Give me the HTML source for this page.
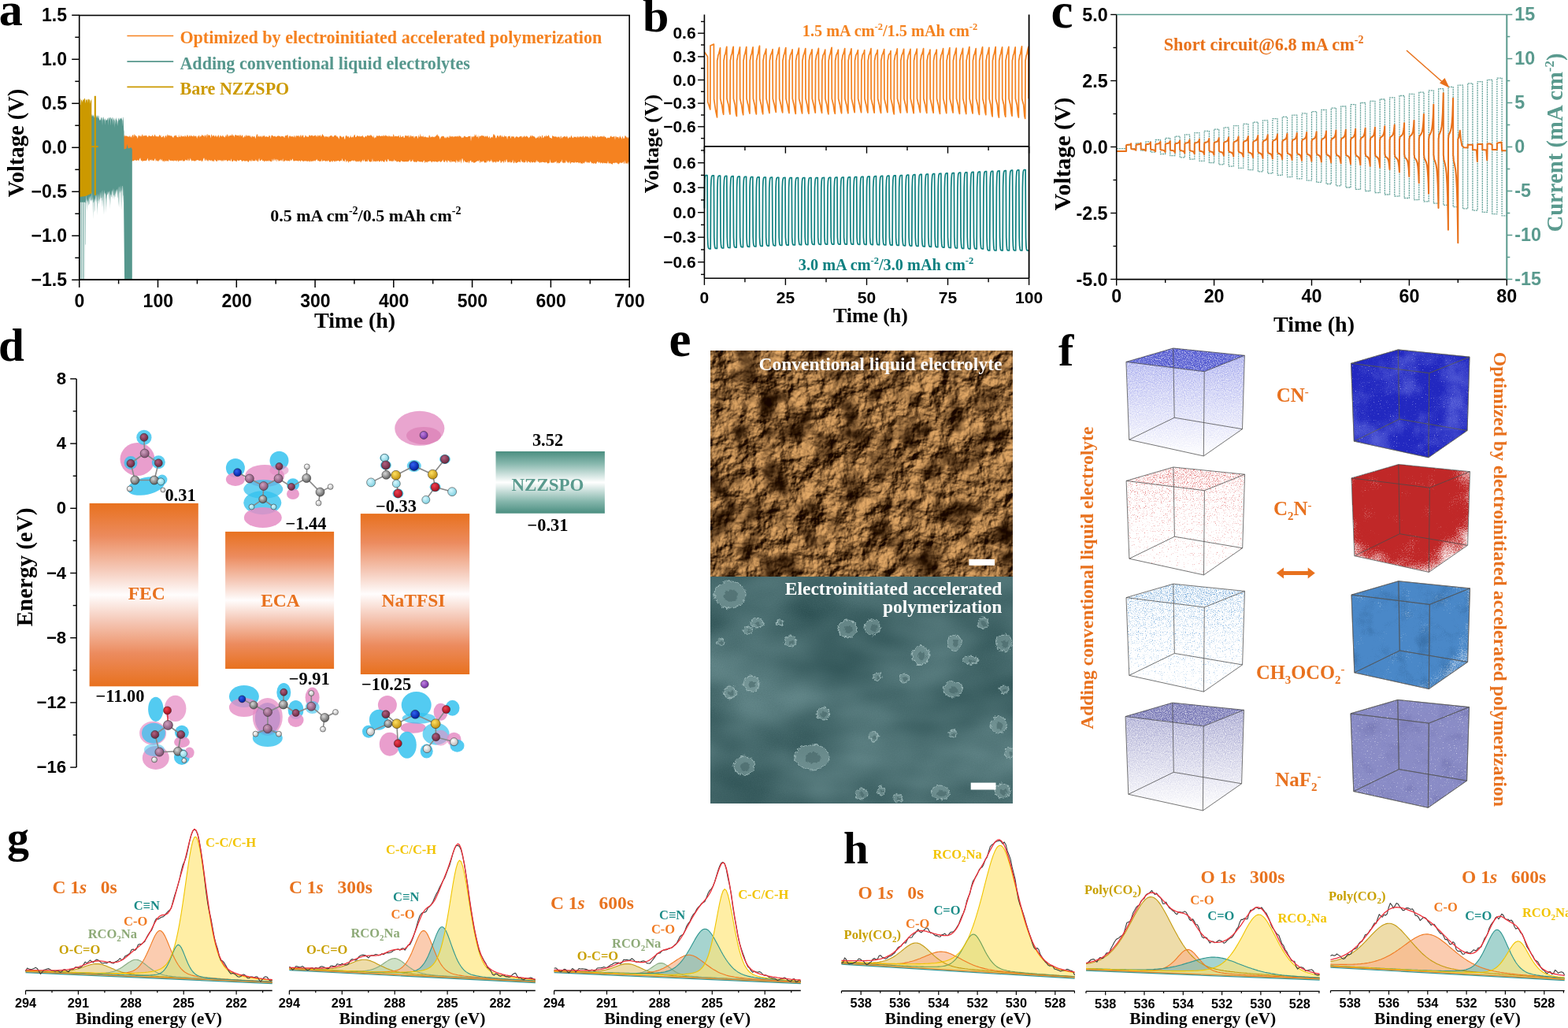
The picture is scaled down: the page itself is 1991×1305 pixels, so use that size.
<!DOCTYPE html>
<html><head><meta charset="utf-8"><title>Figure</title>
<style>html,body{margin:0;padding:0;background:#fff;} svg{display:block;}</style>
</head><body>
<svg width="1991" height="1305" viewBox="0 0 1991 1305">
<defs><radialGradient id="gO" cx="0.38" cy="0.35" r="0.65"><stop offset="0" stop-color="#B06080"/><stop offset="1" stop-color="#6A2840"/></radialGradient><radialGradient id="gOr" cx="0.38" cy="0.35" r="0.65"><stop offset="0" stop-color="#F04050"/><stop offset="1" stop-color="#A01020"/></radialGradient><radialGradient id="gC" cx="0.38" cy="0.35" r="0.65"><stop offset="0" stop-color="#D8D8D8"/><stop offset="1" stop-color="#606060"/></radialGradient><radialGradient id="gCp" cx="0.38" cy="0.35" r="0.65"><stop offset="0" stop-color="#D0A0C0"/><stop offset="1" stop-color="#805070"/></radialGradient><radialGradient id="gH" cx="0.38" cy="0.35" r="0.65"><stop offset="0" stop-color="#FFFFFF"/><stop offset="1" stop-color="#B8B8B8"/></radialGradient><radialGradient id="gN" cx="0.38" cy="0.35" r="0.65"><stop offset="0" stop-color="#3060F0"/><stop offset="1" stop-color="#0020A0"/></radialGradient><radialGradient id="gF" cx="0.38" cy="0.35" r="0.65"><stop offset="0" stop-color="#D8F8FF"/><stop offset="1" stop-color="#80D0E0"/></radialGradient><radialGradient id="gS" cx="0.38" cy="0.35" r="0.65"><stop offset="0" stop-color="#FFE060"/><stop offset="1" stop-color="#C09010"/></radialGradient><radialGradient id="gNa" cx="0.38" cy="0.35" r="0.65"><stop offset="0" stop-color="#C080E0"/><stop offset="1" stop-color="#7030A0"/></radialGradient><linearGradient id="barO" x1="0" y1="0" x2="0" y2="1"><stop offset="0" stop-color="#E8711E"/><stop offset="0.18" stop-color="#EC8B5E"/><stop offset="0.36" stop-color="#F5C9B8"/><stop offset="0.5" stop-color="#FFFDFD"/><stop offset="0.64" stop-color="#F5C9B8"/><stop offset="0.82" stop-color="#EC8B5E"/><stop offset="1" stop-color="#E8711E"/></linearGradient><linearGradient id="barT" x1="0" y1="0" x2="0" y2="1"><stop offset="0" stop-color="#4A8E80"/><stop offset="0.2" stop-color="#88B8AE"/><stop offset="0.5" stop-color="#FFFFFF"/><stop offset="0.8" stop-color="#88B8AE"/><stop offset="1" stop-color="#4A8E80"/></linearGradient><clipPath id="clipTop"><rect x="902.2" y="445.8" width="383.3" height="286.8"/></clipPath><clipPath id="clipBot"><rect x="902.2" y="732.6" width="383.3" height="287.2"/></clipPath><filter id="semTop" x="0" y="0" width="100%" height="100%" color-interpolation-filters="sRGB"><feTurbulence type="fractalNoise" baseFrequency="0.035" numOctaves="8" seed="9" result="n"/><feDiffuseLighting in="n" surfaceScale="10" diffuseConstant="0.88" lighting-color="#fff" result="lit"><feDistantLight azimuth="225" elevation="40"/></feDiffuseLighting><feTurbulence type="fractalNoise" baseFrequency="0.03" numOctaves="4" seed="4" result="n2"/><feColorMatrix in="n2" type="matrix" values="2.6 0 0 0 -0.36  2.6 0 0 0 -0.36  2.6 0 0 0 -0.36  0 0 0 0 1" result="shade"/><feComposite in="lit" in2="shade" operator="arithmetic" k1="1" k2="0" k3="0" k4="0" result="m"/><feColorMatrix in="m" type="matrix" values="0.92 0 0 0 0.09  0.74 0 0 0 0.02  0.50 0 0 0 -0.03  0 0 0 0 1"/></filter><filter id="semBot" x="0" y="0" width="100%" height="100%" color-interpolation-filters="sRGB"><feTurbulence type="fractalNoise" baseFrequency="0.007 0.012" numOctaves="3" seed="21" result="n"/><feTurbulence type="fractalNoise" baseFrequency="0.8" numOctaves="1" seed="2" result="g"/><feComposite in="n" in2="g" operator="arithmetic" k1="0" k2="1" k3="0.12" k4="-0.06" result="ng"/><feColorMatrix in="ng" type="matrix" values="0.32 0 0 0 0.145  0.32 0 0 0 0.285  0.32 0 0 0 0.295  0 0 0 0 1"/></filter><filter id="rough" x="-30%" y="-30%" width="160%" height="160%"><feTurbulence type="fractalNoise" baseFrequency="0.25" numOctaves="2" seed="3" result="t"/><feDisplacementMap in="SourceGraphic" in2="t" scale="6" xChannelSelector="R" yChannelSelector="G"/></filter><linearGradient id="cg1" x1="0" y1="0" x2="0" y2="1"><stop offset="0" stop-color="#7A80E4" stop-opacity="0.62"/><stop offset="0.3" stop-color="#7A80E4" stop-opacity="0.42"/><stop offset="1" stop-color="#7A80E4" stop-opacity="0.06"/></linearGradient><filter id="cf1" x="0" y="0" width="100%" height="100%" color-interpolation-filters="sRGB"><feTurbulence type="fractalNoise" baseFrequency="0.9" numOctaves="2" seed="11" result="t"/><feComposite in="SourceAlpha" in2="t" operator="arithmetic" k1="2.0" k2="0" k3="0" k4="-0.05" result="m"/><feComponentTransfer in="SourceGraphic" result="op"><feFuncA type="linear" slope="0" intercept="1"/></feComponentTransfer><feComposite in="op" in2="m" operator="in"/></filter><linearGradient id="cg2" x1="0" y1="0" x2="0" y2="1"><stop offset="0" stop-color="#2228C0" stop-opacity="1.0"/><stop offset="1" stop-color="#2228C0" stop-opacity="1.0"/></linearGradient><filter id="cf2" x="0" y="0" width="100%" height="100%" color-interpolation-filters="sRGB"><feTurbulence type="fractalNoise" baseFrequency="0.75" numOctaves="2" seed="12" result="t"/><feComposite in="SourceAlpha" in2="t" operator="arithmetic" k1="0" k2="3.0" k3="3.0" k4="-2.91" result="m"/><feComponentTransfer in="SourceGraphic" result="op"><feFuncA type="linear" slope="0" intercept="1"/></feComponentTransfer><feComposite in="op" in2="m" operator="in"/></filter><filter id="mt1" x="0" y="0" width="100%" height="100%" color-interpolation-filters="sRGB"><feTurbulence type="fractalNoise" baseFrequency="0.03" numOctaves="3" seed="31" result="t"/><feTurbulence type="fractalNoise" baseFrequency="0.9" numOctaves="1" seed="38" result="g"/><feComposite in="t" in2="g" operator="arithmetic" k1="0" k2="0.8" k3="0.35" k4="-0.06" result="tg"/><feColorMatrix in="tg" type="matrix" values="0 0 0 0 0  0 0 0 0 0  0 0 0 0 0  2.4 0 0 0 -0.88" result="a"/><feComposite in="SourceGraphic" in2="a" operator="in"/></filter><linearGradient id="cg3" x1="0" y1="0" x2="0" y2="1"><stop offset="0" stop-color="#D83838" stop-opacity="0.46"/><stop offset="0.5" stop-color="#D83838" stop-opacity="0.37"/><stop offset="1" stop-color="#D83838" stop-opacity="0.3"/></linearGradient><filter id="cf3" x="0" y="0" width="100%" height="100%" color-interpolation-filters="sRGB"><feTurbulence type="fractalNoise" baseFrequency="0.9" numOctaves="2" seed="13" result="t"/><feComposite in="SourceAlpha" in2="t" operator="arithmetic" k1="0" k2="2.4" k3="2.4" k4="-2.328" result="m"/><feComponentTransfer in="SourceGraphic" result="op"><feFuncA type="linear" slope="0" intercept="1"/></feComponentTransfer><feComposite in="op" in2="m" operator="in"/></filter><radialGradient id="cg4" cx="0.45" cy="0.35" r="0.75"><stop offset="0" stop-color="#C02828" stop-opacity="1.0"/><stop offset="0.55" stop-color="#C02828" stop-opacity="1.0"/><stop offset="1" stop-color="#C02828" stop-opacity="0.45"/></radialGradient><filter id="cf4" x="0" y="0" width="100%" height="100%" color-interpolation-filters="sRGB"><feTurbulence type="fractalNoise" baseFrequency="0.75" numOctaves="2" seed="14" result="t"/><feTurbulence type="fractalNoise" baseFrequency="0.04" numOctaves="2" seed="64" result="tl"/><feComposite in="t" in2="tl" operator="arithmetic" k1="0" k2="0.5" k3="0.5" k4="0" result="tt"/><feComposite in="SourceAlpha" in2="tt" operator="arithmetic" k1="0" k2="2.6" k3="2.6" k4="-2.522" result="m"/><feComponentTransfer in="SourceGraphic" result="op"><feFuncA type="linear" slope="0" intercept="1"/></feComponentTransfer><feComposite in="op" in2="m" operator="in"/></filter><linearGradient id="cg5" x1="0" y1="0" x2="0" y2="1"><stop offset="0" stop-color="#4A90D0" stop-opacity="0.52"/><stop offset="0.5" stop-color="#4A90D0" stop-opacity="0.41"/><stop offset="1" stop-color="#4A90D0" stop-opacity="0.31"/></linearGradient><filter id="cf5" x="0" y="0" width="100%" height="100%" color-interpolation-filters="sRGB"><feTurbulence type="fractalNoise" baseFrequency="0.9" numOctaves="2" seed="15" result="t"/><feComposite in="SourceAlpha" in2="t" operator="arithmetic" k1="0" k2="2.4" k3="2.4" k4="-2.328" result="m"/><feComponentTransfer in="SourceGraphic" result="op"><feFuncA type="linear" slope="0" intercept="1"/></feComponentTransfer><feComposite in="op" in2="m" operator="in"/></filter><radialGradient id="cg6" cx="0.4" cy="0.4" r="0.8"><stop offset="0" stop-color="#4A88C8" stop-opacity="1.0"/><stop offset="0.6" stop-color="#4A88C8" stop-opacity="1.0"/><stop offset="1" stop-color="#4A88C8" stop-opacity="0.6"/></radialGradient><filter id="cf6" x="0" y="0" width="100%" height="100%" color-interpolation-filters="sRGB"><feTurbulence type="fractalNoise" baseFrequency="0.75" numOctaves="2" seed="16" result="t"/><feTurbulence type="fractalNoise" baseFrequency="0.04" numOctaves="2" seed="66" result="tl"/><feComposite in="t" in2="tl" operator="arithmetic" k1="0" k2="0.44999999999999996" k3="0.55" k4="0" result="tt"/><feComposite in="SourceAlpha" in2="tt" operator="arithmetic" k1="0" k2="2.6" k3="2.6" k4="-2.522" result="m"/><feComponentTransfer in="SourceGraphic" result="op"><feFuncA type="linear" slope="0" intercept="1"/></feComponentTransfer><feComposite in="op" in2="m" operator="in"/></filter><filter id="mt2" x="0" y="0" width="100%" height="100%" color-interpolation-filters="sRGB"><feTurbulence type="fractalNoise" baseFrequency="0.04" numOctaves="3" seed="33" result="t"/><feTurbulence type="fractalNoise" baseFrequency="0.9" numOctaves="1" seed="40" result="g"/><feComposite in="t" in2="g" operator="arithmetic" k1="0" k2="0.8" k3="0.35" k4="-0.06" result="tg"/><feColorMatrix in="tg" type="matrix" values="0 0 0 0 0  0 0 0 0 0  0 0 0 0 0  2.2 0 0 0 -1.0" result="a"/><feComposite in="SourceGraphic" in2="a" operator="in"/></filter><linearGradient id="cg7" x1="0" y1="0" x2="0" y2="1"><stop offset="0" stop-color="#8080BC" stop-opacity="0.65"/><stop offset="0.4" stop-color="#8080BC" stop-opacity="0.4"/><stop offset="1" stop-color="#8080BC" stop-opacity="0.05"/></linearGradient><filter id="cf7" x="0" y="0" width="100%" height="100%" color-interpolation-filters="sRGB"><feTurbulence type="fractalNoise" baseFrequency="0.9" numOctaves="2" seed="17" result="t"/><feComposite in="SourceAlpha" in2="t" operator="arithmetic" k1="2.0" k2="0" k3="0" k4="-0.05" result="m"/><feComponentTransfer in="SourceGraphic" result="op"><feFuncA type="linear" slope="0" intercept="1"/></feComponentTransfer><feComposite in="op" in2="m" operator="in"/></filter><radialGradient id="cg8" cx="0.5" cy="0.45" r="0.8"><stop offset="0" stop-color="#8A8CC6" stop-opacity="1.0"/><stop offset="0.6" stop-color="#8A8CC6" stop-opacity="0.95"/><stop offset="1" stop-color="#8A8CC6" stop-opacity="0.75"/></radialGradient><filter id="cf8" x="0" y="0" width="100%" height="100%" color-interpolation-filters="sRGB"><feTurbulence type="fractalNoise" baseFrequency="0.75" numOctaves="2" seed="18" result="t"/><feComposite in="SourceAlpha" in2="t" operator="arithmetic" k1="0" k2="3.0" k3="3.0" k4="-2.91" result="m"/><feComponentTransfer in="SourceGraphic" result="op"><feFuncA type="linear" slope="0" intercept="1"/></feComponentTransfer><feComposite in="op" in2="m" operator="in"/></filter><filter id="mt3" x="0" y="0" width="100%" height="100%" color-interpolation-filters="sRGB"><feTurbulence type="fractalNoise" baseFrequency="0.035" numOctaves="3" seed="35" result="t"/><feTurbulence type="fractalNoise" baseFrequency="0.9" numOctaves="1" seed="42" result="g"/><feComposite in="t" in2="g" operator="arithmetic" k1="0" k2="0.8" k3="0.35" k4="-0.06" result="tg"/><feColorMatrix in="tg" type="matrix" values="0 0 0 0 0  0 0 0 0 0  0 0 0 0 0  2.2 0 0 0 -1.0" result="a"/><feComposite in="SourceGraphic" in2="a" operator="in"/></filter></defs>
<rect width="1991" height="1305" fill="#fff"/>
<path d="M156.6 172.5 L157.3 173.5 L158 170.8 L158.7 172.9 L159.4 172.7 L160.1 172.1 L160.8 173 L161.5 172.8 L162.2 172.9 L162.9 174 L163.6 173.3 L164.3 173.4 L165 171.5 L165.7 174.5 L166.4 173 L167.1 174.9 L167.8 171.8 L168.5 171.5 L169.2 171.1 L169.9 174.5 L170.6 170.3 L171.2 170.8 L171.9 172.5 L172.6 172.2 L173.3 173.1 L174 173.5 L174.7 175.9 L175.4 173.5 L176.1 171.3 L176.8 172.2 L177.5 173.2 L178.2 171.4 L178.9 173.8 L179.6 172.9 L180.3 171.3 L181 170.3 L181.7 173.5 L182.4 171.9 L183.1 172.7 L183.8 171.8 L184.5 172.4 L185.2 172.1 L185.9 171.5 L186.6 173.2 L187.3 173.5 L188 174.3 L188.7 171.9 L189.4 172 L190.1 172.4 L190.8 173.1 L191.5 173.1 L192.2 172.4 L192.9 173.3 L193.6 170.7 L194.3 172.4 L195 173.5 L195.7 172.8 L196.4 170.6 L197.1 171.4 L197.8 173.2 L198.5 173.2 L199.2 172.6 L199.9 173.8 L200.6 173.3 L201.3 173.6 L202 172.2 L202.7 170.8 L203.4 173.1 L204.1 171.1 L204.8 174.6 L205.5 174 L206.2 174.2 L206.9 172.4 L207.6 172.6 L208.3 173.4 L209 175.7 L209.7 172.7 L210.4 172.3 L211.1 172 L211.8 174.5 L212.5 170.3 L213.2 171.4 L213.9 172.8 L214.6 171 L215.3 172.5 L216 172.1 L216.7 172.7 L217.3 172 L218 172.7 L218.7 173.4 L219.4 174 L220.1 175.2 L220.8 173.1 L221.5 172.1 L222.2 172.8 L222.9 171.7 L223.6 171.5 L224.3 173 L225 174.2 L225.7 173.9 L226.4 174.4 L227.1 170.5 L227.8 174.2 L228.5 172.9 L229.2 174.5 L229.9 171.1 L230.6 173 L231.3 172.8 L232 173.8 L232.7 172.8 L233.4 173.4 L234.1 171.5 L234.8 174.3 L235.5 171.5 L236.2 173.7 L236.9 173.4 L237.6 171.2 L238.3 171.3 L239 173.7 L239.7 173.4 L240.4 171.4 L241.1 172.6 L241.8 173.4 L242.5 171.1 L243.2 173.1 L243.9 172.6 L244.6 173.6 L245.3 171.4 L246 174.1 L246.7 171.4 L247.4 173 L248.1 173.3 L248.8 172 L249.5 173.5 L250.2 176.1 L250.9 172.3 L251.6 173.7 L252.3 171.9 L253 171.5 L253.7 174.6 L254.4 173.2 L255.1 171.9 L255.8 173.4 L256.5 170.6 L257.2 172.3 L257.9 171.6 L258.6 173.6 L259.3 170.8 L260 174.2 L260.7 172.1 L261.4 172.1 L262.1 170 L262.8 174.9 L263.5 169.9 L264.1 170.8 L264.8 172.4 L265.5 171.3 L266.2 171.6 L266.9 172.5 L267.6 175.4 L268.3 170.7 L269 170.7 L269.7 173.4 L270.4 172.4 L271.1 171.6 L271.8 172.1 L272.5 173.8 L273.2 172.7 L273.9 171.3 L274.6 173.2 L275.3 174.2 L276 171.5 L276.7 173.8 L277.4 170.8 L278.1 172.8 L278.8 174.9 L279.5 172.2 L280.2 171.5 L280.9 172.9 L281.6 173.5 L282.3 172.6 L283 171.3 L283.7 173.4 L284.4 173.4 L285.1 173.8 L285.8 174.8 L286.5 171.2 L287.2 173.7 L287.9 171.3 L288.6 170.2 L289.3 171.9 L290 174.1 L290.7 171.8 L291.4 172.8 L292.1 172.1 L292.8 171.6 L293.5 172.5 L294.2 171.5 L294.9 169.7 L295.6 172.6 L296.3 172.3 L297 171.4 L297.7 174.6 L298.4 171.4 L299.1 171 L299.8 171.3 L300.5 172.3 L301.2 172.3 L301.9 171.5 L302.6 172.4 L303.3 171.1 L304 173.7 L304.7 171.2 L305.4 170.9 L306.1 173.1 L306.8 172.7 L307.5 171.1 L308.2 172.2 L308.9 175.1 L309.6 174.3 L310.3 173.3 L310.9 171.8 L311.6 174.2 L312.3 171 L313 171.8 L313.7 173.5 L314.4 171.6 L315.1 172.8 L315.8 172.1 L316.5 172 L317.2 173.7 L317.9 171.4 L318.6 174 L319.3 174.7 L320 172.2 L320.7 173 L321.4 174 L322.1 172.7 L322.8 173.8 L323.5 172.8 L324.2 176.3 L324.9 174.1 L325.6 171.7 L326.3 170 L327 171.1 L327.7 174 L328.4 173.1 L329.1 172 L329.8 174 L330.5 173.4 L331.2 172.1 L331.9 173.2 L332.6 174.4 L333.3 171.8 L334 173.8 L334.7 172.3 L335.4 171.9 L336.1 172.4 L336.8 174.2 L337.5 173.2 L338.2 173.4 L338.9 173.1 L339.6 173.8 L340.3 174 L341 173.7 L341.7 171.7 L342.4 172.3 L343.1 173 L343.8 176.2 L344.5 171.9 L345.2 171.6 L345.9 172 L346.6 172.4 L347.3 173 L348 173.5 L348.7 172.5 L349.4 172.5 L350.1 174 L350.8 173.6 L351.5 173.4 L352.2 172.2 L352.9 173.1 L353.6 171.8 L354.3 173.4 L355 171.9 L355.7 173.1 L356.4 173.9 L357 173.3 L357.7 172.4 L358.4 172.7 L359.1 173.5 L359.8 173.1 L360.5 173.7 L361.2 175.2 L361.9 172.6 L362.6 171.9 L363.3 172.4 L364 172.1 L364.7 171.2 L365.4 171.1 L366.1 175.9 L366.8 173.3 L367.5 172.8 L368.2 171.8 L368.9 173.7 L369.6 172.8 L370.3 173.8 L371 172.8 L371.7 173.3 L372.4 174.2 L373.1 171.6 L373.8 174.8 L374.5 171.6 L375.2 175.1 L375.9 172.6 L376.6 171.9 L377.3 173.1 L378 171.9 L378.7 172.5 L379.4 171.9 L380.1 174.5 L380.8 172.4 L381.5 171 L382.2 174.6 L382.9 170.8 L383.6 173.2 L384.3 172.1 L385 170.9 L385.7 174.5 L386.4 174.5 L387.1 173.7 L387.8 171.3 L388.5 172.6 L389.2 173.1 L389.9 174.1 L390.6 173.3 L391.3 174.1 L392 173.2 L392.7 171.2 L393.4 171.8 L394.1 171.9 L394.8 173.1 L395.5 171.2 L396.2 172.5 L396.9 171.2 L397.6 173.3 L398.3 172.4 L399 172.3 L399.7 172.2 L400.4 171.4 L401.1 171.9 L401.8 174.1 L402.5 172.4 L403.2 170.9 L403.8 174.2 L404.5 171.6 L405.2 172.6 L405.9 172.4 L406.6 170.8 L407.3 173.3 L408 173.5 L408.7 171.5 L409.4 169.8 L410.1 171.8 L410.8 171.9 L411.5 173 L412.2 174.7 L412.9 172.5 L413.6 173.6 L414.3 173.3 L415 173.3 L415.7 174.1 L416.4 172.8 L417.1 174.9 L417.8 173.2 L418.5 173.3 L419.2 172.3 L419.9 172.3 L420.6 172.2 L421.3 171.6 L422 174 L422.7 173.1 L423.4 173.9 L424.1 172.4 L424.8 171.4 L425.5 172.6 L426.2 171.1 L426.9 172.4 L427.6 173.5 L428.3 173.1 L429 174.2 L429.7 174.8 L430.4 176.8 L431.1 173.4 L431.8 172 L432.5 172.7 L433.2 173 L433.9 174.3 L434.6 174.5 L435.3 173.6 L436 173.1 L436.7 173.6 L437.4 176.2 L438.1 177 L438.8 172.3 L439.5 172.5 L440.2 171.5 L440.9 173.8 L441.6 173.5 L442.3 172.8 L443 173.8 L443.7 175.4 L444.4 174 L445.1 171.6 L445.8 174.1 L446.5 174.6 L447.2 174.2 L447.9 173.1 L448.6 174.7 L449.3 171.9 L450 171.6 L450.6 170.6 L451.3 174.6 L452 173.6 L452.7 173.7 L453.4 172 L454.1 172.1 L454.8 173.2 L455.5 173.2 L456.2 172 L456.9 173.8 L457.6 173.1 L458.3 173.3 L459 173.3 L459.7 172.5 L460.4 171.5 L461.1 174.3 L461.8 173 L462.5 175 L463.2 174 L463.9 172.9 L464.6 172.2 L465.3 174 L466 172.4 L466.7 171.5 L467.4 171.7 L468.1 172.5 L468.8 172.5 L469.5 171.7 L470.2 172.5 L470.9 170.5 L471.6 171.9 L472.3 172.8 L473 173.1 L473.7 174.7 L474.4 171.4 L475.1 175.9 L475.8 174.3 L476.5 174.6 L477.2 174.7 L477.9 173.1 L478.6 172 L479.3 172.3 L480 173.2 L480.7 172.4 L481.4 171.8 L482.1 172.2 L482.8 173.3 L483.5 172.7 L484.2 172.6 L484.9 172.6 L485.6 172.9 L486.3 172.4 L487 171 L487.7 173.6 L488.4 172.1 L489.1 172.7 L489.8 170.9 L490.5 172.8 L491.2 172.6 L491.9 172.5 L492.6 173.8 L493.3 171.6 L494 174.1 L494.7 172.2 L495.4 172.5 L496.1 173.5 L496.7 173.8 L497.4 172.6 L498.1 172.9 L498.8 174.1 L499.5 169.9 L500.2 171.4 L500.9 174 L501.6 172.4 L502.3 173.1 L503 172.4 L503.7 173.2 L504.4 173.2 L505.1 172.5 L505.8 173.3 L506.5 171.3 L507.2 174.8 L507.9 173.9 L508.6 171 L509.3 173.7 L510 174.2 L510.7 173.5 L511.4 172.8 L512.1 172.5 L512.8 175 L513.5 174.9 L514.2 172.6 L514.9 171.4 L515.6 172.6 L516.3 172.6 L517 172.5 L517.7 172.6 L518.4 171.7 L519.1 174.9 L519.8 171.1 L520.5 174.5 L521.2 172.5 L521.9 171.3 L522.6 173.6 L523.3 173 L524 173.6 L524.7 172 L525.4 174.1 L526.1 175.7 L526.8 172.5 L527.5 173.8 L528.2 172.6 L528.9 173.1 L529.6 173 L530.3 176.2 L531 174 L531.7 170.9 L532.4 174.5 L533.1 173.1 L533.8 169.5 L534.5 173.4 L535.2 173.5 L535.9 172.3 L536.6 174.1 L537.3 171.8 L538 174.6 L538.7 173.7 L539.4 173.4 L540.1 173.6 L540.8 173.7 L541.5 174.5 L542.2 174.5 L542.9 173.7 L543.5 175.1 L544.2 174.6 L544.9 171.5 L545.6 171.8 L546.3 175 L547 172.9 L547.7 174.1 L548.4 174.2 L549.1 172.8 L549.8 173.7 L550.5 174.3 L551.2 173.3 L551.9 174.6 L552.6 173.3 L553.3 172.6 L554 172.4 L554.7 170.9 L555.4 170.3 L556.1 173.2 L556.8 171.7 L557.5 173.3 L558.2 174.9 L558.9 176.9 L559.6 174.3 L560.3 173.7 L561 172.4 L561.7 173.5 L562.4 172.2 L563.1 173.4 L563.8 172.7 L564.5 175.8 L565.2 173.3 L565.9 175.8 L566.6 175.1 L567.3 173.9 L568 172.9 L568.7 174.4 L569.4 175.2 L570.1 172 L570.8 175.3 L571.5 171.7 L572.2 173.4 L572.9 173.5 L573.6 173.2 L574.3 173.3 L575 172.8 L575.7 174.5 L576.4 172.8 L577.1 174 L577.8 172.9 L578.5 173.1 L579.2 172.9 L579.9 173.7 L580.6 173 L581.3 172.2 L582 174.2 L582.7 172.6 L583.4 172.1 L584.1 173.6 L584.8 172.8 L585.5 173.5 L586.2 175.4 L586.9 174.2 L587.6 174.6 L588.3 175 L589 172.9 L589.7 172.8 L590.3 172.6 L591 174.1 L591.7 173.5 L592.4 174.1 L593.1 174.2 L593.8 173.7 L594.5 173.2 L595.2 173.1 L595.9 172.7 L596.6 173.1 L597.3 172.2 L598 179.5 L598.7 173.3 L599.4 172.9 L600.1 174.7 L600.8 173.1 L601.5 173.3 L602.2 173.6 L602.9 169.9 L603.6 173.1 L604.3 170.3 L605 173.3 L605.7 174 L606.4 173.7 L607.1 170.9 L607.8 176.2 L608.5 173.3 L609.2 173.1 L609.9 172 L610.6 173.4 L611.3 171.9 L612 171.8 L612.7 172.2 L613.4 173.1 L614.1 171.8 L614.8 173.1 L615.5 173.9 L616.2 173.1 L616.9 172.3 L617.6 174.1 L618.3 172.8 L619 172.1 L619.7 174 L620.4 175.2 L621.1 173.5 L621.8 173 L622.5 176 L623.2 175.1 L623.9 173.4 L624.6 174.2 L625.3 174.7 L626 172.6 L626.7 170 L627.4 170.5 L628.1 171.7 L628.8 172.2 L629.5 175.2 L630.2 175.4 L630.9 172.9 L631.6 172 L632.3 172.1 L633 173.1 L633.7 174.4 L634.4 171.8 L635.1 172.5 L635.8 171.1 L636.4 174.8 L637.1 171.3 L637.8 173.6 L638.5 173.8 L639.2 173.2 L639.9 174.4 L640.6 171.4 L641.3 173.3 L642 173.3 L642.7 172.7 L643.4 173.8 L644.1 177 L644.8 173.2 L645.5 173.1 L646.2 173 L646.9 172.8 L647.6 172.2 L648.3 175.9 L649 174.1 L649.7 173 L650.4 173 L651.1 173.7 L651.8 173.3 L652.5 172.9 L653.2 174.5 L653.9 175.7 L654.6 173.7 L655.3 172.9 L656 173.8 L656.7 173.3 L657.4 173.7 L658.1 174.7 L658.8 174.3 L659.5 173.5 L660.2 173.5 L660.9 172.5 L661.6 173.2 L662.3 172.6 L663 175.5 L663.7 173.6 L664.4 173.3 L665.1 174.2 L665.8 171.7 L666.5 173.2 L667.2 173.7 L667.9 173.4 L668.6 172.2 L669.3 173 L670 173.8 L670.7 174.3 L671.4 175.5 L672.1 174.2 L672.8 174 L673.5 171.7 L674.2 172.2 L674.9 174.1 L675.6 171.2 L676.3 172.4 L677 173.3 L677.7 173.1 L678.4 173 L679.1 174.5 L679.8 174.3 L680.5 176 L681.2 175.2 L681.9 174.3 L682.6 174.9 L683.2 173.2 L683.9 173 L684.6 175.9 L685.3 171.9 L686 173 L686.7 173.4 L687.4 175.8 L688.1 172.3 L688.8 171.3 L689.5 175.3 L690.2 174.8 L690.9 173.5 L691.6 172.5 L692.3 172.8 L693 174.1 L693.7 170.9 L694.4 173.2 L695.1 172.8 L695.8 172.8 L696.5 171.1 L697.2 172.4 L697.9 174.5 L698.6 174.9 L699.3 174.8 L700 175.5 L700.7 175.9 L701.4 171.7 L702.1 172.6 L702.8 172.9 L703.5 173.5 L704.2 172.9 L704.9 174.1 L705.6 173 L706.3 173.7 L707 173.4 L707.7 175.1 L708.4 172.9 L709.1 174.6 L709.8 173.3 L710.5 173.8 L711.2 176.6 L711.9 172.5 L712.6 172.7 L713.3 175.7 L714 174.7 L714.7 173.6 L715.4 174.2 L716.1 172.4 L716.8 173.7 L717.5 172.6 L718.2 174.1 L718.9 174.3 L719.6 172.2 L720.3 173.3 L721 174.7 L721.7 176.1 L722.4 174.4 L723.1 173.2 L723.8 174.9 L724.5 174.4 L725.2 171.5 L725.9 173 L726.6 173.9 L727.3 175.3 L728 174.9 L728.7 173.3 L729.4 173.5 L730 174.2 L730.7 174 L731.4 173.1 L732.1 175.2 L732.8 174.1 L733.5 173.1 L734.2 173.2 L734.9 174.9 L735.6 174.1 L736.3 173 L737 173.4 L737.7 173.7 L738.4 173.3 L739.1 174.7 L739.8 172.9 L740.5 172.3 L741.2 173.6 L741.9 175.2 L742.6 173.7 L743.3 172.4 L744 173.8 L744.7 173.3 L745.4 173.2 L746.1 173.9 L746.8 173.1 L747.5 174.4 L748.2 175.8 L748.9 172.6 L749.6 173.5 L750.3 173.7 L751 176.2 L751.7 173 L752.4 171.5 L753.1 173.5 L753.8 172.8 L754.5 173.8 L755.2 171.6 L755.9 173.8 L756.6 173.8 L757.3 174.5 L758 174.4 L758.7 171.8 L759.4 174.6 L760.1 173.6 L760.8 173.4 L761.5 174.1 L762.2 172.8 L762.9 173.1 L763.6 173.5 L764.3 172.5 L765 173.9 L765.7 173.5 L766.4 171.9 L767.1 174.5 L767.8 172.2 L768.5 174 L769.2 174.1 L769.9 175 L770.6 175.9 L771.3 174.8 L772 174.5 L772.7 174.8 L773.4 175.3 L774.1 174.9 L774.8 173.5 L775.5 172.7 L776.1 172.2 L776.8 174 L777.5 174 L778.2 173.2 L778.9 174 L779.6 173 L780.3 172.7 L781 177.7 L781.7 172.6 L782.4 173.1 L783.1 174.7 L783.8 174 L784.5 173.8 L785.2 174.1 L785.9 176.2 L786.6 173.8 L787.3 171.9 L788 174.5 L788.7 174.2 L789.4 176.9 L790.1 173.9 L790.8 172.7 L791.5 175.8 L792.2 176 L792.9 175.2 L793.6 172.1 L794.3 172.5 L795 173.3 L795.7 174.7 L796.4 173.6 L797.1 176 L797.8 174.4 L798.5 173.8 L799.2 174.7 L799.2 206.6 L798.5 205 L797.8 208.9 L797.1 205.6 L796.4 207.9 L795.7 207.2 L795 207.4 L794.3 207.7 L793.6 203.2 L792.9 208.3 L792.2 207.4 L791.5 204.8 L790.8 206.8 L790.1 206.3 L789.4 207 L788.7 206.4 L788 207.5 L787.3 205.7 L786.6 207.6 L785.9 207.8 L785.2 208.8 L784.5 207.4 L783.8 207.6 L783.1 206.2 L782.4 206.7 L781.7 206.4 L781 206.5 L780.3 207.4 L779.6 206.4 L778.9 207.1 L778.2 207.2 L777.5 209.1 L776.8 208.3 L776.1 207.8 L775.5 207.7 L774.8 207 L774.1 207.4 L773.4 207.5 L772.7 207.2 L772 204 L771.3 207.2 L770.6 207.4 L769.9 207 L769.2 207.6 L768.5 206.7 L767.8 207.5 L767.1 206.7 L766.4 206.6 L765.7 207.9 L765 206.2 L764.3 207.5 L763.6 206.1 L762.9 207.3 L762.2 207.5 L761.5 205.2 L760.8 206.6 L760.1 206.9 L759.4 205.2 L758.7 205.2 L758 205.7 L757.3 207.4 L756.6 208.2 L755.9 206.5 L755.2 208.3 L754.5 206.5 L753.8 207.9 L753.1 207.6 L752.4 206.7 L751.7 207.8 L751 206.6 L750.3 205.8 L749.6 204.3 L748.9 206.8 L748.2 206.4 L747.5 206.5 L746.8 205.5 L746.1 207.5 L745.4 205.5 L744.7 206.7 L744 203.9 L743.3 206 L742.6 205.4 L741.9 207.7 L741.2 207 L740.5 206.3 L739.8 208 L739.1 207.6 L738.4 207.3 L737.7 207.8 L737 206.7 L736.3 205.7 L735.6 207.2 L734.9 207.3 L734.2 205.7 L733.5 206.3 L732.8 205.9 L732.1 206.2 L731.4 206.8 L730.7 205.5 L730 205.7 L729.4 206.9 L728.7 206.8 L728 206.1 L727.3 206.4 L726.6 206 L725.9 206.1 L725.2 206.6 L724.5 208.3 L723.8 206.4 L723.1 204.3 L722.4 207.4 L721.7 205.6 L721 207.6 L720.3 205.6 L719.6 205.6 L718.9 202.9 L718.2 206.2 L717.5 207.1 L716.8 205.8 L716.1 207.4 L715.4 206.7 L714.7 206.1 L714 207.1 L713.3 202.3 L712.6 206.1 L711.9 204.7 L711.2 206.7 L710.5 207 L709.8 206.7 L709.1 207.7 L708.4 206 L707.7 206.4 L707 208 L706.3 204.1 L705.6 206.1 L704.9 205.1 L704.2 206.3 L703.5 206.6 L702.8 206.4 L702.1 206.4 L701.4 206.7 L700.7 206.8 L700 206.3 L699.3 206.7 L698.6 202 L697.9 207.3 L697.2 206.2 L696.5 207.4 L695.8 207 L695.1 207.7 L694.4 206.2 L693.7 205.8 L693 205.5 L692.3 206.7 L691.6 206.6 L690.9 205.8 L690.2 205.9 L689.5 206.1 L688.8 205.3 L688.1 206.1 L687.4 206.5 L686.7 205.5 L686 206.6 L685.3 207 L684.6 205.9 L683.9 204.8 L683.2 206.2 L682.6 204 L681.9 206.3 L681.2 202.8 L680.5 205.4 L679.8 206.7 L679.1 205.4 L678.4 206.8 L677.7 205 L677 206.4 L676.3 205.8 L675.6 206.8 L674.9 205.8 L674.2 204.8 L673.5 207.2 L672.8 205.9 L672.1 205.8 L671.4 205.3 L670.7 204.6 L670 205.8 L669.3 206.9 L668.6 205.3 L667.9 203 L667.2 206 L666.5 206.1 L665.8 205.8 L665.1 207.2 L664.4 205.2 L663.7 205.7 L663 205.8 L662.3 204.9 L661.6 201.9 L660.9 206.6 L660.2 205.7 L659.5 205.6 L658.8 205.3 L658.1 205.6 L657.4 206.2 L656.7 206.1 L656 207 L655.3 207 L654.6 206.5 L653.9 204.3 L653.2 206.5 L652.5 207.5 L651.8 206.3 L651.1 202.4 L650.4 205.7 L649.7 206.1 L649 206.5 L648.3 206.6 L647.6 204.2 L646.9 206.6 L646.2 206 L645.5 205.8 L644.8 204.9 L644.1 206.9 L643.4 202.3 L642.7 202.8 L642 206.2 L641.3 205.4 L640.6 203 L639.9 207.6 L639.2 205.5 L638.5 205 L637.8 204.3 L637.1 206 L636.4 206.5 L635.8 206.9 L635.1 203.7 L634.4 203.2 L633.7 205.3 L633 205.6 L632.3 205.2 L631.6 205.8 L630.9 204.2 L630.2 205.8 L629.5 206.9 L628.8 204.9 L628.1 205.5 L627.4 205.8 L626.7 205.2 L626 207 L625.3 205.2 L624.6 205 L623.9 201.9 L623.2 204.9 L622.5 204.1 L621.8 206.3 L621.1 204.7 L620.4 203.4 L619.7 204.6 L619 206.3 L618.3 203.2 L617.6 206.8 L616.9 205.9 L616.2 206.5 L615.5 206.7 L614.8 205.4 L614.1 205.2 L613.4 204 L612.7 205.1 L612 205.9 L611.3 205.6 L610.6 204.3 L609.9 207.1 L609.2 206.3 L608.5 202.7 L607.8 204.8 L607.1 204.7 L606.4 203.9 L605.7 204.8 L605 205.1 L604.3 205.6 L603.6 206.1 L602.9 206.5 L602.2 206.6 L601.5 207 L600.8 205.2 L600.1 205.7 L599.4 205.8 L598.7 205.9 L598 203.3 L597.3 204.2 L596.6 204.6 L595.9 206.5 L595.2 207.6 L594.5 204 L593.8 206.7 L593.1 205.7 L592.4 206.2 L591.7 205.6 L591 205.6 L590.3 205.7 L589.7 203.2 L589 204.6 L588.3 207 L587.6 202 L586.9 200.8 L586.2 203.8 L585.5 207.7 L584.8 205 L584.1 202.1 L583.4 205.7 L582.7 205.7 L582 205.8 L581.3 203.7 L580.6 207.3 L579.9 202.5 L579.2 204.7 L578.5 207.3 L577.8 205.3 L577.1 205.1 L576.4 205.6 L575.7 204.6 L575 205.4 L574.3 205.1 L573.6 206.3 L572.9 203.1 L572.2 206.4 L571.5 205.4 L570.8 205.6 L570.1 203.5 L569.4 204.4 L568.7 203 L568 206.7 L567.3 205.5 L566.6 204.5 L565.9 202.9 L565.2 204.9 L564.5 205.9 L563.8 205.3 L563.1 205.6 L562.4 202.3 L561.7 204.3 L561 204.5 L560.3 205.5 L559.6 205.7 L558.9 205.7 L558.2 204.1 L557.5 204.9 L556.8 204.6 L556.1 205.8 L555.4 205.7 L554.7 205 L554 206 L553.3 204.9 L552.6 204.6 L551.9 205.5 L551.2 205.5 L550.5 204.7 L549.8 205.3 L549.1 204.5 L548.4 206.5 L547.7 205.8 L547 204.4 L546.3 204.5 L545.6 204.3 L544.9 205.5 L544.2 204.8 L543.5 205.1 L542.9 205.6 L542.2 206.6 L541.5 205.8 L540.8 204.7 L540.1 206.2 L539.4 207.1 L538.7 203.3 L538 204.2 L537.3 205.3 L536.6 206.3 L535.9 205.1 L535.2 205.7 L534.5 204.9 L533.8 206 L533.1 204.7 L532.4 205.5 L531.7 204.6 L531 205.6 L530.3 203.8 L529.6 205.4 L528.9 205.5 L528.2 206.3 L527.5 204.9 L526.8 205.7 L526.1 205.4 L525.4 205.3 L524.7 204.9 L524 201.9 L523.3 204.3 L522.6 204.7 L521.9 205.3 L521.2 205.2 L520.5 202.3 L519.8 204.4 L519.1 203.8 L518.4 205.5 L517.7 204.9 L517 205.6 L516.3 204.7 L515.6 205.4 L514.9 205 L514.2 204.9 L513.5 205.4 L512.8 205.2 L512.1 205.2 L511.4 204.9 L510.7 204.7 L510 204.8 L509.3 203.6 L508.6 205.6 L507.9 205.9 L507.2 205.4 L506.5 205.2 L505.8 205.1 L505.1 204.6 L504.4 205.8 L503.7 205.4 L503 204.2 L502.3 203.8 L501.6 205.2 L500.9 202.1 L500.2 203.9 L499.5 204.4 L498.8 205.6 L498.1 203.7 L497.4 205 L496.7 204.2 L496.1 205.1 L495.4 204.1 L494.7 204.3 L494 205 L493.3 202.2 L492.6 201.8 L491.9 204.5 L491.2 205.8 L490.5 205 L489.8 203.7 L489.1 202.5 L488.4 205.7 L487.7 205.8 L487 205 L486.3 205.2 L485.6 203.8 L484.9 204.3 L484.2 205.8 L483.5 203.6 L482.8 204.8 L482.1 205 L481.4 205.7 L480.7 203.8 L480 204.4 L479.3 205 L478.6 204.1 L477.9 205.7 L477.2 204.5 L476.5 205 L475.8 204.4 L475.1 204.9 L474.4 204.3 L473.7 206.2 L473 200.9 L472.3 204.8 L471.6 205 L470.9 206 L470.2 204.9 L469.5 205.4 L468.8 204.9 L468.1 203.9 L467.4 201.9 L466.7 205.3 L466 204.9 L465.3 204.6 L464.6 205.5 L463.9 204.6 L463.2 205.1 L462.5 202.1 L461.8 204.8 L461.1 204.5 L460.4 202.2 L459.7 205.6 L459 203.6 L458.3 206.5 L457.6 205.8 L456.9 203.8 L456.2 205.5 L455.5 204.2 L454.8 205.7 L454.1 204.7 L453.4 204.4 L452.7 205.9 L452 204.2 L451.3 204.8 L450.6 204.8 L450 203.1 L449.3 204.1 L448.6 204.8 L447.9 204.1 L447.2 203.3 L446.5 204.3 L445.8 204.4 L445.1 205.1 L444.4 204.9 L443.7 204.8 L443 204.9 L442.3 207.1 L441.6 204.6 L440.9 203.9 L440.2 205.1 L439.5 206.3 L438.8 201.8 L438.1 203.9 L437.4 205.6 L436.7 203.8 L436 204.8 L435.3 204.6 L434.6 200.8 L433.9 204 L433.2 204.2 L432.5 203.4 L431.8 205 L431.1 204.7 L430.4 204.6 L429.7 203.8 L429 203.9 L428.3 204.3 L427.6 204.5 L426.9 204.9 L426.2 203.8 L425.5 205.3 L424.8 205.4 L424.1 204.3 L423.4 203.7 L422.7 205.1 L422 206 L421.3 204.1 L420.6 204.3 L419.9 206.1 L419.2 205 L418.5 205.7 L417.8 204.9 L417.1 203.4 L416.4 203.8 L415.7 204.7 L415 204.9 L414.3 203.8 L413.6 205 L412.9 204.5 L412.2 204 L411.5 203.4 L410.8 204.4 L410.1 203.9 L409.4 205.3 L408.7 201.7 L408 205.5 L407.3 203.9 L406.6 205.1 L405.9 204.5 L405.2 204.9 L404.5 204.1 L403.8 203.6 L403.2 204.7 L402.5 201.6 L401.8 203.8 L401.1 202.6 L400.4 205 L399.7 203.4 L399 204.9 L398.3 203.6 L397.6 204.7 L396.9 204.5 L396.2 204.6 L395.5 205.1 L394.8 204.9 L394.1 203.6 L393.4 206.3 L392.7 204.1 L392 205.6 L391.3 204 L390.6 205.3 L389.9 204.1 L389.2 205.3 L388.5 204.1 L387.8 204.8 L387.1 203.9 L386.4 204.4 L385.7 204.4 L385 205.6 L384.3 204.2 L383.6 204.1 L382.9 203.5 L382.2 203.7 L381.5 205.6 L380.8 203.9 L380.1 204 L379.4 203.8 L378.7 205.3 L378 204.1 L377.3 204 L376.6 204.3 L375.9 203.8 L375.2 204.1 L374.5 204.3 L373.8 204.5 L373.1 204.2 L372.4 204.6 L371.7 201.2 L371 202.4 L370.3 203.8 L369.6 204 L368.9 201.9 L368.2 204.4 L367.5 204.7 L366.8 203.7 L366.1 204.2 L365.4 204.6 L364.7 204.3 L364 203.3 L363.3 204.8 L362.6 203.3 L361.9 203.7 L361.2 204.8 L360.5 205 L359.8 204.8 L359.1 201.1 L358.4 204.7 L357.7 204.3 L357 202.4 L356.4 204 L355.7 203.4 L355 204.2 L354.3 204.6 L353.6 204.4 L352.9 202.2 L352.2 202.7 L351.5 205.8 L350.8 201.7 L350.1 202.5 L349.4 204.5 L348.7 203.1 L348 200.9 L347.3 203.9 L346.6 204.7 L345.9 201.4 L345.2 204.8 L344.5 205.4 L343.8 204.6 L343.1 205.1 L342.4 204.5 L341.7 203.2 L341 204.4 L340.3 204.8 L339.6 203.8 L338.9 205 L338.2 204 L337.5 204.8 L336.8 204.1 L336.1 204.4 L335.4 205.8 L334.7 203.7 L334 204 L333.3 204.5 L332.6 202.2 L331.9 202.8 L331.2 204 L330.5 204.1 L329.8 204.2 L329.1 200.6 L328.4 203.3 L327.7 205.5 L327 205.1 L326.3 203.2 L325.6 204.8 L324.9 202 L324.2 204 L323.5 204.3 L322.8 204.6 L322.1 204 L321.4 204.3 L320.7 204.5 L320 202.1 L319.3 204.8 L318.6 204.4 L317.9 204.6 L317.2 202.9 L316.5 204.2 L315.8 205.2 L315.1 205.9 L314.4 204.9 L313.7 204 L313 203.9 L312.3 204.9 L311.6 204.3 L310.9 204.3 L310.3 204.9 L309.6 203.5 L308.9 204.2 L308.2 204.2 L307.5 204.9 L306.8 204.5 L306.1 203.1 L305.4 203 L304.7 203.1 L304 203.8 L303.3 204.4 L302.6 203.4 L301.9 204.2 L301.2 202.5 L300.5 205.8 L299.8 204.6 L299.1 204.3 L298.4 204.4 L297.7 204.2 L297 202.8 L296.3 204.2 L295.6 205 L294.9 205 L294.2 204.5 L293.5 201.2 L292.8 204.5 L292.1 204.6 L291.4 203.4 L290.7 203.4 L290 203.8 L289.3 204.3 L288.6 204.9 L287.9 203.8 L287.2 202.9 L286.5 203.2 L285.8 203.5 L285.1 204.4 L284.4 202.6 L283.7 204.1 L283 205.2 L282.3 202.9 L281.6 205.2 L280.9 202.7 L280.2 204.3 L279.5 203.4 L278.8 203.5 L278.1 203 L277.4 204.2 L276.7 202.6 L276 205 L275.3 204.5 L274.6 205.1 L273.9 203.6 L273.2 203.6 L272.5 202.2 L271.8 205.7 L271.1 204.2 L270.4 204 L269.7 205.3 L269 203.4 L268.3 203.2 L267.6 204.6 L266.9 203.4 L266.2 203 L265.5 203.5 L264.8 204.9 L264.1 202.2 L263.5 205 L262.8 203.1 L262.1 204.3 L261.4 201.4 L260.7 204.2 L260 203.9 L259.3 200.6 L258.6 200.8 L257.9 202.8 L257.2 205.2 L256.5 203.9 L255.8 205.6 L255.1 203.1 L254.4 204.1 L253.7 204.3 L253 203.4 L252.3 204.3 L251.6 203.1 L250.9 203.2 L250.2 203.2 L249.5 203.3 L248.8 204.4 L248.1 203.5 L247.4 205.1 L246.7 203.9 L246 204.8 L245.3 203.6 L244.6 204.3 L243.9 203.3 L243.2 204.9 L242.5 202.9 L241.8 200.5 L241.1 203 L240.4 203.9 L239.7 204.6 L239 200.9 L238.3 203.8 L237.6 203.7 L236.9 203.5 L236.2 203.1 L235.5 202.4 L234.8 204.8 L234.1 204 L233.4 204.6 L232.7 204.6 L232 204.6 L231.3 202.5 L230.6 204.2 L229.9 203.4 L229.2 204.1 L228.5 203.7 L227.8 204.4 L227.1 203.6 L226.4 205.7 L225.7 204.1 L225 202.9 L224.3 204.7 L223.6 204.5 L222.9 203.6 L222.2 203.9 L221.5 203.4 L220.8 205.2 L220.1 203.6 L219.4 203.9 L218.7 204.2 L218 204.3 L217.3 203.5 L216.7 204 L216 204.2 L215.3 203 L214.6 202.2 L213.9 205.2 L213.2 204.3 L212.5 204.4 L211.8 203.5 L211.1 205 L210.4 204.2 L209.7 204.7 L209 203.3 L208.3 206 L207.6 204.6 L206.9 203.4 L206.2 205.2 L205.5 201.4 L204.8 204.3 L204.1 202.7 L203.4 201.6 L202.7 203.7 L202 203.1 L201.3 204.9 L200.6 204.4 L199.9 203.6 L199.2 204.9 L198.5 203 L197.8 204.9 L197.1 201 L196.4 201.9 L195.7 203.7 L195 204.5 L194.3 203.4 L193.6 203.9 L192.9 202.1 L192.2 204.1 L191.5 203.6 L190.8 202.6 L190.1 203.2 L189.4 204.7 L188.7 204.2 L188 202.7 L187.3 200.5 L186.6 203.5 L185.9 203.4 L185.2 204.4 L184.5 203.8 L183.8 204.2 L183.1 204 L182.4 204.1 L181.7 204.3 L181 205.4 L180.3 203.4 L179.6 203.9 L178.9 203.8 L178.2 200.2 L177.5 201.2 L176.8 202.8 L176.1 204.6 L175.4 203.6 L174.7 202.8 L174 204 L173.3 203.8 L172.6 203.7 L171.9 203.3 L171.2 203.3 L170.6 203.5 L169.9 204.1 L169.2 204.4 L168.5 203.8 L167.8 205.3 L167.1 204.7 L166.4 201.8 L165.7 203.7 L165 204.4 L164.3 204.4 L163.6 201.9 L162.9 204.8 L162.2 204.7 L161.5 204.2 L160.8 200.9 L160.1 202.4 L159.4 203.2 L158.7 204.5 L158 204.4 L157.3 204.5 L156.6 204.3Z" fill="#F58220"/><path d="M100.7 150.6 L101 152.4 L101.3 152.7 L101.6 153.4 L101.9 152 L102.2 152.6 L102.5 151.7 L102.8 152.7 L103.1 152.1 L103.4 153.3 L103.7 153.5 L104 150.6 L104.3 151.2 L104.6 152.3 L104.9 153 L105.2 151.5 L105.5 151.7 L105.8 151.6 L106.1 150.4 L106.4 152.5 L106.7 150.6 L107 152.2 L107.3 150.4 L107.6 150.4 L107.9 152.3 L108.2 152 L108.5 150.7 L108.8 150.7 L109.1 153.4 L109.4 152.6 L109.7 150.8 L110 150.6 L110.3 151.8 L110.6 153.6 L110.9 152.7 L111.2 150.7 L111.5 153.4 L111.8 152.6 L112.1 151.5 L112.4 151.1 L112.7 151.2 L113 152.8 L113.3 152.7 L113.6 150.5 L113.9 150.5 L114.2 151.6 L114.5 150.4 L114.8 151.2 L115.1 152.9 L115.4 152.8 L115.7 146.2 L116 146.8 L116.3 145 L116.6 148.5 L116.9 145.3 L117.2 145.4 L117.5 147.7 L117.8 147.5 L118.1 145.6 L118.4 147.1 L118.7 147.9 L119 145.7 L119.3 149.3 L119.6 149.6 L119.9 147.2 L120.2 145.2 L120.5 149.8 L120.8 146.5 L121.1 147.2 L121.4 145.5 L121.7 146.4 L122 150 L122.3 147.8 L122.6 146 L122.9 150.3 L123.2 146.7 L123.5 148.3 L123.8 145.8 L124 150.1 L124.3 150.2 L124.6 145 L124.9 150 L125.2 147 L125.5 146.9 L125.8 150.8 L126.1 151 L126.4 152.1 L126.7 153.3 L127 152.4 L127.3 151.1 L127.6 152.4 L127.9 152.9 L128.2 149.7 L128.5 148.7 L128.8 149.6 L129.1 149.2 L129.4 153.6 L129.7 148.6 L130 159.5 L130.3 150.1 L130.6 148.5 L130.9 152.8 L131.2 148.5 L131.5 148.5 L131.8 151.1 L132.1 153.4 L132.4 152.1 L132.7 151.3 L133 151.1 L133.3 158.9 L133.6 151.9 L133.9 149.4 L134.2 153 L134.5 152.8 L134.8 150.8 L135.1 152.4 L135.4 152.3 L135.7 153.1 L136 152 L136.3 151.8 L136.6 149.9 L136.9 150.4 L137.2 149.7 L137.5 148.8 L137.8 159.8 L138.1 148.3 L138.4 151.1 L138.7 153.2 L139 149.7 L139.3 149.1 L139.6 149.5 L139.9 150 L140.2 160 L140.5 149.7 L140.8 148.3 L141.1 149.9 L141.4 150.8 L141.7 151.8 L142 149.8 L142.3 153.6 L142.6 149.1 L142.9 149.3 L143.2 149.2 L143.5 153.7 L143.8 159.1 L144.1 149.2 L144.4 151.6 L144.7 152.4 L145 149.3 L145.3 153.6 L145.6 152.6 L145.9 162.2 L146.2 151.1 L146.5 150.5 L146.8 158.2 L147.1 152.3 L147.4 151.5 L147.7 149.9 L148 148.9 L148.3 152 L148.6 153.4 L148.9 158.8 L149.2 152.8 L149.5 160.4 L149.8 153.4 L150.1 153.5 L150.4 149 L150.7 151.2 L151 149.7 L151.3 151.2 L151.6 153.1 L151.9 152 L152.2 152.6 L152.5 149 L152.8 151.1 L153.1 150.7 L153.4 150.7 L153.7 149.7 L154 150.3 L154.3 148.8 L154.6 150.9 L154.9 151.4 L155.2 153.3 L155.5 151 L155.8 161.1 L156.1 151.7 L156.4 148.6 L156.7 149 L157 161 L157.2 164.9 L157.5 167.1 L157.6 189.5 L160.6 188.4 L161.6 182.8 L162.6 188.4 L166.6 187.3 L167.8 189.5 L167.8 355.3 L158.1 355.3 L157.2 267.9 L157 236.1 L156.7 247.6 L156.4 248.9 L156.1 257.6 L155.8 242.6 L155.5 235.9 L155.2 236.1 L154.9 244.1 L154.6 240.8 L154.3 256 L154 266.9 L153.7 244.2 L153.4 235.2 L153.1 239.8 L152.8 245.4 L152.5 242.1 L152.2 245.6 L151.9 265 L151.6 238.2 L151.3 236.2 L151 247.1 L150.7 236.8 L150.4 262.3 L150.1 255.2 L149.8 237.9 L149.5 252.1 L149.2 250.1 L148.9 243.4 L148.6 242 L148.3 240.3 L148 240.4 L147.7 249.7 L147.4 240.9 L147.1 244.5 L146.8 246.7 L146.5 240.9 L146.2 249.6 L145.9 250.6 L145.6 246.8 L145.3 254.4 L145 239.1 L144.7 244.7 L144.4 248.5 L144.1 247.5 L143.8 253.3 L143.5 247.5 L143.2 238.9 L142.9 244.1 L142.6 241 L142.3 247.6 L142 241.1 L141.7 250 L141.4 250.4 L141.1 247.2 L140.8 248.1 L140.5 245.8 L140.2 260.8 L139.9 242 L139.6 246.8 L139.3 265.6 L139 244 L138.7 242.3 L138.4 249.9 L138.1 255.2 L137.8 243.7 L137.5 246.6 L137.2 244.1 L136.9 242.6 L136.6 248.2 L136.3 246.6 L136 246.8 L135.7 263.7 L135.4 243.3 L135.1 250.1 L134.8 253.1 L134.5 270.3 L134.2 249.7 L133.9 244.5 L133.6 245.5 L133.3 247.2 L133 245 L132.7 241 L132.4 247.4 L132.1 272.5 L131.8 243.9 L131.5 249.2 L131.2 273.6 L130.9 240.7 L130.6 249.3 L130.3 252.1 L130 263.7 L129.7 255 L129.4 254 L129.1 241.6 L128.8 245.7 L128.5 251.4 L128.2 251.3 L127.9 251.4 L127.6 243.8 L127.3 256.4 L127 242.7 L126.7 252.4 L126.4 252.9 L126.1 256.1 L125.8 259.4 L125.5 251.7 L125.2 246 L124.9 255.3 L124.6 254.4 L124.3 245 L124 267.3 L123.8 257.6 L123.5 273.5 L123.2 245.2 L122.9 254 L122.6 257.8 L122.3 246.5 L122 250.6 L121.7 256.5 L121.4 247.4 L121.1 248.5 L120.8 255.4 L120.5 251.5 L120.2 266.8 L119.9 270.1 L119.6 252 L119.3 255.8 L119 257.1 L118.7 257.6 L118.4 249.4 L118.1 278.8 L117.8 254.7 L117.5 253.5 L117.2 250.9 L116.9 242.9 L116.6 252.9 L116.3 254 L116 256.5 L115.7 253.5 L115.4 255.1 L115.1 247.8 L114.8 249.7 L114.5 256.5 L114.2 248.5 L113.9 253.6 L113.6 249.6 L113.3 258.4 L113 259.2 L112.7 261.4 L112.4 257.9 L112.1 249.3 L111.8 258.2 L111.5 254.3 L111.2 256.2 L110.9 252.1 L110.6 256.2 L110.3 268.9 L110 255.7 L109.7 253.8 L109.4 246.7 L109.1 258 L108.8 258 L108.5 310.5 L108.2 310.5 L107.9 310.5 L107.6 355.3 L107.3 355.3 L107 355.3 L106.7 355.3 L106.4 355.3 L106.1 355.3 L105.8 355.3 L105.5 355.3 L105.2 355.3 L104.9 355.3 L104.6 355.3 L104.3 355.3 L104 355.3 L103.7 355.3 L103.4 355.3 L103.1 355.3 L102.8 355.3 L102.5 355.3 L102.2 355.3 L101.9 355.3 L101.6 355.3 L101.3 355.3 L101 355.3 L100.7 355.3Z" fill="#56978D"/><rect x="102.2" y="256.7" width="1" height="97.4" fill="#fff"/><rect x="103.9" y="256.7" width="1" height="97.4" fill="#fff"/><rect x="105.7" y="256.7" width="1" height="97.4" fill="#fff"/><rect x="107.3" y="256.7" width="1" height="97.4" fill="#fff"/><path d="M100.7 126.8 L101.2 124.6 L101.7 133 L102.2 133.3 L102.7 125 L103.2 127.3 L103.7 126.4 L104.2 130.3 L104.7 127.8 L105.2 127.8 L105.7 125.8 L106.2 127.3 L106.7 126.1 L107.2 124.8 L107.7 125.1 L108.2 126.3 L108.7 131.3 L109.2 127.1 L109.7 126.2 L110.2 126.8 L110.7 126.1 L111.2 130.7 L111.7 125.4 L112.2 126.8 L112.7 125.5 L113.2 125.7 L113.7 127 L114.2 127.6 L114.7 131.8 L115.2 127.6 L115.7 127.3 L116.2 125.3 L116.3 127.9 L116.3 245.5 L108.7 248.9 L100.7 250Z" fill="#CC9900"/><rect x="119.7" y="121.8" width="2.2" height="126" fill="#CC9900"/><rect x="116.2" y="185.1" width="8.5" height="2" fill="#CC9900"/><rect x="100.7" y="19.5" width="698.5" height="335.4" fill="none" stroke="#000" stroke-width="1.6"/><line x1="100.7" y1="354.9" x2="799.2" y2="354.9" stroke="#000" stroke-width="2.0" /><line x1="91.2" y1="355.3" x2="100.7" y2="355.3" stroke="#000" stroke-width="1.5" /><text x="85" y="363.2" font-family="'Liberation Sans', Arial, sans-serif" font-size="23.0" font-weight="bold" fill="#000" text-anchor="end" >−1.5</text><line x1="95.3" y1="327.3" x2="100.7" y2="327.3" stroke="#000" stroke-width="1.5" /><line x1="91.2" y1="299.3" x2="100.7" y2="299.3" stroke="#000" stroke-width="1.5" /><text x="85" y="307.2" font-family="'Liberation Sans', Arial, sans-serif" font-size="23.0" font-weight="bold" fill="#000" text-anchor="end" >−1.0</text><line x1="95.3" y1="271.3" x2="100.7" y2="271.3" stroke="#000" stroke-width="1.5" /><line x1="91.2" y1="243.3" x2="100.7" y2="243.3" stroke="#000" stroke-width="1.5" /><text x="85" y="251.2" font-family="'Liberation Sans', Arial, sans-serif" font-size="23.0" font-weight="bold" fill="#000" text-anchor="end" >−0.5</text><line x1="95.3" y1="215.3" x2="100.7" y2="215.3" stroke="#000" stroke-width="1.5" /><line x1="91.2" y1="187.3" x2="100.7" y2="187.3" stroke="#000" stroke-width="1.5" /><text x="85" y="195.2" font-family="'Liberation Sans', Arial, sans-serif" font-size="23.0" font-weight="bold" fill="#000" text-anchor="end" >0.0</text><line x1="95.3" y1="159.3" x2="100.7" y2="159.3" stroke="#000" stroke-width="1.5" /><line x1="91.2" y1="131.3" x2="100.7" y2="131.3" stroke="#000" stroke-width="1.5" /><text x="85" y="139.2" font-family="'Liberation Sans', Arial, sans-serif" font-size="23.0" font-weight="bold" fill="#000" text-anchor="end" >0.5</text><line x1="95.3" y1="103.3" x2="100.7" y2="103.3" stroke="#000" stroke-width="1.5" /><line x1="91.2" y1="75.3" x2="100.7" y2="75.3" stroke="#000" stroke-width="1.5" /><text x="85" y="83.2" font-family="'Liberation Sans', Arial, sans-serif" font-size="23.0" font-weight="bold" fill="#000" text-anchor="end" >1.0</text><line x1="95.3" y1="47.3" x2="100.7" y2="47.3" stroke="#000" stroke-width="1.5" /><line x1="91.2" y1="19.3" x2="100.7" y2="19.3" stroke="#000" stroke-width="1.5" /><text x="85" y="27.2" font-family="'Liberation Sans', Arial, sans-serif" font-size="23.0" font-weight="bold" fill="#000" text-anchor="end" >1.5</text><line x1="100.7" y1="354.9" x2="100.7" y2="364.9" stroke="#000" stroke-width="1.5" /><text x="101" y="389.7" font-family="'Liberation Sans', Arial, sans-serif" font-size="23.0" font-weight="bold" fill="#000" text-anchor="middle" >0</text><line x1="150.6" y1="354.9" x2="150.6" y2="360.4" stroke="#000" stroke-width="1.5" /><line x1="200.5" y1="354.9" x2="200.5" y2="364.9" stroke="#000" stroke-width="1.5" /><text x="200.8" y="389.7" font-family="'Liberation Sans', Arial, sans-serif" font-size="23.0" font-weight="bold" fill="#000" text-anchor="middle" >100</text><line x1="250.4" y1="354.9" x2="250.4" y2="360.4" stroke="#000" stroke-width="1.5" /><line x1="300.3" y1="354.9" x2="300.3" y2="364.9" stroke="#000" stroke-width="1.5" /><text x="300.6" y="389.7" font-family="'Liberation Sans', Arial, sans-serif" font-size="23.0" font-weight="bold" fill="#000" text-anchor="middle" >200</text><line x1="350.2" y1="354.9" x2="350.2" y2="360.4" stroke="#000" stroke-width="1.5" /><line x1="400.1" y1="354.9" x2="400.1" y2="364.9" stroke="#000" stroke-width="1.5" /><text x="400.4" y="389.7" font-family="'Liberation Sans', Arial, sans-serif" font-size="23.0" font-weight="bold" fill="#000" text-anchor="middle" >300</text><line x1="449.9" y1="354.9" x2="449.9" y2="360.4" stroke="#000" stroke-width="1.5" /><line x1="499.8" y1="354.9" x2="499.8" y2="364.9" stroke="#000" stroke-width="1.5" /><text x="500.1" y="389.7" font-family="'Liberation Sans', Arial, sans-serif" font-size="23.0" font-weight="bold" fill="#000" text-anchor="middle" >400</text><line x1="549.7" y1="354.9" x2="549.7" y2="360.4" stroke="#000" stroke-width="1.5" /><line x1="599.6" y1="354.9" x2="599.6" y2="364.9" stroke="#000" stroke-width="1.5" /><text x="599.9" y="389.7" font-family="'Liberation Sans', Arial, sans-serif" font-size="23.0" font-weight="bold" fill="#000" text-anchor="middle" >500</text><line x1="649.5" y1="354.9" x2="649.5" y2="360.4" stroke="#000" stroke-width="1.5" /><line x1="699.4" y1="354.9" x2="699.4" y2="364.9" stroke="#000" stroke-width="1.5" /><text x="699.7" y="389.7" font-family="'Liberation Sans', Arial, sans-serif" font-size="23.0" font-weight="bold" fill="#000" text-anchor="middle" >600</text><line x1="749.3" y1="354.9" x2="749.3" y2="360.4" stroke="#000" stroke-width="1.5" /><line x1="799.2" y1="354.9" x2="799.2" y2="364.9" stroke="#000" stroke-width="1.5" /><text x="799.5" y="389.7" font-family="'Liberation Sans', Arial, sans-serif" font-size="23.0" font-weight="bold" fill="#000" text-anchor="middle" >700</text><text x="450.6" y="416.3" font-family="'Liberation Serif', 'Times New Roman', serif" font-size="28.1" font-weight="bold" fill="#000" text-anchor="middle" >Time (h)</text><text x="29.5" y="181.5" font-family="'Liberation Serif', 'Times New Roman', serif" font-size="28.5" font-weight="bold" fill="#000" text-anchor="middle" transform="rotate(-90 29.5 181.5)">Voltage (V)</text><line x1="161.4" y1="45.5" x2="220.2" y2="45.5" stroke="#F58220" stroke-width="1.6" /><text x="228.4" y="55.3" font-family="'Liberation Serif', 'Times New Roman', serif" font-size="22.1" font-weight="bold" fill="#F58220" text-anchor="start" >Optimized by electroinitiated accelerated polymerization</text><line x1="161.4" y1="78.1" x2="220.2" y2="78.1" stroke="#56978D" stroke-width="1.6" /><text x="228.4" y="87.9" font-family="'Liberation Serif', 'Times New Roman', serif" font-size="22.1" font-weight="bold" fill="#56978D" text-anchor="start" >Adding conventional liquid electrolytes</text><line x1="161.4" y1="110.4" x2="220.2" y2="110.4" stroke="#CC9900" stroke-width="1.6" /><text x="228.4" y="120.2" font-family="'Liberation Serif', 'Times New Roman', serif" font-size="22.1" font-weight="bold" fill="#CC9900" text-anchor="start" >Bare NZZSPO</text><text x="343.3" y="280.5" font-family="'Liberation Serif', 'Times New Roman', serif" font-size="22.0" font-weight="bold" fill="#000" text-anchor="start" >0.5 mA cm<tspan font-size="14" dy="-9">-2</tspan><tspan dy="9">/0.5 mAh cm</tspan><tspan font-size="14" dy="-9">-2</tspan><tspan dy="9">​</tspan></text><text x="-1.2" y="32" font-family="'Liberation Serif', 'Times New Roman', serif" font-size="60" font-weight="bold" fill="#000" text-anchor="start" >a</text><path d="M894.4 65.9 L896.5 68.9 L898.5 71.9 L898.7 129.2 L901.8 139 L902 58 L906.4 56.1 L906.6 126.2 L908.8 141 L910.5 148.9 L910.7 76.8 L911.2 74.8 L911.6 71.9 L911.9 69.9 L912.5 68.9 L913.8 63.8 L914.5 60.8 L914.7 125.2 L915.4 128.2 L916 131.1 L916.7 133.1 L917.9 142.3 L918.7 145.3 L919 76.8 L919.5 74.8 L919.9 71.9 L920.2 69.9 L920.9 68.9 L922.1 62.3 L922.8 59.3 L923 125.2 L923.7 128.2 L924.4 131.1 L925 133.1 L926.2 142 L927 144.9 L927.3 76.8 L927.8 74.8 L928.2 71.9 L928.6 69.9 L929.2 68.9 L930.4 62.3 L931.2 59.3 L931.4 125.2 L932.1 128.2 L932.7 131.1 L933.3 133.1 L934.5 144.5 L935.4 147.4 L935.7 76.8 L936.2 74.8 L936.6 71.9 L936.9 69.9 L937.5 68.9 L938.8 62.9 L939.5 59.9 L939.7 125.2 L940.4 128.2 L941 131.1 L941.6 133.1 L942.9 142.8 L943.7 145.8 L944 76.8 L944.5 74.8 L944.9 71.9 L945.2 69.9 L945.8 68.9 L947.1 62.5 L947.8 59.5 L948 125.2 L948.7 128.2 L949.3 131.1 L950 133.1 L951.2 141.1 L952 144.1 L952.3 76.8 L952.8 74.8 L953.2 71.9 L953.6 69.9 L954.2 68.9 L955.4 62.9 L956.1 59.9 L956.4 125.2 L957.1 128.2 L957.7 131.1 L958.3 133.1 L959.5 142.1 L960.4 145 L960.6 76.8 L961.1 74.8 L961.5 71.9 L961.9 69.9 L962.5 68.9 L963.7 61.1 L964.5 58.2 L964.7 125.2 L965.4 128.2 L966 131.1 L966.6 133.1 L967.9 141.8 L968.7 144.8 L969 76.8 L969.5 74.8 L969.9 71.9 L970.2 69.9 L970.8 68.9 L972.1 65.1 L972.8 62.1 L973 125.2 L973.7 128.2 L974.3 131.1 L974.9 133.1 L976.2 140.6 L977 143.6 L977.3 76.8 L977.8 74.8 L978.2 71.9 L978.5 69.9 L979.1 68.9 L980.4 65.6 L981.1 62.7 L981.3 125.2 L982 128.2 L982.7 131.1 L983.3 133.1 L984.5 139.5 L985.3 142.5 L985.6 76.8 L986.1 74.8 L986.5 71.9 L986.9 69.9 L987.5 68.9 L988.7 63.3 L989.5 60.4 L989.7 125.2 L990.4 128.2 L991 131.1 L991.6 133.1 L992.8 139.9 L993.7 142.9 L993.9 76.8 L994.4 74.8 L994.9 71.9 L995.2 69.9 L995.8 68.9 L997 63.5 L997.8 60.5 L998 125.2 L998.7 128.2 L999.3 131.1 L999.9 133.1 L1001.2 140.7 L1002 143.6 L1002.3 76.8 L1002.8 74.8 L1003.2 71.9 L1003.5 69.9 L1004.1 68.9 L1005.4 65.9 L1006.1 62.9 L1006.3 125.2 L1007 128.2 L1007.6 131.1 L1008.2 133.1 L1009.5 141.5 L1010.3 144.5 L1010.6 76.8 L1011.1 74.8 L1011.5 71.9 L1011.8 69.9 L1012.5 68.9 L1013.7 64.2 L1014.4 61.2 L1014.6 125.2 L1015.3 128.2 L1016 131.1 L1016.6 133.1 L1017.8 141 L1018.6 143.9 L1018.9 76.8 L1019.4 74.8 L1019.8 71.9 L1020.2 69.9 L1020.8 68.9 L1022 64.5 L1022.8 61.5 L1023 125.2 L1023.7 128.2 L1024.3 131.1 L1024.9 133.1 L1026.1 141.3 L1027 144.3 L1027.3 76.8 L1027.7 74.8 L1028.2 71.9 L1028.5 69.9 L1029.1 68.9 L1030.3 65.7 L1031.1 62.8 L1031.3 125.2 L1032 128.2 L1032.6 131.1 L1033.2 133.1 L1034.5 140.2 L1035.3 143.2 L1035.6 76.8 L1036.1 74.8 L1036.5 71.9 L1036.8 69.9 L1037.4 68.9 L1038.7 64.3 L1039.4 61.4 L1039.6 125.2 L1040.3 128.2 L1040.9 131.1 L1041.6 133.1 L1042.8 140.4 L1043.6 143.4 L1043.9 76.8 L1044.4 74.8 L1044.8 71.9 L1045.1 69.9 L1045.8 68.9 L1047 66.1 L1047.7 63.1 L1047.9 125.2 L1048.6 128.2 L1049.3 131.1 L1049.9 133.1 L1051.1 141.9 L1051.9 144.9 L1052.2 76.8 L1052.7 74.8 L1053.1 71.9 L1053.5 69.9 L1054.1 68.9 L1055.3 63.2 L1056.1 60.3 L1056.3 125.2 L1057 128.2 L1057.6 131.1 L1058.2 133.1 L1059.4 141.3 L1060.3 144.3 L1060.6 76.8 L1061.1 74.8 L1061.5 71.9 L1061.8 69.9 L1062.4 68.9 L1063.6 66.1 L1064.4 63.2 L1064.6 125.2 L1065.3 128.2 L1065.9 131.1 L1066.5 133.1 L1067.8 140.9 L1068.6 143.8 L1068.9 76.8 L1069.4 74.8 L1069.8 71.9 L1070.1 69.9 L1070.7 68.9 L1072 64.4 L1072.7 61.5 L1072.9 125.2 L1073.6 128.2 L1074.2 131.1 L1074.9 133.1 L1076.1 140.8 L1076.9 143.8 L1077.2 76.8 L1077.7 74.8 L1078.1 71.9 L1078.4 69.9 L1079.1 68.9 L1080.3 64.8 L1081 61.9 L1081.3 125.2 L1082 128.2 L1082.6 131.1 L1083.2 133.1 L1084.4 139.8 L1085.2 142.7 L1085.5 76.8 L1086 74.8 L1086.4 71.9 L1086.8 69.9 L1087.4 68.9 L1088.6 66.5 L1089.4 63.5 L1089.6 125.2 L1090.3 128.2 L1090.9 131.1 L1091.5 133.1 L1092.8 139.9 L1093.6 142.8 L1093.9 76.8 L1094.4 74.8 L1094.8 71.9 L1095.1 69.9 L1095.7 68.9 L1097 66.6 L1097.7 63.6 L1097.9 125.2 L1098.6 128.2 L1099.2 131.1 L1099.8 133.1 L1101.1 140.2 L1101.9 143.1 L1102.2 76.8 L1102.7 74.8 L1103.1 71.9 L1103.4 69.9 L1104 68.9 L1105.3 64.7 L1106 61.7 L1106.2 125.2 L1106.9 128.2 L1107.5 131.1 L1108.2 133.1 L1109.4 140.2 L1110.2 143.2 L1110.5 76.8 L1111 74.8 L1111.4 71.9 L1111.8 69.9 L1112.4 68.9 L1113.6 66.3 L1114.3 63.3 L1114.6 125.2 L1115.3 128.2 L1115.9 131.1 L1116.5 133.1 L1117.7 140.4 L1118.6 143.4 L1118.8 76.8 L1119.3 74.8 L1119.7 71.9 L1120.1 69.9 L1120.7 68.9 L1121.9 65.6 L1122.7 62.6 L1122.9 125.2 L1123.6 128.2 L1124.2 131.1 L1124.8 133.1 L1126.1 139.7 L1126.9 142.7 L1127.2 76.8 L1127.7 74.8 L1128.1 71.9 L1128.4 69.9 L1129 68.9 L1130.3 67.6 L1131 64.6 L1131.2 125.2 L1131.9 128.2 L1132.5 131.1 L1133.1 133.1 L1134.4 141.9 L1135.2 144.9 L1135.5 76.8 L1136 74.8 L1136.4 71.9 L1136.7 69.9 L1137.4 68.9 L1138.6 64.8 L1139.3 61.9 L1139.5 125.2 L1140.2 128.2 L1140.9 131.1 L1141.5 133.1 L1142.7 140.3 L1143.5 143.2 L1143.8 76.8 L1144.3 74.8 L1144.7 71.9 L1145.1 69.9 L1145.7 68.9 L1146.9 65.3 L1147.7 62.3 L1147.9 125.2 L1148.6 128.2 L1149.2 131.1 L1149.8 133.1 L1151 140 L1151.9 143 L1152.1 76.8 L1152.6 74.8 L1153.1 71.9 L1153.4 69.9 L1154 68.9 L1155.2 65.4 L1156 62.4 L1156.2 125.2 L1156.9 128.2 L1157.5 131.1 L1158.1 133.1 L1159.4 140.7 L1160.2 143.7 L1160.5 76.8 L1161 74.8 L1161.4 71.9 L1161.7 69.9 L1162.3 68.9 L1163.6 65 L1164.3 62.1 L1164.5 125.2 L1165.2 128.2 L1165.8 131.1 L1166.5 133.1 L1167.7 139.7 L1168.5 142.7 L1168.8 76.8 L1169.3 74.8 L1169.7 71.9 L1170 69.9 L1170.7 68.9 L1171.9 64.7 L1172.6 61.7 L1172.8 125.2 L1173.5 128.2 L1174.2 131.1 L1174.8 133.1 L1176 140.5 L1176.8 143.4 L1177.1 76.8 L1177.6 74.8 L1178 71.9 L1178.4 69.9 L1179 68.9 L1180.2 66 L1181 63 L1181.2 125.2 L1181.9 128.2 L1182.5 131.1 L1183.1 133.1 L1184.3 140.4 L1185.2 143.3 L1185.5 76.8 L1185.9 74.8 L1186.4 71.9 L1186.7 69.9 L1187.3 68.9 L1188.5 66 L1189.3 63 L1189.5 125.2 L1190.2 128.2 L1190.8 131.1 L1191.4 133.1 L1192.7 141.4 L1193.5 144.4 L1193.8 76.8 L1194.3 74.8 L1194.7 71.9 L1195 69.9 L1195.6 68.9 L1196.9 64.6 L1197.6 61.6 L1197.8 125.2 L1198.5 128.2 L1199.1 131.1 L1199.8 133.1 L1201 140.8 L1201.8 143.7 L1202.1 76.8 L1202.6 74.8 L1203 71.9 L1203.3 69.9 L1204 68.9 L1205.2 63.5 L1205.9 60.6 L1206.1 125.2 L1206.8 128.2 L1207.5 131.1 L1208.1 133.1 L1209.3 140.2 L1210.1 143.1 L1210.4 76.8 L1210.9 74.8 L1211.3 71.9 L1211.7 69.9 L1212.3 68.9 L1213.5 64 L1214.3 61 L1214.5 125.2 L1215.2 128.2 L1215.8 131.1 L1216.4 133.1 L1217.6 141.5 L1218.5 144.5 L1218.8 76.8 L1219.3 74.8 L1219.7 71.9 L1220 69.9 L1220.6 68.9 L1221.9 64.3 L1222.6 61.4 L1222.8 125.2 L1223.5 128.2 L1224.1 131.1 L1224.7 133.1 L1226 141.6 L1226.8 144.6 L1227.1 76.8 L1227.6 74.8 L1228 71.9 L1228.3 69.9 L1228.9 68.9 L1230.2 62.5 L1230.9 59.5 L1231.1 125.2 L1231.8 128.2 L1232.4 131.1 L1233.1 133.1 L1234.3 141.1 L1235.1 144 L1235.4 76.8 L1235.9 74.8 L1236.3 71.9 L1236.6 69.9 L1237.3 68.9 L1238.5 64.6 L1239.2 61.7 L1239.5 125.2 L1240.2 128.2 L1240.8 131.1 L1241.4 133.1 L1242.6 142.5 L1243.5 145.5 L1243.7 76.8 L1244.2 74.8 L1244.6 71.9 L1245 69.9 L1245.6 68.9 L1246.8 62.6 L1247.6 59.7 L1247.8 125.2 L1248.5 128.2 L1249.1 131.1 L1249.7 133.1 L1251 142.7 L1251.8 145.7 L1252.1 76.8 L1252.6 74.8 L1253 71.9 L1253.3 69.9 L1253.9 68.9 L1255.2 63.3 L1255.9 60.4 L1256.1 125.2 L1256.8 128.2 L1257.4 131.1 L1258 133.1 L1259.3 144.9 L1260.1 147.9 L1260.4 76.8 L1260.9 74.8 L1261.3 71.9 L1261.6 69.9 L1262.2 68.9 L1263.5 62.5 L1264.2 59.5 L1264.4 125.2 L1265.1 128.2 L1265.8 131.1 L1266.4 133.1 L1267.6 146.1 L1268.4 149.1 L1268.7 76.8 L1269.2 74.8 L1269.6 71.9 L1270 69.9 L1270.6 68.9 L1271.8 62.9 L1272.6 59.9 L1272.8 125.2 L1273.5 128.2 L1274.1 131.1 L1274.7 133.1 L1275.9 145.3 L1276.8 148.2 L1277 76.8 L1277.5 74.8 L1278 71.9 L1278.3 69.9 L1278.9 68.9 L1280.1 62.4 L1280.9 59.4 L1281.1 125.2 L1281.8 128.2 L1282.4 131.1 L1283 133.1 L1284.3 144.4 L1285.1 147.3 L1285.4 76.8 L1285.9 74.8 L1286.3 71.9 L1286.6 69.9 L1287.2 68.9 L1288.5 62.9 L1289.2 59.9 L1289.4 125.2 L1290.1 128.2 L1290.7 131.1 L1291.3 133.1 L1292.6 146.1 L1293.4 149.1 L1293.7 76.8 L1294.2 74.8 L1294.6 71.9 L1294.9 69.9 L1295.6 68.9 L1296.8 61.9 L1297.5 58.9 L1297.7 125.2 L1298.4 128.2 L1299.1 131.1 L1299.7 133.1 L1300.9 147.5 L1301.7 150.5 L1302 76.8 L1302.5 74.8 L1302.9 71.9 L1303.3 69.9 L1303.9 68.9 L1305.1 62.4 L1305.9 59.4 L1306.1 125.2" stroke="#F4821F" stroke-width="1.7" fill="none" stroke-linejoin="round" /><path d="M894.4 264.4 L894.4 259.2 L894.8 228.2 L895.2 224.6 L895.6 223.2 L896 222.7 L896.5 222.6 L896.9 222.5 L897.3 222.5 L897.7 222.5 L898.1 222.5 L898.5 301.2 L898.9 310.5 L899.3 313.9 L899.8 315.2 L900.2 315.6 L900.6 315.8 L901 315.9 L901.4 315.9 L901.8 315.9 L902.2 315.9 L902.6 238.2 L903.1 228.5 L903.5 224.9 L903.9 223.5 L904.3 223.1 L904.7 222.9 L905.1 222.8 L905.5 222.8 L905.9 222.8 L906.4 222.8 L906.8 301.2 L907.2 310.2 L907.6 313.5 L908 314.7 L908.4 315.2 L908.8 315.4 L909.2 315.4 L909.7 315.4 L910.1 315.4 L910.5 315.4 L910.9 238.2 L911.3 228.7 L911.7 225.1 L912.1 223.9 L912.5 223.4 L912.9 223.2 L913.4 223.1 L913.8 223.1 L914.2 223.1 L914.6 223.1 L915 301.2 L915.4 309.9 L915.8 313.1 L916.2 314.3 L916.7 314.7 L917.1 314.9 L917.5 315 L917.9 315 L918.3 315 L918.7 315 L919.1 238.2 L919.5 228.9 L920 225.4 L920.4 224.2 L920.8 223.7 L921.2 223.5 L921.6 223.5 L922 223.4 L922.4 223.4 L922.8 223.4 L923.3 301.2 L923.7 309.6 L924.1 312.7 L924.5 313.9 L924.9 314.3 L925.3 314.5 L925.7 314.5 L926.1 314.5 L926.6 314.5 L927 314.6 L927.4 238.2 L927.8 229.1 L928.2 225.7 L928.6 224.5 L929 224 L929.4 223.8 L929.8 223.8 L930.3 223.7 L930.7 223.7 L931.1 223.7 L931.5 301.2 L931.9 309.4 L932.3 312.4 L932.7 313.5 L933.1 313.9 L933.6 314 L934 314.1 L934.4 314.1 L934.8 314.1 L935.2 314.1 L935.6 238.2 L936 229.2 L936.4 225.9 L936.9 224.7 L937.3 224.3 L937.7 224.1 L938.1 224.1 L938.5 224 L938.9 224 L939.3 224 L939.7 301.2 L940.2 309.1 L940.6 312 L941 313.1 L941.4 313.5 L941.8 313.6 L942.2 313.7 L942.6 313.7 L943 313.7 L943.5 313.7 L943.9 238.2 L944.3 229.4 L944.7 226.2 L945.1 225 L945.5 224.6 L945.9 224.4 L946.3 224.3 L946.7 224.3 L947.2 224.3 L947.6 224.3 L948 301.2 L948.4 308.8 L948.8 311.6 L949.2 312.7 L949.6 313.1 L950 313.2 L950.5 313.2 L950.9 313.3 L951.3 313.3 L951.7 313.3 L952.1 238.2 L952.5 229.6 L952.9 226.4 L953.3 225.2 L953.8 224.8 L954.2 224.6 L954.6 224.6 L955 224.6 L955.4 224.6 L955.8 224.6 L956.2 301.2 L956.6 308.6 L957.1 311.3 L957.5 312.3 L957.9 312.7 L958.3 312.8 L958.7 312.9 L959.1 312.9 L959.5 312.9 L959.9 312.9 L960.4 238.2 L960.8 229.7 L961.2 226.6 L961.6 225.5 L962 225 L962.4 224.9 L962.8 224.8 L963.2 224.8 L963.6 224.8 L964.1 224.8 L964.5 301.2 L964.9 308.3 L965.3 311 L965.7 311.9 L966.1 312.3 L966.5 312.4 L966.9 312.5 L967.4 312.5 L967.8 312.5 L968.2 312.5 L968.6 238.2 L969 229.9 L969.4 226.8 L969.8 225.7 L970.2 225.2 L970.7 225.1 L971.1 225 L971.5 225 L971.9 225 L972.3 225 L972.7 301.2 L973.1 308.1 L973.5 310.7 L974 311.6 L974.4 311.9 L974.8 312.1 L975.2 312.1 L975.6 312.1 L976 312.1 L976.4 312.1 L976.8 238.2 L977.3 230 L977.7 226.9 L978.1 225.8 L978.5 225.4 L978.9 225.3 L979.3 225.2 L979.7 225.2 L980.1 225.2 L980.5 225.2 L981 301.2 L981.4 307.9 L981.8 310.4 L982.2 311.3 L982.6 311.6 L983 311.7 L983.4 311.8 L983.8 311.8 L984.3 311.8 L984.7 311.8 L985.1 238.2 L985.5 230.1 L985.9 227.1 L986.3 226 L986.7 225.6 L987.1 225.4 L987.6 225.4 L988 225.3 L988.4 225.3 L988.8 225.3 L989.2 301.2 L989.6 307.7 L990 310.1 L990.4 311 L990.9 311.3 L991.3 311.4 L991.7 311.5 L992.1 311.5 L992.5 311.5 L992.9 311.5 L993.3 238.2 L993.7 230.1 L994.2 227.2 L994.6 226.1 L995 225.7 L995.4 225.5 L995.8 225.5 L996.2 225.5 L996.6 225.5 L997 225.4 L997.4 301.2 L997.9 307.5 L998.3 309.9 L998.7 310.7 L999.1 311 L999.5 311.2 L999.9 311.2 L1000.3 311.2 L1000.7 311.2 L1001.2 311.2 L1001.6 238.2 L1002 230.2 L1002.4 227.2 L1002.8 226.2 L1003.2 225.8 L1003.6 225.6 L1004 225.6 L1004.5 225.5 L1004.9 225.5 L1005.3 225.5 L1005.7 301.2 L1006.1 307.4 L1006.5 309.7 L1006.9 310.5 L1007.3 310.8 L1007.8 310.9 L1008.2 311 L1008.6 311 L1009 311 L1009.4 311 L1009.8 238.2 L1010.2 230.2 L1010.6 227.3 L1011.1 226.2 L1011.5 225.8 L1011.9 225.7 L1012.3 225.6 L1012.7 225.6 L1013.1 225.6 L1013.5 225.6 L1013.9 301.2 L1014.4 307.2 L1014.8 309.5 L1015.2 310.3 L1015.6 310.6 L1016 310.7 L1016.4 310.7 L1016.8 310.7 L1017.2 310.8 L1017.6 310.8 L1018.1 238.2 L1018.5 230.2 L1018.9 227.3 L1019.3 226.2 L1019.7 225.8 L1020.1 225.7 L1020.5 225.6 L1020.9 225.6 L1021.4 225.6 L1021.8 225.6 L1022.2 301.2 L1022.6 307.1 L1023 309.3 L1023.4 310.1 L1023.8 310.4 L1024.2 310.5 L1024.7 310.5 L1025.1 310.6 L1025.5 310.6 L1025.9 310.6 L1026.3 238.2 L1026.7 230.2 L1027.1 227.3 L1027.5 226.2 L1028 225.8 L1028.4 225.7 L1028.8 225.6 L1029.2 225.6 L1029.6 225.6 L1030 225.6 L1030.4 301.2 L1030.8 307 L1031.3 309.2 L1031.7 309.9 L1032.1 310.2 L1032.5 310.3 L1032.9 310.4 L1033.3 310.4 L1033.7 310.4 L1034.1 310.4 L1034.5 238.2 L1035 230.2 L1035.4 227.2 L1035.8 226.2 L1036.2 225.8 L1036.6 225.6 L1037 225.6 L1037.4 225.5 L1037.8 225.5 L1038.3 225.5 L1038.7 301.2 L1039.1 306.9 L1039.5 309.1 L1039.9 309.8 L1040.3 310.1 L1040.7 310.2 L1041.1 310.3 L1041.6 310.3 L1042 310.3 L1042.4 310.3 L1042.8 238.2 L1043.2 230.1 L1043.6 227.2 L1044 226.1 L1044.4 225.7 L1044.9 225.5 L1045.3 225.5 L1045.7 225.5 L1046.1 225.5 L1046.5 225.4 L1046.9 301.2 L1047.3 306.9 L1047.7 309 L1048.2 309.7 L1048.6 310 L1049 310.1 L1049.4 310.2 L1049.8 310.2 L1050.2 310.2 L1050.6 310.2 L1051 238.2 L1051.4 230.1 L1051.9 227.1 L1052.3 226 L1052.7 225.6 L1053.1 225.4 L1053.5 225.4 L1053.9 225.3 L1054.3 225.3 L1054.7 225.3 L1055.2 301.2 L1055.6 306.9 L1056 308.9 L1056.4 309.7 L1056.8 310 L1057.2 310.1 L1057.6 310.1 L1058 310.1 L1058.5 310.1 L1058.9 310.1 L1059.3 238.2 L1059.7 230 L1060.1 226.9 L1060.5 225.8 L1060.9 225.4 L1061.3 225.3 L1061.8 225.2 L1062.2 225.2 L1062.6 225.2 L1063 225.2 L1063.4 301.2 L1063.8 306.8 L1064.2 308.9 L1064.6 309.7 L1065.1 310 L1065.5 310.1 L1065.9 310.1 L1066.3 310.1 L1066.7 310.1 L1067.1 310.1 L1067.5 238.2 L1067.9 229.9 L1068.3 226.8 L1068.8 225.7 L1069.2 225.2 L1069.6 225.1 L1070 225 L1070.4 225 L1070.8 225 L1071.2 225 L1071.6 301.2 L1072.1 306.9 L1072.5 308.9 L1072.9 309.7 L1073.3 310 L1073.7 310.1 L1074.1 310.1 L1074.5 310.1 L1074.9 310.1 L1075.4 310.1 L1075.8 238.2 L1076.2 229.7 L1076.6 226.6 L1077 225.5 L1077.4 225 L1077.8 224.9 L1078.2 224.8 L1078.7 224.8 L1079.1 224.8 L1079.5 224.8 L1079.9 301.2 L1080.3 306.9 L1080.7 309 L1081.1 309.7 L1081.5 310 L1082 310.1 L1082.4 310.2 L1082.8 310.2 L1083.2 310.2 L1083.6 310.2 L1084 238.2 L1084.4 229.6 L1084.8 226.4 L1085.2 225.2 L1085.7 224.8 L1086.1 224.6 L1086.5 224.6 L1086.9 224.6 L1087.3 224.6 L1087.7 224.6 L1088.1 301.2 L1088.5 306.9 L1089 309.1 L1089.4 309.8 L1089.8 310.1 L1090.2 310.2 L1090.6 310.3 L1091 310.3 L1091.4 310.3 L1091.8 310.3 L1092.3 238.2 L1092.7 229.4 L1093.1 226.2 L1093.5 225 L1093.9 224.6 L1094.3 224.4 L1094.7 224.3 L1095.1 224.3 L1095.6 224.3 L1096 224.3 L1096.4 301.2 L1096.8 307 L1097.2 309.2 L1097.6 309.9 L1098 310.2 L1098.4 310.3 L1098.9 310.4 L1099.3 310.4 L1099.7 310.4 L1100.1 310.4 L1100.5 238.2 L1100.9 229.2 L1101.3 225.9 L1101.7 224.7 L1102.1 224.3 L1102.6 224.1 L1103 224.1 L1103.4 224 L1103.8 224 L1104.2 224 L1104.6 301.2 L1105 307.1 L1105.4 309.3 L1105.9 310.1 L1106.3 310.4 L1106.7 310.5 L1107.1 310.5 L1107.5 310.6 L1107.9 310.6 L1108.3 310.6 L1108.7 238.2 L1109.2 229.1 L1109.6 225.7 L1110 224.5 L1110.4 224 L1110.8 223.8 L1111.2 223.8 L1111.6 223.7 L1112 223.7 L1112.5 223.7 L1112.9 301.2 L1113.3 307.2 L1113.7 309.5 L1114.1 310.3 L1114.5 310.6 L1114.9 310.7 L1115.3 310.7 L1115.8 310.7 L1116.2 310.8 L1116.6 310.8 L1117 238.2 L1117.4 228.9 L1117.8 225.4 L1118.2 224.2 L1118.6 223.7 L1119 223.5 L1119.5 223.5 L1119.9 223.4 L1120.3 223.4 L1120.7 223.4 L1121.1 301.2 L1121.5 307.4 L1121.9 309.7 L1122.3 310.5 L1122.8 310.8 L1123.2 310.9 L1123.6 311 L1124 311 L1124.4 311 L1124.8 311 L1125.2 238.2 L1125.6 228.7 L1126.1 225.1 L1126.5 223.9 L1126.9 223.4 L1127.3 223.2 L1127.7 223.1 L1128.1 223.1 L1128.5 223.1 L1128.9 223.1 L1129.4 301.2 L1129.8 307.5 L1130.2 309.9 L1130.6 310.7 L1131 311 L1131.4 311.2 L1131.8 311.2 L1132.2 311.2 L1132.7 311.2 L1133.1 311.2 L1133.5 238.2 L1133.9 228.5 L1134.3 224.9 L1134.7 223.5 L1135.1 223.1 L1135.5 222.9 L1135.9 222.8 L1136.4 222.8 L1136.8 222.8 L1137.2 222.8 L1137.6 301.2 L1138 307.7 L1138.4 310.1 L1138.8 311 L1139.2 311.3 L1139.7 311.4 L1140.1 311.5 L1140.5 311.5 L1140.9 311.5 L1141.3 311.5 L1141.7 238.2 L1142.1 228.2 L1142.5 224.6 L1143 223.2 L1143.4 222.7 L1143.8 222.6 L1144.2 222.5 L1144.6 222.5 L1145 222.5 L1145.4 222.5 L1145.8 301.2 L1146.3 307.9 L1146.7 310.4 L1147.1 311.3 L1147.5 311.6 L1147.9 311.7 L1148.3 311.8 L1148.7 311.8 L1149.1 311.8 L1149.6 311.8 L1150 238.2 L1150.4 228 L1150.8 224.3 L1151.2 222.9 L1151.6 222.4 L1152 222.2 L1152.4 222.1 L1152.8 222.1 L1153.3 222.1 L1153.7 222.1 L1154.1 301.2 L1154.5 308.1 L1154.9 310.7 L1155.3 311.6 L1155.7 311.9 L1156.1 312.1 L1156.6 312.1 L1157 312.1 L1157.4 312.1 L1157.8 312.1 L1158.2 238.2 L1158.6 227.8 L1159 223.9 L1159.4 222.5 L1159.9 222 L1160.3 221.8 L1160.7 221.8 L1161.1 221.7 L1161.5 221.7 L1161.9 221.7 L1162.3 301.2 L1162.7 308.3 L1163.2 311 L1163.6 311.9 L1164 312.3 L1164.4 312.4 L1164.8 312.5 L1165.2 312.5 L1165.6 312.5 L1166 312.5 L1166.5 238.2 L1166.9 227.5 L1167.3 223.6 L1167.7 222.2 L1168.1 221.7 L1168.5 221.5 L1168.9 221.4 L1169.3 221.4 L1169.7 221.4 L1170.2 221.3 L1170.6 301.2 L1171 308.6 L1171.4 311.3 L1171.8 312.3 L1172.2 312.7 L1172.6 312.8 L1173 312.9 L1173.5 312.9 L1173.9 312.9 L1174.3 312.9 L1174.7 238.2 L1175.1 227.3 L1175.5 223.3 L1175.9 221.8 L1176.3 221.3 L1176.8 221.1 L1177.2 221 L1177.6 221 L1178 221 L1178.4 221 L1178.8 301.2 L1179.2 308.8 L1179.6 311.6 L1180.1 312.7 L1180.5 313.1 L1180.9 313.2 L1181.3 313.2 L1181.7 313.3 L1182.1 313.3 L1182.5 313.3 L1182.9 238.2 L1183.4 227.1 L1183.8 223 L1184.2 221.5 L1184.6 220.9 L1185 220.7 L1185.4 220.7 L1185.8 220.6 L1186.2 220.6 L1186.6 220.6 L1187.1 301.2 L1187.5 309.1 L1187.9 312 L1188.3 313.1 L1188.7 313.5 L1189.1 313.6 L1189.5 313.7 L1189.9 313.7 L1190.4 313.7 L1190.8 313.7 L1191.2 238.2 L1191.6 226.9 L1192 222.7 L1192.4 221.1 L1192.8 220.6 L1193.2 220.4 L1193.7 220.3 L1194.1 220.3 L1194.5 220.3 L1194.9 220.2 L1195.3 301.2 L1195.7 309.4 L1196.1 312.4 L1196.5 313.5 L1197 313.9 L1197.4 314 L1197.8 314.1 L1198.2 314.1 L1198.6 314.1 L1199 314.1 L1199.4 238.2 L1199.8 226.6 L1200.3 222.4 L1200.7 220.8 L1201.1 220.2 L1201.5 220 L1201.9 219.9 L1202.3 219.9 L1202.7 219.9 L1203.1 219.9 L1203.5 301.2 L1204 309.6 L1204.4 312.7 L1204.8 313.9 L1205.2 314.3 L1205.6 314.5 L1206 314.5 L1206.4 314.5 L1206.8 314.5 L1207.3 314.6 L1207.7 238.2 L1208.1 226.4 L1208.5 222 L1208.9 220.4 L1209.3 219.9 L1209.7 219.6 L1210.1 219.6 L1210.6 219.5 L1211 219.5 L1211.4 219.5 L1211.8 301.2 L1212.2 309.9 L1212.6 313.1 L1213 314.3 L1213.4 314.7 L1213.9 314.9 L1214.3 315 L1214.7 315 L1215.1 315 L1215.5 315 L1215.9 238.2 L1216.3 226.2 L1216.7 221.7 L1217.2 220.1 L1217.6 219.5 L1218 219.3 L1218.4 219.2 L1218.8 219.2 L1219.2 219.1 L1219.6 219.1 L1220 301.2 L1220.5 310.2 L1220.9 313.5 L1221.3 314.7 L1221.7 315.2 L1222.1 315.4 L1222.5 315.4 L1222.9 315.4 L1223.3 315.4 L1223.7 315.4 L1224.2 238.2 L1224.6 225.9 L1225 221.4 L1225.4 219.7 L1225.8 219.1 L1226.2 218.9 L1226.6 218.8 L1227 218.8 L1227.5 218.8 L1227.9 218.8 L1228.3 301.2 L1228.7 310.5 L1229.1 313.9 L1229.5 315.2 L1229.9 315.6 L1230.3 315.8 L1230.8 315.9 L1231.2 315.9 L1231.6 315.9 L1232 315.9 L1232.4 238.2 L1232.8 225.7 L1233.2 221.1 L1233.6 219.4 L1234.1 218.8 L1234.5 218.5 L1234.9 218.5 L1235.3 218.4 L1235.7 218.4 L1236.1 218.4 L1236.5 301.2 L1236.9 310.5 L1237.4 313.9 L1237.8 315.2 L1238.2 315.6 L1238.6 315.8 L1239 315.9 L1239.4 315.9 L1239.8 315.9 L1240.2 315.9 L1240.6 238.2 L1241.1 225.5 L1241.5 220.8 L1241.9 219 L1242.3 218.4 L1242.7 218.2 L1243.1 218.1 L1243.5 218.1 L1243.9 218 L1244.4 218 L1244.8 301.2 L1245.2 310.5 L1245.6 313.9 L1246 315.2 L1246.4 315.6 L1246.8 315.8 L1247.2 315.9 L1247.7 315.9 L1248.1 315.9 L1248.5 315.9 L1248.9 238.2 L1249.3 225.2 L1249.7 220.5 L1250.1 218.7 L1250.5 218 L1251 217.8 L1251.4 217.7 L1251.8 217.7 L1252.2 217.7 L1252.6 217.7 L1253 301.2 L1253.4 311.8 L1253.8 315.7 L1254.3 317.2 L1254.7 317.7 L1255.1 317.9 L1255.5 318 L1255.9 318 L1256.3 318 L1256.7 318 L1257.1 238.2 L1257.5 225 L1258 220.1 L1258.4 218.3 L1258.8 217.7 L1259.2 217.4 L1259.6 217.4 L1260 217.3 L1260.4 217.3 L1260.8 217.3 L1261.3 301.2 L1261.7 311.8 L1262.1 315.7 L1262.5 317.2 L1262.9 317.7 L1263.3 317.9 L1263.7 318 L1264.1 318 L1264.6 318 L1265 318 L1265.4 238.2 L1265.8 224.8 L1266.2 219.8 L1266.6 218 L1267 217.3 L1267.4 217.1 L1267.9 217 L1268.3 217 L1268.7 216.9 L1269.1 216.9 L1269.5 301.2 L1269.9 311.8 L1270.3 315.7 L1270.7 317.2 L1271.2 317.7 L1271.6 317.9 L1272 318 L1272.4 318 L1272.8 318 L1273.2 318 L1273.6 238.2 L1274 224.5 L1274.4 219.5 L1274.9 217.6 L1275.3 217 L1275.7 216.7 L1276.1 216.6 L1276.5 216.6 L1276.9 216.6 L1277.3 216.6 L1277.7 301.2 L1278.2 311.8 L1278.6 315.7 L1279 317.2 L1279.4 317.7 L1279.8 317.9 L1280.2 318 L1280.6 318 L1281 318 L1281.5 318 L1281.9 238.2 L1282.3 224.3 L1282.7 219.2 L1283.1 217.3 L1283.5 216.6 L1283.9 216.4 L1284.3 216.3 L1284.8 216.2 L1285.2 216.2 L1285.6 216.2 L1286 301.2 L1286.4 311.8 L1286.8 315.7 L1287.2 317.2 L1287.6 317.7 L1288.1 317.9 L1288.5 318 L1288.9 318 L1289.3 318 L1289.7 318 L1290.1 238.2 L1290.5 224.1 L1290.9 218.9 L1291.3 216.9 L1291.8 216.2 L1292.2 216 L1292.6 215.9 L1293 215.9 L1293.4 215.8 L1293.8 215.8 L1294.2 301.2 L1294.6 311.8 L1295.1 315.7 L1295.5 317.2 L1295.9 317.7 L1296.3 317.9 L1296.7 318 L1297.1 318 L1297.5 318 L1297.9 318 L1298.4 238.2 L1298.8 223.8 L1299.2 218.5 L1299.6 216.6 L1300 215.9 L1300.4 215.6 L1300.8 215.5 L1301.2 215.5 L1301.7 215.5 L1302.1 215.5 L1302.5 301.2 L1302.9 311.8 L1303.3 315.7 L1303.7 317.2 L1304.1 317.7 L1304.5 317.9 L1305 318 L1305.4 318 L1305.8 318 L1306.2 318" stroke="#0E8080" stroke-width="1.7" fill="none" stroke-linejoin="round" /><line x1="894.4" y1="18.4" x2="894.4" y2="353.2" stroke="#000" stroke-width="1.6" /><line x1="1306.6" y1="18.4" x2="1306.6" y2="353.2" stroke="#000" stroke-width="1.8" /><line x1="894.4" y1="185.9" x2="1306.6" y2="185.9" stroke="#000" stroke-width="1.6" /><line x1="894.4" y1="353.2" x2="1306.6" y2="353.2" stroke="#000" stroke-width="1.6" /><line x1="890" y1="175.6" x2="894.4" y2="175.6" stroke="#000" stroke-width="1.4" /><line x1="890" y1="348.4" x2="894.4" y2="348.4" stroke="#000" stroke-width="1.4" /><line x1="886.1" y1="160.8" x2="894.4" y2="160.8" stroke="#000" stroke-width="1.4" /><text x="883.6" y="167.8" font-family="'Liberation Sans', Arial, sans-serif" font-size="21.0" font-weight="bold" fill="#000" text-anchor="end" >−0.6</text><line x1="886.1" y1="332.7" x2="894.4" y2="332.7" stroke="#000" stroke-width="1.4" /><text x="883.6" y="339.7" font-family="'Liberation Sans', Arial, sans-serif" font-size="21.0" font-weight="bold" fill="#000" text-anchor="end" >−0.6</text><line x1="890" y1="146" x2="894.4" y2="146" stroke="#000" stroke-width="1.4" /><line x1="890" y1="316.9" x2="894.4" y2="316.9" stroke="#000" stroke-width="1.4" /><line x1="886.1" y1="131.1" x2="894.4" y2="131.1" stroke="#000" stroke-width="1.4" /><text x="883.6" y="138.1" font-family="'Liberation Sans', Arial, sans-serif" font-size="21.0" font-weight="bold" fill="#000" text-anchor="end" >−0.3</text><line x1="886.1" y1="301.2" x2="894.4" y2="301.2" stroke="#000" stroke-width="1.4" /><text x="883.6" y="308.2" font-family="'Liberation Sans', Arial, sans-serif" font-size="21.0" font-weight="bold" fill="#000" text-anchor="end" >−0.3</text><line x1="890" y1="116.3" x2="894.4" y2="116.3" stroke="#000" stroke-width="1.4" /><line x1="890" y1="285.4" x2="894.4" y2="285.4" stroke="#000" stroke-width="1.4" /><line x1="886.1" y1="101.5" x2="894.4" y2="101.5" stroke="#000" stroke-width="1.4" /><text x="883.6" y="108.5" font-family="'Liberation Sans', Arial, sans-serif" font-size="21.0" font-weight="bold" fill="#000" text-anchor="end" >0.0</text><line x1="886.1" y1="269.7" x2="894.4" y2="269.7" stroke="#000" stroke-width="1.4" /><text x="883.6" y="276.7" font-family="'Liberation Sans', Arial, sans-serif" font-size="21.0" font-weight="bold" fill="#000" text-anchor="end" >0.0</text><line x1="890" y1="86.7" x2="894.4" y2="86.7" stroke="#000" stroke-width="1.4" /><line x1="890" y1="253.9" x2="894.4" y2="253.9" stroke="#000" stroke-width="1.4" /><line x1="886.1" y1="71.9" x2="894.4" y2="71.9" stroke="#000" stroke-width="1.4" /><text x="883.6" y="78.9" font-family="'Liberation Sans', Arial, sans-serif" font-size="21.0" font-weight="bold" fill="#000" text-anchor="end" >0.3</text><line x1="886.1" y1="238.2" x2="894.4" y2="238.2" stroke="#000" stroke-width="1.4" /><text x="883.6" y="245.2" font-family="'Liberation Sans', Arial, sans-serif" font-size="21.0" font-weight="bold" fill="#000" text-anchor="end" >0.3</text><line x1="890" y1="57" x2="894.4" y2="57" stroke="#000" stroke-width="1.4" /><line x1="890" y1="222.4" x2="894.4" y2="222.4" stroke="#000" stroke-width="1.4" /><line x1="886.1" y1="42.2" x2="894.4" y2="42.2" stroke="#000" stroke-width="1.4" /><text x="883.6" y="49.2" font-family="'Liberation Sans', Arial, sans-serif" font-size="21.0" font-weight="bold" fill="#000" text-anchor="end" >0.6</text><line x1="886.1" y1="206.7" x2="894.4" y2="206.7" stroke="#000" stroke-width="1.4" /><text x="883.6" y="213.7" font-family="'Liberation Sans', Arial, sans-serif" font-size="21.0" font-weight="bold" fill="#000" text-anchor="end" >0.6</text><line x1="890" y1="27.4" x2="894.4" y2="27.4" stroke="#000" stroke-width="1.4" /><line x1="890" y1="190.9" x2="894.4" y2="190.9" stroke="#000" stroke-width="1.4" /><line x1="894.4" y1="185.9" x2="894.4" y2="194.6" stroke="#000" stroke-width="1.4" /><line x1="894.4" y1="353.2" x2="894.4" y2="361.9" stroke="#000" stroke-width="1.4" /><text x="894.4" y="385.4" font-family="'Liberation Sans', Arial, sans-serif" font-size="21.0" font-weight="bold" fill="#000" text-anchor="middle" >0</text><line x1="945.9" y1="185.9" x2="945.9" y2="190.9" stroke="#000" stroke-width="1.4" /><line x1="945.9" y1="353.2" x2="945.9" y2="358.2" stroke="#000" stroke-width="1.4" /><line x1="997.4" y1="185.9" x2="997.4" y2="194.6" stroke="#000" stroke-width="1.4" /><line x1="997.4" y1="353.2" x2="997.4" y2="361.9" stroke="#000" stroke-width="1.4" /><text x="997.4" y="385.4" font-family="'Liberation Sans', Arial, sans-serif" font-size="21.0" font-weight="bold" fill="#000" text-anchor="middle" >25</text><line x1="1049" y1="185.9" x2="1049" y2="190.9" stroke="#000" stroke-width="1.4" /><line x1="1049" y1="353.2" x2="1049" y2="358.2" stroke="#000" stroke-width="1.4" /><line x1="1100.5" y1="185.9" x2="1100.5" y2="194.6" stroke="#000" stroke-width="1.4" /><line x1="1100.5" y1="353.2" x2="1100.5" y2="361.9" stroke="#000" stroke-width="1.4" /><text x="1100.5" y="385.4" font-family="'Liberation Sans', Arial, sans-serif" font-size="21.0" font-weight="bold" fill="#000" text-anchor="middle" >50</text><line x1="1152" y1="185.9" x2="1152" y2="190.9" stroke="#000" stroke-width="1.4" /><line x1="1152" y1="353.2" x2="1152" y2="358.2" stroke="#000" stroke-width="1.4" /><line x1="1203.5" y1="185.9" x2="1203.5" y2="194.6" stroke="#000" stroke-width="1.4" /><line x1="1203.5" y1="353.2" x2="1203.5" y2="361.9" stroke="#000" stroke-width="1.4" /><text x="1203.5" y="385.4" font-family="'Liberation Sans', Arial, sans-serif" font-size="21.0" font-weight="bold" fill="#000" text-anchor="middle" >75</text><line x1="1255.1" y1="185.9" x2="1255.1" y2="190.9" stroke="#000" stroke-width="1.4" /><line x1="1255.1" y1="353.2" x2="1255.1" y2="358.2" stroke="#000" stroke-width="1.4" /><line x1="1306.6" y1="185.9" x2="1306.6" y2="194.6" stroke="#000" stroke-width="1.4" /><line x1="1306.6" y1="353.2" x2="1306.6" y2="361.9" stroke="#000" stroke-width="1.4" /><text x="1306.6" y="385.4" font-family="'Liberation Sans', Arial, sans-serif" font-size="21.0" font-weight="bold" fill="#000" text-anchor="middle" >100</text><text x="1105.4" y="408.6" font-family="'Liberation Serif', 'Times New Roman', serif" font-size="25.8" font-weight="bold" fill="#000" text-anchor="middle" >Time (h)</text><text x="836" y="182.6" font-family="'Liberation Serif', 'Times New Roman', serif" font-size="26.0" font-weight="bold" fill="#000" text-anchor="middle" transform="rotate(-90 836 182.6)">Voltage (V)</text><text x="1130" y="46" font-family="'Liberation Serif', 'Times New Roman', serif" font-size="20.3" font-weight="bold" fill="#F4821F" text-anchor="middle" >1.5 mA cm<tspan font-size="12.5" dy="-8">-2</tspan><tspan dy="8">/1.5 mAh cm</tspan><tspan font-size="12.5" dy="-8">-2</tspan><tspan dy="8">​</tspan></text><text x="1125" y="343" font-family="'Liberation Serif', 'Times New Roman', serif" font-size="20.3" font-weight="bold" fill="#0E8080" text-anchor="middle" >3.0 mA cm<tspan font-size="12.5" dy="-8">-2</tspan><tspan dy="8">/3.0 mAh cm</tspan><tspan font-size="12.5" dy="-8">-2</tspan><tspan dy="8">​</tspan></text><text x="816" y="39.5" font-family="'Liberation Serif', 'Times New Roman', serif" font-size="60" font-weight="bold" fill="#000" text-anchor="start" >b</text><path d="M1417.7 188.7 L1430.1 188.7 L1430.1 184.3 L1436.3 184.3 L1436.3 188.7 L1442.5 188.7 L1442.5 182 L1448.7 182 L1448.7 191 L1454.9 191 L1454.9 179.8 L1461.1 179.8 L1461.1 193.2 L1467.3 193.2 L1467.3 177.5 L1473.5 177.5 L1473.5 195.5 L1479.7 195.5 L1479.7 175.3 L1485.8 175.3 L1485.8 197.7 L1492 197.7 L1492 173.1 L1498.2 173.1 L1498.2 199.9 L1504.4 199.9 L1504.4 170.8 L1510.6 170.8 L1510.6 202.2 L1516.8 202.2 L1516.8 168.6 L1523 168.6 L1523 204.4 L1529.2 204.4 L1529.2 166.3 L1535.4 166.3 L1535.4 206.7 L1541.6 206.7 L1541.6 164.1 L1547.8 164.1 L1547.8 208.9 L1554 208.9 L1554 161.9 L1560.2 161.9 L1560.2 211.1 L1566.4 211.1 L1566.4 159.6 L1572.6 159.6 L1572.6 213.4 L1578.8 213.4 L1578.8 157.4 L1585 157.4 L1585 215.6 L1591.2 215.6 L1591.2 155.1 L1597.4 155.1 L1597.4 217.9 L1603.5 217.9 L1603.5 152.9 L1609.7 152.9 L1609.7 220.1 L1615.9 220.1 L1615.9 150.7 L1622.1 150.7 L1622.1 222.3 L1628.3 222.3 L1628.3 148.4 L1634.5 148.4 L1634.5 224.6 L1640.7 224.6 L1640.7 146.2 L1646.9 146.2 L1646.9 226.8 L1653.1 226.8 L1653.1 143.9 L1659.3 143.9 L1659.3 229.1 L1665.5 229.1 L1665.5 141.7 L1671.7 141.7 L1671.7 231.3 L1677.9 231.3 L1677.9 139.5 L1684.1 139.5 L1684.1 233.5 L1690.3 233.5 L1690.3 137.2 L1696.5 137.2 L1696.5 235.8 L1702.7 235.8 L1702.7 135 L1708.9 135 L1708.9 238 L1715.1 238 L1715.1 132.7 L1721.3 132.7 L1721.3 240.3 L1727.5 240.3 L1727.5 130.5 L1733.6 130.5 L1733.6 242.5 L1739.8 242.5 L1739.8 128.3 L1746 128.3 L1746 244.7 L1752.2 244.7 L1752.2 126 L1758.4 126 L1758.4 247 L1764.6 247 L1764.6 123.8 L1770.8 123.8 L1770.8 249.2 L1777 249.2 L1777 121.5 L1783.2 121.5 L1783.2 251.5 L1789.4 251.5 L1789.4 119.3 L1795.6 119.3 L1795.6 253.7 L1801.8 253.7 L1801.8 117.1 L1808 117.1 L1808 255.9 L1814.2 255.9 L1814.2 114.8 L1820.4 114.8 L1820.4 258.2 L1826.6 258.2 L1826.6 112.6 L1832.8 112.6 L1832.8 260.4 L1839 260.4 L1839 110.3 L1845.2 110.3 L1845.2 262.7 L1851.3 262.7 L1851.3 108.1 L1857.5 108.1 L1857.5 264.9 L1863.7 264.9 L1863.7 105.9 L1869.9 105.9 L1869.9 267.1 L1876.1 267.1 L1876.1 103.6 L1882.3 103.6 L1882.3 269.4 L1888.5 269.4 L1888.5 101.4 L1894.7 101.4 L1894.7 271.6 L1900.9 271.6 L1900.9 99.1 L1907.1 99.1 L1907.1 273.9 L1912.7 273.9" stroke="#5E9E96" stroke-width="1.3" fill="none" stroke-linejoin="round" stroke-dasharray="2.2 0.8" opacity="0.9"/><path d="M1417.7 191.9 L1430.1 191.9 L1430.1 184.5 L1430.3 184.5 L1430.7 183.9 L1430.9 183.9 L1431.9 183.8 L1433.1 183.7 L1434.1 183.6 L1434.8 183.4 L1435.4 183.1 L1435.8 182.8 L1436 182.5 L1436.2 182.3 L1436.3 188.7 L1436.5 188.7 L1436.9 189.3 L1437.1 189.3 L1438.1 189.3 L1439.3 189.4 L1440.3 189.5 L1441 189.8 L1441.6 190 L1442 190.3 L1442.2 190.5 L1442.4 190.7 L1442.5 184.2 L1442.7 184.2 L1443.1 183.6 L1443.3 183.5 L1444.3 183.5 L1445.5 183.3 L1446.4 183.2 L1447.2 182.8 L1447.8 182.5 L1448.2 182.1 L1448.4 181.8 L1448.6 181.5 L1448.7 189 L1448.9 189 L1449.3 189.6 L1449.5 189.6 L1450.5 189.7 L1451.7 189.8 L1452.6 190 L1453.4 190.3 L1454 190.6 L1454.3 190.9 L1454.6 191.2 L1454.8 191.5 L1454.9 183.9 L1455.1 183.9 L1455.5 183.2 L1455.7 183.2 L1456.7 183.1 L1457.9 182.9 L1458.8 182.7 L1459.6 182.3 L1460.2 181.9 L1460.5 181.4 L1460.8 181.1 L1461 180.7 L1461.1 189.2 L1461.3 189.2 L1461.7 190 L1461.9 190 L1462.9 190.1 L1464.1 190.2 L1465 190.4 L1465.8 190.8 L1466.4 191.2 L1466.7 191.6 L1467 191.9 L1467.2 192.3 L1467.3 183.6 L1467.5 183.6 L1467.9 182.8 L1468.1 182.8 L1469.1 182.7 L1470.3 182.5 L1471.2 182.3 L1472 181.8 L1472.6 181.3 L1472.9 180.8 L1473.2 180.3 L1473.4 179.9 L1473.5 189.5 L1473.7 189.5 L1474.1 190.3 L1474.3 190.4 L1475.3 190.5 L1476.5 190.6 L1477.4 190.9 L1478.2 191.3 L1478.8 191.8 L1479.1 192.2 L1479.4 192.7 L1479.6 193 L1479.7 183.3 L1479.9 183.3 L1480.3 182.5 L1480.5 182.4 L1481.5 182.3 L1482.7 182.1 L1483.6 181.8 L1484.4 181.3 L1485 180.7 L1485.3 180.1 L1485.6 179.6 L1485.8 179.2 L1485.8 189.8 L1486.1 189.8 L1486.5 190.7 L1486.7 190.7 L1487.7 190.9 L1488.9 191 L1489.8 191.3 L1490.6 191.8 L1491.2 192.3 L1491.5 192.9 L1491.8 193.4 L1491.9 193.8 L1492 183.1 L1492.3 183.1 L1492.7 182.1 L1492.9 182.1 L1493.9 181.9 L1495.1 181.7 L1496 181.4 L1496.8 180.8 L1497.3 180.1 L1497.7 179.5 L1498 178.9 L1498.1 178.4 L1498.2 190.1 L1498.5 190.1 L1498.8 191.1 L1499.1 191.1 L1500.1 191.2 L1501.3 191.5 L1502.2 191.7 L1503 192.3 L1503.5 192.9 L1503.9 193.5 L1504.2 194.1 L1504.3 194.6 L1504.4 182.8 L1504.7 182.8 L1505 181.8 L1505.3 181.7 L1506.3 181.5 L1507.5 181.3 L1508.4 180.9 L1509.2 180.3 L1509.7 179.5 L1510.1 178.8 L1510.3 178.1 L1510.5 177.6 L1510.6 190.3 L1510.9 190.3 L1511.2 191.4 L1511.5 191.5 L1512.5 191.6 L1513.7 191.9 L1514.6 192.2 L1515.4 192.8 L1515.9 193.5 L1516.3 194.2 L1516.5 194.8 L1516.7 195.3 L1516.8 182.5 L1517.1 182.5 L1517.4 181.4 L1517.7 181.3 L1518.7 181.2 L1519.9 180.9 L1520.8 180.5 L1521.6 179.8 L1522.1 179 L1522.5 178.1 L1522.7 177.4 L1522.9 176.8 L1523 190.6 L1523.3 190.6 L1523.6 191.8 L1523.9 191.8 L1524.8 192 L1526.1 192.3 L1527 192.6 L1527.8 193.3 L1528.3 194.1 L1528.7 194.8 L1528.9 195.5 L1529.1 196.1 L1529.2 182.2 L1529.5 182.2 L1529.8 181 L1530.1 181 L1531 180.8 L1532.3 180.5 L1533.2 180 L1534 179.3 L1534.5 178.4 L1534.9 177.5 L1535.1 176.7 L1535.3 176 L1535.4 190.9 L1535.6 190.9 L1536 192.1 L1536.3 192.2 L1537.2 192.4 L1538.5 192.7 L1539.4 193.1 L1540.2 193.8 L1540.7 194.6 L1541.1 195.5 L1541.3 196.2 L1541.5 196.8 L1541.6 182 L1541.8 182 L1542.2 180.7 L1542.5 180.6 L1543.4 180.4 L1544.7 180 L1545.6 179.6 L1546.4 178.8 L1546.9 177.8 L1547.3 176.8 L1547.5 176 L1547.7 175.2 L1547.8 191.2 L1548 191.2 L1548.4 192.5 L1548.6 192.5 L1549.6 192.8 L1550.8 193.1 L1551.8 193.5 L1552.6 194.3 L1553.1 195.2 L1553.5 196.1 L1553.7 196.9 L1553.9 197.6 L1554 181.7 L1554.2 181.7 L1554.6 180.3 L1554.8 180.3 L1555.8 180 L1557 179.6 L1558 179.1 L1558.7 178.3 L1559.3 177.2 L1559.7 176.1 L1559.9 175.2 L1560.1 174.4 L1560.2 191.5 L1560.4 191.5 L1560.8 192.9 L1561 192.9 L1562 193.1 L1563.2 193.5 L1564.2 194 L1564.9 194.8 L1565.5 195.8 L1565.9 196.8 L1566.1 197.6 L1566.3 198.4 L1566.4 181.4 L1566.6 181.4 L1567 180 L1567.2 179.9 L1568.2 179.6 L1569.4 179.2 L1570.3 178.7 L1571.1 177.8 L1571.7 176.6 L1572.1 175.5 L1572.3 174.5 L1572.5 173.6 L1572.6 191.7 L1572.8 191.7 L1573.2 193.2 L1573.4 193.3 L1574.4 193.5 L1575.6 193.9 L1576.5 194.4 L1577.3 195.3 L1577.9 196.4 L1578.2 197.4 L1578.5 198.3 L1578.7 199.1 L1578.8 181.1 L1579 181.1 L1579.4 179.6 L1579.6 179.5 L1580.6 179.2 L1581.8 178.8 L1582.7 178.3 L1583.5 177.3 L1584.1 176 L1584.4 174.8 L1584.7 173.8 L1584.9 172.9 L1585 192 L1585.2 192 L1585.6 193.6 L1585.8 193.6 L1586.8 193.9 L1588 194.3 L1588.9 194.8 L1589.7 195.8 L1590.3 196.9 L1590.6 198.1 L1590.9 199.1 L1591.1 199.9 L1591.2 180.8 L1591.4 180.8 L1591.8 179.2 L1592 179.2 L1593 178.9 L1594.2 178.4 L1595.1 177.8 L1595.9 176.7 L1596.5 175.4 L1596.8 174.1 L1597.1 173 L1597.3 172.1 L1597.4 192.3 L1597.6 192.3 L1598 193.9 L1598.2 194 L1599.2 194.3 L1600.4 194.7 L1601.3 195.3 L1602.1 196.3 L1602.7 197.5 L1603 198.7 L1603.3 199.8 L1603.5 200.7 L1603.5 180.6 L1603.8 180.6 L1604.2 178.9 L1604.4 178.8 L1605.4 178.5 L1606.6 178 L1607.5 177.4 L1608.3 176.2 L1608.9 174.8 L1609.2 173.5 L1609.5 172.3 L1609.7 171.3 L1609.7 192.6 L1610 192.6 L1610.4 194.3 L1610.6 194.4 L1611.6 194.7 L1612.8 195.1 L1613.7 195.7 L1614.5 196.8 L1615.1 198.1 L1615.4 199.4 L1615.7 200.5 L1615.8 201.5 L1615.9 180.3 L1616.2 180.3 L1616.6 178.5 L1616.8 178.4 L1617.8 178.1 L1619 177.6 L1619.9 176.9 L1620.7 175.7 L1621.2 174.3 L1621.6 172.8 L1621.9 171.6 L1622 170.5 L1622.1 192.9 L1622.4 192.9 L1622.7 194.7 L1623 194.7 L1624 195 L1625.2 195.5 L1626.1 196.2 L1626.9 197.3 L1627.4 198.7 L1627.8 200 L1628.1 201.2 L1628.2 202.2 L1628.3 180 L1628.6 180 L1628.9 178.2 L1629.2 178.1 L1630.2 177.7 L1631.4 177.2 L1632.3 176.5 L1633.1 175.2 L1633.6 173.7 L1634 172.1 L1634.2 170.9 L1634.4 169.7 L1634.5 193.1 L1634.8 193.1 L1635.1 195 L1635.4 195.1 L1636.4 195.4 L1637.6 195.9 L1638.5 196.6 L1639.3 197.8 L1639.8 199.3 L1640.2 200.7 L1640.4 201.9 L1640.6 203 L1640.7 179.7 L1641 179.7 L1641.3 177.8 L1641.6 177.7 L1642.6 177.3 L1643.8 176.8 L1644.7 176 L1645.5 174.7 L1646 173.1 L1646.4 171.5 L1646.6 170.1 L1646.8 168.9 L1646.9 193.4 L1647.2 193.4 L1647.5 195.4 L1647.8 195.5 L1648.7 195.8 L1650 196.3 L1650.9 197 L1651.7 198.3 L1652.2 199.8 L1652.6 201.4 L1652.8 202.6 L1653 203.8 L1653.1 179.4 L1653.4 179.4 L1653.7 177.4 L1654 177.3 L1654.9 176.9 L1656.2 176.4 L1657.1 175.6 L1657.9 174.2 L1658.4 172.5 L1658.8 170.8 L1659 169.4 L1659.2 168.1 L1659.3 193.7 L1659.5 193.7 L1659.9 195.7 L1660.2 195.8 L1661.1 196.2 L1662.4 196.7 L1663.3 197.5 L1664.1 198.8 L1664.6 200.4 L1665 202 L1665.2 203.4 L1665.4 204.6 L1665.5 179.2 L1665.7 179.2 L1666.1 177.1 L1666.4 177 L1667.3 176.6 L1668.6 176 L1669.5 175.1 L1670.3 173.7 L1670.8 171.9 L1671.2 170.1 L1671.4 168.6 L1671.6 167.3 L1671.7 194 L1671.9 194 L1672.3 196.1 L1672.5 196.2 L1673.5 196.6 L1674.7 197.2 L1675.7 197.9 L1676.5 199.3 L1677 201 L1677.4 202.7 L1677.6 204.1 L1677.8 205.4 L1677.9 178.9 L1678.1 178.9 L1678.5 176.7 L1678.7 176.6 L1679.7 176.2 L1680.9 175.5 L1681.9 174.7 L1682.6 173.2 L1683.2 171.3 L1683.6 169.4 L1683.8 167.9 L1684 166.5 L1684.1 194.3 L1684.3 194.3 L1684.7 196.5 L1684.9 196.6 L1685.9 197 L1687.1 197.6 L1688.1 198.4 L1688.8 199.9 L1689.4 201.7 L1689.8 203.4 L1690 204.9 L1690.2 206.3 L1690.3 178.6 L1690.5 178.6 L1690.9 176.3 L1691.1 176.2 L1692.1 175.8 L1693.3 175.1 L1694.2 174.2 L1695 172.6 L1695.6 170.7 L1696 168.7 L1696.2 167.1 L1696.4 165.6 L1696.5 194.5 L1696.7 194.5 L1697.1 196.8 L1697.3 196.9 L1698.3 197.4 L1699.5 198 L1700.4 198.9 L1701.2 200.4 L1701.8 202.3 L1702.1 204.2 L1702.4 205.8 L1702.6 207.2 L1702.7 178.3 L1702.9 178.3 L1703.3 176 L1703.5 175.9 L1704.5 175.4 L1705.7 174.7 L1706.6 173.8 L1707.4 172.1 L1708 170 L1708.3 168 L1708.6 166.3 L1708.8 164.8 L1708.9 194.8 L1709.1 194.8 L1709.5 197.2 L1709.7 197.3 L1710.7 197.8 L1711.9 198.4 L1712.8 199.4 L1713.6 201 L1714.2 203 L1714.5 205 L1714.8 206.7 L1715 208.2 L1715.1 178 L1715.3 178 L1715.7 175.6 L1715.9 175.5 L1716.9 175 L1718.1 174.3 L1719 173.3 L1719.8 171.5 L1720.4 169.4 L1720.7 167.2 L1721 165.4 L1721.2 163.8 L1721.3 195.1 L1721.5 195.1 L1721.9 197.6 L1722.1 197.7 L1723.1 198.2 L1724.3 198.9 L1725.2 199.9 L1726 201.6 L1726.6 203.8 L1726.9 205.9 L1727.2 207.7 L1727.4 209.3 L1727.5 177.8 L1727.7 177.8 L1728.1 175.3 L1728.3 175.1 L1729.3 174.6 L1730.5 173.8 L1731.4 172.8 L1732.2 170.9 L1732.8 168.6 L1733.1 166.4 L1733.4 164.5 L1733.6 162.8 L1733.6 195.4 L1733.9 195.4 L1734.3 197.9 L1734.5 198.1 L1735.5 198.6 L1736.7 199.4 L1737.6 200.5 L1738.4 202.4 L1739 204.7 L1739.3 207 L1739.6 209 L1739.7 210.7 L1739.8 177.5 L1740.1 177.5 L1740.5 174.9 L1740.7 174.7 L1741.7 174.2 L1742.9 173.4 L1743.8 172.3 L1744.6 170.3 L1745.1 167.9 L1745.5 165.5 L1745.8 163.5 L1745.9 161.7 L1746 195.7 L1746.3 195.7 L1746.6 198.3 L1746.9 198.5 L1747.9 199 L1749.1 199.9 L1750 201.1 L1750.8 203.2 L1751.3 205.8 L1751.7 208.4 L1752 210.6 L1752.1 212.5 L1752.2 177.2 L1752.5 177.2 L1752.8 174.5 L1753.1 174.4 L1754.1 173.8 L1755.3 172.9 L1756.2 171.7 L1757 169.6 L1757.5 166.9 L1757.9 164.4 L1758.1 162.2 L1758.3 160.3 L1758.4 195.9 L1758.7 195.9 L1759 198.7 L1759.3 198.9 L1760.3 199.6 L1761.5 200.6 L1762.4 201.9 L1763.2 204.4 L1763.7 207.3 L1764.1 210.3 L1764.3 212.7 L1764.5 215 L1764.6 176.9 L1764.9 176.9 L1765.2 174.1 L1765.5 174 L1766.5 173.3 L1767.7 172.3 L1768.6 171 L1769.4 168.7 L1769.9 165.8 L1770.3 163 L1770.5 160.6 L1770.7 158.5 L1770.8 196.2 L1771.1 196.2 L1771.4 199.1 L1771.7 199.3 L1772.6 200.2 L1773.9 201.4 L1774.8 203 L1775.6 205.9 L1776.1 209.4 L1776.5 212.9 L1776.7 215.9 L1776.9 218.5 L1777 176.6 L1777.3 176.6 L1777.6 173.7 L1777.9 173.5 L1778.8 172.8 L1780.1 171.7 L1781 170.2 L1781.8 167.6 L1782.3 164.4 L1782.7 161.2 L1782.9 158.6 L1783.1 156.2 L1783.2 196.5 L1783.4 196.5 L1783.8 199.6 L1784.1 199.9 L1785 200.9 L1786.3 202.4 L1787.2 204.5 L1788 208.1 L1788.5 212.5 L1788.9 216.9 L1789.1 220.6 L1789.3 223.9 L1789.4 176.4 L1789.6 176.4 L1790 173.3 L1790.3 173.1 L1791.2 172.2 L1792.5 171 L1793.4 169.2 L1794.2 166.2 L1794.7 162.5 L1795.1 158.8 L1795.3 155.6 L1795.5 152.9 L1795.6 196.8 L1795.8 196.8 L1796.2 200.2 L1796.4 200.5 L1797.4 201.8 L1798.6 203.8 L1799.6 206.6 L1800.4 211.3 L1800.9 217.2 L1801.3 223 L1801.5 227.9 L1801.7 232.3 L1801.8 176.1 L1802 176.1 L1802.4 172.8 L1802.6 172.5 L1803.6 171.3 L1804.8 169.6 L1805.8 167.2 L1806.5 163.1 L1807.1 158 L1807.5 153 L1807.7 148.7 L1807.9 144.9 L1808 197.1 L1808.2 197.1 L1808.6 200.8 L1808.8 201.3 L1809.8 203.2 L1811 206 L1812 209.7 L1812.7 216.4 L1813.3 224.6 L1813.7 232.6 L1813.9 239.5 L1814.1 245.6 L1814.2 175.8 L1814.4 175.8 L1814.8 172.1 L1815 171.7 L1816 170.1 L1817.2 167.6 L1818.1 164.3 L1818.9 158.5 L1819.5 151.2 L1819.9 144.2 L1820.1 138.2 L1820.3 132.8 L1820.4 197.3 L1820.6 197.3 L1821 201.6 L1821.2 202.3 L1822.2 204.9 L1823.4 208.8 L1824.3 214 L1825.1 223.3 L1825.7 234.7 L1826 245.9 L1826.3 255.4 L1826.5 263.9 L1826.6 175.5 L1826.8 175.5 L1827.2 171.4 L1827.4 170.9 L1828.4 168.7 L1829.6 165.3 L1830.5 160.9 L1831.3 153 L1831.9 143.2 L1832.2 133.7 L1832.5 125.6 L1832.7 118.3 L1832.8 197.6 L1833 197.6 L1833.4 202.7 L1833.6 203.6 L1834.6 207.3 L1835.8 212.9 L1836.7 220.4 L1837.5 233.7 L1838.1 250 L1838.4 266 L1838.7 279.7 L1838.9 291.8 L1839 175.2 L1839.2 175.2 L1839.6 171.2 L1839.8 170.8 L1840.8 168.8 L1842 165.9 L1842.9 162 L1843.7 155.1 L1844.3 146.5 L1844.6 138.2 L1844.9 131.1 L1845.1 124.7 L1845.2 197.9 L1845.4 197.9 L1845.8 203.4 L1846 204.5 L1847 208.9 L1848.2 215.4 L1849.1 224.3 L1849.9 239.9 L1850.5 259.1 L1850.8 277.9 L1851.1 294 L1851.3 308.3 L1851.3 176.4 L1852.3 174.7 L1853.8 165.7 L1854.8 176.4 L1856.3 184.8 L1858.8 187.2 L1863.7 187.5 L1863.7 183.8 L1869.9 183.8 L1869.9 189.9 L1874.9 190.5 L1875.8 205 L1876.1 189.9 L1876.1 183.1 L1882.3 183.1 L1882.3 189.9 L1887.3 190.5 L1888.2 203.3 L1888.5 189.9 L1888.5 182.5 L1892.2 182.5 L1894.7 183.8 L1894.7 189.9 L1900.9 189.9 L1900.9 181.8 L1906.5 180.5 L1907.1 191.2 L1913.3 191.2" stroke="#E8711A" stroke-width="2.0" fill="none" stroke-linejoin="round" /><line x1="1417.7" y1="18.5" x2="1417.7" y2="354.6" stroke="#000" stroke-width="1.6" /><line x1="1417.7" y1="354.6" x2="1913.3" y2="354.6" stroke="#000" stroke-width="1.6" /><line x1="1417.7" y1="18.5" x2="1913.3" y2="18.5" stroke="#5A9A8E" stroke-width="1.6" /><line x1="1913.3" y1="18.5" x2="1913.3" y2="355.4" stroke="#5A9A8E" stroke-width="2.0" /><line x1="1410.2" y1="354.5" x2="1417.7" y2="354.5" stroke="#000" stroke-width="1.4" /><text x="1406.6" y="362.8" font-family="'Liberation Sans', Arial, sans-serif" font-size="23.3" font-weight="bold" fill="#000" text-anchor="end" >-5.0</text><line x1="1413.5" y1="312.5" x2="1417.7" y2="312.5" stroke="#000" stroke-width="1.4" /><line x1="1410.2" y1="270.5" x2="1417.7" y2="270.5" stroke="#000" stroke-width="1.4" /><text x="1406.6" y="278.8" font-family="'Liberation Sans', Arial, sans-serif" font-size="23.3" font-weight="bold" fill="#000" text-anchor="end" >-2.5</text><line x1="1413.5" y1="228.5" x2="1417.7" y2="228.5" stroke="#000" stroke-width="1.4" /><line x1="1410.2" y1="186.5" x2="1417.7" y2="186.5" stroke="#000" stroke-width="1.4" /><text x="1406.6" y="194.8" font-family="'Liberation Sans', Arial, sans-serif" font-size="23.3" font-weight="bold" fill="#000" text-anchor="end" >0.0</text><line x1="1413.5" y1="144.5" x2="1417.7" y2="144.5" stroke="#000" stroke-width="1.4" /><line x1="1410.2" y1="102.5" x2="1417.7" y2="102.5" stroke="#000" stroke-width="1.4" /><text x="1406.6" y="110.8" font-family="'Liberation Sans', Arial, sans-serif" font-size="23.3" font-weight="bold" fill="#000" text-anchor="end" >2.5</text><line x1="1413.5" y1="60.5" x2="1417.7" y2="60.5" stroke="#000" stroke-width="1.4" /><line x1="1410.2" y1="18.5" x2="1417.7" y2="18.5" stroke="#000" stroke-width="1.4" /><text x="1406.6" y="26.8" font-family="'Liberation Sans', Arial, sans-serif" font-size="23.3" font-weight="bold" fill="#000" text-anchor="end" >5.0</text><line x1="1913.3" y1="354.5" x2="1920.3" y2="354.5" stroke="#5A9A8E" stroke-width="1.5" /><text x="1923.2" y="362.3" font-family="'Liberation Sans', Arial, sans-serif" font-size="23.3" font-weight="bold" fill="#5A9A8E" text-anchor="start" >-15</text><line x1="1913.3" y1="326.5" x2="1917.3" y2="326.5" stroke="#5A9A8E" stroke-width="1.5" /><line x1="1913.3" y1="298.5" x2="1920.3" y2="298.5" stroke="#5A9A8E" stroke-width="1.5" /><text x="1923.2" y="306.3" font-family="'Liberation Sans', Arial, sans-serif" font-size="23.3" font-weight="bold" fill="#5A9A8E" text-anchor="start" >-10</text><line x1="1913.3" y1="270.5" x2="1917.3" y2="270.5" stroke="#5A9A8E" stroke-width="1.5" /><line x1="1913.3" y1="242.5" x2="1920.3" y2="242.5" stroke="#5A9A8E" stroke-width="1.5" /><text x="1923.2" y="250.3" font-family="'Liberation Sans', Arial, sans-serif" font-size="23.3" font-weight="bold" fill="#5A9A8E" text-anchor="start" >-5</text><line x1="1913.3" y1="214.5" x2="1917.3" y2="214.5" stroke="#5A9A8E" stroke-width="1.5" /><line x1="1913.3" y1="186.5" x2="1920.3" y2="186.5" stroke="#5A9A8E" stroke-width="1.5" /><text x="1923.2" y="194.3" font-family="'Liberation Sans', Arial, sans-serif" font-size="23.3" font-weight="bold" fill="#5A9A8E" text-anchor="start" >0</text><line x1="1913.3" y1="158.5" x2="1917.3" y2="158.5" stroke="#5A9A8E" stroke-width="1.5" /><line x1="1913.3" y1="130.5" x2="1920.3" y2="130.5" stroke="#5A9A8E" stroke-width="1.5" /><text x="1923.2" y="138.3" font-family="'Liberation Sans', Arial, sans-serif" font-size="23.3" font-weight="bold" fill="#5A9A8E" text-anchor="start" >5</text><line x1="1913.3" y1="102.5" x2="1917.3" y2="102.5" stroke="#5A9A8E" stroke-width="1.5" /><line x1="1913.3" y1="74.5" x2="1920.3" y2="74.5" stroke="#5A9A8E" stroke-width="1.5" /><text x="1923.2" y="82.3" font-family="'Liberation Sans', Arial, sans-serif" font-size="23.3" font-weight="bold" fill="#5A9A8E" text-anchor="start" >10</text><line x1="1913.3" y1="46.5" x2="1917.3" y2="46.5" stroke="#5A9A8E" stroke-width="1.5" /><line x1="1913.3" y1="18.5" x2="1920.3" y2="18.5" stroke="#5A9A8E" stroke-width="1.5" /><text x="1923.2" y="26.3" font-family="'Liberation Sans', Arial, sans-serif" font-size="23.3" font-weight="bold" fill="#5A9A8E" text-anchor="start" >15</text><line x1="1417.7" y1="354.6" x2="1417.7" y2="362.6" stroke="#000" stroke-width="1.4" /><text x="1417.7" y="384.4" font-family="'Liberation Sans', Arial, sans-serif" font-size="23.3" font-weight="bold" fill="#000" text-anchor="middle" >0</text><line x1="1479.7" y1="354.6" x2="1479.7" y2="359.1" stroke="#000" stroke-width="1.4" /><line x1="1541.6" y1="354.6" x2="1541.6" y2="362.6" stroke="#000" stroke-width="1.4" /><text x="1541.6" y="384.4" font-family="'Liberation Sans', Arial, sans-serif" font-size="23.3" font-weight="bold" fill="#000" text-anchor="middle" >20</text><line x1="1603.5" y1="354.6" x2="1603.5" y2="359.1" stroke="#000" stroke-width="1.4" /><line x1="1665.5" y1="354.6" x2="1665.5" y2="362.6" stroke="#000" stroke-width="1.4" /><text x="1665.5" y="384.4" font-family="'Liberation Sans', Arial, sans-serif" font-size="23.3" font-weight="bold" fill="#000" text-anchor="middle" >40</text><line x1="1727.5" y1="354.6" x2="1727.5" y2="359.1" stroke="#000" stroke-width="1.4" /><line x1="1789.4" y1="354.6" x2="1789.4" y2="362.6" stroke="#000" stroke-width="1.4" /><text x="1789.4" y="384.4" font-family="'Liberation Sans', Arial, sans-serif" font-size="23.3" font-weight="bold" fill="#000" text-anchor="middle" >60</text><line x1="1851.3" y1="354.6" x2="1851.3" y2="359.1" stroke="#000" stroke-width="1.4" /><line x1="1913.3" y1="354.6" x2="1913.3" y2="362.6" stroke="#000" stroke-width="1.4" /><text x="1913.3" y="384.4" font-family="'Liberation Sans', Arial, sans-serif" font-size="23.3" font-weight="bold" fill="#000" text-anchor="middle" >80</text><text x="1668.5" y="421" font-family="'Liberation Serif', 'Times New Roman', serif" font-size="28.0" font-weight="bold" fill="#000" text-anchor="middle" >Time (h)</text><text x="1359.5" y="195.4" font-family="'Liberation Serif', 'Times New Roman', serif" font-size="29.8" font-weight="bold" fill="#000" text-anchor="middle" transform="rotate(-90 1359.5 195.4)">Voltage (V)</text><text x="1983.5" y="181" font-family="'Liberation Serif', 'Times New Roman', serif" font-size="28.7" font-weight="bold" fill="#5A9A8E" text-anchor="middle" transform="rotate(-90 1983.5 181)">Current (mA cm<tspan font-size="17" dy="-11">-2</tspan><tspan dy="11">)</tspan></text><text x="1477.7" y="64" font-family="'Liberation Serif', 'Times New Roman', serif" font-size="22.3" font-weight="bold" fill="#E8711A" text-anchor="start" >Short circuit@6.8 mA cm<tspan font-size="14" dy="-9">-2</tspan><tspan dy="9">​</tspan></text><line x1="1786" y1="64" x2="1836.5" y2="108.5" stroke="#E8711A" stroke-width="1.5" /><path d="M1840.5 111.5 L1828 105.5 L1834.5 99 Z" fill="#E8711A"/><text x="1334.5" y="35.3" font-family="'Liberation Serif', 'Times New Roman', serif" font-size="63" font-weight="bold" fill="#000" text-anchor="start" >c</text><path d="M32.5 1232.2 L34.6 1232.3 L36.7 1232.4 L38.8 1232.4 L40.9 1232.5 L43 1232.6 L45.1 1232.7 L47.2 1232.7 L49.3 1232.8 L51.4 1232.9 L53.5 1232.9 L55.6 1233 L57.7 1233.1 L59.8 1233.1 L61.9 1233.2 L64 1233.2 L66.1 1233.2 L68.2 1233.2 L70.3 1233.2 L72.4 1233.2 L74.5 1233.2 L76.6 1233.1 L78.7 1233 L80.8 1232.9 L82.9 1232.8 L85.1 1232.6 L87.2 1232.3 L89.3 1232 L91.4 1231.6 L93.5 1231.2 L95.6 1230.7 L97.7 1230.2 L99.8 1229.6 L101.9 1229 L104 1228.3 L106.1 1227.6 L108.2 1226.8 L110.3 1226.1 L112.4 1225.4 L114.5 1224.8 L116.6 1224.3 L118.7 1223.8 L120.8 1223.6 L122.9 1223.5 L125 1223.6 L127.1 1223.9 L129.2 1224.3 L131.3 1224.9 L133.4 1225.7 L135.5 1226.5 L137.6 1227.4 L139.7 1228.3 L141.8 1229.2 L143.9 1230.1 L146 1231 L148.1 1231.8 L150.2 1232.6 L152.3 1233.3 L154.4 1234 L156.5 1234.6 L158.6 1235.1 L160.7 1235.6 L162.8 1236 L164.9 1236.4 L167 1236.8 L169.1 1237.1 L171.2 1237.4 L173.3 1237.6 L175.4 1237.8 L177.5 1238 L179.6 1238.2 L181.7 1238.4 L183.8 1238.5 L185.9 1238.7 L188 1238.8 L190.2 1239 L192.3 1239.1 L194.4 1239.2 L196.5 1239.3 L198.6 1239.5 L200.7 1239.6 L202.8 1239.7 L204.9 1239.8 L207 1239.9 L209.1 1240 L211.2 1240.1 L213.3 1240.3 L215.4 1240.4 L217.5 1240.5 L219.6 1240.6 L221.7 1240.7 L223.8 1240.8 L225.9 1240.9 L228 1241 L230.1 1241.1 L232.2 1241.2 L234.3 1241.3 L236.4 1241.4 L238.5 1241.5 L240.6 1241.6 L242.7 1241.7 L244.8 1241.8 L246.9 1241.9 L249 1242 L251.1 1242.1 L253.2 1242.2 L255.3 1242.3 L257.4 1242.4 L345.7 1246.5 L345.7 1247.7 L32.5 1233.7Z" fill="#E6CC80" fill-opacity="0.68" stroke="none"/><path d="M32.5 1232.5 L36.7 1232.5 L38.8 1232.6 L40.9 1232.7 L43 1232.8 L45.1 1232.9 L47.2 1233 L49.3 1233.1 L51.4 1233.2 L53.5 1233.3 L55.6 1233.3 L57.7 1233.4 L59.8 1233.5 L61.9 1233.6 L64 1233.7 L66.1 1233.8 L68.2 1233.9 L70.3 1233.9 L72.4 1234 L74.5 1234.1 L76.6 1234.2 L78.7 1234.3 L80.8 1234.3 L82.9 1234.4 L85.1 1234.5 L87.2 1234.6 L89.3 1234.7 L91.4 1234.7 L93.5 1234.8 L95.6 1234.9 L97.7 1235 L99.8 1235 L101.9 1235.1 L104 1235.2 L106.1 1235.2 L108.2 1235.3 L110.3 1235.3 L112.4 1235.4 L114.5 1235.4 L116.6 1235.5 L118.7 1235.5 L120.8 1235.5 L122.9 1235.5 L125 1235.5 L127.1 1235.5 L129.2 1235.4 L131.3 1235.3 L133.4 1235.2 L135.5 1234.9 L137.6 1234.7 L139.7 1234.3 L141.8 1233.8 L143.9 1233.2 L146 1232.5 L148.1 1231.6 L150.2 1230.6 L152.3 1229.5 L154.4 1228.2 L156.5 1226.8 L158.6 1225.3 L160.7 1223.8 L162.8 1222.3 L164.9 1220.9 L167 1219.7 L169.1 1218.8 L171.2 1218.3 L173.3 1218.2 L175.4 1218.6 L177.5 1219.5 L179.6 1220.6 L181.7 1222.1 L183.8 1223.7 L185.9 1225.4 L188 1227.1 L190.2 1228.8 L192.3 1230.3 L194.4 1231.8 L196.5 1233.1 L198.6 1234.2 L200.7 1235.2 L202.8 1236.1 L204.9 1236.8 L207 1237.5 L209.1 1238 L211.2 1238.4 L213.3 1238.8 L215.4 1239.1 L217.5 1239.4 L219.6 1239.7 L221.7 1239.9 L223.8 1240.1 L225.9 1240.2 L228 1240.4 L230.1 1240.6 L232.2 1240.7 L234.3 1240.8 L236.4 1241 L238.5 1241.1 L240.6 1241.2 L242.7 1241.4 L244.8 1241.5 L246.9 1241.6 L249 1241.7 L251.1 1241.8 L253.2 1242 L255.3 1242.1 L257.4 1242.2 L259.5 1242.3 L261.6 1242.4 L263.7 1242.5 L265.8 1242.6 L267.9 1242.7 L270 1242.8 L272.1 1242.9 L274.2 1243 L276.3 1243.1 L278.4 1243.3 L280.5 1243.4 L282.6 1243.5 L284.7 1243.6 L286.8 1243.7 L288.9 1243.8 L291 1243.9 L293.1 1244 L295.3 1244.1 L297.4 1244.2 L299.5 1244.3 L301.6 1244.4 L303.7 1244.5 L305.8 1244.6 L307.9 1244.7 L345.7 1246.5 L345.7 1247.7 L32.5 1233.7Z" fill="#B8D4AC" fill-opacity="0.68" stroke="none"/><path d="M32.5 1232.3 L34.6 1232.4 L36.7 1232.5 L38.8 1232.5 L40.9 1232.6 L43 1232.7 L45.1 1232.8 L47.2 1232.9 L49.3 1233 L51.4 1233.1 L53.5 1233.2 L55.6 1233.2 L57.7 1233.3 L59.8 1233.4 L61.9 1233.5 L64 1233.6 L66.1 1233.7 L68.2 1233.7 L70.3 1233.8 L72.4 1233.9 L74.5 1234 L76.6 1234.1 L78.7 1234.2 L80.8 1234.2 L82.9 1234.3 L85.1 1234.4 L87.2 1234.5 L89.3 1234.5 L91.4 1234.6 L93.5 1234.7 L95.6 1234.8 L97.7 1234.8 L99.8 1234.9 L101.9 1235 L104 1235.1 L106.1 1235.1 L108.2 1235.2 L110.3 1235.2 L112.4 1235.3 L114.5 1235.4 L116.6 1235.4 L118.7 1235.5 L120.8 1235.5 L122.9 1235.6 L125 1235.6 L127.1 1235.7 L129.2 1235.7 L131.3 1235.7 L133.4 1235.7 L135.5 1235.8 L137.6 1235.8 L139.7 1235.8 L141.8 1235.8 L143.9 1235.8 L146 1235.7 L148.1 1235.7 L150.2 1235.6 L152.3 1235.5 L154.4 1235.4 L156.5 1235.3 L158.6 1235.1 L160.7 1234.8 L162.8 1234.4 L164.9 1233.9 L167 1233.3 L169.1 1232.4 L171.2 1231.3 L173.3 1229.9 L175.4 1228.1 L177.5 1225.9 L179.6 1223.2 L181.7 1220 L183.8 1216.3 L185.9 1212.1 L188 1207.5 L190.2 1202.6 L192.3 1197.6 L194.4 1192.8 L196.5 1188.3 L198.6 1184.7 L200.7 1182.3 L202.8 1181.3 L204.9 1182 L207 1184.1 L209.1 1187.6 L211.2 1192 L213.3 1197 L215.4 1202.1 L217.5 1207.3 L219.6 1212.2 L221.7 1216.7 L223.8 1220.7 L225.9 1224.3 L228 1227.3 L230.1 1229.9 L232.2 1232 L234.3 1233.7 L236.4 1235.1 L238.5 1236.2 L240.6 1237.1 L242.7 1237.8 L244.8 1238.4 L246.9 1238.9 L249 1239.3 L251.1 1239.7 L253.2 1240 L255.3 1240.3 L257.4 1240.5 L259.5 1240.8 L261.6 1241 L263.7 1241.2 L265.8 1241.4 L267.9 1241.6 L270 1241.8 L272.1 1241.9 L274.2 1242.1 L276.3 1242.3 L278.4 1242.4 L280.5 1242.6 L282.6 1242.7 L284.7 1242.8 L286.8 1243 L288.9 1243.1 L291 1243.2 L293.1 1243.4 L295.3 1243.5 L297.4 1243.6 L299.5 1243.8 L301.6 1243.9 L303.7 1244 L305.8 1244.1 L307.9 1244.2 L310 1244.3 L312.1 1244.5 L314.2 1244.6 L316.3 1244.7 L318.4 1244.8 L320.5 1244.9 L322.6 1245 L324.7 1245.1 L326.8 1245.2 L328.9 1245.3 L331 1245.5 L333.1 1245.6 L335.2 1245.7 L337.3 1245.8 L339.4 1245.9 L341.5 1246 L343.6 1246.1 L345.7 1246.2 L345.7 1247.7 L32.5 1233.7Z" fill="#F9B48A" fill-opacity="0.68" stroke="none"/><path d="M32.5 1232.5 L106.1 1235.6 L108.2 1235.7 L110.3 1235.8 L112.4 1235.9 L114.5 1236 L116.6 1236.1 L118.7 1236.2 L120.8 1236.3 L122.9 1236.3 L125 1236.4 L127.1 1236.5 L129.2 1236.6 L131.3 1236.7 L133.4 1236.8 L135.5 1236.8 L137.6 1236.9 L139.7 1237 L141.8 1237.1 L143.9 1237.2 L146 1237.2 L148.1 1237.3 L150.2 1237.4 L152.3 1237.5 L154.4 1237.5 L156.5 1237.6 L158.6 1237.7 L160.7 1237.7 L162.8 1237.8 L164.9 1237.9 L167 1237.9 L169.1 1238 L171.2 1238 L173.3 1238.1 L175.4 1238.1 L177.5 1238.1 L179.6 1238.1 L181.7 1238.1 L183.8 1238.1 L185.9 1238.1 L188 1238.1 L190.2 1238 L192.3 1237.9 L194.4 1237.8 L196.5 1237.5 L198.6 1237.2 L200.7 1236.7 L202.8 1235.9 L204.9 1234.7 L207 1233.1 L209.1 1230.8 L211.2 1227.9 L213.3 1224.1 L215.4 1219.7 L217.5 1214.7 L219.6 1209.6 L221.7 1204.8 L223.8 1201.2 L225.9 1199.4 L228 1200 L230.1 1202.8 L232.2 1207.2 L234.3 1212.4 L236.4 1217.7 L238.5 1222.7 L240.6 1227 L242.7 1230.6 L244.8 1233.5 L246.9 1235.6 L249 1237.3 L251.1 1238.4 L253.2 1239.3 L255.3 1239.9 L257.4 1240.4 L259.5 1240.8 L261.6 1241.1 L263.7 1241.4 L265.8 1241.6 L267.9 1241.8 L270 1242 L272.1 1242.2 L274.2 1242.4 L276.3 1242.6 L278.4 1242.7 L280.5 1242.9 L282.6 1243 L284.7 1243.2 L286.8 1243.3 L288.9 1243.4 L291 1243.5 L293.1 1243.7 L295.3 1243.8 L297.4 1243.9 L299.5 1244 L301.6 1244.1 L303.7 1244.3 L305.8 1244.4 L307.9 1244.5 L310 1244.6 L312.1 1244.7 L314.2 1244.8 L316.3 1244.9 L318.4 1245 L320.5 1245.1 L322.6 1245.2 L324.7 1245.3 L326.8 1245.4 L328.9 1245.5 L331 1245.6 L333.1 1245.7 L335.2 1245.8 L337.3 1245.9 L339.4 1246 L341.5 1246.1 L343.6 1246.2 L345.7 1246.3 L345.7 1247.7 L32.5 1233.7Z" fill="#7CC0B8" fill-opacity="0.68" stroke="none"/><path d="M32.5 1232 L34.6 1232.1 L36.7 1232.2 L38.8 1232.3 L40.9 1232.4 L43 1232.5 L45.1 1232.6 L47.2 1232.6 L49.3 1232.7 L51.4 1232.8 L53.5 1232.9 L55.6 1233 L57.7 1233 L59.8 1233.1 L61.9 1233.2 L64 1233.3 L66.1 1233.4 L68.2 1233.4 L70.3 1233.5 L72.4 1233.6 L74.5 1233.7 L76.6 1233.8 L78.7 1233.8 L80.8 1233.9 L82.9 1234 L85.1 1234.1 L87.2 1234.1 L89.3 1234.2 L91.4 1234.3 L93.5 1234.4 L95.6 1234.4 L97.7 1234.5 L99.8 1234.6 L101.9 1234.6 L104 1234.7 L106.1 1234.8 L108.2 1234.8 L110.3 1234.9 L112.4 1234.9 L114.5 1235 L116.6 1235.1 L118.7 1235.1 L120.8 1235.2 L122.9 1235.2 L125 1235.3 L127.1 1235.3 L129.2 1235.4 L131.3 1235.4 L133.4 1235.4 L135.5 1235.5 L137.6 1235.5 L139.7 1235.5 L141.8 1235.6 L143.9 1235.6 L146 1235.6 L148.1 1235.6 L150.2 1235.6 L152.3 1235.6 L154.4 1235.6 L156.5 1235.6 L158.6 1235.6 L160.7 1235.6 L162.8 1235.5 L164.9 1235.5 L167 1235.4 L169.1 1235.4 L171.2 1235.3 L173.3 1235.2 L175.4 1235.1 L177.5 1235 L179.6 1234.8 L181.7 1234.7 L183.8 1234.5 L185.9 1234.2 L188 1234 L190.2 1233.7 L192.3 1233.4 L194.4 1233 L196.5 1232.5 L198.6 1232 L200.7 1231.3 L202.8 1230.4 L204.9 1229.4 L207 1228 L209.1 1226.3 L211.2 1224.1 L213.3 1221.3 L215.4 1217.7 L217.5 1213.3 L219.6 1207.7 L221.7 1200.9 L223.8 1192.8 L225.9 1183.2 L228 1172.2 L230.1 1159.8 L232.2 1146.2 L234.3 1131.7 L236.4 1116.7 L238.5 1102 L240.6 1088.2 L242.7 1076.4 L244.8 1067.6 L246.9 1062.8 L249 1062.4 L251.1 1066.7 L253.2 1075 L255.3 1086.6 L257.4 1100.3 L259.5 1115.1 L261.6 1130.3 L263.7 1145.1 L265.8 1159.1 L267.9 1171.9 L270 1183.3 L272.1 1193.4 L274.2 1201.9 L276.3 1209.1 L278.4 1215.1 L280.5 1219.9 L282.6 1223.8 L284.7 1226.9 L286.8 1229.4 L288.9 1231.4 L291 1233 L293.1 1234.3 L295.3 1235.3 L297.4 1236.2 L299.5 1237 L301.6 1237.7 L303.7 1238.3 L305.8 1238.8 L307.9 1239.3 L310 1239.7 L312.1 1240.1 L314.2 1240.5 L316.3 1240.9 L318.4 1241.2 L320.5 1241.5 L322.6 1241.8 L324.7 1242.1 L326.8 1242.4 L328.9 1242.6 L331 1242.9 L333.1 1243.1 L335.2 1243.3 L337.3 1243.6 L339.4 1243.8 L341.5 1244 L343.6 1244.2 L345.7 1244.3 L345.7 1247.7 L32.5 1233.7Z" fill="#FFE67A" fill-opacity="0.68" stroke="none"/><path d="M32.5 1232.2 L34.6 1232.3 L36.7 1232.4 L38.8 1232.4 L40.9 1232.5 L43 1232.6 L45.1 1232.7 L47.2 1232.7 L49.3 1232.8 L51.4 1232.9 L53.5 1232.9 L55.6 1233 L57.7 1233.1 L59.8 1233.1 L61.9 1233.2 L64 1233.2 L66.1 1233.2 L68.2 1233.2 L70.3 1233.2 L72.4 1233.2 L74.5 1233.2 L76.6 1233.1 L78.7 1233 L80.8 1232.9 L82.9 1232.8 L85.1 1232.6 L87.2 1232.3 L89.3 1232 L91.4 1231.6 L93.5 1231.2 L95.6 1230.7 L97.7 1230.2 L99.8 1229.6 L101.9 1229 L104 1228.3 L106.1 1227.6 L108.2 1226.8 L110.3 1226.1 L112.4 1225.4 L114.5 1224.8 L116.6 1224.3 L118.7 1223.8 L120.8 1223.6 L122.9 1223.5 L125 1223.6 L127.1 1223.9 L129.2 1224.3 L131.3 1224.9 L133.4 1225.7 L135.5 1226.5 L137.6 1227.4 L139.7 1228.3 L141.8 1229.2 L143.9 1230.1 L146 1231 L148.1 1231.8 L150.2 1232.6 L152.3 1233.3 L154.4 1234 L156.5 1234.6 L158.6 1235.1 L160.7 1235.6 L162.8 1236 L164.9 1236.4 L167 1236.8 L169.1 1237.1 L171.2 1237.4 L173.3 1237.6 L175.4 1237.8 L177.5 1238 L179.6 1238.2 L181.7 1238.4 L183.8 1238.5 L185.9 1238.7 L188 1238.8 L190.2 1239 L192.3 1239.1 L194.4 1239.2 L196.5 1239.3 L198.6 1239.5 L200.7 1239.6 L202.8 1239.7 L204.9 1239.8 L207 1239.9 L209.1 1240 L211.2 1240.1 L213.3 1240.3 L215.4 1240.4 L217.5 1240.5 L219.6 1240.6 L221.7 1240.7 L223.8 1240.8 L225.9 1240.9 L228 1241 L230.1 1241.1 L232.2 1241.2 L234.3 1241.3 L236.4 1241.4 L238.5 1241.5 L240.6 1241.6 L242.7 1241.7 L244.8 1241.8 L246.9 1241.9 L249 1242 L251.1 1242.1 L253.2 1242.2 L255.3 1242.3 L257.4 1242.4 L345.7 1246.5" stroke="#C49A10" stroke-width="1.1" fill="none" stroke-linejoin="round" /><path d="M32.5 1232.5 L36.7 1232.5 L38.8 1232.6 L40.9 1232.7 L43 1232.8 L45.1 1232.9 L47.2 1233 L49.3 1233.1 L51.4 1233.2 L53.5 1233.3 L55.6 1233.3 L57.7 1233.4 L59.8 1233.5 L61.9 1233.6 L64 1233.7 L66.1 1233.8 L68.2 1233.9 L70.3 1233.9 L72.4 1234 L74.5 1234.1 L76.6 1234.2 L78.7 1234.3 L80.8 1234.3 L82.9 1234.4 L85.1 1234.5 L87.2 1234.6 L89.3 1234.7 L91.4 1234.7 L93.5 1234.8 L95.6 1234.9 L97.7 1235 L99.8 1235 L101.9 1235.1 L104 1235.2 L106.1 1235.2 L108.2 1235.3 L110.3 1235.3 L112.4 1235.4 L114.5 1235.4 L116.6 1235.5 L118.7 1235.5 L120.8 1235.5 L122.9 1235.5 L125 1235.5 L127.1 1235.5 L129.2 1235.4 L131.3 1235.3 L133.4 1235.2 L135.5 1234.9 L137.6 1234.7 L139.7 1234.3 L141.8 1233.8 L143.9 1233.2 L146 1232.5 L148.1 1231.6 L150.2 1230.6 L152.3 1229.5 L154.4 1228.2 L156.5 1226.8 L158.6 1225.3 L160.7 1223.8 L162.8 1222.3 L164.9 1220.9 L167 1219.7 L169.1 1218.8 L171.2 1218.3 L173.3 1218.2 L175.4 1218.6 L177.5 1219.5 L179.6 1220.6 L181.7 1222.1 L183.8 1223.7 L185.9 1225.4 L188 1227.1 L190.2 1228.8 L192.3 1230.3 L194.4 1231.8 L196.5 1233.1 L198.6 1234.2 L200.7 1235.2 L202.8 1236.1 L204.9 1236.8 L207 1237.5 L209.1 1238 L211.2 1238.4 L213.3 1238.8 L215.4 1239.1 L217.5 1239.4 L219.6 1239.7 L221.7 1239.9 L223.8 1240.1 L225.9 1240.2 L228 1240.4 L230.1 1240.6 L232.2 1240.7 L234.3 1240.8 L236.4 1241 L238.5 1241.1 L240.6 1241.2 L242.7 1241.4 L244.8 1241.5 L246.9 1241.6 L249 1241.7 L251.1 1241.8 L253.2 1242 L255.3 1242.1 L257.4 1242.2 L259.5 1242.3 L261.6 1242.4 L263.7 1242.5 L265.8 1242.6 L267.9 1242.7 L270 1242.8 L272.1 1242.9 L274.2 1243 L276.3 1243.1 L278.4 1243.3 L280.5 1243.4 L282.6 1243.5 L284.7 1243.6 L286.8 1243.7 L288.9 1243.8 L291 1243.9 L293.1 1244 L295.3 1244.1 L297.4 1244.2 L299.5 1244.3 L301.6 1244.4 L303.7 1244.5 L305.8 1244.6 L307.9 1244.7 L345.7 1246.5" stroke="#88AA80" stroke-width="1.1" fill="none" stroke-linejoin="round" /><path d="M32.5 1232.3 L34.6 1232.4 L36.7 1232.5 L38.8 1232.5 L40.9 1232.6 L43 1232.7 L45.1 1232.8 L47.2 1232.9 L49.3 1233 L51.4 1233.1 L53.5 1233.2 L55.6 1233.2 L57.7 1233.3 L59.8 1233.4 L61.9 1233.5 L64 1233.6 L66.1 1233.7 L68.2 1233.7 L70.3 1233.8 L72.4 1233.9 L74.5 1234 L76.6 1234.1 L78.7 1234.2 L80.8 1234.2 L82.9 1234.3 L85.1 1234.4 L87.2 1234.5 L89.3 1234.5 L91.4 1234.6 L93.5 1234.7 L95.6 1234.8 L97.7 1234.8 L99.8 1234.9 L101.9 1235 L104 1235.1 L106.1 1235.1 L108.2 1235.2 L110.3 1235.2 L112.4 1235.3 L114.5 1235.4 L116.6 1235.4 L118.7 1235.5 L120.8 1235.5 L122.9 1235.6 L125 1235.6 L127.1 1235.7 L129.2 1235.7 L131.3 1235.7 L133.4 1235.7 L135.5 1235.8 L137.6 1235.8 L139.7 1235.8 L141.8 1235.8 L143.9 1235.8 L146 1235.7 L148.1 1235.7 L150.2 1235.6 L152.3 1235.5 L154.4 1235.4 L156.5 1235.3 L158.6 1235.1 L160.7 1234.8 L162.8 1234.4 L164.9 1233.9 L167 1233.3 L169.1 1232.4 L171.2 1231.3 L173.3 1229.9 L175.4 1228.1 L177.5 1225.9 L179.6 1223.2 L181.7 1220 L183.8 1216.3 L185.9 1212.1 L188 1207.5 L190.2 1202.6 L192.3 1197.6 L194.4 1192.8 L196.5 1188.3 L198.6 1184.7 L200.7 1182.3 L202.8 1181.3 L204.9 1182 L207 1184.1 L209.1 1187.6 L211.2 1192 L213.3 1197 L215.4 1202.1 L217.5 1207.3 L219.6 1212.2 L221.7 1216.7 L223.8 1220.7 L225.9 1224.3 L228 1227.3 L230.1 1229.9 L232.2 1232 L234.3 1233.7 L236.4 1235.1 L238.5 1236.2 L240.6 1237.1 L242.7 1237.8 L244.8 1238.4 L246.9 1238.9 L249 1239.3 L251.1 1239.7 L253.2 1240 L255.3 1240.3 L257.4 1240.5 L259.5 1240.8 L261.6 1241 L263.7 1241.2 L265.8 1241.4 L267.9 1241.6 L270 1241.8 L272.1 1241.9 L274.2 1242.1 L276.3 1242.3 L278.4 1242.4 L280.5 1242.6 L282.6 1242.7 L284.7 1242.8 L286.8 1243 L288.9 1243.1 L291 1243.2 L293.1 1243.4 L295.3 1243.5 L297.4 1243.6 L299.5 1243.8 L301.6 1243.9 L303.7 1244 L305.8 1244.1 L307.9 1244.2 L310 1244.3 L312.1 1244.5 L314.2 1244.6 L316.3 1244.7 L318.4 1244.8 L320.5 1244.9 L322.6 1245 L324.7 1245.1 L326.8 1245.2 L328.9 1245.3 L331 1245.5 L333.1 1245.6 L335.2 1245.7 L337.3 1245.8 L339.4 1245.9 L341.5 1246 L343.6 1246.1 L345.7 1246.2" stroke="#F07A22" stroke-width="1.1" fill="none" stroke-linejoin="round" /><path d="M32.5 1232.5 L106.1 1235.6 L108.2 1235.7 L110.3 1235.8 L112.4 1235.9 L114.5 1236 L116.6 1236.1 L118.7 1236.2 L120.8 1236.3 L122.9 1236.3 L125 1236.4 L127.1 1236.5 L129.2 1236.6 L131.3 1236.7 L133.4 1236.8 L135.5 1236.8 L137.6 1236.9 L139.7 1237 L141.8 1237.1 L143.9 1237.2 L146 1237.2 L148.1 1237.3 L150.2 1237.4 L152.3 1237.5 L154.4 1237.5 L156.5 1237.6 L158.6 1237.7 L160.7 1237.7 L162.8 1237.8 L164.9 1237.9 L167 1237.9 L169.1 1238 L171.2 1238 L173.3 1238.1 L175.4 1238.1 L177.5 1238.1 L179.6 1238.1 L181.7 1238.1 L183.8 1238.1 L185.9 1238.1 L188 1238.1 L190.2 1238 L192.3 1237.9 L194.4 1237.8 L196.5 1237.5 L198.6 1237.2 L200.7 1236.7 L202.8 1235.9 L204.9 1234.7 L207 1233.1 L209.1 1230.8 L211.2 1227.9 L213.3 1224.1 L215.4 1219.7 L217.5 1214.7 L219.6 1209.6 L221.7 1204.8 L223.8 1201.2 L225.9 1199.4 L228 1200 L230.1 1202.8 L232.2 1207.2 L234.3 1212.4 L236.4 1217.7 L238.5 1222.7 L240.6 1227 L242.7 1230.6 L244.8 1233.5 L246.9 1235.6 L249 1237.3 L251.1 1238.4 L253.2 1239.3 L255.3 1239.9 L257.4 1240.4 L259.5 1240.8 L261.6 1241.1 L263.7 1241.4 L265.8 1241.6 L267.9 1241.8 L270 1242 L272.1 1242.2 L274.2 1242.4 L276.3 1242.6 L278.4 1242.7 L280.5 1242.9 L282.6 1243 L284.7 1243.2 L286.8 1243.3 L288.9 1243.4 L291 1243.5 L293.1 1243.7 L295.3 1243.8 L297.4 1243.9 L299.5 1244 L301.6 1244.1 L303.7 1244.3 L305.8 1244.4 L307.9 1244.5 L310 1244.6 L312.1 1244.7 L314.2 1244.8 L316.3 1244.9 L318.4 1245 L320.5 1245.1 L322.6 1245.2 L324.7 1245.3 L326.8 1245.4 L328.9 1245.5 L331 1245.6 L333.1 1245.7 L335.2 1245.8 L337.3 1245.9 L339.4 1246 L341.5 1246.1 L343.6 1246.2 L345.7 1246.3" stroke="#2E9690" stroke-width="1.1" fill="none" stroke-linejoin="round" /><path d="M32.5 1232 L34.6 1232.1 L36.7 1232.2 L38.8 1232.3 L40.9 1232.4 L43 1232.5 L45.1 1232.6 L47.2 1232.6 L49.3 1232.7 L51.4 1232.8 L53.5 1232.9 L55.6 1233 L57.7 1233 L59.8 1233.1 L61.9 1233.2 L64 1233.3 L66.1 1233.4 L68.2 1233.4 L70.3 1233.5 L72.4 1233.6 L74.5 1233.7 L76.6 1233.8 L78.7 1233.8 L80.8 1233.9 L82.9 1234 L85.1 1234.1 L87.2 1234.1 L89.3 1234.2 L91.4 1234.3 L93.5 1234.4 L95.6 1234.4 L97.7 1234.5 L99.8 1234.6 L101.9 1234.6 L104 1234.7 L106.1 1234.8 L108.2 1234.8 L110.3 1234.9 L112.4 1234.9 L114.5 1235 L116.6 1235.1 L118.7 1235.1 L120.8 1235.2 L122.9 1235.2 L125 1235.3 L127.1 1235.3 L129.2 1235.4 L131.3 1235.4 L133.4 1235.4 L135.5 1235.5 L137.6 1235.5 L139.7 1235.5 L141.8 1235.6 L143.9 1235.6 L146 1235.6 L148.1 1235.6 L150.2 1235.6 L152.3 1235.6 L154.4 1235.6 L156.5 1235.6 L158.6 1235.6 L160.7 1235.6 L162.8 1235.5 L164.9 1235.5 L167 1235.4 L169.1 1235.4 L171.2 1235.3 L173.3 1235.2 L175.4 1235.1 L177.5 1235 L179.6 1234.8 L181.7 1234.7 L183.8 1234.5 L185.9 1234.2 L188 1234 L190.2 1233.7 L192.3 1233.4 L194.4 1233 L196.5 1232.5 L198.6 1232 L200.7 1231.3 L202.8 1230.4 L204.9 1229.4 L207 1228 L209.1 1226.3 L211.2 1224.1 L213.3 1221.3 L215.4 1217.7 L217.5 1213.3 L219.6 1207.7 L221.7 1200.9 L223.8 1192.8 L225.9 1183.2 L228 1172.2 L230.1 1159.8 L232.2 1146.2 L234.3 1131.7 L236.4 1116.7 L238.5 1102 L240.6 1088.2 L242.7 1076.4 L244.8 1067.6 L246.9 1062.8 L249 1062.4 L251.1 1066.7 L253.2 1075 L255.3 1086.6 L257.4 1100.3 L259.5 1115.1 L261.6 1130.3 L263.7 1145.1 L265.8 1159.1 L267.9 1171.9 L270 1183.3 L272.1 1193.4 L274.2 1201.9 L276.3 1209.1 L278.4 1215.1 L280.5 1219.9 L282.6 1223.8 L284.7 1226.9 L286.8 1229.4 L288.9 1231.4 L291 1233 L293.1 1234.3 L295.3 1235.3 L297.4 1236.2 L299.5 1237 L301.6 1237.7 L303.7 1238.3 L305.8 1238.8 L307.9 1239.3 L310 1239.7 L312.1 1240.1 L314.2 1240.5 L316.3 1240.9 L318.4 1241.2 L320.5 1241.5 L322.6 1241.8 L324.7 1242.1 L326.8 1242.4 L328.9 1242.6 L331 1242.9 L333.1 1243.1 L335.2 1243.3 L337.3 1243.6 L339.4 1243.8 L341.5 1244 L343.6 1244.2 L345.7 1244.3" stroke="#F0C400" stroke-width="1.1" fill="none" stroke-linejoin="round" /><path d="M32.5 1233.5 L345.7 1247.5" stroke="#E88A2A" stroke-width="1.4" fill="none" stroke-linejoin="round" /><path d="M32.5 1234.7 L345.7 1248.7" stroke="#3A9A98" stroke-width="1.2" fill="none" stroke-linejoin="round" /><path d="M32.5 1232.8 L34.6 1229.1 L36.7 1230 L38.8 1230.6 L40.9 1230.3 L43 1229.6 L45.1 1228.3 L47.2 1229.4 L49.3 1232.5 L51.4 1236.5 L53.5 1234.1 L55.6 1231.3 L57.7 1230.8 L59.8 1230 L61.9 1229.6 L64 1231 L66.1 1232.3 L68.2 1232.5 L70.3 1233.1 L72.4 1232.2 L74.5 1232.7 L76.6 1234.4 L78.7 1233 L80.8 1230.8 L82.9 1230.9 L85.1 1232.9 L87.2 1233.7 L89.3 1230.9 L91.4 1229.9 L93.5 1230.1 L95.6 1227.8 L97.7 1227.7 L99.8 1229 L101.9 1228.3 L104 1226.9 L106.1 1224.4 L108.2 1221.1 L110.3 1222.6 L112.4 1220.8 L114.5 1218.9 L116.6 1221 L118.7 1221.6 L120.8 1219.3 L122.9 1218 L125 1219.1 L127.1 1220.8 L129.2 1222.7 L131.3 1222.6 L133.4 1222.2 L135.5 1222.8 L137.6 1221.2 L139.7 1220.5 L141.8 1222.5 L143.9 1223 L146 1221.3 L148.1 1220.2 L150.2 1219 L152.3 1216.7 L154.4 1218.7 L156.5 1217.8 L158.6 1214 L160.7 1212.9 L162.8 1211.8 L164.9 1210.1 L167 1205.8 L169.1 1204.9 L171.2 1206.7 L173.3 1204.6 L175.4 1199.3 L177.5 1198.5 L179.6 1198.5 L181.7 1196.9 L183.8 1195.3 L185.9 1190.6 L188 1186.8 L190.2 1183.4 L192.3 1181.2 L194.4 1176.2 L196.5 1169.8 L198.6 1166.1 L200.7 1166.9 L202.8 1165.7 L204.9 1164.3 L207 1163.9 L209.1 1162.1 L211.2 1159.3 L213.3 1157 L215.4 1155.5 L217.5 1152.7 L219.6 1144.5 L221.7 1137 L223.8 1130.6 L225.9 1123.9 L228 1116.1 L230.1 1106.1 L232.2 1098 L234.3 1093.5 L236.4 1087.8 L238.5 1078.7 L240.6 1068.6 L242.7 1060.2 L244.8 1054.9 L246.9 1052.9 L249 1054.6 L251.1 1059.1 L253.2 1068.6 L255.3 1081.6 L257.4 1096.5 L259.5 1113.3 L261.6 1131.5 L263.7 1146.5 L265.8 1157.7 L267.9 1166.4 L270 1178.2 L272.1 1189.9 L274.2 1198.3 L276.3 1204.4 L278.4 1213.9 L280.5 1219.4 L282.6 1219.9 L284.7 1222.2 L286.8 1225.8 L288.9 1229.7 L291 1233.7 L293.1 1236.2 L295.3 1235.4 L297.4 1236 L299.5 1237.6 L301.6 1239.7 L303.7 1240.3 L305.8 1239.5 L307.9 1237.3 L310 1237.1 L312.1 1238.7 L314.2 1241.7 L316.3 1241.7 L318.4 1240 L320.5 1240.1 L322.6 1240.9 L324.7 1239.9 L326.8 1240 L328.9 1243.6 L331 1246.1 L333.1 1243.3 L335.2 1240.8 L337.3 1239.8 L339.4 1240.6 L341.5 1243.8 L343.6 1245.2 L345.7 1244.3" stroke="#3C3C3C" stroke-width="1.1" fill="none" stroke-linejoin="round" /><path d="M32.5 1231.3 L34.6 1231.4 L36.7 1231.4 L38.8 1231.5 L40.9 1231.6 L43 1231.6 L45.1 1231.7 L47.2 1231.7 L49.3 1231.8 L51.4 1231.8 L53.5 1231.8 L55.6 1231.9 L57.7 1231.9 L59.8 1231.9 L61.9 1231.9 L64 1231.9 L66.1 1231.9 L68.2 1231.9 L70.3 1231.9 L72.4 1231.8 L74.5 1231.7 L76.6 1231.6 L78.7 1231.5 L80.8 1231.3 L82.9 1231.1 L85.1 1230.9 L87.2 1230.6 L89.3 1230.2 L91.4 1229.8 L93.5 1229.3 L95.6 1228.7 L97.7 1228.1 L99.8 1227.5 L101.9 1226.7 L104 1226 L106.1 1225.1 L108.2 1224.3 L110.3 1223.5 L112.4 1222.7 L114.5 1221.9 L116.6 1221.2 L118.7 1220.7 L120.8 1220.2 L122.9 1220 L125 1219.8 L127.1 1219.9 L129.2 1220.1 L131.3 1220.4 L133.4 1220.7 L135.5 1221.1 L137.6 1221.4 L139.7 1221.7 L141.8 1221.9 L143.9 1221.9 L146 1221.7 L148.1 1221.4 L150.2 1220.8 L152.3 1220 L154.4 1218.9 L156.5 1217.6 L158.6 1216.2 L160.7 1214.5 L162.8 1212.8 L164.9 1210.9 L167 1209.1 L169.1 1207.2 L171.2 1205.5 L173.3 1203.8 L175.4 1202.2 L177.5 1200.5 L179.6 1198.7 L181.7 1196.6 L183.8 1194.1 L185.9 1191.1 L188 1187.7 L190.2 1183.9 L192.3 1179.8 L194.4 1175.6 L196.5 1171.5 L198.6 1167.9 L200.7 1165 L202.8 1163 L204.9 1161.9 L207 1161.5 L209.1 1161.2 L211.2 1160.6 L213.3 1159.1 L215.4 1156.4 L217.5 1152.1 L219.6 1146.2 L221.7 1139.1 L223.8 1131.3 L225.9 1123.4 L228 1115.9 L230.1 1108.8 L232.2 1101.5 L234.3 1093.8 L236.4 1085.4 L238.5 1076.6 L240.6 1067.9 L242.7 1060.3 L244.8 1054.8 L246.9 1052.5 L249 1054 L251.1 1059.7 L253.2 1069 L255.3 1081.3 L257.4 1095.6 L259.5 1110.9 L261.6 1126.4 L263.7 1141.5 L265.8 1155.8 L267.9 1168.8 L270 1180.5 L272.1 1190.7 L274.2 1199.4 L276.3 1206.8 L278.4 1212.9 L280.5 1217.8 L282.6 1221.8 L284.7 1225.1 L286.8 1227.6 L288.9 1229.7 L291 1231.4 L293.1 1232.8 L295.3 1233.9 L297.4 1234.9 L299.5 1235.7 L301.6 1236.4 L303.7 1237.1 L305.8 1237.6 L307.9 1238.2 L310 1238.7 L312.1 1239.1 L314.2 1239.5 L316.3 1239.9 L318.4 1240.3 L320.5 1240.6 L322.6 1241 L324.7 1241.3 L326.8 1241.6 L328.9 1241.9 L331 1242.1 L333.1 1242.4 L335.2 1242.6 L337.3 1242.9 L339.4 1243.1 L341.5 1243.3 L343.6 1243.5 L345.7 1243.7" stroke="#F0303A" stroke-width="1.3" fill="none" stroke-linejoin="round" /><line x1="32.5" y1="1257.5" x2="345.7" y2="1257.5" stroke="#000" stroke-width="1.3" /><line x1="32.5" y1="1257.5" x2="32.5" y2="1262.5" stroke="#000" stroke-width="1.2" /><text x="32.5" y="1278.8" font-family="'Liberation Sans', Arial, sans-serif" font-size="16.3" font-weight="bold" fill="#000" text-anchor="middle" >294</text><line x1="66" y1="1257.5" x2="66" y2="1260.3" stroke="#000" stroke-width="1.2" /><line x1="99.4" y1="1257.5" x2="99.4" y2="1262.5" stroke="#000" stroke-width="1.2" /><text x="99.4" y="1278.8" font-family="'Liberation Sans', Arial, sans-serif" font-size="16.3" font-weight="bold" fill="#000" text-anchor="middle" >291</text><line x1="132.9" y1="1257.5" x2="132.9" y2="1260.3" stroke="#000" stroke-width="1.2" /><line x1="166.3" y1="1257.5" x2="166.3" y2="1262.5" stroke="#000" stroke-width="1.2" /><text x="166.3" y="1278.8" font-family="'Liberation Sans', Arial, sans-serif" font-size="16.3" font-weight="bold" fill="#000" text-anchor="middle" >288</text><line x1="199.8" y1="1257.5" x2="199.8" y2="1260.3" stroke="#000" stroke-width="1.2" /><line x1="233.2" y1="1257.5" x2="233.2" y2="1262.5" stroke="#000" stroke-width="1.2" /><text x="233.2" y="1278.8" font-family="'Liberation Sans', Arial, sans-serif" font-size="16.3" font-weight="bold" fill="#000" text-anchor="middle" >285</text><line x1="266.6" y1="1257.5" x2="266.6" y2="1260.3" stroke="#000" stroke-width="1.2" /><line x1="300.1" y1="1257.5" x2="300.1" y2="1262.5" stroke="#000" stroke-width="1.2" /><text x="300.1" y="1278.8" font-family="'Liberation Sans', Arial, sans-serif" font-size="16.3" font-weight="bold" fill="#000" text-anchor="middle" >282</text><line x1="333.6" y1="1257.5" x2="333.6" y2="1260.3" stroke="#000" stroke-width="1.2" /><text x="189.1" y="1299.9" font-family="'Liberation Serif', 'Times New Roman', serif" font-size="21.6" font-weight="bold" fill="#000" text-anchor="middle" >Binding energy (eV)</text><text x="66.4" y="1134.3" font-family="'Liberation Serif', 'Times New Roman', serif" font-size="23.5" font-weight="bold" fill="#E8731F" xml:space="preserve">C 1<tspan font-style="italic">s</tspan>   0s</text><text x="261" y="1075.3" font-family="'Liberation Serif', 'Times New Roman', serif" font-size="16.5" font-weight="bold" fill="#F2C400" text-anchor="start" >C-C/C-H</text><text x="169.7" y="1154.8" font-family="'Liberation Serif', 'Times New Roman', serif" font-size="16.5" font-weight="bold" fill="#1C8C88" text-anchor="start" >C≡N</text><text x="157" y="1175" font-family="'Liberation Serif', 'Times New Roman', serif" font-size="16.5" font-weight="bold" fill="#F07A22" text-anchor="start" >C-O</text><text x="111.7" y="1191.3" font-family="'Liberation Serif', 'Times New Roman', serif" font-size="16.5" font-weight="bold" fill="#8EAA78" text-anchor="start" >RCO<tspan font-size="11" dy="4">2</tspan><tspan dy="-4">Na</tspan></text><text x="74.8" y="1210.9" font-family="'Liberation Serif', 'Times New Roman', serif" font-size="16.5" font-weight="bold" fill="#C8A000" text-anchor="start" >O-C=O</text><path d="M367.4 1229.1 L369.5 1229.2 L371.6 1229.3 L373.7 1229.4 L375.8 1229.5 L377.9 1229.6 L380 1229.6 L382.1 1229.7 L384.2 1229.8 L386.3 1229.9 L388.4 1230 L390.5 1230 L392.6 1230.1 L394.7 1230.2 L396.8 1230.2 L398.8 1230.3 L400.9 1230.3 L403 1230.3 L405.1 1230.4 L407.2 1230.4 L409.3 1230.3 L411.4 1230.3 L413.5 1230.2 L415.6 1230.1 L417.7 1230 L419.8 1229.8 L421.9 1229.6 L424 1229.3 L426.1 1228.9 L428.2 1228.5 L430.3 1228.1 L432.4 1227.5 L434.5 1226.9 L436.6 1226.3 L438.7 1225.5 L440.8 1224.8 L442.9 1223.9 L445 1223.1 L447.1 1222.2 L449.2 1221.4 L451.3 1220.6 L453.4 1219.8 L455.5 1219.2 L457.6 1218.7 L459.7 1218.3 L461.7 1218.2 L463.8 1218.2 L465.9 1218.5 L468 1219 L470.1 1219.6 L472.2 1220.4 L474.3 1221.3 L476.4 1222.3 L478.5 1223.4 L480.6 1224.5 L482.7 1225.5 L484.8 1226.6 L486.9 1227.6 L489 1228.6 L491.1 1229.5 L493.2 1230.3 L495.3 1231.1 L497.4 1231.8 L499.5 1232.5 L501.6 1233 L503.7 1233.6 L505.8 1234 L507.9 1234.5 L510 1234.8 L512.1 1235.2 L514.2 1235.5 L516.3 1235.7 L518.4 1236 L520.5 1236.2 L522.6 1236.4 L524.6 1236.6 L526.7 1236.8 L528.8 1237 L530.9 1237.1 L533 1237.3 L535.1 1237.4 L537.2 1237.6 L539.3 1237.7 L541.4 1237.8 L543.5 1238 L545.6 1238.1 L547.7 1238.2 L549.8 1238.4 L551.9 1238.5 L554 1238.6 L556.1 1238.8 L558.2 1238.9 L560.3 1239 L562.4 1239.1 L564.5 1239.2 L566.6 1239.4 L568.7 1239.5 L570.8 1239.6 L572.9 1239.7 L575 1239.8 L577.1 1240 L579.2 1240.1 L581.3 1240.2 L583.4 1240.3 L585.5 1240.4 L587.5 1240.5 L589.6 1240.7 L591.7 1240.8 L593.8 1240.9 L595.9 1241 L598 1241.1 L600.1 1241.2 L602.2 1241.3 L604.3 1241.5 L606.4 1241.6 L608.5 1241.7 L610.6 1241.8 L612.7 1241.9 L614.8 1242 L616.9 1242.1 L619 1242.2 L621.1 1242.3 L679.8 1245.5 L679.8 1246.7 L367.4 1230.7Z" fill="#E6CC80" fill-opacity="0.68" stroke="none"/><path d="M367.4 1229.5 L369.5 1229.5 L371.6 1229.6 L373.7 1229.7 L375.8 1229.8 L377.9 1229.9 L380 1230 L382.1 1230.1 L384.2 1230.2 L386.3 1230.3 L388.4 1230.4 L390.5 1230.5 L392.6 1230.6 L394.7 1230.7 L396.8 1230.8 L398.8 1230.9 L400.9 1231 L403 1231.1 L405.1 1231.2 L407.2 1231.3 L409.3 1231.3 L411.4 1231.4 L413.5 1231.5 L415.6 1231.6 L417.7 1231.7 L419.8 1231.8 L421.9 1231.9 L424 1232 L426.1 1232.1 L428.2 1232.1 L430.3 1232.2 L432.4 1232.3 L434.5 1232.4 L436.6 1232.5 L438.7 1232.5 L440.8 1232.6 L442.9 1232.6 L445 1232.7 L447.1 1232.7 L449.2 1232.8 L451.3 1232.8 L453.4 1232.8 L455.5 1232.8 L457.6 1232.7 L459.7 1232.7 L461.7 1232.5 L463.8 1232.4 L465.9 1232.1 L468 1231.7 L470.1 1231.3 L472.2 1230.7 L474.3 1230.1 L476.4 1229.2 L478.5 1228.3 L480.6 1227.2 L482.7 1226 L484.8 1224.6 L486.9 1223.2 L489 1221.8 L491.1 1220.4 L493.2 1219.1 L495.3 1218 L497.4 1217.1 L499.5 1216.7 L501.6 1216.6 L503.7 1217 L505.8 1217.9 L507.9 1219 L510 1220.4 L512.1 1222 L514.2 1223.6 L516.3 1225.3 L518.4 1226.9 L520.5 1228.4 L522.6 1229.8 L524.6 1231.1 L526.7 1232.2 L528.8 1233.2 L530.9 1234 L533 1234.7 L535.1 1235.4 L537.2 1235.9 L539.3 1236.3 L541.4 1236.7 L543.5 1237 L545.6 1237.3 L547.7 1237.6 L549.8 1237.8 L551.9 1238 L554 1238.2 L556.1 1238.4 L558.2 1238.5 L560.3 1238.7 L562.4 1238.8 L564.5 1239 L566.6 1239.1 L568.7 1239.3 L570.8 1239.4 L572.9 1239.5 L575 1239.7 L577.1 1239.8 L579.2 1239.9 L581.3 1240.1 L583.4 1240.2 L585.5 1240.3 L587.5 1240.4 L589.6 1240.6 L591.7 1240.7 L593.8 1240.8 L595.9 1240.9 L598 1241 L600.1 1241.2 L602.2 1241.3 L604.3 1241.4 L606.4 1241.5 L608.5 1241.6 L610.6 1241.7 L612.7 1241.9 L614.8 1242 L616.9 1242.1 L619 1242.2 L621.1 1242.3 L623.2 1242.4 L625.3 1242.5 L627.4 1242.7 L629.5 1242.8 L631.6 1242.9 L633.7 1243 L679.8 1245.5 L679.8 1246.7 L367.4 1230.7Z" fill="#B8D4AC" fill-opacity="0.68" stroke="none"/><path d="M367.4 1229.3 L369.5 1229.4 L371.6 1229.5 L373.7 1229.6 L375.8 1229.7 L377.9 1229.8 L380 1229.9 L382.1 1230 L384.2 1230.1 L386.3 1230.2 L388.4 1230.3 L390.5 1230.4 L392.6 1230.5 L394.7 1230.6 L396.8 1230.7 L398.8 1230.8 L400.9 1230.9 L403 1231 L405.1 1231.1 L407.2 1231.2 L409.3 1231.3 L411.4 1231.4 L413.5 1231.5 L415.6 1231.6 L417.7 1231.7 L419.8 1231.8 L421.9 1231.9 L424 1232 L426.1 1232.1 L428.2 1232.2 L430.3 1232.3 L432.4 1232.4 L434.5 1232.4 L436.6 1232.5 L438.7 1232.6 L440.8 1232.7 L442.9 1232.8 L445 1232.9 L447.1 1232.9 L449.2 1233 L451.3 1233.1 L453.4 1233.2 L455.5 1233.2 L457.6 1233.3 L459.7 1233.4 L461.7 1233.4 L463.8 1233.5 L465.9 1233.5 L468 1233.6 L470.1 1233.6 L472.2 1233.7 L474.3 1233.7 L476.4 1233.7 L478.5 1233.8 L480.6 1233.8 L482.7 1233.8 L484.8 1233.7 L486.9 1233.7 L489 1233.6 L491.1 1233.6 L493.2 1233.4 L495.3 1233.3 L497.4 1233.1 L499.5 1232.7 L501.6 1232.3 L503.7 1231.7 L505.8 1230.9 L507.9 1229.9 L510 1228.5 L512.1 1226.7 L514.2 1224.4 L516.3 1221.6 L518.4 1218.2 L520.5 1214.3 L522.6 1209.9 L524.6 1205 L526.7 1199.9 L528.8 1194.8 L530.9 1189.9 L533 1185.8 L535.1 1182.8 L537.2 1181.4 L539.3 1181.7 L541.4 1183.8 L543.5 1187.4 L545.6 1191.9 L547.7 1197.1 L549.8 1202.5 L551.9 1207.8 L554 1212.8 L556.1 1217.3 L558.2 1221.3 L560.3 1224.7 L562.4 1227.5 L564.5 1229.9 L566.6 1231.8 L568.7 1233.3 L570.8 1234.5 L572.9 1235.5 L575 1236.2 L577.1 1236.8 L579.2 1237.3 L581.3 1237.8 L583.4 1238.1 L585.5 1238.4 L587.5 1238.7 L589.6 1239 L591.7 1239.2 L593.8 1239.5 L595.9 1239.7 L598 1239.9 L600.1 1240.1 L602.2 1240.3 L604.3 1240.5 L606.4 1240.6 L608.5 1240.8 L610.6 1241 L612.7 1241.1 L614.8 1241.3 L616.9 1241.4 L619 1241.6 L621.1 1241.7 L623.2 1241.9 L625.3 1242 L627.4 1242.2 L629.5 1242.3 L631.6 1242.4 L633.7 1242.6 L635.8 1242.7 L637.9 1242.8 L640 1242.9 L642.1 1243.1 L644.2 1243.2 L646.3 1243.3 L648.4 1243.5 L650.4 1243.6 L652.5 1243.7 L654.6 1243.8 L656.7 1243.9 L658.8 1244.1 L660.9 1244.2 L663 1244.3 L665.1 1244.4 L667.2 1244.5 L669.3 1244.7 L671.4 1244.8 L673.5 1244.9 L675.6 1245 L677.7 1245.1 L679.8 1245.2 L679.8 1246.7 L367.4 1230.7Z" fill="#F9B48A" fill-opacity="0.68" stroke="none"/><path d="M367.4 1229.3 L369.5 1229.4 L371.6 1229.5 L373.7 1229.7 L375.8 1229.8 L377.9 1229.9 L380 1230 L382.1 1230.1 L384.2 1230.2 L386.3 1230.3 L388.4 1230.4 L390.5 1230.5 L392.6 1230.6 L394.7 1230.7 L396.8 1230.8 L398.8 1230.9 L400.9 1231 L403 1231.1 L405.1 1231.2 L407.2 1231.3 L409.3 1231.4 L411.4 1231.5 L413.5 1231.6 L415.6 1231.7 L417.7 1231.8 L419.8 1231.9 L421.9 1232 L424 1232.1 L426.1 1232.2 L428.2 1232.3 L430.3 1232.4 L432.4 1232.5 L434.5 1232.6 L436.6 1232.7 L438.7 1232.8 L440.8 1232.9 L442.9 1232.9 L445 1233 L447.1 1233.1 L449.2 1233.2 L451.3 1233.3 L453.4 1233.4 L455.5 1233.5 L457.6 1233.6 L459.7 1233.7 L461.7 1233.7 L463.8 1233.8 L465.9 1233.9 L468 1234 L470.1 1234.1 L472.2 1234.1 L474.3 1234.2 L476.4 1234.3 L478.5 1234.3 L480.6 1234.4 L482.7 1234.5 L484.8 1234.5 L486.9 1234.6 L489 1234.6 L491.1 1234.7 L493.2 1234.7 L495.3 1234.7 L497.4 1234.8 L499.5 1234.8 L501.6 1234.8 L503.7 1234.8 L505.8 1234.8 L507.9 1234.8 L510 1234.7 L512.1 1234.6 L514.2 1234.5 L516.3 1234.4 L518.4 1234.2 L520.5 1234 L522.6 1233.6 L524.6 1233.2 L526.7 1232.5 L528.8 1231.7 L530.9 1230.6 L533 1229.1 L535.1 1227.1 L537.2 1224.7 L539.3 1221.7 L541.4 1218.1 L543.5 1213.9 L545.6 1209 L547.7 1203.7 L549.8 1198.1 L551.9 1192.4 L554 1186.9 L556.1 1182.2 L558.2 1178.6 L560.3 1176.7 L562.4 1176.8 L564.5 1178.8 L566.6 1182.4 L568.7 1187.3 L570.8 1192.9 L572.9 1198.9 L575 1204.7 L577.1 1210.3 L579.2 1215.4 L581.3 1219.9 L583.4 1223.7 L585.5 1227 L587.5 1229.7 L589.6 1231.8 L591.7 1233.6 L593.8 1234.9 L595.9 1236 L598 1236.9 L600.1 1237.6 L602.2 1238.1 L604.3 1238.6 L606.4 1239 L608.5 1239.4 L610.6 1239.7 L612.7 1240 L614.8 1240.2 L616.9 1240.5 L619 1240.7 L621.1 1240.9 L623.2 1241.1 L625.3 1241.3 L627.4 1241.5 L629.5 1241.7 L631.6 1241.9 L633.7 1242 L635.8 1242.2 L637.9 1242.4 L640 1242.5 L642.1 1242.7 L644.2 1242.8 L646.3 1243 L648.4 1243.1 L650.4 1243.3 L652.5 1243.4 L654.6 1243.5 L656.7 1243.7 L658.8 1243.8 L660.9 1243.9 L663 1244.1 L665.1 1244.2 L667.2 1244.3 L669.3 1244.5 L671.4 1244.6 L673.5 1244.7 L675.6 1244.8 L677.7 1245 L679.8 1245.1 L679.8 1246.7 L367.4 1230.7Z" fill="#7CC0B8" fill-opacity="0.68" stroke="none"/><path d="M367.4 1229.2 L369.5 1229.3 L371.6 1229.4 L373.7 1229.5 L375.8 1229.6 L377.9 1229.7 L380 1229.8 L382.1 1229.9 L384.2 1230 L386.3 1230.1 L388.4 1230.2 L390.5 1230.3 L392.6 1230.4 L394.7 1230.5 L396.8 1230.6 L398.8 1230.7 L400.9 1230.8 L403 1230.9 L405.1 1231 L407.2 1231.1 L409.3 1231.2 L411.4 1231.2 L413.5 1231.3 L415.6 1231.4 L417.7 1231.5 L419.8 1231.6 L421.9 1231.7 L424 1231.8 L426.1 1231.9 L428.2 1232 L430.3 1232.1 L432.4 1232.2 L434.5 1232.3 L436.6 1232.3 L438.7 1232.4 L440.8 1232.5 L442.9 1232.6 L445 1232.7 L447.1 1232.8 L449.2 1232.9 L451.3 1232.9 L453.4 1233 L455.5 1233.1 L457.6 1233.2 L459.7 1233.3 L461.7 1233.3 L463.8 1233.4 L465.9 1233.5 L468 1233.5 L470.1 1233.6 L472.2 1233.7 L474.3 1233.7 L476.4 1233.8 L478.5 1233.8 L480.6 1233.9 L482.7 1234 L484.8 1234 L486.9 1234 L489 1234.1 L491.1 1234.1 L493.2 1234.1 L495.3 1234.2 L497.4 1234.2 L499.5 1234.2 L501.6 1234.2 L503.7 1234.2 L505.8 1234.2 L507.9 1234.2 L510 1234.1 L512.1 1234.1 L514.2 1234 L516.3 1234 L518.4 1233.9 L520.5 1233.8 L522.6 1233.6 L524.6 1233.5 L526.7 1233.3 L528.8 1233.1 L530.9 1232.8 L533 1232.5 L535.1 1232.2 L537.2 1231.7 L539.3 1231.1 L541.4 1230.4 L543.5 1229.5 L545.6 1228.3 L547.7 1226.7 L549.8 1224.7 L551.9 1222 L554 1218.6 L556.1 1214.2 L558.2 1208.8 L560.3 1202.1 L562.4 1194.1 L564.5 1184.8 L566.6 1174.1 L568.7 1162.2 L570.8 1149.5 L572.9 1136.4 L575 1123.4 L577.1 1111.6 L579.2 1101.8 L581.3 1095 L583.4 1092.2 L585.5 1093.8 L587.5 1099.5 L589.6 1108.6 L591.7 1120.1 L593.8 1133 L595.9 1146.3 L598 1159.5 L600.1 1171.9 L602.2 1183.2 L604.3 1193.2 L606.4 1201.9 L608.5 1209.2 L610.6 1215.3 L612.7 1220.2 L614.8 1224.1 L616.9 1227.2 L619 1229.7 L621.1 1231.6 L623.2 1233.2 L625.3 1234.4 L627.4 1235.4 L629.5 1236.2 L631.6 1236.9 L633.7 1237.5 L635.8 1238.1 L637.9 1238.6 L640 1239 L642.1 1239.4 L644.2 1239.8 L646.3 1240.1 L648.4 1240.5 L650.4 1240.8 L652.5 1241.1 L654.6 1241.3 L656.7 1241.6 L658.8 1241.8 L660.9 1242.1 L663 1242.3 L665.1 1242.5 L667.2 1242.8 L669.3 1243 L671.4 1243.2 L673.5 1243.3 L675.6 1243.5 L677.7 1243.7 L679.8 1243.9 L679.8 1246.7 L367.4 1230.7Z" fill="#FFE67A" fill-opacity="0.68" stroke="none"/><path d="M367.4 1229.1 L369.5 1229.2 L371.6 1229.3 L373.7 1229.4 L375.8 1229.5 L377.9 1229.6 L380 1229.6 L382.1 1229.7 L384.2 1229.8 L386.3 1229.9 L388.4 1230 L390.5 1230 L392.6 1230.1 L394.7 1230.2 L396.8 1230.2 L398.8 1230.3 L400.9 1230.3 L403 1230.3 L405.1 1230.4 L407.2 1230.4 L409.3 1230.3 L411.4 1230.3 L413.5 1230.2 L415.6 1230.1 L417.7 1230 L419.8 1229.8 L421.9 1229.6 L424 1229.3 L426.1 1228.9 L428.2 1228.5 L430.3 1228.1 L432.4 1227.5 L434.5 1226.9 L436.6 1226.3 L438.7 1225.5 L440.8 1224.8 L442.9 1223.9 L445 1223.1 L447.1 1222.2 L449.2 1221.4 L451.3 1220.6 L453.4 1219.8 L455.5 1219.2 L457.6 1218.7 L459.7 1218.3 L461.7 1218.2 L463.8 1218.2 L465.9 1218.5 L468 1219 L470.1 1219.6 L472.2 1220.4 L474.3 1221.3 L476.4 1222.3 L478.5 1223.4 L480.6 1224.5 L482.7 1225.5 L484.8 1226.6 L486.9 1227.6 L489 1228.6 L491.1 1229.5 L493.2 1230.3 L495.3 1231.1 L497.4 1231.8 L499.5 1232.5 L501.6 1233 L503.7 1233.6 L505.8 1234 L507.9 1234.5 L510 1234.8 L512.1 1235.2 L514.2 1235.5 L516.3 1235.7 L518.4 1236 L520.5 1236.2 L522.6 1236.4 L524.6 1236.6 L526.7 1236.8 L528.8 1237 L530.9 1237.1 L533 1237.3 L535.1 1237.4 L537.2 1237.6 L539.3 1237.7 L541.4 1237.8 L543.5 1238 L545.6 1238.1 L547.7 1238.2 L549.8 1238.4 L551.9 1238.5 L554 1238.6 L556.1 1238.8 L558.2 1238.9 L560.3 1239 L562.4 1239.1 L564.5 1239.2 L566.6 1239.4 L568.7 1239.5 L570.8 1239.6 L572.9 1239.7 L575 1239.8 L577.1 1240 L579.2 1240.1 L581.3 1240.2 L583.4 1240.3 L585.5 1240.4 L587.5 1240.5 L589.6 1240.7 L591.7 1240.8 L593.8 1240.9 L595.9 1241 L598 1241.1 L600.1 1241.2 L602.2 1241.3 L604.3 1241.5 L606.4 1241.6 L608.5 1241.7 L610.6 1241.8 L612.7 1241.9 L614.8 1242 L616.9 1242.1 L619 1242.2 L621.1 1242.3 L679.8 1245.5" stroke="#C49A10" stroke-width="1.1" fill="none" stroke-linejoin="round" /><path d="M367.4 1229.5 L369.5 1229.5 L371.6 1229.6 L373.7 1229.7 L375.8 1229.8 L377.9 1229.9 L380 1230 L382.1 1230.1 L384.2 1230.2 L386.3 1230.3 L388.4 1230.4 L390.5 1230.5 L392.6 1230.6 L394.7 1230.7 L396.8 1230.8 L398.8 1230.9 L400.9 1231 L403 1231.1 L405.1 1231.2 L407.2 1231.3 L409.3 1231.3 L411.4 1231.4 L413.5 1231.5 L415.6 1231.6 L417.7 1231.7 L419.8 1231.8 L421.9 1231.9 L424 1232 L426.1 1232.1 L428.2 1232.1 L430.3 1232.2 L432.4 1232.3 L434.5 1232.4 L436.6 1232.5 L438.7 1232.5 L440.8 1232.6 L442.9 1232.6 L445 1232.7 L447.1 1232.7 L449.2 1232.8 L451.3 1232.8 L453.4 1232.8 L455.5 1232.8 L457.6 1232.7 L459.7 1232.7 L461.7 1232.5 L463.8 1232.4 L465.9 1232.1 L468 1231.7 L470.1 1231.3 L472.2 1230.7 L474.3 1230.1 L476.4 1229.2 L478.5 1228.3 L480.6 1227.2 L482.7 1226 L484.8 1224.6 L486.9 1223.2 L489 1221.8 L491.1 1220.4 L493.2 1219.1 L495.3 1218 L497.4 1217.1 L499.5 1216.7 L501.6 1216.6 L503.7 1217 L505.8 1217.9 L507.9 1219 L510 1220.4 L512.1 1222 L514.2 1223.6 L516.3 1225.3 L518.4 1226.9 L520.5 1228.4 L522.6 1229.8 L524.6 1231.1 L526.7 1232.2 L528.8 1233.2 L530.9 1234 L533 1234.7 L535.1 1235.4 L537.2 1235.9 L539.3 1236.3 L541.4 1236.7 L543.5 1237 L545.6 1237.3 L547.7 1237.6 L549.8 1237.8 L551.9 1238 L554 1238.2 L556.1 1238.4 L558.2 1238.5 L560.3 1238.7 L562.4 1238.8 L564.5 1239 L566.6 1239.1 L568.7 1239.3 L570.8 1239.4 L572.9 1239.5 L575 1239.7 L577.1 1239.8 L579.2 1239.9 L581.3 1240.1 L583.4 1240.2 L585.5 1240.3 L587.5 1240.4 L589.6 1240.6 L591.7 1240.7 L593.8 1240.8 L595.9 1240.9 L598 1241 L600.1 1241.2 L602.2 1241.3 L604.3 1241.4 L606.4 1241.5 L608.5 1241.6 L610.6 1241.7 L612.7 1241.9 L614.8 1242 L616.9 1242.1 L619 1242.2 L621.1 1242.3 L623.2 1242.4 L625.3 1242.5 L627.4 1242.7 L629.5 1242.8 L631.6 1242.9 L633.7 1243 L679.8 1245.5" stroke="#88AA80" stroke-width="1.1" fill="none" stroke-linejoin="round" /><path d="M367.4 1229.3 L369.5 1229.4 L371.6 1229.5 L373.7 1229.6 L375.8 1229.7 L377.9 1229.8 L380 1229.9 L382.1 1230 L384.2 1230.1 L386.3 1230.2 L388.4 1230.3 L390.5 1230.4 L392.6 1230.5 L394.7 1230.6 L396.8 1230.7 L398.8 1230.8 L400.9 1230.9 L403 1231 L405.1 1231.1 L407.2 1231.2 L409.3 1231.3 L411.4 1231.4 L413.5 1231.5 L415.6 1231.6 L417.7 1231.7 L419.8 1231.8 L421.9 1231.9 L424 1232 L426.1 1232.1 L428.2 1232.2 L430.3 1232.3 L432.4 1232.4 L434.5 1232.4 L436.6 1232.5 L438.7 1232.6 L440.8 1232.7 L442.9 1232.8 L445 1232.9 L447.1 1232.9 L449.2 1233 L451.3 1233.1 L453.4 1233.2 L455.5 1233.2 L457.6 1233.3 L459.7 1233.4 L461.7 1233.4 L463.8 1233.5 L465.9 1233.5 L468 1233.6 L470.1 1233.6 L472.2 1233.7 L474.3 1233.7 L476.4 1233.7 L478.5 1233.8 L480.6 1233.8 L482.7 1233.8 L484.8 1233.7 L486.9 1233.7 L489 1233.6 L491.1 1233.6 L493.2 1233.4 L495.3 1233.3 L497.4 1233.1 L499.5 1232.7 L501.6 1232.3 L503.7 1231.7 L505.8 1230.9 L507.9 1229.9 L510 1228.5 L512.1 1226.7 L514.2 1224.4 L516.3 1221.6 L518.4 1218.2 L520.5 1214.3 L522.6 1209.9 L524.6 1205 L526.7 1199.9 L528.8 1194.8 L530.9 1189.9 L533 1185.8 L535.1 1182.8 L537.2 1181.4 L539.3 1181.7 L541.4 1183.8 L543.5 1187.4 L545.6 1191.9 L547.7 1197.1 L549.8 1202.5 L551.9 1207.8 L554 1212.8 L556.1 1217.3 L558.2 1221.3 L560.3 1224.7 L562.4 1227.5 L564.5 1229.9 L566.6 1231.8 L568.7 1233.3 L570.8 1234.5 L572.9 1235.5 L575 1236.2 L577.1 1236.8 L579.2 1237.3 L581.3 1237.8 L583.4 1238.1 L585.5 1238.4 L587.5 1238.7 L589.6 1239 L591.7 1239.2 L593.8 1239.5 L595.9 1239.7 L598 1239.9 L600.1 1240.1 L602.2 1240.3 L604.3 1240.5 L606.4 1240.6 L608.5 1240.8 L610.6 1241 L612.7 1241.1 L614.8 1241.3 L616.9 1241.4 L619 1241.6 L621.1 1241.7 L623.2 1241.9 L625.3 1242 L627.4 1242.2 L629.5 1242.3 L631.6 1242.4 L633.7 1242.6 L635.8 1242.7 L637.9 1242.8 L640 1242.9 L642.1 1243.1 L644.2 1243.2 L646.3 1243.3 L648.4 1243.5 L650.4 1243.6 L652.5 1243.7 L654.6 1243.8 L656.7 1243.9 L658.8 1244.1 L660.9 1244.2 L663 1244.3 L665.1 1244.4 L667.2 1244.5 L669.3 1244.7 L671.4 1244.8 L673.5 1244.9 L675.6 1245 L677.7 1245.1 L679.8 1245.2" stroke="#F07A22" stroke-width="1.1" fill="none" stroke-linejoin="round" /><path d="M367.4 1229.3 L369.5 1229.4 L371.6 1229.5 L373.7 1229.7 L375.8 1229.8 L377.9 1229.9 L380 1230 L382.1 1230.1 L384.2 1230.2 L386.3 1230.3 L388.4 1230.4 L390.5 1230.5 L392.6 1230.6 L394.7 1230.7 L396.8 1230.8 L398.8 1230.9 L400.9 1231 L403 1231.1 L405.1 1231.2 L407.2 1231.3 L409.3 1231.4 L411.4 1231.5 L413.5 1231.6 L415.6 1231.7 L417.7 1231.8 L419.8 1231.9 L421.9 1232 L424 1232.1 L426.1 1232.2 L428.2 1232.3 L430.3 1232.4 L432.4 1232.5 L434.5 1232.6 L436.6 1232.7 L438.7 1232.8 L440.8 1232.9 L442.9 1232.9 L445 1233 L447.1 1233.1 L449.2 1233.2 L451.3 1233.3 L453.4 1233.4 L455.5 1233.5 L457.6 1233.6 L459.7 1233.7 L461.7 1233.7 L463.8 1233.8 L465.9 1233.9 L468 1234 L470.1 1234.1 L472.2 1234.1 L474.3 1234.2 L476.4 1234.3 L478.5 1234.3 L480.6 1234.4 L482.7 1234.5 L484.8 1234.5 L486.9 1234.6 L489 1234.6 L491.1 1234.7 L493.2 1234.7 L495.3 1234.7 L497.4 1234.8 L499.5 1234.8 L501.6 1234.8 L503.7 1234.8 L505.8 1234.8 L507.9 1234.8 L510 1234.7 L512.1 1234.6 L514.2 1234.5 L516.3 1234.4 L518.4 1234.2 L520.5 1234 L522.6 1233.6 L524.6 1233.2 L526.7 1232.5 L528.8 1231.7 L530.9 1230.6 L533 1229.1 L535.1 1227.1 L537.2 1224.7 L539.3 1221.7 L541.4 1218.1 L543.5 1213.9 L545.6 1209 L547.7 1203.7 L549.8 1198.1 L551.9 1192.4 L554 1186.9 L556.1 1182.2 L558.2 1178.6 L560.3 1176.7 L562.4 1176.8 L564.5 1178.8 L566.6 1182.4 L568.7 1187.3 L570.8 1192.9 L572.9 1198.9 L575 1204.7 L577.1 1210.3 L579.2 1215.4 L581.3 1219.9 L583.4 1223.7 L585.5 1227 L587.5 1229.7 L589.6 1231.8 L591.7 1233.6 L593.8 1234.9 L595.9 1236 L598 1236.9 L600.1 1237.6 L602.2 1238.1 L604.3 1238.6 L606.4 1239 L608.5 1239.4 L610.6 1239.7 L612.7 1240 L614.8 1240.2 L616.9 1240.5 L619 1240.7 L621.1 1240.9 L623.2 1241.1 L625.3 1241.3 L627.4 1241.5 L629.5 1241.7 L631.6 1241.9 L633.7 1242 L635.8 1242.2 L637.9 1242.4 L640 1242.5 L642.1 1242.7 L644.2 1242.8 L646.3 1243 L648.4 1243.1 L650.4 1243.3 L652.5 1243.4 L654.6 1243.5 L656.7 1243.7 L658.8 1243.8 L660.9 1243.9 L663 1244.1 L665.1 1244.2 L667.2 1244.3 L669.3 1244.5 L671.4 1244.6 L673.5 1244.7 L675.6 1244.8 L677.7 1245 L679.8 1245.1" stroke="#2E9690" stroke-width="1.1" fill="none" stroke-linejoin="round" /><path d="M367.4 1229.2 L369.5 1229.3 L371.6 1229.4 L373.7 1229.5 L375.8 1229.6 L377.9 1229.7 L380 1229.8 L382.1 1229.9 L384.2 1230 L386.3 1230.1 L388.4 1230.2 L390.5 1230.3 L392.6 1230.4 L394.7 1230.5 L396.8 1230.6 L398.8 1230.7 L400.9 1230.8 L403 1230.9 L405.1 1231 L407.2 1231.1 L409.3 1231.2 L411.4 1231.2 L413.5 1231.3 L415.6 1231.4 L417.7 1231.5 L419.8 1231.6 L421.9 1231.7 L424 1231.8 L426.1 1231.9 L428.2 1232 L430.3 1232.1 L432.4 1232.2 L434.5 1232.3 L436.6 1232.3 L438.7 1232.4 L440.8 1232.5 L442.9 1232.6 L445 1232.7 L447.1 1232.8 L449.2 1232.9 L451.3 1232.9 L453.4 1233 L455.5 1233.1 L457.6 1233.2 L459.7 1233.3 L461.7 1233.3 L463.8 1233.4 L465.9 1233.5 L468 1233.5 L470.1 1233.6 L472.2 1233.7 L474.3 1233.7 L476.4 1233.8 L478.5 1233.8 L480.6 1233.9 L482.7 1234 L484.8 1234 L486.9 1234 L489 1234.1 L491.1 1234.1 L493.2 1234.1 L495.3 1234.2 L497.4 1234.2 L499.5 1234.2 L501.6 1234.2 L503.7 1234.2 L505.8 1234.2 L507.9 1234.2 L510 1234.1 L512.1 1234.1 L514.2 1234 L516.3 1234 L518.4 1233.9 L520.5 1233.8 L522.6 1233.6 L524.6 1233.5 L526.7 1233.3 L528.8 1233.1 L530.9 1232.8 L533 1232.5 L535.1 1232.2 L537.2 1231.7 L539.3 1231.1 L541.4 1230.4 L543.5 1229.5 L545.6 1228.3 L547.7 1226.7 L549.8 1224.7 L551.9 1222 L554 1218.6 L556.1 1214.2 L558.2 1208.8 L560.3 1202.1 L562.4 1194.1 L564.5 1184.8 L566.6 1174.1 L568.7 1162.2 L570.8 1149.5 L572.9 1136.4 L575 1123.4 L577.1 1111.6 L579.2 1101.8 L581.3 1095 L583.4 1092.2 L585.5 1093.8 L587.5 1099.5 L589.6 1108.6 L591.7 1120.1 L593.8 1133 L595.9 1146.3 L598 1159.5 L600.1 1171.9 L602.2 1183.2 L604.3 1193.2 L606.4 1201.9 L608.5 1209.2 L610.6 1215.3 L612.7 1220.2 L614.8 1224.1 L616.9 1227.2 L619 1229.7 L621.1 1231.6 L623.2 1233.2 L625.3 1234.4 L627.4 1235.4 L629.5 1236.2 L631.6 1236.9 L633.7 1237.5 L635.8 1238.1 L637.9 1238.6 L640 1239 L642.1 1239.4 L644.2 1239.8 L646.3 1240.1 L648.4 1240.5 L650.4 1240.8 L652.5 1241.1 L654.6 1241.3 L656.7 1241.6 L658.8 1241.8 L660.9 1242.1 L663 1242.3 L665.1 1242.5 L667.2 1242.8 L669.3 1243 L671.4 1243.2 L673.5 1243.3 L675.6 1243.5 L677.7 1243.7 L679.8 1243.9" stroke="#F0C400" stroke-width="1.1" fill="none" stroke-linejoin="round" /><path d="M367.4 1230.5 L679.8 1246.5" stroke="#E88A2A" stroke-width="1.4" fill="none" stroke-linejoin="round" /><path d="M367.4 1231.7 L679.8 1247.7" stroke="#3A9A98" stroke-width="1.2" fill="none" stroke-linejoin="round" /><path d="M367.4 1227.2 L369.5 1228.8 L371.6 1231.3 L373.7 1229.5 L375.8 1226.5 L377.9 1227.1 L380 1227.8 L382.1 1227.5 L384.2 1226.6 L386.3 1228.3 L388.4 1230.5 L390.5 1231.8 L392.6 1230.9 L394.7 1229 L396.8 1228.6 L398.8 1230.3 L400.9 1228.3 L403 1229.3 L405.1 1228.7 L407.2 1227 L409.3 1226.9 L411.4 1227.7 L413.5 1228.8 L415.6 1229.7 L417.7 1229.4 L419.8 1226.3 L421.9 1226.1 L424 1226.7 L426.1 1226.3 L428.2 1223.7 L430.3 1224.3 L432.4 1224.6 L434.5 1223.3 L436.6 1224.7 L438.7 1224.9 L440.8 1224.7 L442.9 1223 L445 1219.1 L447.1 1217.5 L449.2 1218.2 L451.3 1219.1 L453.4 1218 L455.5 1214.8 L457.6 1213.1 L459.7 1212.4 L461.7 1212.3 L463.8 1212.7 L465.9 1214.3 L468 1216 L470.1 1213.6 L472.2 1212.7 L474.3 1213 L476.4 1211.6 L478.5 1211.7 L480.6 1212.8 L482.7 1212.4 L484.8 1210.8 L486.9 1211.7 L489 1210.3 L491.1 1209.5 L493.2 1209.8 L495.3 1209.3 L497.4 1208.5 L499.5 1206.7 L501.6 1205.8 L503.7 1205.2 L505.8 1204.9 L507.9 1206.2 L510 1204.1 L512.1 1203.8 L514.2 1206.2 L516.3 1202.9 L518.4 1199.6 L520.5 1199.2 L522.6 1195 L524.6 1190 L526.7 1183.3 L528.8 1176.5 L530.9 1168.9 L533 1162.8 L535.1 1159.7 L537.2 1158.2 L539.3 1158.2 L541.4 1156.8 L543.5 1152.3 L545.6 1150.7 L547.7 1148.1 L549.8 1144.4 L551.9 1139.5 L554 1135.1 L556.1 1131.2 L558.2 1126.6 L560.3 1122.4 L562.4 1118.2 L564.5 1114.8 L566.6 1109.2 L568.7 1103.5 L570.8 1098.5 L572.9 1091.4 L575 1083.6 L577.1 1077.3 L579.2 1073.6 L581.3 1073.2 L583.4 1074.5 L585.5 1078.9 L587.5 1086.9 L589.6 1097.1 L591.7 1109.9 L593.8 1123.7 L595.9 1140.3 L598 1154.3 L600.1 1167 L602.2 1179.1 L604.3 1188.8 L606.4 1198 L608.5 1207 L610.6 1212 L612.7 1215.7 L614.8 1219.9 L616.9 1223 L619 1228.2 L621.1 1229.8 L623.2 1232.1 L625.3 1236.9 L627.4 1238 L629.5 1236.1 L631.6 1236.6 L633.7 1238.8 L635.8 1239.4 L637.9 1237.8 L640 1238.2 L642.1 1239.9 L644.2 1239.9 L646.3 1240.4 L648.4 1239.7 L650.4 1237.5 L652.5 1235.9 L654.6 1235.3 L656.7 1239.1 L658.8 1241.8 L660.9 1240.9 L663 1243 L665.1 1243.8 L667.2 1242.3 L669.3 1242 L671.4 1241.7 L673.5 1241 L675.6 1241.6 L677.7 1243 L679.8 1244" stroke="#3C3C3C" stroke-width="1.1" fill="none" stroke-linejoin="round" /><path d="M367.4 1228.3 L369.5 1228.4 L371.6 1228.4 L373.7 1228.5 L375.8 1228.6 L377.9 1228.6 L380 1228.7 L382.1 1228.8 L384.2 1228.8 L386.3 1228.9 L388.4 1228.9 L390.5 1229 L392.6 1229 L394.7 1229 L396.8 1229.1 L398.8 1229.1 L400.9 1229.1 L403 1229.1 L405.1 1229.1 L407.2 1229 L409.3 1229 L411.4 1228.9 L413.5 1228.8 L415.6 1228.6 L417.7 1228.4 L419.8 1228.2 L421.9 1227.9 L424 1227.5 L426.1 1227.1 L428.2 1226.7 L430.3 1226.1 L432.4 1225.5 L434.5 1224.8 L436.6 1224.1 L438.7 1223.3 L440.8 1222.4 L442.9 1221.5 L445 1220.5 L447.1 1219.5 L449.2 1218.5 L451.3 1217.5 L453.4 1216.6 L455.5 1215.8 L457.6 1215 L459.7 1214.4 L461.7 1213.9 L463.8 1213.5 L465.9 1213.3 L468 1213.2 L470.1 1213.2 L472.2 1213.2 L474.3 1213.2 L476.4 1213.1 L478.5 1212.9 L480.6 1212.5 L482.7 1212.1 L484.8 1211.4 L486.9 1210.7 L489 1209.8 L491.1 1208.9 L493.2 1207.9 L495.3 1207.1 L497.4 1206.3 L499.5 1205.8 L501.6 1205.5 L503.7 1205.4 L505.8 1205.4 L507.9 1205.5 L510 1205.4 L512.1 1204.9 L514.2 1204 L516.3 1202.5 L518.4 1200.3 L520.5 1197.3 L522.6 1193.6 L524.6 1189.1 L526.7 1184.1 L528.8 1178.6 L530.9 1172.9 L533 1167.5 L535.1 1162.5 L537.2 1158.5 L539.3 1155.4 L541.4 1153.2 L543.5 1151.6 L545.6 1150.2 L547.7 1148.4 L549.8 1146 L551.9 1142.9 L554 1138.8 L556.1 1134.1 L558.2 1129 L560.3 1123.7 L562.4 1118.5 L564.5 1113.3 L566.6 1108 L568.7 1102.4 L570.8 1096.3 L572.9 1089.9 L575 1083.4 L577.1 1077.5 L579.2 1073.1 L581.3 1071.1 L583.4 1072.4 L585.5 1077.3 L587.5 1085.8 L589.6 1097.1 L591.7 1110.4 L593.8 1124.7 L595.9 1139.1 L598 1153.1 L600.1 1166.2 L602.2 1178.1 L604.3 1188.6 L606.4 1197.6 L608.5 1205.3 L610.6 1211.6 L612.7 1216.8 L614.8 1220.9 L616.9 1224.2 L619 1226.9 L621.1 1229 L623.2 1230.6 L625.3 1232 L627.4 1233.1 L629.5 1234.1 L631.6 1234.9 L633.7 1235.6 L635.8 1236.2 L637.9 1236.8 L640 1237.3 L642.1 1237.8 L644.2 1238.2 L646.3 1238.6 L648.4 1239 L650.4 1239.4 L652.5 1239.7 L654.6 1240.1 L656.7 1240.4 L658.8 1240.7 L660.9 1240.9 L663 1241.2 L665.1 1241.5 L667.2 1241.7 L669.3 1242 L671.4 1242.2 L673.5 1242.4 L675.6 1242.6 L677.7 1242.8 L679.8 1243.1" stroke="#F0303A" stroke-width="1.3" fill="none" stroke-linejoin="round" /><line x1="367.4" y1="1257.5" x2="679.8" y2="1257.5" stroke="#000" stroke-width="1.3" /><line x1="367.4" y1="1257.5" x2="367.4" y2="1262.5" stroke="#000" stroke-width="1.2" /><text x="367.4" y="1278.8" font-family="'Liberation Sans', Arial, sans-serif" font-size="16.3" font-weight="bold" fill="#000" text-anchor="middle" >294</text><line x1="400.8" y1="1257.5" x2="400.8" y2="1260.3" stroke="#000" stroke-width="1.2" /><line x1="434.3" y1="1257.5" x2="434.3" y2="1262.5" stroke="#000" stroke-width="1.2" /><text x="434.3" y="1278.8" font-family="'Liberation Sans', Arial, sans-serif" font-size="16.3" font-weight="bold" fill="#000" text-anchor="middle" >291</text><line x1="467.8" y1="1257.5" x2="467.8" y2="1260.3" stroke="#000" stroke-width="1.2" /><line x1="501.2" y1="1257.5" x2="501.2" y2="1262.5" stroke="#000" stroke-width="1.2" /><text x="501.2" y="1278.8" font-family="'Liberation Sans', Arial, sans-serif" font-size="16.3" font-weight="bold" fill="#000" text-anchor="middle" >288</text><line x1="534.6" y1="1257.5" x2="534.6" y2="1260.3" stroke="#000" stroke-width="1.2" /><line x1="568.1" y1="1257.5" x2="568.1" y2="1262.5" stroke="#000" stroke-width="1.2" /><text x="568.1" y="1278.8" font-family="'Liberation Sans', Arial, sans-serif" font-size="16.3" font-weight="bold" fill="#000" text-anchor="middle" >285</text><line x1="601.5" y1="1257.5" x2="601.5" y2="1260.3" stroke="#000" stroke-width="1.2" /><line x1="635" y1="1257.5" x2="635" y2="1262.5" stroke="#000" stroke-width="1.2" /><text x="635" y="1278.8" font-family="'Liberation Sans', Arial, sans-serif" font-size="16.3" font-weight="bold" fill="#000" text-anchor="middle" >282</text><line x1="668.5" y1="1257.5" x2="668.5" y2="1260.3" stroke="#000" stroke-width="1.2" /><text x="523.6" y="1299.9" font-family="'Liberation Serif', 'Times New Roman', serif" font-size="21.6" font-weight="bold" fill="#000" text-anchor="middle" >Binding energy (eV)</text><text x="367" y="1134.3" font-family="'Liberation Serif', 'Times New Roman', serif" font-size="23.5" font-weight="bold" fill="#E8731F" xml:space="preserve">C 1<tspan font-style="italic">s</tspan>   300s</text><text x="490" y="1083.8" font-family="'Liberation Serif', 'Times New Roman', serif" font-size="16.5" font-weight="bold" fill="#F2C400" text-anchor="start" >C-C/C-H</text><text x="499.1" y="1143.8" font-family="'Liberation Serif', 'Times New Roman', serif" font-size="16.5" font-weight="bold" fill="#1C8C88" text-anchor="start" >C≡N</text><text x="496.4" y="1166" font-family="'Liberation Serif', 'Times New Roman', serif" font-size="16.5" font-weight="bold" fill="#F07A22" text-anchor="start" >C-O</text><text x="445.4" y="1189.8" font-family="'Liberation Serif', 'Times New Roman', serif" font-size="16.5" font-weight="bold" fill="#8EAA78" text-anchor="start" >RCO<tspan font-size="11" dy="4">2</tspan><tspan dy="-4">Na</tspan></text><text x="388.9" y="1210.9" font-family="'Liberation Serif', 'Times New Roman', serif" font-size="16.5" font-weight="bold" fill="#C8A000" text-anchor="start" >O-C=O</text><path d="M703.6 1232.2 L705.7 1232.3 L707.8 1232.4 L709.9 1232.5 L712 1232.6 L714.1 1232.6 L716.2 1232.7 L718.3 1232.8 L720.4 1232.9 L722.5 1232.9 L724.6 1233 L726.7 1233.1 L728.8 1233.1 L730.9 1233.2 L733 1233.3 L735.1 1233.3 L737.2 1233.4 L739.3 1233.4 L741.4 1233.4 L743.5 1233.5 L745.6 1233.5 L747.7 1233.4 L749.8 1233.4 L751.9 1233.3 L754 1233.3 L756.2 1233.1 L758.3 1233 L760.4 1232.7 L762.5 1232.5 L764.6 1232.1 L766.7 1231.7 L768.8 1231.3 L770.9 1230.7 L773 1230.1 L775.1 1229.5 L777.2 1228.8 L779.3 1228 L781.4 1227.3 L783.5 1226.5 L785.6 1225.7 L787.7 1225 L789.8 1224.4 L791.9 1223.9 L794 1223.6 L796.1 1223.5 L798.2 1223.6 L800.3 1223.9 L802.4 1224.3 L804.5 1225 L806.6 1225.8 L808.7 1226.7 L810.8 1227.6 L812.9 1228.6 L815 1229.5 L817.1 1230.5 L819.2 1231.4 L821.3 1232.2 L823.4 1233 L825.5 1233.7 L827.6 1234.4 L829.7 1235 L831.8 1235.5 L833.9 1236 L836 1236.4 L838.1 1236.8 L840.2 1237.1 L842.3 1237.4 L844.4 1237.6 L846.5 1237.8 L848.6 1238 L850.7 1238.2 L852.8 1238.4 L854.9 1238.6 L857 1238.7 L859.1 1238.9 L861.3 1239 L863.4 1239.1 L865.5 1239.2 L867.6 1239.4 L869.7 1239.5 L871.8 1239.6 L873.9 1239.7 L876 1239.8 L878.1 1239.9 L880.2 1240.1 L882.3 1240.2 L884.4 1240.3 L886.5 1240.4 L888.6 1240.5 L890.7 1240.6 L892.8 1240.7 L894.9 1240.8 L897 1240.9 L899.1 1241 L901.2 1241.1 L903.3 1241.2 L905.4 1241.3 L907.5 1241.4 L909.6 1241.5 L911.7 1241.6 L913.8 1241.7 L915.9 1241.8 L918 1241.9 L920.1 1242 L922.2 1242.1 L924.3 1242.2 L1016.8 1246.5 L1016.8 1247.7 L703.6 1233.7Z" fill="#E6CC80" fill-opacity="0.68" stroke="none"/><path d="M703.6 1232.5 L741.4 1234 L743.5 1234.1 L745.6 1234.2 L747.7 1234.3 L749.8 1234.4 L751.9 1234.5 L754 1234.6 L756.2 1234.7 L758.3 1234.7 L760.4 1234.8 L762.5 1234.9 L764.6 1235 L766.7 1235.1 L768.8 1235.1 L770.9 1235.2 L773 1235.3 L775.1 1235.4 L777.2 1235.4 L779.3 1235.5 L781.4 1235.6 L783.5 1235.6 L785.6 1235.7 L787.7 1235.8 L789.8 1235.8 L791.9 1235.9 L794 1235.9 L796.1 1235.9 L798.2 1236 L800.3 1236 L802.4 1235.9 L804.5 1235.9 L806.6 1235.8 L808.7 1235.6 L810.8 1235.3 L812.9 1235 L815 1234.5 L817.1 1233.8 L819.2 1233 L821.3 1232.1 L823.4 1230.9 L825.5 1229.6 L827.6 1228.2 L829.7 1226.8 L831.8 1225.4 L833.9 1224.1 L836 1223.1 L838.1 1222.6 L840.2 1222.5 L842.3 1223.1 L844.4 1224.1 L846.5 1225.4 L848.6 1227 L850.7 1228.6 L852.8 1230.2 L854.9 1231.8 L857 1233.2 L859.1 1234.4 L861.3 1235.5 L863.4 1236.3 L865.5 1237.1 L867.6 1237.7 L869.7 1238.2 L871.8 1238.6 L873.9 1238.9 L876 1239.2 L878.1 1239.4 L880.2 1239.6 L882.3 1239.8 L884.4 1239.9 L886.5 1240.1 L888.6 1240.2 L890.7 1240.4 L892.8 1240.5 L894.9 1240.6 L897 1240.7 L899.1 1240.9 L901.2 1241 L903.3 1241.1 L905.4 1241.2 L907.5 1241.3 L909.6 1241.4 L911.7 1241.5 L913.8 1241.6 L915.9 1241.8 L918 1241.9 L920.1 1242 L922.2 1242.1 L924.3 1242.2 L926.4 1242.3 L928.5 1242.4 L930.6 1242.5 L932.7 1242.6 L934.8 1242.7 L936.9 1242.8 L1016.8 1246.5 L1016.8 1247.7 L703.6 1233.7Z" fill="#B8D4AC" fill-opacity="0.68" stroke="none"/><path d="M703.6 1232.2 L705.7 1232.3 L707.8 1232.4 L709.9 1232.5 L712 1232.6 L714.1 1232.7 L716.2 1232.8 L718.3 1232.9 L720.4 1232.9 L722.5 1233 L724.6 1233.1 L726.7 1233.2 L728.8 1233.3 L730.9 1233.4 L733 1233.4 L735.1 1233.5 L737.2 1233.6 L739.3 1233.7 L741.4 1233.8 L743.5 1233.9 L745.6 1233.9 L747.7 1234 L749.8 1234.1 L751.9 1234.2 L754 1234.3 L756.2 1234.3 L758.3 1234.4 L760.4 1234.5 L762.5 1234.6 L764.6 1234.6 L766.7 1234.7 L768.8 1234.8 L770.9 1234.8 L773 1234.9 L775.1 1235 L777.2 1235 L779.3 1235.1 L781.4 1235.2 L783.5 1235.2 L785.6 1235.3 L787.7 1235.3 L789.8 1235.4 L791.9 1235.4 L794 1235.5 L796.1 1235.5 L798.2 1235.5 L800.3 1235.6 L802.4 1235.6 L804.5 1235.6 L806.6 1235.6 L808.7 1235.5 L810.8 1235.5 L812.9 1235.4 L815 1235.3 L817.1 1235.2 L819.2 1235.1 L821.3 1234.9 L823.4 1234.6 L825.5 1234.3 L827.6 1233.9 L829.7 1233.5 L831.8 1233 L833.9 1232.4 L836 1231.7 L838.1 1231 L840.2 1230.1 L842.3 1229.2 L844.4 1228.1 L846.5 1226.9 L848.6 1225.7 L850.7 1224.4 L852.8 1223 L854.9 1221.6 L857 1220.2 L859.1 1218.8 L861.3 1217.4 L863.4 1216.1 L865.5 1214.9 L867.6 1213.9 L869.7 1213.1 L871.8 1212.6 L873.9 1212.3 L876 1212.3 L878.1 1212.7 L880.2 1213.3 L882.3 1214.2 L884.4 1215.3 L886.5 1216.7 L888.6 1218.1 L890.7 1219.6 L892.8 1221.2 L894.9 1222.9 L897 1224.5 L899.1 1226 L901.2 1227.5 L903.3 1229 L905.4 1230.4 L907.5 1231.6 L909.6 1232.8 L911.7 1233.9 L913.8 1234.9 L915.9 1235.8 L918 1236.6 L920.1 1237.3 L922.2 1238 L924.3 1238.6 L926.4 1239.1 L928.5 1239.5 L930.6 1239.9 L932.7 1240.3 L934.8 1240.6 L936.9 1240.9 L939 1241.2 L941.1 1241.4 L943.2 1241.6 L945.3 1241.8 L947.4 1242 L949.5 1242.2 L951.6 1242.4 L953.7 1242.5 L955.8 1242.7 L957.9 1242.8 L960 1243 L962.1 1243.1 L964.2 1243.2 L966.4 1243.4 L968.5 1243.5 L970.6 1243.6 L972.7 1243.8 L974.8 1243.9 L976.9 1244 L979 1244.1 L981.1 1244.3 L983.2 1244.4 L985.3 1244.5 L987.4 1244.6 L989.5 1244.7 L991.6 1244.8 L993.7 1244.9 L995.8 1245.1 L997.9 1245.2 L1000 1245.3 L1002.1 1245.4 L1004.2 1245.5 L1006.3 1245.6 L1008.4 1245.7 L1010.5 1245.8 L1012.6 1245.9 L1014.7 1246 L1016.8 1246.1 L1016.8 1247.7 L703.6 1233.7Z" fill="#F9B48A" fill-opacity="0.68" stroke="none"/><path d="M703.6 1232.2 L705.7 1232.2 L707.8 1232.3 L709.9 1232.4 L712 1232.5 L714.1 1232.6 L716.2 1232.7 L718.3 1232.8 L720.4 1232.8 L722.5 1232.9 L724.6 1233 L726.7 1233.1 L728.8 1233.2 L730.9 1233.3 L733 1233.3 L735.1 1233.4 L737.2 1233.5 L739.3 1233.6 L741.4 1233.7 L743.5 1233.7 L745.6 1233.8 L747.7 1233.9 L749.8 1234 L751.9 1234 L754 1234.1 L756.2 1234.2 L758.3 1234.3 L760.4 1234.3 L762.5 1234.4 L764.6 1234.5 L766.7 1234.6 L768.8 1234.6 L770.9 1234.7 L773 1234.8 L775.1 1234.8 L777.2 1234.9 L779.3 1235 L781.4 1235 L783.5 1235.1 L785.6 1235.1 L787.7 1235.2 L789.8 1235.2 L791.9 1235.3 L794 1235.3 L796.1 1235.4 L798.2 1235.4 L800.3 1235.5 L802.4 1235.5 L804.5 1235.5 L806.6 1235.6 L808.7 1235.6 L810.8 1235.6 L812.9 1235.6 L815 1235.6 L817.1 1235.6 L819.2 1235.6 L821.3 1235.6 L823.4 1235.6 L825.5 1235.5 L827.6 1235.4 L829.7 1235.4 L831.8 1235.3 L833.9 1235.1 L836 1234.9 L838.1 1234.7 L840.2 1234.4 L842.3 1234.1 L844.4 1233.7 L846.5 1233.1 L848.6 1232.5 L850.7 1231.7 L852.8 1230.7 L854.9 1229.5 L857 1228.2 L859.1 1226.6 L861.3 1224.7 L863.4 1222.6 L865.5 1220.2 L867.6 1217.5 L869.7 1214.5 L871.8 1211.3 L873.9 1207.8 L876 1204.2 L878.1 1200.5 L880.2 1196.7 L882.3 1192.9 L884.4 1189.4 L886.5 1186.1 L888.6 1183.4 L890.7 1181.2 L892.8 1179.8 L894.9 1179.2 L897 1179.5 L899.1 1180.7 L901.2 1182.8 L903.3 1185.5 L905.4 1188.7 L907.5 1192.3 L909.6 1196.2 L911.7 1200.1 L913.8 1204.1 L915.9 1208 L918 1211.7 L920.1 1215.2 L922.2 1218.5 L924.3 1221.5 L926.4 1224.2 L928.5 1226.7 L930.6 1228.9 L932.7 1230.8 L934.8 1232.4 L936.9 1233.9 L939 1235.1 L941.1 1236.2 L943.2 1237.1 L945.3 1237.9 L947.4 1238.5 L949.5 1239.1 L951.6 1239.6 L953.7 1240.1 L955.8 1240.4 L957.9 1240.8 L960 1241.1 L962.1 1241.4 L964.2 1241.6 L966.4 1241.9 L968.5 1242.1 L970.6 1242.3 L972.7 1242.5 L974.8 1242.7 L976.9 1242.9 L979 1243.1 L981.1 1243.3 L983.2 1243.4 L985.3 1243.6 L987.4 1243.7 L989.5 1243.9 L991.6 1244 L993.7 1244.2 L995.8 1244.3 L997.9 1244.5 L1000 1244.6 L1002.1 1244.8 L1004.2 1244.9 L1006.3 1245 L1008.4 1245.2 L1010.5 1245.3 L1012.6 1245.4 L1014.7 1245.5 L1016.8 1245.7 L1016.8 1247.7 L703.6 1233.7Z" fill="#7CC0B8" fill-opacity="0.68" stroke="none"/><path d="M703.6 1232.3 L705.7 1232.4 L707.8 1232.5 L709.9 1232.6 L712 1232.7 L714.1 1232.8 L716.2 1232.8 L718.3 1232.9 L720.4 1233 L722.5 1233.1 L724.6 1233.2 L726.7 1233.3 L728.8 1233.4 L730.9 1233.5 L733 1233.6 L735.1 1233.6 L737.2 1233.7 L739.3 1233.8 L741.4 1233.9 L743.5 1234 L745.6 1234.1 L747.7 1234.2 L749.8 1234.3 L751.9 1234.3 L754 1234.4 L756.2 1234.5 L758.3 1234.6 L760.4 1234.7 L762.5 1234.8 L764.6 1234.8 L766.7 1234.9 L768.8 1235 L770.9 1235.1 L773 1235.2 L775.1 1235.3 L777.2 1235.3 L779.3 1235.4 L781.4 1235.5 L783.5 1235.6 L785.6 1235.7 L787.7 1235.7 L789.8 1235.8 L791.9 1235.9 L794 1236 L796.1 1236 L798.2 1236.1 L800.3 1236.2 L802.4 1236.3 L804.5 1236.3 L806.6 1236.4 L808.7 1236.5 L810.8 1236.5 L812.9 1236.6 L815 1236.7 L817.1 1236.7 L819.2 1236.8 L821.3 1236.8 L823.4 1236.9 L825.5 1236.9 L827.6 1237 L829.7 1237 L831.8 1237.1 L833.9 1237.1 L836 1237.2 L838.1 1237.2 L840.2 1237.2 L842.3 1237.2 L844.4 1237.2 L846.5 1237.2 L848.6 1237.2 L850.7 1237.2 L852.8 1237.2 L854.9 1237.2 L857 1237.2 L859.1 1237.1 L861.3 1237 L863.4 1237 L865.5 1236.8 L867.6 1236.7 L869.7 1236.6 L871.8 1236.4 L873.9 1236.2 L876 1235.9 L878.1 1235.5 L880.2 1235.1 L882.3 1234.5 L884.4 1233.7 L886.5 1232.7 L888.6 1231.3 L890.7 1229.4 L892.8 1226.9 L894.9 1223.6 L897 1219.3 L899.1 1213.8 L901.2 1207.1 L903.3 1199.1 L905.4 1189.8 L907.5 1179.4 L909.6 1168.3 L911.7 1157 L913.8 1146.4 L915.9 1137.4 L918 1131.2 L920.1 1128.7 L922.2 1130.4 L924.3 1136 L926.4 1144.6 L928.5 1155.1 L930.6 1166.5 L932.7 1177.9 L934.8 1188.7 L936.9 1198.5 L939 1207 L941.1 1214.2 L943.2 1220.1 L945.3 1224.9 L947.4 1228.6 L949.5 1231.5 L951.6 1233.7 L953.7 1235.4 L955.8 1236.7 L957.9 1237.7 L960 1238.5 L962.1 1239.2 L964.2 1239.7 L966.4 1240.2 L968.5 1240.6 L970.6 1241 L972.7 1241.4 L974.8 1241.7 L976.9 1242 L979 1242.3 L981.1 1242.5 L983.2 1242.8 L985.3 1243 L987.4 1243.2 L989.5 1243.4 L991.6 1243.6 L993.7 1243.8 L995.8 1244 L997.9 1244.2 L1000 1244.3 L1002.1 1244.5 L1004.2 1244.7 L1006.3 1244.8 L1008.4 1245 L1010.5 1245.1 L1012.6 1245.2 L1014.7 1245.4 L1016.8 1245.5 L1016.8 1247.7 L703.6 1233.7Z" fill="#FFE67A" fill-opacity="0.68" stroke="none"/><path d="M703.6 1232.2 L705.7 1232.3 L707.8 1232.4 L709.9 1232.5 L712 1232.6 L714.1 1232.6 L716.2 1232.7 L718.3 1232.8 L720.4 1232.9 L722.5 1232.9 L724.6 1233 L726.7 1233.1 L728.8 1233.1 L730.9 1233.2 L733 1233.3 L735.1 1233.3 L737.2 1233.4 L739.3 1233.4 L741.4 1233.4 L743.5 1233.5 L745.6 1233.5 L747.7 1233.4 L749.8 1233.4 L751.9 1233.3 L754 1233.3 L756.2 1233.1 L758.3 1233 L760.4 1232.7 L762.5 1232.5 L764.6 1232.1 L766.7 1231.7 L768.8 1231.3 L770.9 1230.7 L773 1230.1 L775.1 1229.5 L777.2 1228.8 L779.3 1228 L781.4 1227.3 L783.5 1226.5 L785.6 1225.7 L787.7 1225 L789.8 1224.4 L791.9 1223.9 L794 1223.6 L796.1 1223.5 L798.2 1223.6 L800.3 1223.9 L802.4 1224.3 L804.5 1225 L806.6 1225.8 L808.7 1226.7 L810.8 1227.6 L812.9 1228.6 L815 1229.5 L817.1 1230.5 L819.2 1231.4 L821.3 1232.2 L823.4 1233 L825.5 1233.7 L827.6 1234.4 L829.7 1235 L831.8 1235.5 L833.9 1236 L836 1236.4 L838.1 1236.8 L840.2 1237.1 L842.3 1237.4 L844.4 1237.6 L846.5 1237.8 L848.6 1238 L850.7 1238.2 L852.8 1238.4 L854.9 1238.6 L857 1238.7 L859.1 1238.9 L861.3 1239 L863.4 1239.1 L865.5 1239.2 L867.6 1239.4 L869.7 1239.5 L871.8 1239.6 L873.9 1239.7 L876 1239.8 L878.1 1239.9 L880.2 1240.1 L882.3 1240.2 L884.4 1240.3 L886.5 1240.4 L888.6 1240.5 L890.7 1240.6 L892.8 1240.7 L894.9 1240.8 L897 1240.9 L899.1 1241 L901.2 1241.1 L903.3 1241.2 L905.4 1241.3 L907.5 1241.4 L909.6 1241.5 L911.7 1241.6 L913.8 1241.7 L915.9 1241.8 L918 1241.9 L920.1 1242 L922.2 1242.1 L924.3 1242.2 L1016.8 1246.5" stroke="#C49A10" stroke-width="1.1" fill="none" stroke-linejoin="round" /><path d="M703.6 1232.5 L741.4 1234 L743.5 1234.1 L745.6 1234.2 L747.7 1234.3 L749.8 1234.4 L751.9 1234.5 L754 1234.6 L756.2 1234.7 L758.3 1234.7 L760.4 1234.8 L762.5 1234.9 L764.6 1235 L766.7 1235.1 L768.8 1235.1 L770.9 1235.2 L773 1235.3 L775.1 1235.4 L777.2 1235.4 L779.3 1235.5 L781.4 1235.6 L783.5 1235.6 L785.6 1235.7 L787.7 1235.8 L789.8 1235.8 L791.9 1235.9 L794 1235.9 L796.1 1235.9 L798.2 1236 L800.3 1236 L802.4 1235.9 L804.5 1235.9 L806.6 1235.8 L808.7 1235.6 L810.8 1235.3 L812.9 1235 L815 1234.5 L817.1 1233.8 L819.2 1233 L821.3 1232.1 L823.4 1230.9 L825.5 1229.6 L827.6 1228.2 L829.7 1226.8 L831.8 1225.4 L833.9 1224.1 L836 1223.1 L838.1 1222.6 L840.2 1222.5 L842.3 1223.1 L844.4 1224.1 L846.5 1225.4 L848.6 1227 L850.7 1228.6 L852.8 1230.2 L854.9 1231.8 L857 1233.2 L859.1 1234.4 L861.3 1235.5 L863.4 1236.3 L865.5 1237.1 L867.6 1237.7 L869.7 1238.2 L871.8 1238.6 L873.9 1238.9 L876 1239.2 L878.1 1239.4 L880.2 1239.6 L882.3 1239.8 L884.4 1239.9 L886.5 1240.1 L888.6 1240.2 L890.7 1240.4 L892.8 1240.5 L894.9 1240.6 L897 1240.7 L899.1 1240.9 L901.2 1241 L903.3 1241.1 L905.4 1241.2 L907.5 1241.3 L909.6 1241.4 L911.7 1241.5 L913.8 1241.6 L915.9 1241.8 L918 1241.9 L920.1 1242 L922.2 1242.1 L924.3 1242.2 L926.4 1242.3 L928.5 1242.4 L930.6 1242.5 L932.7 1242.6 L934.8 1242.7 L936.9 1242.8 L1016.8 1246.5" stroke="#88AA80" stroke-width="1.1" fill="none" stroke-linejoin="round" /><path d="M703.6 1232.2 L705.7 1232.3 L707.8 1232.4 L709.9 1232.5 L712 1232.6 L714.1 1232.7 L716.2 1232.8 L718.3 1232.9 L720.4 1232.9 L722.5 1233 L724.6 1233.1 L726.7 1233.2 L728.8 1233.3 L730.9 1233.4 L733 1233.4 L735.1 1233.5 L737.2 1233.6 L739.3 1233.7 L741.4 1233.8 L743.5 1233.9 L745.6 1233.9 L747.7 1234 L749.8 1234.1 L751.9 1234.2 L754 1234.3 L756.2 1234.3 L758.3 1234.4 L760.4 1234.5 L762.5 1234.6 L764.6 1234.6 L766.7 1234.7 L768.8 1234.8 L770.9 1234.8 L773 1234.9 L775.1 1235 L777.2 1235 L779.3 1235.1 L781.4 1235.2 L783.5 1235.2 L785.6 1235.3 L787.7 1235.3 L789.8 1235.4 L791.9 1235.4 L794 1235.5 L796.1 1235.5 L798.2 1235.5 L800.3 1235.6 L802.4 1235.6 L804.5 1235.6 L806.6 1235.6 L808.7 1235.5 L810.8 1235.5 L812.9 1235.4 L815 1235.3 L817.1 1235.2 L819.2 1235.1 L821.3 1234.9 L823.4 1234.6 L825.5 1234.3 L827.6 1233.9 L829.7 1233.5 L831.8 1233 L833.9 1232.4 L836 1231.7 L838.1 1231 L840.2 1230.1 L842.3 1229.2 L844.4 1228.1 L846.5 1226.9 L848.6 1225.7 L850.7 1224.4 L852.8 1223 L854.9 1221.6 L857 1220.2 L859.1 1218.8 L861.3 1217.4 L863.4 1216.1 L865.5 1214.9 L867.6 1213.9 L869.7 1213.1 L871.8 1212.6 L873.9 1212.3 L876 1212.3 L878.1 1212.7 L880.2 1213.3 L882.3 1214.2 L884.4 1215.3 L886.5 1216.7 L888.6 1218.1 L890.7 1219.6 L892.8 1221.2 L894.9 1222.9 L897 1224.5 L899.1 1226 L901.2 1227.5 L903.3 1229 L905.4 1230.4 L907.5 1231.6 L909.6 1232.8 L911.7 1233.9 L913.8 1234.9 L915.9 1235.8 L918 1236.6 L920.1 1237.3 L922.2 1238 L924.3 1238.6 L926.4 1239.1 L928.5 1239.5 L930.6 1239.9 L932.7 1240.3 L934.8 1240.6 L936.9 1240.9 L939 1241.2 L941.1 1241.4 L943.2 1241.6 L945.3 1241.8 L947.4 1242 L949.5 1242.2 L951.6 1242.4 L953.7 1242.5 L955.8 1242.7 L957.9 1242.8 L960 1243 L962.1 1243.1 L964.2 1243.2 L966.4 1243.4 L968.5 1243.5 L970.6 1243.6 L972.7 1243.8 L974.8 1243.9 L976.9 1244 L979 1244.1 L981.1 1244.3 L983.2 1244.4 L985.3 1244.5 L987.4 1244.6 L989.5 1244.7 L991.6 1244.8 L993.7 1244.9 L995.8 1245.1 L997.9 1245.2 L1000 1245.3 L1002.1 1245.4 L1004.2 1245.5 L1006.3 1245.6 L1008.4 1245.7 L1010.5 1245.8 L1012.6 1245.9 L1014.7 1246 L1016.8 1246.1" stroke="#F07A22" stroke-width="1.1" fill="none" stroke-linejoin="round" /><path d="M703.6 1232.2 L705.7 1232.2 L707.8 1232.3 L709.9 1232.4 L712 1232.5 L714.1 1232.6 L716.2 1232.7 L718.3 1232.8 L720.4 1232.8 L722.5 1232.9 L724.6 1233 L726.7 1233.1 L728.8 1233.2 L730.9 1233.3 L733 1233.3 L735.1 1233.4 L737.2 1233.5 L739.3 1233.6 L741.4 1233.7 L743.5 1233.7 L745.6 1233.8 L747.7 1233.9 L749.8 1234 L751.9 1234 L754 1234.1 L756.2 1234.2 L758.3 1234.3 L760.4 1234.3 L762.5 1234.4 L764.6 1234.5 L766.7 1234.6 L768.8 1234.6 L770.9 1234.7 L773 1234.8 L775.1 1234.8 L777.2 1234.9 L779.3 1235 L781.4 1235 L783.5 1235.1 L785.6 1235.1 L787.7 1235.2 L789.8 1235.2 L791.9 1235.3 L794 1235.3 L796.1 1235.4 L798.2 1235.4 L800.3 1235.5 L802.4 1235.5 L804.5 1235.5 L806.6 1235.6 L808.7 1235.6 L810.8 1235.6 L812.9 1235.6 L815 1235.6 L817.1 1235.6 L819.2 1235.6 L821.3 1235.6 L823.4 1235.6 L825.5 1235.5 L827.6 1235.4 L829.7 1235.4 L831.8 1235.3 L833.9 1235.1 L836 1234.9 L838.1 1234.7 L840.2 1234.4 L842.3 1234.1 L844.4 1233.7 L846.5 1233.1 L848.6 1232.5 L850.7 1231.7 L852.8 1230.7 L854.9 1229.5 L857 1228.2 L859.1 1226.6 L861.3 1224.7 L863.4 1222.6 L865.5 1220.2 L867.6 1217.5 L869.7 1214.5 L871.8 1211.3 L873.9 1207.8 L876 1204.2 L878.1 1200.5 L880.2 1196.7 L882.3 1192.9 L884.4 1189.4 L886.5 1186.1 L888.6 1183.4 L890.7 1181.2 L892.8 1179.8 L894.9 1179.2 L897 1179.5 L899.1 1180.7 L901.2 1182.8 L903.3 1185.5 L905.4 1188.7 L907.5 1192.3 L909.6 1196.2 L911.7 1200.1 L913.8 1204.1 L915.9 1208 L918 1211.7 L920.1 1215.2 L922.2 1218.5 L924.3 1221.5 L926.4 1224.2 L928.5 1226.7 L930.6 1228.9 L932.7 1230.8 L934.8 1232.4 L936.9 1233.9 L939 1235.1 L941.1 1236.2 L943.2 1237.1 L945.3 1237.9 L947.4 1238.5 L949.5 1239.1 L951.6 1239.6 L953.7 1240.1 L955.8 1240.4 L957.9 1240.8 L960 1241.1 L962.1 1241.4 L964.2 1241.6 L966.4 1241.9 L968.5 1242.1 L970.6 1242.3 L972.7 1242.5 L974.8 1242.7 L976.9 1242.9 L979 1243.1 L981.1 1243.3 L983.2 1243.4 L985.3 1243.6 L987.4 1243.7 L989.5 1243.9 L991.6 1244 L993.7 1244.2 L995.8 1244.3 L997.9 1244.5 L1000 1244.6 L1002.1 1244.8 L1004.2 1244.9 L1006.3 1245 L1008.4 1245.2 L1010.5 1245.3 L1012.6 1245.4 L1014.7 1245.5 L1016.8 1245.7" stroke="#2E9690" stroke-width="1.1" fill="none" stroke-linejoin="round" /><path d="M703.6 1232.3 L705.7 1232.4 L707.8 1232.5 L709.9 1232.6 L712 1232.7 L714.1 1232.8 L716.2 1232.8 L718.3 1232.9 L720.4 1233 L722.5 1233.1 L724.6 1233.2 L726.7 1233.3 L728.8 1233.4 L730.9 1233.5 L733 1233.6 L735.1 1233.6 L737.2 1233.7 L739.3 1233.8 L741.4 1233.9 L743.5 1234 L745.6 1234.1 L747.7 1234.2 L749.8 1234.3 L751.9 1234.3 L754 1234.4 L756.2 1234.5 L758.3 1234.6 L760.4 1234.7 L762.5 1234.8 L764.6 1234.8 L766.7 1234.9 L768.8 1235 L770.9 1235.1 L773 1235.2 L775.1 1235.3 L777.2 1235.3 L779.3 1235.4 L781.4 1235.5 L783.5 1235.6 L785.6 1235.7 L787.7 1235.7 L789.8 1235.8 L791.9 1235.9 L794 1236 L796.1 1236 L798.2 1236.1 L800.3 1236.2 L802.4 1236.3 L804.5 1236.3 L806.6 1236.4 L808.7 1236.5 L810.8 1236.5 L812.9 1236.6 L815 1236.7 L817.1 1236.7 L819.2 1236.8 L821.3 1236.8 L823.4 1236.9 L825.5 1236.9 L827.6 1237 L829.7 1237 L831.8 1237.1 L833.9 1237.1 L836 1237.2 L838.1 1237.2 L840.2 1237.2 L842.3 1237.2 L844.4 1237.2 L846.5 1237.2 L848.6 1237.2 L850.7 1237.2 L852.8 1237.2 L854.9 1237.2 L857 1237.2 L859.1 1237.1 L861.3 1237 L863.4 1237 L865.5 1236.8 L867.6 1236.7 L869.7 1236.6 L871.8 1236.4 L873.9 1236.2 L876 1235.9 L878.1 1235.5 L880.2 1235.1 L882.3 1234.5 L884.4 1233.7 L886.5 1232.7 L888.6 1231.3 L890.7 1229.4 L892.8 1226.9 L894.9 1223.6 L897 1219.3 L899.1 1213.8 L901.2 1207.1 L903.3 1199.1 L905.4 1189.8 L907.5 1179.4 L909.6 1168.3 L911.7 1157 L913.8 1146.4 L915.9 1137.4 L918 1131.2 L920.1 1128.7 L922.2 1130.4 L924.3 1136 L926.4 1144.6 L928.5 1155.1 L930.6 1166.5 L932.7 1177.9 L934.8 1188.7 L936.9 1198.5 L939 1207 L941.1 1214.2 L943.2 1220.1 L945.3 1224.9 L947.4 1228.6 L949.5 1231.5 L951.6 1233.7 L953.7 1235.4 L955.8 1236.7 L957.9 1237.7 L960 1238.5 L962.1 1239.2 L964.2 1239.7 L966.4 1240.2 L968.5 1240.6 L970.6 1241 L972.7 1241.4 L974.8 1241.7 L976.9 1242 L979 1242.3 L981.1 1242.5 L983.2 1242.8 L985.3 1243 L987.4 1243.2 L989.5 1243.4 L991.6 1243.6 L993.7 1243.8 L995.8 1244 L997.9 1244.2 L1000 1244.3 L1002.1 1244.5 L1004.2 1244.7 L1006.3 1244.8 L1008.4 1245 L1010.5 1245.1 L1012.6 1245.2 L1014.7 1245.4 L1016.8 1245.5" stroke="#F0C400" stroke-width="1.1" fill="none" stroke-linejoin="round" /><path d="M703.6 1233.5 L1016.8 1247.5" stroke="#E88A2A" stroke-width="1.4" fill="none" stroke-linejoin="round" /><path d="M703.6 1234.7 L1016.8 1248.7" stroke="#3A9A98" stroke-width="1.2" fill="none" stroke-linejoin="round" /><path d="M703.6 1229.2 L705.7 1228.7 L707.8 1230.5 L709.9 1232.8 L712 1233.7 L714.1 1232.2 L716.2 1230.4 L718.3 1230.7 L720.4 1233.5 L722.5 1235 L724.6 1232.6 L726.7 1229.6 L728.8 1230.7 L730.9 1234 L733 1232.2 L735.1 1229.5 L737.2 1230 L739.3 1229.8 L741.4 1230 L743.5 1230.4 L745.6 1230.9 L747.7 1232.3 L749.8 1231.7 L751.9 1231.1 L754 1232.4 L756.2 1231.9 L758.3 1229 L760.4 1228.8 L762.5 1228.8 L764.6 1228.4 L766.7 1227.6 L768.8 1228.3 L770.9 1228.3 L773 1226.7 L775.1 1225.1 L777.2 1224.3 L779.3 1222.7 L781.4 1222 L783.5 1222.4 L785.6 1222.1 L787.7 1223.6 L789.8 1221.8 L791.9 1218.2 L794 1218.5 L796.1 1218.3 L798.2 1219 L800.3 1218.5 L802.4 1216.8 L804.5 1218.4 L806.6 1220.7 L808.7 1221.6 L810.8 1220.7 L812.9 1221.3 L815 1220.3 L817.1 1219.8 L819.2 1220.6 L821.3 1222.6 L823.4 1223 L825.5 1222.9 L827.6 1220 L829.7 1217.4 L831.8 1214.7 L833.9 1211 L836 1210.1 L838.1 1209.9 L840.2 1207.4 L842.3 1206.1 L844.4 1206 L846.5 1205.7 L848.6 1204.3 L850.7 1203.5 L852.8 1203.3 L854.9 1201.4 L857 1199.3 L859.1 1197.8 L861.3 1193.2 L863.4 1189 L865.5 1187.2 L867.6 1186.2 L869.7 1181.6 L871.8 1175.8 L873.9 1172.3 L876 1169.8 L878.1 1164.6 L880.2 1160.9 L882.3 1158.9 L884.4 1154.7 L886.5 1151.9 L888.6 1149.9 L890.7 1147 L892.8 1145.8 L894.9 1144.5 L897 1139.6 L899.1 1134 L901.2 1130.4 L903.3 1128.4 L905.4 1124.8 L907.5 1119.5 L909.6 1112.5 L911.7 1105.5 L913.8 1099.4 L915.9 1095.6 L918 1094.6 L920.1 1096.1 L922.2 1103.2 L924.3 1114.3 L926.4 1123.6 L928.5 1135 L930.6 1151.6 L932.7 1164.3 L934.8 1175.2 L936.9 1187.9 L939 1197.2 L941.1 1204 L943.2 1210.1 L945.3 1215.8 L947.4 1222.3 L949.5 1227.1 L951.6 1228.8 L953.7 1232.1 L955.8 1234.4 L957.9 1232.9 L960 1233.8 L962.1 1234.3 L964.2 1233.6 L966.4 1234.5 L968.5 1237 L970.6 1238.2 L972.7 1237.9 L974.8 1239.1 L976.9 1240.7 L979 1241.2 L981.1 1241.9 L983.2 1242 L985.3 1243 L987.4 1244.6 L989.5 1243.6 L991.6 1242.7 L993.7 1242.5 L995.8 1241 L997.9 1241.8 L1000 1244 L1002.1 1245.4 L1004.2 1245.9 L1006.3 1243.3 L1008.4 1242.5 L1010.5 1246.4 L1012.6 1246.1 L1014.7 1244 L1016.8 1245.6" stroke="#3C3C3C" stroke-width="1.1" fill="none" stroke-linejoin="round" /><path d="M703.6 1231.4 L705.7 1231.4 L707.8 1231.5 L709.9 1231.5 L712 1231.6 L714.1 1231.7 L716.2 1231.7 L718.3 1231.8 L720.4 1231.8 L722.5 1231.8 L724.6 1231.9 L726.7 1231.9 L728.8 1232 L730.9 1232 L733 1232 L735.1 1232 L737.2 1232.1 L739.3 1232.1 L741.4 1232.1 L743.5 1232 L745.6 1232 L747.7 1231.9 L749.8 1231.9 L751.9 1231.7 L754 1231.6 L756.2 1231.4 L758.3 1231.2 L760.4 1230.9 L762.5 1230.6 L764.6 1230.2 L766.7 1229.7 L768.8 1229.2 L770.9 1228.6 L773 1227.9 L775.1 1227.1 L777.2 1226.3 L779.3 1225.5 L781.4 1224.6 L783.5 1223.7 L785.6 1222.8 L787.7 1222 L789.8 1221.3 L791.9 1220.6 L794 1220.1 L796.1 1219.8 L798.2 1219.7 L800.3 1219.7 L802.4 1219.9 L804.5 1220.3 L806.6 1220.6 L808.7 1221 L810.8 1221.4 L812.9 1221.6 L815 1221.7 L817.1 1221.6 L819.2 1221.2 L821.3 1220.5 L823.4 1219.6 L825.5 1218.3 L827.6 1216.8 L829.7 1215.1 L831.8 1213.3 L833.9 1211.4 L836 1209.7 L838.1 1208.2 L840.2 1207 L842.3 1206.1 L844.4 1205.5 L846.5 1205 L848.6 1204.5 L850.7 1203.9 L852.8 1202.9 L854.9 1201.6 L857 1200 L859.1 1197.9 L861.3 1195.4 L863.4 1192.5 L865.5 1189.3 L867.6 1185.8 L869.7 1182.2 L871.8 1178.3 L873.9 1174.5 L876 1170.6 L878.1 1166.8 L880.2 1163.1 L882.3 1159.6 L884.4 1156.3 L886.5 1153.2 L888.6 1150.4 L890.7 1147.7 L892.8 1145.3 L894.9 1142.8 L897 1140.3 L899.1 1137.5 L901.2 1134.2 L903.3 1130.1 L905.4 1125.3 L907.5 1119.6 L909.6 1113.4 L911.7 1107 L913.8 1101.2 L915.9 1096.8 L918 1095 L920.1 1096.5 L922.2 1102 L924.3 1111 L926.4 1122.7 L928.5 1135.9 L930.6 1149.7 L932.7 1163.2 L934.8 1175.8 L936.9 1187.1 L939 1197 L941.1 1205.3 L943.2 1212.2 L945.3 1217.7 L947.4 1222.1 L949.5 1225.6 L951.6 1228.3 L953.7 1230.4 L955.8 1232 L957.9 1233.4 L960 1234.4 L962.1 1235.3 L964.2 1236.1 L966.4 1236.8 L968.5 1237.4 L970.6 1237.9 L972.7 1238.4 L974.8 1238.9 L976.9 1239.3 L979 1239.7 L981.1 1240.1 L983.2 1240.4 L985.3 1240.7 L987.4 1241.1 L989.5 1241.3 L991.6 1241.6 L993.7 1241.9 L995.8 1242.1 L997.9 1242.4 L1000 1242.6 L1002.1 1242.8 L1004.2 1243.1 L1006.3 1243.3 L1008.4 1243.5 L1010.5 1243.7 L1012.6 1243.8 L1014.7 1244 L1016.8 1244.2" stroke="#F0303A" stroke-width="1.3" fill="none" stroke-linejoin="round" /><line x1="703.6" y1="1257.5" x2="1016.8" y2="1257.5" stroke="#000" stroke-width="1.3" /><line x1="703.6" y1="1257.5" x2="703.6" y2="1262.5" stroke="#000" stroke-width="1.2" /><text x="703.6" y="1278.8" font-family="'Liberation Sans', Arial, sans-serif" font-size="16.3" font-weight="bold" fill="#000" text-anchor="middle" >294</text><line x1="737.1" y1="1257.5" x2="737.1" y2="1260.3" stroke="#000" stroke-width="1.2" /><line x1="770.5" y1="1257.5" x2="770.5" y2="1262.5" stroke="#000" stroke-width="1.2" /><text x="770.5" y="1278.8" font-family="'Liberation Sans', Arial, sans-serif" font-size="16.3" font-weight="bold" fill="#000" text-anchor="middle" >291</text><line x1="804" y1="1257.5" x2="804" y2="1260.3" stroke="#000" stroke-width="1.2" /><line x1="837.4" y1="1257.5" x2="837.4" y2="1262.5" stroke="#000" stroke-width="1.2" /><text x="837.4" y="1278.8" font-family="'Liberation Sans', Arial, sans-serif" font-size="16.3" font-weight="bold" fill="#000" text-anchor="middle" >288</text><line x1="870.9" y1="1257.5" x2="870.9" y2="1260.3" stroke="#000" stroke-width="1.2" /><line x1="904.3" y1="1257.5" x2="904.3" y2="1262.5" stroke="#000" stroke-width="1.2" /><text x="904.3" y="1278.8" font-family="'Liberation Sans', Arial, sans-serif" font-size="16.3" font-weight="bold" fill="#000" text-anchor="middle" >285</text><line x1="937.8" y1="1257.5" x2="937.8" y2="1260.3" stroke="#000" stroke-width="1.2" /><line x1="971.2" y1="1257.5" x2="971.2" y2="1262.5" stroke="#000" stroke-width="1.2" /><text x="971.2" y="1278.8" font-family="'Liberation Sans', Arial, sans-serif" font-size="16.3" font-weight="bold" fill="#000" text-anchor="middle" >282</text><line x1="1004.7" y1="1257.5" x2="1004.7" y2="1260.3" stroke="#000" stroke-width="1.2" /><text x="860.2" y="1299.9" font-family="'Liberation Serif', 'Times New Roman', serif" font-size="21.6" font-weight="bold" fill="#000" text-anchor="middle" >Binding energy (eV)</text><text x="699" y="1154" font-family="'Liberation Serif', 'Times New Roman', serif" font-size="23.5" font-weight="bold" fill="#E8731F" xml:space="preserve">C 1<tspan font-style="italic">s</tspan>   600s</text><text x="937.2" y="1140.7" font-family="'Liberation Serif', 'Times New Roman', serif" font-size="16.5" font-weight="bold" fill="#F2C400" text-anchor="start" >C-C/C-H</text><text x="837" y="1167" font-family="'Liberation Serif', 'Times New Roman', serif" font-size="16.5" font-weight="bold" fill="#1C8C88" text-anchor="start" >C≡N</text><text x="826.9" y="1185" font-family="'Liberation Serif', 'Times New Roman', serif" font-size="16.5" font-weight="bold" fill="#F07A22" text-anchor="start" >C-O</text><text x="777" y="1202.8" font-family="'Liberation Serif', 'Times New Roman', serif" font-size="16.5" font-weight="bold" fill="#8EAA78" text-anchor="start" >RCO<tspan font-size="11" dy="4">2</tspan><tspan dy="-4">Na</tspan></text><text x="732.7" y="1219.3" font-family="'Liberation Serif', 'Times New Roman', serif" font-size="16.5" font-weight="bold" fill="#C8A000" text-anchor="start" >O-C=O</text><path d="M1068.5 1221.3 L1070.5 1221.3 L1072.5 1221.4 L1074.5 1221.5 L1076.4 1221.6 L1078.4 1221.7 L1080.4 1221.8 L1082.4 1221.8 L1084.4 1221.9 L1086.4 1222 L1088.4 1222 L1090.4 1222.1 L1092.3 1222.2 L1094.3 1222.2 L1096.3 1222.2 L1098.3 1222.2 L1100.3 1222.3 L1102.3 1222.2 L1104.3 1222.2 L1106.3 1222.2 L1108.2 1222.1 L1110.2 1221.9 L1112.2 1221.8 L1114.2 1221.6 L1116.2 1221.3 L1118.2 1220.9 L1120.2 1220.5 L1122.2 1220 L1124.1 1219.5 L1126.1 1218.8 L1128.1 1218 L1130.1 1217.1 L1132.1 1216.1 L1134.1 1215 L1136.1 1213.7 L1138.1 1212.4 L1140 1210.9 L1142 1209.4 L1144 1207.9 L1146 1206.2 L1148 1204.6 L1150 1203 L1152 1201.5 L1154 1200.2 L1155.9 1199 L1157.9 1198 L1159.9 1197.4 L1161.9 1197 L1163.9 1197 L1165.9 1197.4 L1167.9 1198.1 L1169.8 1199.2 L1171.8 1200.5 L1173.8 1202 L1175.8 1203.7 L1177.8 1205.5 L1179.8 1207.3 L1181.8 1209.2 L1183.8 1211 L1185.7 1212.8 L1187.7 1214.6 L1189.7 1216.2 L1191.7 1217.7 L1193.7 1219.1 L1195.7 1220.5 L1197.7 1221.7 L1199.7 1222.8 L1201.6 1223.7 L1203.6 1224.6 L1205.6 1225.4 L1207.6 1226.1 L1209.6 1226.7 L1211.6 1227.3 L1213.6 1227.8 L1215.6 1228.2 L1217.5 1228.6 L1219.5 1228.9 L1221.5 1229.2 L1223.5 1229.5 L1225.5 1229.8 L1227.5 1230 L1229.5 1230.3 L1231.5 1230.5 L1233.4 1230.7 L1235.4 1230.9 L1237.4 1231.1 L1239.4 1231.3 L1241.4 1231.4 L1243.4 1231.6 L1245.4 1231.8 L1247.4 1231.9 L1249.3 1232.1 L1251.3 1232.3 L1253.3 1232.4 L1255.3 1232.6 L1257.3 1232.7 L1259.3 1232.9 L1261.3 1233 L1263.3 1233.2 L1265.2 1233.3 L1267.2 1233.5 L1269.2 1233.6 L1271.2 1233.7 L1273.2 1233.9 L1275.2 1234 L1277.2 1234.2 L1279.1 1234.3 L1281.1 1234.4 L1283.1 1234.6 L1285.1 1234.7 L1287.1 1234.8 L1289.1 1235 L1291.1 1235.1 L1293.1 1235.2 L1295 1235.4 L1297 1235.5 L1299 1235.6 L1301 1235.8 L1303 1235.9 L1305 1236 L1307 1236.2 L1309 1236.3 L1310.9 1236.4 L1312.9 1236.5 L1314.9 1236.7 L1316.9 1236.8 L1318.9 1236.9 L1320.9 1237.1 L1322.9 1237.2 L1324.9 1237.3 L1326.8 1237.4 L1328.8 1237.6 L1330.8 1237.7 L1332.8 1237.8 L1334.8 1238 L1336.8 1238.1 L1338.8 1238.2 L1340.8 1238.3 L1342.7 1238.5 L1344.7 1238.6 L1346.7 1238.7 L1348.7 1238.8 L1350.7 1239 L1352.7 1239.1 L1354.7 1239.2 L1356.7 1239.3 L1358.6 1239.5 L1360.6 1239.6 L1362.6 1239.7 L1364.6 1239.8 L1364.6 1241.2 L1068.5 1223.2Z" fill="#E6CC80" fill-opacity="0.68" stroke="none"/><path d="M1068.5 1221.5 L1070.5 1221.6 L1072.5 1221.8 L1074.5 1221.9 L1076.4 1222 L1078.4 1222.1 L1080.4 1222.2 L1082.4 1222.3 L1084.4 1222.4 L1086.4 1222.5 L1088.4 1222.6 L1090.4 1222.7 L1092.3 1222.8 L1094.3 1222.9 L1096.3 1223 L1098.3 1223.1 L1100.3 1223.1 L1102.3 1223.2 L1104.3 1223.3 L1106.3 1223.4 L1108.2 1223.5 L1110.2 1223.5 L1112.2 1223.6 L1114.2 1223.7 L1116.2 1223.7 L1118.2 1223.8 L1120.2 1223.8 L1122.2 1223.9 L1124.1 1223.9 L1126.1 1223.9 L1128.1 1223.9 L1130.1 1223.9 L1132.1 1223.8 L1134.1 1223.8 L1136.1 1223.7 L1138.1 1223.6 L1140 1223.4 L1142 1223.2 L1144 1223 L1146 1222.8 L1148 1222.5 L1150 1222.1 L1152 1221.7 L1154 1221.3 L1155.9 1220.8 L1157.9 1220.3 L1159.9 1219.7 L1161.9 1219 L1163.9 1218.4 L1165.9 1217.6 L1167.9 1216.9 L1169.8 1216.1 L1171.8 1215.2 L1173.8 1214.4 L1175.8 1213.5 L1177.8 1212.7 L1179.8 1211.9 L1181.8 1211.1 L1183.8 1210.3 L1185.7 1209.7 L1187.7 1209.1 L1189.7 1208.6 L1191.7 1208.3 L1193.7 1208.1 L1195.7 1208.1 L1197.7 1208.2 L1199.7 1208.5 L1201.6 1208.9 L1203.6 1209.5 L1205.6 1210.2 L1207.6 1211 L1209.6 1211.9 L1211.6 1212.9 L1213.6 1213.9 L1215.6 1214.9 L1217.5 1216 L1219.5 1217.1 L1221.5 1218.2 L1223.5 1219.3 L1225.5 1220.3 L1227.5 1221.3 L1229.5 1222.3 L1231.5 1223.2 L1233.4 1224.1 L1235.4 1224.9 L1237.4 1225.7 L1239.4 1226.5 L1241.4 1227.1 L1243.4 1227.8 L1245.4 1228.4 L1247.4 1228.9 L1249.3 1229.4 L1251.3 1229.9 L1253.3 1230.3 L1255.3 1230.7 L1257.3 1231 L1259.3 1231.4 L1261.3 1231.7 L1263.3 1232 L1265.2 1232.2 L1267.2 1232.5 L1269.2 1232.7 L1271.2 1232.9 L1273.2 1233.1 L1275.2 1233.3 L1277.2 1233.5 L1279.1 1233.7 L1281.1 1233.9 L1283.1 1234.1 L1285.1 1234.2 L1287.1 1234.4 L1289.1 1234.5 L1291.1 1234.7 L1293.1 1234.9 L1295 1235 L1297 1235.2 L1299 1235.3 L1301 1235.5 L1303 1235.6 L1305 1235.7 L1307 1235.9 L1309 1236 L1310.9 1236.2 L1312.9 1236.3 L1314.9 1236.4 L1316.9 1236.6 L1318.9 1236.7 L1320.9 1236.9 L1322.9 1237 L1324.9 1237.1 L1326.8 1237.3 L1328.8 1237.4 L1330.8 1237.5 L1332.8 1237.7 L1334.8 1237.8 L1336.8 1237.9 L1338.8 1238.1 L1340.8 1238.2 L1342.7 1238.3 L1344.7 1238.4 L1346.7 1238.6 L1348.7 1238.7 L1350.7 1238.8 L1352.7 1239 L1354.7 1239.1 L1356.7 1239.2 L1358.6 1239.3 L1360.6 1239.5 L1362.6 1239.6 L1364.6 1239.7 L1364.6 1241.2 L1068.5 1223.2Z" fill="#F9B48A" fill-opacity="0.68" stroke="none"/><path d="M1068.5 1221.8 L1070.5 1221.9 L1072.5 1222.1 L1074.5 1222.2 L1076.4 1222.3 L1078.4 1222.4 L1080.4 1222.5 L1082.4 1222.6 L1084.4 1222.8 L1086.4 1222.9 L1088.4 1223 L1090.4 1223.1 L1092.3 1223.2 L1094.3 1223.3 L1096.3 1223.4 L1098.3 1223.6 L1100.3 1223.7 L1102.3 1223.8 L1104.3 1223.9 L1106.3 1224 L1108.2 1224.1 L1110.2 1224.2 L1112.2 1224.3 L1114.2 1224.4 L1116.2 1224.6 L1118.2 1224.7 L1120.2 1224.8 L1122.2 1224.9 L1124.1 1225 L1126.1 1225.1 L1128.1 1225.2 L1130.1 1225.3 L1132.1 1225.4 L1134.1 1225.5 L1136.1 1225.6 L1138.1 1225.7 L1140 1225.8 L1142 1225.9 L1144 1226 L1146 1226.1 L1148 1226.2 L1150 1226.3 L1152 1226.4 L1154 1226.5 L1155.9 1226.6 L1157.9 1226.7 L1159.9 1226.7 L1161.9 1226.8 L1163.9 1226.9 L1165.9 1227 L1167.9 1227 L1169.8 1227.1 L1171.8 1227.1 L1173.8 1227.2 L1175.8 1227.2 L1177.8 1227.3 L1179.8 1227.3 L1181.8 1227.3 L1183.8 1227.3 L1185.7 1227.3 L1187.7 1227.3 L1189.7 1227.2 L1191.7 1227.1 L1193.7 1227 L1195.7 1226.8 L1197.7 1226.5 L1199.7 1226.1 L1201.6 1225.6 L1203.6 1224.9 L1205.6 1224 L1207.6 1222.9 L1209.6 1221.4 L1211.6 1219.7 L1213.6 1217.6 L1215.6 1215.1 L1217.5 1212.3 L1219.5 1209.2 L1221.5 1205.8 L1223.5 1202.1 L1225.5 1198.4 L1227.5 1194.8 L1229.5 1191.6 L1231.5 1188.8 L1233.4 1186.9 L1235.4 1186 L1237.4 1186.3 L1239.4 1187.7 L1241.4 1190.1 L1243.4 1193.2 L1245.4 1196.8 L1247.4 1200.7 L1249.3 1204.6 L1251.3 1208.4 L1253.3 1212 L1255.3 1215.3 L1257.3 1218.3 L1259.3 1220.9 L1261.3 1223.2 L1263.3 1225.1 L1265.2 1226.7 L1267.2 1228 L1269.2 1229.1 L1271.2 1230 L1273.2 1230.7 L1275.2 1231.3 L1277.2 1231.8 L1279.1 1232.3 L1281.1 1232.6 L1283.1 1233 L1285.1 1233.2 L1287.1 1233.5 L1289.1 1233.8 L1291.1 1234 L1293.1 1234.2 L1295 1234.4 L1297 1234.6 L1299 1234.8 L1301 1235 L1303 1235.2 L1305 1235.4 L1307 1235.6 L1309 1235.7 L1310.9 1235.9 L1312.9 1236 L1314.9 1236.2 L1316.9 1236.4 L1318.9 1236.5 L1320.9 1236.7 L1322.9 1236.8 L1324.9 1237 L1326.8 1237.1 L1328.8 1237.3 L1330.8 1237.4 L1332.8 1237.5 L1334.8 1237.7 L1336.8 1237.8 L1338.8 1238 L1340.8 1238.1 L1342.7 1238.2 L1344.7 1238.4 L1346.7 1238.5 L1348.7 1238.6 L1350.7 1238.8 L1352.7 1238.9 L1354.7 1239 L1356.7 1239.2 L1358.6 1239.3 L1360.6 1239.4 L1362.6 1239.6 L1364.6 1239.7 L1364.6 1241.2 L1068.5 1223.2Z" fill="#A8CC88" fill-opacity="0.68" stroke="none"/><path d="M1068.5 1220.8 L1070.5 1220.9 L1072.5 1221 L1074.5 1221.1 L1076.4 1221.2 L1078.4 1221.3 L1080.4 1221.4 L1082.4 1221.5 L1084.4 1221.6 L1086.4 1221.6 L1088.4 1221.7 L1090.4 1221.8 L1092.3 1221.9 L1094.3 1222 L1096.3 1222.1 L1098.3 1222.2 L1100.3 1222.2 L1102.3 1222.3 L1104.3 1222.4 L1106.3 1222.5 L1108.2 1222.6 L1110.2 1222.6 L1112.2 1222.7 L1114.2 1222.8 L1116.2 1222.9 L1118.2 1222.9 L1120.2 1223 L1122.2 1223.1 L1124.1 1223.1 L1126.1 1223.2 L1128.1 1223.2 L1130.1 1223.3 L1132.1 1223.3 L1134.1 1223.4 L1136.1 1223.4 L1138.1 1223.5 L1140 1223.5 L1142 1223.6 L1144 1223.6 L1146 1223.6 L1148 1223.6 L1150 1223.7 L1152 1223.7 L1154 1223.7 L1155.9 1223.7 L1157.9 1223.7 L1159.9 1223.7 L1161.9 1223.7 L1163.9 1223.6 L1165.9 1223.6 L1167.9 1223.6 L1169.8 1223.5 L1171.8 1223.5 L1173.8 1223.4 L1175.8 1223.3 L1177.8 1223.2 L1179.8 1223.1 L1181.8 1223 L1183.8 1222.8 L1185.7 1222.7 L1187.7 1222.5 L1189.7 1222.2 L1191.7 1221.9 L1193.7 1221.6 L1195.7 1221.3 L1197.7 1220.8 L1199.7 1220.3 L1201.6 1219.7 L1203.6 1219 L1205.6 1218.2 L1207.6 1217.3 L1209.6 1216.2 L1211.6 1214.9 L1213.6 1213.4 L1215.6 1211.7 L1217.5 1209.8 L1219.5 1207.5 L1221.5 1204.9 L1223.5 1202 L1225.5 1198.7 L1227.5 1195 L1229.5 1190.9 L1231.5 1186.4 L1233.4 1181.4 L1235.4 1176 L1237.4 1170.1 L1239.4 1163.9 L1241.4 1157.2 L1243.4 1150.2 L1245.4 1142.8 L1247.4 1135.3 L1249.3 1127.6 L1251.3 1119.9 L1253.3 1112.2 L1255.3 1104.8 L1257.3 1097.7 L1259.3 1091.2 L1261.3 1085.4 L1263.3 1080.6 L1265.2 1076.9 L1267.2 1074.4 L1269.2 1073.3 L1271.2 1073.5 L1273.2 1075.2 L1275.2 1078.3 L1277.2 1082.5 L1279.1 1087.8 L1281.1 1094 L1283.1 1100.9 L1285.1 1108.3 L1287.1 1116.1 L1289.1 1124 L1291.1 1132 L1293.1 1139.9 L1295 1147.6 L1297 1155.1 L1299 1162.3 L1301 1169.1 L1303 1175.6 L1305 1181.6 L1307 1187.1 L1309 1192.2 L1310.9 1196.9 L1312.9 1201.2 L1314.9 1205 L1316.9 1208.4 L1318.9 1211.5 L1320.9 1214.3 L1322.9 1216.7 L1324.9 1218.8 L1326.8 1220.7 L1328.8 1222.4 L1330.8 1223.9 L1332.8 1225.2 L1334.8 1226.3 L1336.8 1227.3 L1338.8 1228.2 L1340.8 1229.1 L1342.7 1229.8 L1344.7 1230.4 L1346.7 1231 L1348.7 1231.6 L1350.7 1232.1 L1352.7 1232.6 L1354.7 1233 L1356.7 1233.4 L1358.6 1233.8 L1360.6 1234.2 L1362.6 1234.5 L1364.6 1234.8 L1364.6 1241.2 L1068.5 1223.2Z" fill="#FFE67A" fill-opacity="0.68" stroke="none"/><path d="M1068.5 1221.3 L1070.5 1221.3 L1072.5 1221.4 L1074.5 1221.5 L1076.4 1221.6 L1078.4 1221.7 L1080.4 1221.8 L1082.4 1221.8 L1084.4 1221.9 L1086.4 1222 L1088.4 1222 L1090.4 1222.1 L1092.3 1222.2 L1094.3 1222.2 L1096.3 1222.2 L1098.3 1222.2 L1100.3 1222.3 L1102.3 1222.2 L1104.3 1222.2 L1106.3 1222.2 L1108.2 1222.1 L1110.2 1221.9 L1112.2 1221.8 L1114.2 1221.6 L1116.2 1221.3 L1118.2 1220.9 L1120.2 1220.5 L1122.2 1220 L1124.1 1219.5 L1126.1 1218.8 L1128.1 1218 L1130.1 1217.1 L1132.1 1216.1 L1134.1 1215 L1136.1 1213.7 L1138.1 1212.4 L1140 1210.9 L1142 1209.4 L1144 1207.9 L1146 1206.2 L1148 1204.6 L1150 1203 L1152 1201.5 L1154 1200.2 L1155.9 1199 L1157.9 1198 L1159.9 1197.4 L1161.9 1197 L1163.9 1197 L1165.9 1197.4 L1167.9 1198.1 L1169.8 1199.2 L1171.8 1200.5 L1173.8 1202 L1175.8 1203.7 L1177.8 1205.5 L1179.8 1207.3 L1181.8 1209.2 L1183.8 1211 L1185.7 1212.8 L1187.7 1214.6 L1189.7 1216.2 L1191.7 1217.7 L1193.7 1219.1 L1195.7 1220.5 L1197.7 1221.7 L1199.7 1222.8 L1201.6 1223.7 L1203.6 1224.6 L1205.6 1225.4 L1207.6 1226.1 L1209.6 1226.7 L1211.6 1227.3 L1213.6 1227.8 L1215.6 1228.2 L1217.5 1228.6 L1219.5 1228.9 L1221.5 1229.2 L1223.5 1229.5 L1225.5 1229.8 L1227.5 1230 L1229.5 1230.3 L1231.5 1230.5 L1233.4 1230.7 L1235.4 1230.9 L1237.4 1231.1 L1239.4 1231.3 L1241.4 1231.4 L1243.4 1231.6 L1245.4 1231.8 L1247.4 1231.9 L1249.3 1232.1 L1251.3 1232.3 L1253.3 1232.4 L1255.3 1232.6 L1257.3 1232.7 L1259.3 1232.9 L1261.3 1233 L1263.3 1233.2 L1265.2 1233.3 L1267.2 1233.5 L1269.2 1233.6 L1271.2 1233.7 L1273.2 1233.9 L1275.2 1234 L1277.2 1234.2 L1279.1 1234.3 L1281.1 1234.4 L1283.1 1234.6 L1285.1 1234.7 L1287.1 1234.8 L1289.1 1235 L1291.1 1235.1 L1293.1 1235.2 L1295 1235.4 L1297 1235.5 L1299 1235.6 L1301 1235.8 L1303 1235.9 L1305 1236 L1307 1236.2 L1309 1236.3 L1310.9 1236.4 L1312.9 1236.5 L1314.9 1236.7 L1316.9 1236.8 L1318.9 1236.9 L1320.9 1237.1 L1322.9 1237.2 L1324.9 1237.3 L1326.8 1237.4 L1328.8 1237.6 L1330.8 1237.7 L1332.8 1237.8 L1334.8 1238 L1336.8 1238.1 L1338.8 1238.2 L1340.8 1238.3 L1342.7 1238.5 L1344.7 1238.6 L1346.7 1238.7 L1348.7 1238.8 L1350.7 1239 L1352.7 1239.1 L1354.7 1239.2 L1356.7 1239.3 L1358.6 1239.5 L1360.6 1239.6 L1362.6 1239.7 L1364.6 1239.8" stroke="#C49A10" stroke-width="1.1" fill="none" stroke-linejoin="round" /><path d="M1068.5 1221.5 L1070.5 1221.6 L1072.5 1221.8 L1074.5 1221.9 L1076.4 1222 L1078.4 1222.1 L1080.4 1222.2 L1082.4 1222.3 L1084.4 1222.4 L1086.4 1222.5 L1088.4 1222.6 L1090.4 1222.7 L1092.3 1222.8 L1094.3 1222.9 L1096.3 1223 L1098.3 1223.1 L1100.3 1223.1 L1102.3 1223.2 L1104.3 1223.3 L1106.3 1223.4 L1108.2 1223.5 L1110.2 1223.5 L1112.2 1223.6 L1114.2 1223.7 L1116.2 1223.7 L1118.2 1223.8 L1120.2 1223.8 L1122.2 1223.9 L1124.1 1223.9 L1126.1 1223.9 L1128.1 1223.9 L1130.1 1223.9 L1132.1 1223.8 L1134.1 1223.8 L1136.1 1223.7 L1138.1 1223.6 L1140 1223.4 L1142 1223.2 L1144 1223 L1146 1222.8 L1148 1222.5 L1150 1222.1 L1152 1221.7 L1154 1221.3 L1155.9 1220.8 L1157.9 1220.3 L1159.9 1219.7 L1161.9 1219 L1163.9 1218.4 L1165.9 1217.6 L1167.9 1216.9 L1169.8 1216.1 L1171.8 1215.2 L1173.8 1214.4 L1175.8 1213.5 L1177.8 1212.7 L1179.8 1211.9 L1181.8 1211.1 L1183.8 1210.3 L1185.7 1209.7 L1187.7 1209.1 L1189.7 1208.6 L1191.7 1208.3 L1193.7 1208.1 L1195.7 1208.1 L1197.7 1208.2 L1199.7 1208.5 L1201.6 1208.9 L1203.6 1209.5 L1205.6 1210.2 L1207.6 1211 L1209.6 1211.9 L1211.6 1212.9 L1213.6 1213.9 L1215.6 1214.9 L1217.5 1216 L1219.5 1217.1 L1221.5 1218.2 L1223.5 1219.3 L1225.5 1220.3 L1227.5 1221.3 L1229.5 1222.3 L1231.5 1223.2 L1233.4 1224.1 L1235.4 1224.9 L1237.4 1225.7 L1239.4 1226.5 L1241.4 1227.1 L1243.4 1227.8 L1245.4 1228.4 L1247.4 1228.9 L1249.3 1229.4 L1251.3 1229.9 L1253.3 1230.3 L1255.3 1230.7 L1257.3 1231 L1259.3 1231.4 L1261.3 1231.7 L1263.3 1232 L1265.2 1232.2 L1267.2 1232.5 L1269.2 1232.7 L1271.2 1232.9 L1273.2 1233.1 L1275.2 1233.3 L1277.2 1233.5 L1279.1 1233.7 L1281.1 1233.9 L1283.1 1234.1 L1285.1 1234.2 L1287.1 1234.4 L1289.1 1234.5 L1291.1 1234.7 L1293.1 1234.9 L1295 1235 L1297 1235.2 L1299 1235.3 L1301 1235.5 L1303 1235.6 L1305 1235.7 L1307 1235.9 L1309 1236 L1310.9 1236.2 L1312.9 1236.3 L1314.9 1236.4 L1316.9 1236.6 L1318.9 1236.7 L1320.9 1236.9 L1322.9 1237 L1324.9 1237.1 L1326.8 1237.3 L1328.8 1237.4 L1330.8 1237.5 L1332.8 1237.7 L1334.8 1237.8 L1336.8 1237.9 L1338.8 1238.1 L1340.8 1238.2 L1342.7 1238.3 L1344.7 1238.4 L1346.7 1238.6 L1348.7 1238.7 L1350.7 1238.8 L1352.7 1239 L1354.7 1239.1 L1356.7 1239.2 L1358.6 1239.3 L1360.6 1239.5 L1362.6 1239.6 L1364.6 1239.7" stroke="#F07A22" stroke-width="1.1" fill="none" stroke-linejoin="round" /><path d="M1068.5 1221.8 L1070.5 1221.9 L1072.5 1222.1 L1074.5 1222.2 L1076.4 1222.3 L1078.4 1222.4 L1080.4 1222.5 L1082.4 1222.6 L1084.4 1222.8 L1086.4 1222.9 L1088.4 1223 L1090.4 1223.1 L1092.3 1223.2 L1094.3 1223.3 L1096.3 1223.4 L1098.3 1223.6 L1100.3 1223.7 L1102.3 1223.8 L1104.3 1223.9 L1106.3 1224 L1108.2 1224.1 L1110.2 1224.2 L1112.2 1224.3 L1114.2 1224.4 L1116.2 1224.6 L1118.2 1224.7 L1120.2 1224.8 L1122.2 1224.9 L1124.1 1225 L1126.1 1225.1 L1128.1 1225.2 L1130.1 1225.3 L1132.1 1225.4 L1134.1 1225.5 L1136.1 1225.6 L1138.1 1225.7 L1140 1225.8 L1142 1225.9 L1144 1226 L1146 1226.1 L1148 1226.2 L1150 1226.3 L1152 1226.4 L1154 1226.5 L1155.9 1226.6 L1157.9 1226.7 L1159.9 1226.7 L1161.9 1226.8 L1163.9 1226.9 L1165.9 1227 L1167.9 1227 L1169.8 1227.1 L1171.8 1227.1 L1173.8 1227.2 L1175.8 1227.2 L1177.8 1227.3 L1179.8 1227.3 L1181.8 1227.3 L1183.8 1227.3 L1185.7 1227.3 L1187.7 1227.3 L1189.7 1227.2 L1191.7 1227.1 L1193.7 1227 L1195.7 1226.8 L1197.7 1226.5 L1199.7 1226.1 L1201.6 1225.6 L1203.6 1224.9 L1205.6 1224 L1207.6 1222.9 L1209.6 1221.4 L1211.6 1219.7 L1213.6 1217.6 L1215.6 1215.1 L1217.5 1212.3 L1219.5 1209.2 L1221.5 1205.8 L1223.5 1202.1 L1225.5 1198.4 L1227.5 1194.8 L1229.5 1191.6 L1231.5 1188.8 L1233.4 1186.9 L1235.4 1186 L1237.4 1186.3 L1239.4 1187.7 L1241.4 1190.1 L1243.4 1193.2 L1245.4 1196.8 L1247.4 1200.7 L1249.3 1204.6 L1251.3 1208.4 L1253.3 1212 L1255.3 1215.3 L1257.3 1218.3 L1259.3 1220.9 L1261.3 1223.2 L1263.3 1225.1 L1265.2 1226.7 L1267.2 1228 L1269.2 1229.1 L1271.2 1230 L1273.2 1230.7 L1275.2 1231.3 L1277.2 1231.8 L1279.1 1232.3 L1281.1 1232.6 L1283.1 1233 L1285.1 1233.2 L1287.1 1233.5 L1289.1 1233.8 L1291.1 1234 L1293.1 1234.2 L1295 1234.4 L1297 1234.6 L1299 1234.8 L1301 1235 L1303 1235.2 L1305 1235.4 L1307 1235.6 L1309 1235.7 L1310.9 1235.9 L1312.9 1236 L1314.9 1236.2 L1316.9 1236.4 L1318.9 1236.5 L1320.9 1236.7 L1322.9 1236.8 L1324.9 1237 L1326.8 1237.1 L1328.8 1237.3 L1330.8 1237.4 L1332.8 1237.5 L1334.8 1237.7 L1336.8 1237.8 L1338.8 1238 L1340.8 1238.1 L1342.7 1238.2 L1344.7 1238.4 L1346.7 1238.5 L1348.7 1238.6 L1350.7 1238.8 L1352.7 1238.9 L1354.7 1239 L1356.7 1239.2 L1358.6 1239.3 L1360.6 1239.4 L1362.6 1239.6 L1364.6 1239.7" stroke="#6A9E58" stroke-width="1.1" fill="none" stroke-linejoin="round" /><path d="M1068.5 1220.8 L1070.5 1220.9 L1072.5 1221 L1074.5 1221.1 L1076.4 1221.2 L1078.4 1221.3 L1080.4 1221.4 L1082.4 1221.5 L1084.4 1221.6 L1086.4 1221.6 L1088.4 1221.7 L1090.4 1221.8 L1092.3 1221.9 L1094.3 1222 L1096.3 1222.1 L1098.3 1222.2 L1100.3 1222.2 L1102.3 1222.3 L1104.3 1222.4 L1106.3 1222.5 L1108.2 1222.6 L1110.2 1222.6 L1112.2 1222.7 L1114.2 1222.8 L1116.2 1222.9 L1118.2 1222.9 L1120.2 1223 L1122.2 1223.1 L1124.1 1223.1 L1126.1 1223.2 L1128.1 1223.2 L1130.1 1223.3 L1132.1 1223.3 L1134.1 1223.4 L1136.1 1223.4 L1138.1 1223.5 L1140 1223.5 L1142 1223.6 L1144 1223.6 L1146 1223.6 L1148 1223.6 L1150 1223.7 L1152 1223.7 L1154 1223.7 L1155.9 1223.7 L1157.9 1223.7 L1159.9 1223.7 L1161.9 1223.7 L1163.9 1223.6 L1165.9 1223.6 L1167.9 1223.6 L1169.8 1223.5 L1171.8 1223.5 L1173.8 1223.4 L1175.8 1223.3 L1177.8 1223.2 L1179.8 1223.1 L1181.8 1223 L1183.8 1222.8 L1185.7 1222.7 L1187.7 1222.5 L1189.7 1222.2 L1191.7 1221.9 L1193.7 1221.6 L1195.7 1221.3 L1197.7 1220.8 L1199.7 1220.3 L1201.6 1219.7 L1203.6 1219 L1205.6 1218.2 L1207.6 1217.3 L1209.6 1216.2 L1211.6 1214.9 L1213.6 1213.4 L1215.6 1211.7 L1217.5 1209.8 L1219.5 1207.5 L1221.5 1204.9 L1223.5 1202 L1225.5 1198.7 L1227.5 1195 L1229.5 1190.9 L1231.5 1186.4 L1233.4 1181.4 L1235.4 1176 L1237.4 1170.1 L1239.4 1163.9 L1241.4 1157.2 L1243.4 1150.2 L1245.4 1142.8 L1247.4 1135.3 L1249.3 1127.6 L1251.3 1119.9 L1253.3 1112.2 L1255.3 1104.8 L1257.3 1097.7 L1259.3 1091.2 L1261.3 1085.4 L1263.3 1080.6 L1265.2 1076.9 L1267.2 1074.4 L1269.2 1073.3 L1271.2 1073.5 L1273.2 1075.2 L1275.2 1078.3 L1277.2 1082.5 L1279.1 1087.8 L1281.1 1094 L1283.1 1100.9 L1285.1 1108.3 L1287.1 1116.1 L1289.1 1124 L1291.1 1132 L1293.1 1139.9 L1295 1147.6 L1297 1155.1 L1299 1162.3 L1301 1169.1 L1303 1175.6 L1305 1181.6 L1307 1187.1 L1309 1192.2 L1310.9 1196.9 L1312.9 1201.2 L1314.9 1205 L1316.9 1208.4 L1318.9 1211.5 L1320.9 1214.3 L1322.9 1216.7 L1324.9 1218.8 L1326.8 1220.7 L1328.8 1222.4 L1330.8 1223.9 L1332.8 1225.2 L1334.8 1226.3 L1336.8 1227.3 L1338.8 1228.2 L1340.8 1229.1 L1342.7 1229.8 L1344.7 1230.4 L1346.7 1231 L1348.7 1231.6 L1350.7 1232.1 L1352.7 1232.6 L1354.7 1233 L1356.7 1233.4 L1358.6 1233.8 L1360.6 1234.2 L1362.6 1234.5 L1364.6 1234.8" stroke="#F0C400" stroke-width="1.1" fill="none" stroke-linejoin="round" /><path d="M1068.5 1223 L1364.6 1241" stroke="#E88A2A" stroke-width="1.4" fill="none" stroke-linejoin="round" /><path d="M1068.5 1224.2 L1364.6 1242.2" stroke="#3A9A98" stroke-width="1.2" fill="none" stroke-linejoin="round" /><path d="M1068.5 1223 L1070.5 1221.7 L1072.5 1215.9 L1074.5 1218 L1076.4 1222.6 L1078.4 1223.7 L1080.4 1223.3 L1082.4 1223.4 L1084.4 1222 L1086.4 1221.2 L1088.4 1219.6 L1090.4 1217 L1092.3 1217.5 L1094.3 1219.2 L1096.3 1219.9 L1098.3 1222.7 L1100.3 1224.6 L1102.3 1224 L1104.3 1221.9 L1106.3 1221.1 L1108.2 1217.7 L1110.2 1216.5 L1112.2 1218.2 L1114.2 1217.4 L1116.2 1213.4 L1118.2 1212.8 L1120.2 1215.2 L1122.2 1215.7 L1124.1 1217.3 L1126.1 1216.5 L1128.1 1214.6 L1130.1 1213.7 L1132.1 1212.9 L1134.1 1211 L1136.1 1209.7 L1138.1 1206.1 L1140 1203.2 L1142 1201.7 L1144 1201.3 L1146 1198.4 L1148 1196.5 L1150 1197.2 L1152 1193 L1154 1189.8 L1155.9 1190.2 L1157.9 1190 L1159.9 1186.5 L1161.9 1184.8 L1163.9 1182.1 L1165.9 1179.7 L1167.9 1182.7 L1169.8 1183.9 L1171.8 1181.9 L1173.8 1180.3 L1175.8 1178 L1177.8 1178.2 L1179.8 1181.8 L1181.8 1184.4 L1183.8 1184.4 L1185.7 1186.1 L1187.7 1187.9 L1189.7 1187.6 L1191.7 1189 L1193.7 1189.3 L1195.7 1186.8 L1197.7 1186.4 L1199.7 1185 L1201.6 1187.1 L1203.6 1187.7 L1205.6 1185 L1207.6 1183.2 L1209.6 1183.1 L1211.6 1181.9 L1213.6 1179.3 L1215.6 1176 L1217.5 1173 L1219.5 1167.4 L1221.5 1162.4 L1223.5 1158.7 L1225.5 1153.5 L1227.5 1144 L1229.5 1138.6 L1231.5 1134.6 L1233.4 1125.7 L1235.4 1118.7 L1237.4 1115.7 L1239.4 1112.4 L1241.4 1108.9 L1243.4 1103.9 L1245.4 1101.7 L1247.4 1100.5 L1249.3 1096.4 L1251.3 1090.9 L1253.3 1088.3 L1255.3 1081.4 L1257.3 1074.8 L1259.3 1072.5 L1261.3 1071.4 L1263.3 1069.2 L1265.2 1068.2 L1267.2 1067.7 L1269.2 1066.9 L1271.2 1068.5 L1273.2 1071.1 L1275.2 1069 L1277.2 1072.3 L1279.1 1080.2 L1281.1 1085.1 L1283.1 1090.6 L1285.1 1100.7 L1287.1 1108.7 L1289.1 1116.3 L1291.1 1129.9 L1293.1 1141.6 L1295 1148.2 L1297 1152.9 L1299 1159 L1301 1165.1 L1303 1172.4 L1305 1178.8 L1307 1185.2 L1309 1191 L1310.9 1197.6 L1312.9 1203 L1314.9 1205.2 L1316.9 1203.3 L1318.9 1205.4 L1320.9 1211.6 L1322.9 1214.8 L1324.9 1218 L1326.8 1220.5 L1328.8 1222.5 L1330.8 1225.1 L1332.8 1226.3 L1334.8 1225.8 L1336.8 1226.3 L1338.8 1229.9 L1340.8 1230.6 L1342.7 1231.3 L1344.7 1232.1 L1346.7 1233 L1348.7 1232.2 L1350.7 1231.9 L1352.7 1231.5 L1354.7 1230.4 L1356.7 1230.7 L1358.6 1232.1 L1360.6 1232.2 L1362.6 1233.7 L1364.6 1237.9" stroke="#3C3C3C" stroke-width="1.1" fill="none" stroke-linejoin="round" /><path d="M1068.5 1219.4 L1070.5 1219.5 L1072.5 1219.5 L1074.5 1219.6 L1076.4 1219.6 L1078.4 1219.6 L1080.4 1219.7 L1082.4 1219.7 L1084.4 1219.7 L1086.4 1219.7 L1088.4 1219.7 L1090.4 1219.7 L1092.3 1219.7 L1094.3 1219.7 L1096.3 1219.6 L1098.3 1219.6 L1100.3 1219.5 L1102.3 1219.4 L1104.3 1219.3 L1106.3 1219.2 L1108.2 1219 L1110.2 1218.7 L1112.2 1218.5 L1114.2 1218.1 L1116.2 1217.7 L1118.2 1217.3 L1120.2 1216.7 L1122.2 1216.1 L1124.1 1215.3 L1126.1 1214.4 L1128.1 1213.4 L1130.1 1212.3 L1132.1 1211.1 L1134.1 1209.7 L1136.1 1208.1 L1138.1 1206.5 L1140 1204.7 L1142 1202.7 L1144 1200.7 L1146 1198.6 L1148 1196.4 L1150 1194.3 L1152 1192.1 L1154 1190 L1155.9 1188.1 L1157.9 1186.3 L1159.9 1184.8 L1161.9 1183.5 L1163.9 1182.5 L1165.9 1181.9 L1167.9 1181.5 L1169.8 1181.4 L1171.8 1181.5 L1173.8 1181.8 L1175.8 1182.2 L1177.8 1182.8 L1179.8 1183.3 L1181.8 1183.9 L1183.8 1184.5 L1185.7 1185.1 L1187.7 1185.6 L1189.7 1186.2 L1191.7 1186.6 L1193.7 1187 L1195.7 1187.4 L1197.7 1187.6 L1199.7 1187.7 L1201.6 1187.7 L1203.6 1187.4 L1205.6 1186.8 L1207.6 1185.9 L1209.6 1184.5 L1211.6 1182.6 L1213.6 1180.2 L1215.6 1177.2 L1217.5 1173.5 L1219.5 1169.2 L1221.5 1164.2 L1223.5 1158.7 L1225.5 1152.6 L1227.5 1146.3 L1229.5 1139.7 L1231.5 1133.2 L1233.4 1127.1 L1235.4 1121.4 L1237.4 1116.4 L1239.4 1112.1 L1241.4 1108.3 L1243.4 1104.8 L1245.4 1101.5 L1247.4 1098.2 L1249.3 1094.7 L1251.3 1091 L1253.3 1087.2 L1255.3 1083.3 L1257.3 1079.3 L1259.3 1075.6 L1261.3 1072.1 L1263.3 1069.3 L1265.2 1067.2 L1267.2 1066.1 L1269.2 1066 L1271.2 1067.2 L1273.2 1069.6 L1275.2 1073.2 L1277.2 1078 L1279.1 1083.7 L1281.1 1090.2 L1283.1 1097.3 L1285.1 1105 L1287.1 1112.9 L1289.1 1121.1 L1291.1 1129.2 L1293.1 1137.3 L1295 1145.1 L1297 1152.8 L1299 1160.1 L1301 1167 L1303 1173.5 L1305 1179.6 L1307 1185.2 L1309 1190.4 L1310.9 1195.2 L1312.9 1199.5 L1314.9 1203.4 L1316.9 1206.9 L1318.9 1210 L1320.9 1212.8 L1322.9 1215.3 L1324.9 1217.5 L1326.8 1219.4 L1328.8 1221.1 L1330.8 1222.7 L1332.8 1224 L1334.8 1225.2 L1336.8 1226.2 L1338.8 1227.2 L1340.8 1228 L1342.7 1228.8 L1344.7 1229.5 L1346.7 1230.1 L1348.7 1230.7 L1350.7 1231.2 L1352.7 1231.7 L1354.7 1232.1 L1356.7 1232.6 L1358.6 1233 L1360.6 1233.4 L1362.6 1233.7 L1364.6 1234.1" stroke="#F0303A" stroke-width="1.3" fill="none" stroke-linejoin="round" /><line x1="1068.5" y1="1258" x2="1364.6" y2="1258" stroke="#000" stroke-width="1.3" /><line x1="1068.5" y1="1258" x2="1068.5" y2="1260.8" stroke="#000" stroke-width="1.2" /><line x1="1093.2" y1="1258" x2="1093.2" y2="1263" stroke="#000" stroke-width="1.2" /><text x="1093.2" y="1279.3" font-family="'Liberation Sans', Arial, sans-serif" font-size="16.3" font-weight="bold" fill="#000" text-anchor="middle" >538</text><line x1="1117.8" y1="1258" x2="1117.8" y2="1260.8" stroke="#000" stroke-width="1.2" /><line x1="1142.5" y1="1258" x2="1142.5" y2="1263" stroke="#000" stroke-width="1.2" /><text x="1142.5" y="1279.3" font-family="'Liberation Sans', Arial, sans-serif" font-size="16.3" font-weight="bold" fill="#000" text-anchor="middle" >536</text><line x1="1167.1" y1="1258" x2="1167.1" y2="1260.8" stroke="#000" stroke-width="1.2" /><line x1="1191.8" y1="1258" x2="1191.8" y2="1263" stroke="#000" stroke-width="1.2" /><text x="1191.8" y="1279.3" font-family="'Liberation Sans', Arial, sans-serif" font-size="16.3" font-weight="bold" fill="#000" text-anchor="middle" >534</text><line x1="1216.5" y1="1258" x2="1216.5" y2="1260.8" stroke="#000" stroke-width="1.2" /><line x1="1241.1" y1="1258" x2="1241.1" y2="1263" stroke="#000" stroke-width="1.2" /><text x="1241.1" y="1279.3" font-family="'Liberation Sans', Arial, sans-serif" font-size="16.3" font-weight="bold" fill="#000" text-anchor="middle" >532</text><line x1="1265.8" y1="1258" x2="1265.8" y2="1260.8" stroke="#000" stroke-width="1.2" /><line x1="1290.4" y1="1258" x2="1290.4" y2="1263" stroke="#000" stroke-width="1.2" /><text x="1290.4" y="1279.3" font-family="'Liberation Sans', Arial, sans-serif" font-size="16.3" font-weight="bold" fill="#000" text-anchor="middle" >530</text><line x1="1315.1" y1="1258" x2="1315.1" y2="1260.8" stroke="#000" stroke-width="1.2" /><line x1="1339.8" y1="1258" x2="1339.8" y2="1263" stroke="#000" stroke-width="1.2" /><text x="1339.8" y="1279.3" font-family="'Liberation Sans', Arial, sans-serif" font-size="16.3" font-weight="bold" fill="#000" text-anchor="middle" >528</text><line x1="1364.4" y1="1258" x2="1364.4" y2="1260.8" stroke="#000" stroke-width="1.2" /><text x="1216.5" y="1299.9" font-family="'Liberation Serif', 'Times New Roman', serif" font-size="21.6" font-weight="bold" fill="#000" text-anchor="middle" >Binding energy (eV)</text><text x="1089.5" y="1141.3" font-family="'Liberation Serif', 'Times New Roman', serif" font-size="23.5" font-weight="bold" fill="#E8731F" xml:space="preserve">O 1<tspan font-style="italic">s</tspan>   0s</text><text x="1184.4" y="1090" font-family="'Liberation Serif', 'Times New Roman', serif" font-size="16.5" font-weight="bold" fill="#F2C400" text-anchor="start" >RCO<tspan font-size="11" dy="4">2</tspan><tspan dy="-4">Na</tspan></text><text x="1185.4" y="1161.1" font-family="'Liberation Serif', 'Times New Roman', serif" font-size="16.5" font-weight="bold" fill="#1C8C88" text-anchor="start" >C=O</text><text x="1150" y="1178" font-family="'Liberation Serif', 'Times New Roman', serif" font-size="16.5" font-weight="bold" fill="#F07A22" text-anchor="start" >C-O</text><text x="1071.6" y="1191.9" font-family="'Liberation Serif', 'Times New Roman', serif" font-size="16.5" font-weight="bold" fill="#C8A000" text-anchor="start" >Poly(CO<tspan font-size="11" dy="4">2</tspan><tspan dy="-4">)</tspan></text><path d="M1379 1223.7 L1381 1223.3 L1383 1223 L1385 1222.5 L1387 1222 L1389 1221.5 L1390.9 1220.8 L1392.9 1220.1 L1394.9 1219.3 L1396.9 1218.4 L1398.9 1217.4 L1400.9 1216.2 L1402.9 1214.9 L1404.9 1213.5 L1406.9 1212 L1408.9 1210.2 L1410.8 1208.4 L1412.8 1206.3 L1414.8 1204.1 L1416.8 1201.7 L1418.8 1199.1 L1420.8 1196.4 L1422.8 1193.5 L1424.8 1190.4 L1426.8 1187.2 L1428.8 1183.9 L1430.8 1180.4 L1432.7 1176.8 L1434.7 1173.2 L1436.7 1169.5 L1438.7 1165.8 L1440.7 1162.1 L1442.7 1158.6 L1444.7 1155.1 L1446.7 1151.8 L1448.7 1148.8 L1450.7 1146 L1452.7 1143.6 L1454.6 1141.6 L1456.6 1140.1 L1458.6 1139.1 L1460.6 1138.6 L1462.6 1138.7 L1464.6 1139.3 L1466.6 1140.5 L1468.6 1142.2 L1470.6 1144.3 L1472.6 1146.9 L1474.5 1149.8 L1476.5 1153 L1478.5 1156.5 L1480.5 1160.1 L1482.5 1163.8 L1484.5 1167.7 L1486.5 1171.5 L1488.5 1175.4 L1490.5 1179.2 L1492.5 1182.9 L1494.5 1186.5 L1496.4 1190 L1498.4 1193.4 L1500.4 1196.6 L1502.4 1199.7 L1504.4 1202.6 L1506.4 1205.3 L1508.4 1207.9 L1510.4 1210.3 L1512.4 1212.5 L1514.4 1214.5 L1516.4 1216.4 L1518.3 1218.1 L1520.3 1219.7 L1522.3 1221.1 L1524.3 1222.4 L1526.3 1223.6 L1528.3 1224.7 L1530.3 1225.7 L1532.3 1226.6 L1534.3 1227.4 L1536.3 1228.1 L1538.2 1228.7 L1540.2 1229.3 L1542.2 1229.9 L1544.2 1230.4 L1546.2 1230.8 L1548.2 1231.2 L1550.2 1231.6 L1552.2 1231.9 L1554.2 1232.3 L1556.2 1232.6 L1558.2 1232.9 L1560.1 1233.1 L1562.1 1233.4 L1564.1 1233.6 L1566.1 1233.8 L1568.1 1234.1 L1570.1 1234.3 L1572.1 1234.5 L1574.1 1234.7 L1576.1 1234.9 L1578.1 1235 L1580.1 1235.2 L1582 1235.4 L1584 1235.6 L1586 1235.7 L1588 1235.9 L1590 1236 L1592 1236.2 L1594 1236.3 L1596 1236.5 L1598 1236.6 L1600 1236.8 L1601.9 1236.9 L1603.9 1237 L1605.9 1237.2 L1607.9 1237.3 L1609.9 1237.4 L1611.9 1237.6 L1613.9 1237.7 L1615.9 1237.8 L1617.9 1237.9 L1619.9 1238.1 L1621.9 1238.2 L1623.8 1238.3 L1625.8 1238.4 L1627.8 1238.5 L1629.8 1238.6 L1631.8 1238.8 L1633.8 1238.9 L1635.8 1239 L1637.8 1239.1 L1639.8 1239.2 L1641.8 1239.3 L1643.8 1239.4 L1645.7 1239.5 L1647.7 1239.6 L1649.7 1239.7 L1651.7 1239.8 L1653.7 1240 L1655.7 1240.1 L1657.7 1240.2 L1659.7 1240.3 L1661.7 1240.4 L1663.7 1240.5 L1665.6 1240.6 L1667.6 1240.7 L1669.6 1240.8 L1671.6 1240.9 L1673.6 1241 L1675.6 1241.1 L1675.6 1243.2 L1379 1231.2Z" fill="#E6CC80" fill-opacity="0.68" stroke="none"/><path d="M1379 1229.8 L1381 1229.9 L1383 1229.9 L1385 1230 L1387 1230.1 L1389 1230.1 L1390.9 1230.2 L1392.9 1230.3 L1394.9 1230.4 L1396.9 1230.4 L1398.9 1230.5 L1400.9 1230.6 L1402.9 1230.6 L1404.9 1230.7 L1406.9 1230.8 L1408.9 1230.8 L1410.8 1230.9 L1412.8 1231 L1414.8 1231 L1416.8 1231.1 L1418.8 1231.2 L1420.8 1231.2 L1422.8 1231.3 L1424.8 1231.3 L1426.8 1231.4 L1428.8 1231.5 L1430.8 1231.5 L1432.7 1231.6 L1434.7 1231.6 L1436.7 1231.6 L1438.7 1231.7 L1440.7 1231.7 L1442.7 1231.8 L1444.7 1231.8 L1446.7 1231.8 L1448.7 1231.9 L1450.7 1231.9 L1452.7 1231.9 L1454.6 1231.9 L1456.6 1231.9 L1458.6 1231.8 L1460.6 1231.8 L1462.6 1231.7 L1464.6 1231.6 L1466.6 1231.4 L1468.6 1231.2 L1470.6 1230.9 L1472.6 1230.6 L1474.5 1230.1 L1476.5 1229.5 L1478.5 1228.7 L1480.5 1227.8 L1482.5 1226.7 L1484.5 1225.4 L1486.5 1223.9 L1488.5 1222.2 L1490.5 1220.4 L1492.5 1218.3 L1494.5 1216.2 L1496.4 1213.9 L1498.4 1211.8 L1500.4 1209.7 L1502.4 1207.9 L1504.4 1206.5 L1506.4 1205.7 L1508.4 1205.4 L1510.4 1205.8 L1512.4 1206.8 L1514.4 1208.3 L1516.4 1210.2 L1518.3 1212.4 L1520.3 1214.7 L1522.3 1217.1 L1524.3 1219.4 L1526.3 1221.6 L1528.3 1223.7 L1530.3 1225.6 L1532.3 1227.3 L1534.3 1228.7 L1536.3 1230 L1538.2 1231.1 L1540.2 1232 L1542.2 1232.8 L1544.2 1233.4 L1546.2 1234 L1548.2 1234.4 L1550.2 1234.8 L1552.2 1235.1 L1554.2 1235.4 L1556.2 1235.6 L1558.2 1235.8 L1560.1 1236 L1562.1 1236.2 L1564.1 1236.4 L1566.1 1236.5 L1568.1 1236.7 L1570.1 1236.8 L1572.1 1237 L1574.1 1237.1 L1576.1 1237.2 L1578.1 1237.3 L1580.1 1237.4 L1582 1237.6 L1584 1237.7 L1586 1237.8 L1588 1237.9 L1590 1238 L1592 1238.1 L1594 1238.2 L1596 1238.3 L1598 1238.4 L1600 1238.5 L1601.9 1238.6 L1603.9 1238.7 L1605.9 1238.8 L1607.9 1238.9 L1609.9 1239 L1611.9 1239.1 L1613.9 1239.2 L1615.9 1239.3 L1617.9 1239.4 L1619.9 1239.5 L1621.9 1239.5 L1623.8 1239.6 L1625.8 1239.7 L1627.8 1239.8 L1629.8 1239.9 L1631.8 1240 L1633.8 1240.1 L1635.8 1240.2 L1637.8 1240.3 L1639.8 1240.3 L1641.8 1240.4 L1643.8 1240.5 L1645.7 1240.6 L1647.7 1240.7 L1649.7 1240.8 L1651.7 1240.9 L1653.7 1240.9 L1655.7 1241 L1657.7 1241.1 L1659.7 1241.2 L1661.7 1241.3 L1663.7 1241.4 L1665.6 1241.4 L1675.6 1242 L1675.6 1243.2 L1379 1231.2Z" fill="#F9B48A" fill-opacity="0.68" stroke="none"/><path d="M1379 1229.5 L1381 1229.5 L1383 1229.6 L1385 1229.7 L1387 1229.7 L1389 1229.8 L1390.9 1229.9 L1392.9 1229.9 L1394.9 1230 L1396.9 1230.1 L1398.9 1230.1 L1400.9 1230.2 L1402.9 1230.3 L1404.9 1230.3 L1406.9 1230.4 L1408.9 1230.4 L1410.8 1230.5 L1412.8 1230.6 L1414.8 1230.6 L1416.8 1230.7 L1418.8 1230.7 L1420.8 1230.8 L1422.8 1230.8 L1424.8 1230.9 L1426.8 1230.9 L1428.8 1230.9 L1430.8 1231 L1432.7 1231 L1434.7 1231 L1436.7 1231.1 L1438.7 1231.1 L1440.7 1231.1 L1442.7 1231.1 L1444.7 1231.1 L1446.7 1231.1 L1448.7 1231.1 L1450.7 1231.1 L1452.7 1231 L1454.6 1231 L1456.6 1230.9 L1458.6 1230.9 L1460.6 1230.8 L1462.6 1230.7 L1464.6 1230.6 L1466.6 1230.4 L1468.6 1230.3 L1470.6 1230.1 L1472.6 1229.9 L1474.5 1229.7 L1476.5 1229.5 L1478.5 1229.2 L1480.5 1228.9 L1482.5 1228.6 L1484.5 1228.3 L1486.5 1227.9 L1488.5 1227.5 L1490.5 1227.1 L1492.5 1226.7 L1494.5 1226.2 L1496.4 1225.7 L1498.4 1225.2 L1500.4 1224.7 L1502.4 1224.1 L1504.4 1223.5 L1506.4 1222.9 L1508.4 1222.3 L1510.4 1221.7 L1512.4 1221.1 L1514.4 1220.5 L1516.4 1219.9 L1518.3 1219.3 L1520.3 1218.7 L1522.3 1218.1 L1524.3 1217.5 L1526.3 1217 L1528.3 1216.6 L1530.3 1216.2 L1532.3 1215.8 L1534.3 1215.5 L1536.3 1215.3 L1538.2 1215.1 L1540.2 1215.1 L1542.2 1215.1 L1544.2 1215.2 L1546.2 1215.4 L1548.2 1215.6 L1550.2 1216 L1552.2 1216.4 L1554.2 1216.9 L1556.2 1217.4 L1558.2 1218 L1560.1 1218.7 L1562.1 1219.4 L1564.1 1220.1 L1566.1 1220.8 L1568.1 1221.6 L1570.1 1222.4 L1572.1 1223.2 L1574.1 1223.9 L1576.1 1224.7 L1578.1 1225.5 L1580.1 1226.3 L1582 1227 L1584 1227.7 L1586 1228.4 L1588 1229.1 L1590 1229.8 L1592 1230.4 L1594 1231 L1596 1231.6 L1598 1232.2 L1600 1232.7 L1601.9 1233.2 L1603.9 1233.7 L1605.9 1234.2 L1607.9 1234.6 L1609.9 1235 L1611.9 1235.4 L1613.9 1235.8 L1615.9 1236.1 L1617.9 1236.4 L1619.9 1236.7 L1621.9 1237 L1623.8 1237.3 L1625.8 1237.5 L1627.8 1237.8 L1629.8 1238 L1631.8 1238.2 L1633.8 1238.4 L1635.8 1238.6 L1637.8 1238.8 L1639.8 1239 L1641.8 1239.1 L1643.8 1239.3 L1645.7 1239.4 L1647.7 1239.6 L1649.7 1239.7 L1651.7 1239.8 L1653.7 1240 L1655.7 1240.1 L1657.7 1240.2 L1659.7 1240.3 L1661.7 1240.5 L1663.7 1240.6 L1665.6 1240.7 L1667.6 1240.8 L1669.6 1240.9 L1671.6 1241 L1673.6 1241.1 L1675.6 1241.2 L1675.6 1243.2 L1379 1231.2Z" fill="#7CC0B8" fill-opacity="0.68" stroke="none"/><path d="M1379 1229.5 L1381 1229.6 L1383 1229.7 L1385 1229.7 L1387 1229.8 L1389 1229.9 L1390.9 1229.9 L1392.9 1230 L1394.9 1230.1 L1396.9 1230.1 L1398.9 1230.2 L1400.9 1230.3 L1402.9 1230.4 L1404.9 1230.4 L1406.9 1230.5 L1408.9 1230.6 L1410.8 1230.6 L1412.8 1230.7 L1414.8 1230.8 L1416.8 1230.8 L1418.8 1230.9 L1420.8 1230.9 L1422.8 1231 L1424.8 1231.1 L1426.8 1231.1 L1428.8 1231.2 L1430.8 1231.3 L1432.7 1231.3 L1434.7 1231.4 L1436.7 1231.4 L1438.7 1231.5 L1440.7 1231.6 L1442.7 1231.6 L1444.7 1231.7 L1446.7 1231.7 L1448.7 1231.8 L1450.7 1231.8 L1452.7 1231.9 L1454.6 1231.9 L1456.6 1232 L1458.6 1232 L1460.6 1232.1 L1462.6 1232.1 L1464.6 1232.2 L1466.6 1232.2 L1468.6 1232.3 L1470.6 1232.3 L1472.6 1232.3 L1474.5 1232.4 L1476.5 1232.4 L1478.5 1232.4 L1480.5 1232.5 L1482.5 1232.5 L1484.5 1232.5 L1486.5 1232.5 L1488.5 1232.6 L1490.5 1232.6 L1492.5 1232.6 L1494.5 1232.6 L1496.4 1232.6 L1498.4 1232.6 L1500.4 1232.6 L1502.4 1232.6 L1504.4 1232.6 L1506.4 1232.5 L1508.4 1232.5 L1510.4 1232.5 L1512.4 1232.4 L1514.4 1232.4 L1516.4 1232.3 L1518.3 1232.2 L1520.3 1232.1 L1522.3 1232 L1524.3 1231.8 L1526.3 1231.6 L1528.3 1231.4 L1530.3 1231.1 L1532.3 1230.8 L1534.3 1230.5 L1536.3 1230 L1538.2 1229.5 L1540.2 1228.9 L1542.2 1228.2 L1544.2 1227.4 L1546.2 1226.5 L1548.2 1225.5 L1550.2 1224.2 L1552.2 1222.9 L1554.2 1221.3 L1556.2 1219.5 L1558.2 1217.6 L1560.1 1215.4 L1562.1 1213 L1564.1 1210.4 L1566.1 1207.6 L1568.1 1204.6 L1570.1 1201.4 L1572.1 1198 L1574.1 1194.5 L1576.1 1190.9 L1578.1 1187.2 L1580.1 1183.5 L1582 1179.8 L1584 1176.2 L1586 1172.8 L1588 1169.7 L1590 1166.9 L1592 1164.6 L1594 1162.8 L1596 1161.6 L1598 1161.1 L1600 1161.3 L1601.9 1162.1 L1603.9 1163.6 L1605.9 1165.7 L1607.9 1168.3 L1609.9 1171.3 L1611.9 1174.7 L1613.9 1178.3 L1615.9 1182.1 L1617.9 1185.9 L1619.9 1189.8 L1621.9 1193.7 L1623.8 1197.4 L1625.8 1201.1 L1627.8 1204.6 L1629.8 1207.9 L1631.8 1211 L1633.8 1213.9 L1635.8 1216.6 L1637.8 1219.1 L1639.8 1221.4 L1641.8 1223.5 L1643.8 1225.3 L1645.7 1227 L1647.7 1228.5 L1649.7 1229.9 L1651.7 1231 L1653.7 1232.1 L1655.7 1233 L1657.7 1233.9 L1659.7 1234.6 L1661.7 1235.2 L1663.7 1235.8 L1665.6 1236.3 L1667.6 1236.8 L1669.6 1237.2 L1671.6 1237.6 L1673.6 1237.9 L1675.6 1238.2 L1675.6 1243.2 L1379 1231.2Z" fill="#FFE67A" fill-opacity="0.68" stroke="none"/><path d="M1379 1223.7 L1381 1223.3 L1383 1223 L1385 1222.5 L1387 1222 L1389 1221.5 L1390.9 1220.8 L1392.9 1220.1 L1394.9 1219.3 L1396.9 1218.4 L1398.9 1217.4 L1400.9 1216.2 L1402.9 1214.9 L1404.9 1213.5 L1406.9 1212 L1408.9 1210.2 L1410.8 1208.4 L1412.8 1206.3 L1414.8 1204.1 L1416.8 1201.7 L1418.8 1199.1 L1420.8 1196.4 L1422.8 1193.5 L1424.8 1190.4 L1426.8 1187.2 L1428.8 1183.9 L1430.8 1180.4 L1432.7 1176.8 L1434.7 1173.2 L1436.7 1169.5 L1438.7 1165.8 L1440.7 1162.1 L1442.7 1158.6 L1444.7 1155.1 L1446.7 1151.8 L1448.7 1148.8 L1450.7 1146 L1452.7 1143.6 L1454.6 1141.6 L1456.6 1140.1 L1458.6 1139.1 L1460.6 1138.6 L1462.6 1138.7 L1464.6 1139.3 L1466.6 1140.5 L1468.6 1142.2 L1470.6 1144.3 L1472.6 1146.9 L1474.5 1149.8 L1476.5 1153 L1478.5 1156.5 L1480.5 1160.1 L1482.5 1163.8 L1484.5 1167.7 L1486.5 1171.5 L1488.5 1175.4 L1490.5 1179.2 L1492.5 1182.9 L1494.5 1186.5 L1496.4 1190 L1498.4 1193.4 L1500.4 1196.6 L1502.4 1199.7 L1504.4 1202.6 L1506.4 1205.3 L1508.4 1207.9 L1510.4 1210.3 L1512.4 1212.5 L1514.4 1214.5 L1516.4 1216.4 L1518.3 1218.1 L1520.3 1219.7 L1522.3 1221.1 L1524.3 1222.4 L1526.3 1223.6 L1528.3 1224.7 L1530.3 1225.7 L1532.3 1226.6 L1534.3 1227.4 L1536.3 1228.1 L1538.2 1228.7 L1540.2 1229.3 L1542.2 1229.9 L1544.2 1230.4 L1546.2 1230.8 L1548.2 1231.2 L1550.2 1231.6 L1552.2 1231.9 L1554.2 1232.3 L1556.2 1232.6 L1558.2 1232.9 L1560.1 1233.1 L1562.1 1233.4 L1564.1 1233.6 L1566.1 1233.8 L1568.1 1234.1 L1570.1 1234.3 L1572.1 1234.5 L1574.1 1234.7 L1576.1 1234.9 L1578.1 1235 L1580.1 1235.2 L1582 1235.4 L1584 1235.6 L1586 1235.7 L1588 1235.9 L1590 1236 L1592 1236.2 L1594 1236.3 L1596 1236.5 L1598 1236.6 L1600 1236.8 L1601.9 1236.9 L1603.9 1237 L1605.9 1237.2 L1607.9 1237.3 L1609.9 1237.4 L1611.9 1237.6 L1613.9 1237.7 L1615.9 1237.8 L1617.9 1237.9 L1619.9 1238.1 L1621.9 1238.2 L1623.8 1238.3 L1625.8 1238.4 L1627.8 1238.5 L1629.8 1238.6 L1631.8 1238.8 L1633.8 1238.9 L1635.8 1239 L1637.8 1239.1 L1639.8 1239.2 L1641.8 1239.3 L1643.8 1239.4 L1645.7 1239.5 L1647.7 1239.6 L1649.7 1239.7 L1651.7 1239.8 L1653.7 1240 L1655.7 1240.1 L1657.7 1240.2 L1659.7 1240.3 L1661.7 1240.4 L1663.7 1240.5 L1665.6 1240.6 L1667.6 1240.7 L1669.6 1240.8 L1671.6 1240.9 L1673.6 1241 L1675.6 1241.1" stroke="#C49A10" stroke-width="1.1" fill="none" stroke-linejoin="round" /><path d="M1379 1229.8 L1381 1229.9 L1383 1229.9 L1385 1230 L1387 1230.1 L1389 1230.1 L1390.9 1230.2 L1392.9 1230.3 L1394.9 1230.4 L1396.9 1230.4 L1398.9 1230.5 L1400.9 1230.6 L1402.9 1230.6 L1404.9 1230.7 L1406.9 1230.8 L1408.9 1230.8 L1410.8 1230.9 L1412.8 1231 L1414.8 1231 L1416.8 1231.1 L1418.8 1231.2 L1420.8 1231.2 L1422.8 1231.3 L1424.8 1231.3 L1426.8 1231.4 L1428.8 1231.5 L1430.8 1231.5 L1432.7 1231.6 L1434.7 1231.6 L1436.7 1231.6 L1438.7 1231.7 L1440.7 1231.7 L1442.7 1231.8 L1444.7 1231.8 L1446.7 1231.8 L1448.7 1231.9 L1450.7 1231.9 L1452.7 1231.9 L1454.6 1231.9 L1456.6 1231.9 L1458.6 1231.8 L1460.6 1231.8 L1462.6 1231.7 L1464.6 1231.6 L1466.6 1231.4 L1468.6 1231.2 L1470.6 1230.9 L1472.6 1230.6 L1474.5 1230.1 L1476.5 1229.5 L1478.5 1228.7 L1480.5 1227.8 L1482.5 1226.7 L1484.5 1225.4 L1486.5 1223.9 L1488.5 1222.2 L1490.5 1220.4 L1492.5 1218.3 L1494.5 1216.2 L1496.4 1213.9 L1498.4 1211.8 L1500.4 1209.7 L1502.4 1207.9 L1504.4 1206.5 L1506.4 1205.7 L1508.4 1205.4 L1510.4 1205.8 L1512.4 1206.8 L1514.4 1208.3 L1516.4 1210.2 L1518.3 1212.4 L1520.3 1214.7 L1522.3 1217.1 L1524.3 1219.4 L1526.3 1221.6 L1528.3 1223.7 L1530.3 1225.6 L1532.3 1227.3 L1534.3 1228.7 L1536.3 1230 L1538.2 1231.1 L1540.2 1232 L1542.2 1232.8 L1544.2 1233.4 L1546.2 1234 L1548.2 1234.4 L1550.2 1234.8 L1552.2 1235.1 L1554.2 1235.4 L1556.2 1235.6 L1558.2 1235.8 L1560.1 1236 L1562.1 1236.2 L1564.1 1236.4 L1566.1 1236.5 L1568.1 1236.7 L1570.1 1236.8 L1572.1 1237 L1574.1 1237.1 L1576.1 1237.2 L1578.1 1237.3 L1580.1 1237.4 L1582 1237.6 L1584 1237.7 L1586 1237.8 L1588 1237.9 L1590 1238 L1592 1238.1 L1594 1238.2 L1596 1238.3 L1598 1238.4 L1600 1238.5 L1601.9 1238.6 L1603.9 1238.7 L1605.9 1238.8 L1607.9 1238.9 L1609.9 1239 L1611.9 1239.1 L1613.9 1239.2 L1615.9 1239.3 L1617.9 1239.4 L1619.9 1239.5 L1621.9 1239.5 L1623.8 1239.6 L1625.8 1239.7 L1627.8 1239.8 L1629.8 1239.9 L1631.8 1240 L1633.8 1240.1 L1635.8 1240.2 L1637.8 1240.3 L1639.8 1240.3 L1641.8 1240.4 L1643.8 1240.5 L1645.7 1240.6 L1647.7 1240.7 L1649.7 1240.8 L1651.7 1240.9 L1653.7 1240.9 L1655.7 1241 L1657.7 1241.1 L1659.7 1241.2 L1661.7 1241.3 L1663.7 1241.4 L1665.6 1241.4 L1675.6 1242" stroke="#F07A22" stroke-width="1.1" fill="none" stroke-linejoin="round" /><path d="M1379 1229.5 L1381 1229.5 L1383 1229.6 L1385 1229.7 L1387 1229.7 L1389 1229.8 L1390.9 1229.9 L1392.9 1229.9 L1394.9 1230 L1396.9 1230.1 L1398.9 1230.1 L1400.9 1230.2 L1402.9 1230.3 L1404.9 1230.3 L1406.9 1230.4 L1408.9 1230.4 L1410.8 1230.5 L1412.8 1230.6 L1414.8 1230.6 L1416.8 1230.7 L1418.8 1230.7 L1420.8 1230.8 L1422.8 1230.8 L1424.8 1230.9 L1426.8 1230.9 L1428.8 1230.9 L1430.8 1231 L1432.7 1231 L1434.7 1231 L1436.7 1231.1 L1438.7 1231.1 L1440.7 1231.1 L1442.7 1231.1 L1444.7 1231.1 L1446.7 1231.1 L1448.7 1231.1 L1450.7 1231.1 L1452.7 1231 L1454.6 1231 L1456.6 1230.9 L1458.6 1230.9 L1460.6 1230.8 L1462.6 1230.7 L1464.6 1230.6 L1466.6 1230.4 L1468.6 1230.3 L1470.6 1230.1 L1472.6 1229.9 L1474.5 1229.7 L1476.5 1229.5 L1478.5 1229.2 L1480.5 1228.9 L1482.5 1228.6 L1484.5 1228.3 L1486.5 1227.9 L1488.5 1227.5 L1490.5 1227.1 L1492.5 1226.7 L1494.5 1226.2 L1496.4 1225.7 L1498.4 1225.2 L1500.4 1224.7 L1502.4 1224.1 L1504.4 1223.5 L1506.4 1222.9 L1508.4 1222.3 L1510.4 1221.7 L1512.4 1221.1 L1514.4 1220.5 L1516.4 1219.9 L1518.3 1219.3 L1520.3 1218.7 L1522.3 1218.1 L1524.3 1217.5 L1526.3 1217 L1528.3 1216.6 L1530.3 1216.2 L1532.3 1215.8 L1534.3 1215.5 L1536.3 1215.3 L1538.2 1215.1 L1540.2 1215.1 L1542.2 1215.1 L1544.2 1215.2 L1546.2 1215.4 L1548.2 1215.6 L1550.2 1216 L1552.2 1216.4 L1554.2 1216.9 L1556.2 1217.4 L1558.2 1218 L1560.1 1218.7 L1562.1 1219.4 L1564.1 1220.1 L1566.1 1220.8 L1568.1 1221.6 L1570.1 1222.4 L1572.1 1223.2 L1574.1 1223.9 L1576.1 1224.7 L1578.1 1225.5 L1580.1 1226.3 L1582 1227 L1584 1227.7 L1586 1228.4 L1588 1229.1 L1590 1229.8 L1592 1230.4 L1594 1231 L1596 1231.6 L1598 1232.2 L1600 1232.7 L1601.9 1233.2 L1603.9 1233.7 L1605.9 1234.2 L1607.9 1234.6 L1609.9 1235 L1611.9 1235.4 L1613.9 1235.8 L1615.9 1236.1 L1617.9 1236.4 L1619.9 1236.7 L1621.9 1237 L1623.8 1237.3 L1625.8 1237.5 L1627.8 1237.8 L1629.8 1238 L1631.8 1238.2 L1633.8 1238.4 L1635.8 1238.6 L1637.8 1238.8 L1639.8 1239 L1641.8 1239.1 L1643.8 1239.3 L1645.7 1239.4 L1647.7 1239.6 L1649.7 1239.7 L1651.7 1239.8 L1653.7 1240 L1655.7 1240.1 L1657.7 1240.2 L1659.7 1240.3 L1661.7 1240.5 L1663.7 1240.6 L1665.6 1240.7 L1667.6 1240.8 L1669.6 1240.9 L1671.6 1241 L1673.6 1241.1 L1675.6 1241.2" stroke="#2E9690" stroke-width="1.1" fill="none" stroke-linejoin="round" /><path d="M1379 1229.5 L1381 1229.6 L1383 1229.7 L1385 1229.7 L1387 1229.8 L1389 1229.9 L1390.9 1229.9 L1392.9 1230 L1394.9 1230.1 L1396.9 1230.1 L1398.9 1230.2 L1400.9 1230.3 L1402.9 1230.4 L1404.9 1230.4 L1406.9 1230.5 L1408.9 1230.6 L1410.8 1230.6 L1412.8 1230.7 L1414.8 1230.8 L1416.8 1230.8 L1418.8 1230.9 L1420.8 1230.9 L1422.8 1231 L1424.8 1231.1 L1426.8 1231.1 L1428.8 1231.2 L1430.8 1231.3 L1432.7 1231.3 L1434.7 1231.4 L1436.7 1231.4 L1438.7 1231.5 L1440.7 1231.6 L1442.7 1231.6 L1444.7 1231.7 L1446.7 1231.7 L1448.7 1231.8 L1450.7 1231.8 L1452.7 1231.9 L1454.6 1231.9 L1456.6 1232 L1458.6 1232 L1460.6 1232.1 L1462.6 1232.1 L1464.6 1232.2 L1466.6 1232.2 L1468.6 1232.3 L1470.6 1232.3 L1472.6 1232.3 L1474.5 1232.4 L1476.5 1232.4 L1478.5 1232.4 L1480.5 1232.5 L1482.5 1232.5 L1484.5 1232.5 L1486.5 1232.5 L1488.5 1232.6 L1490.5 1232.6 L1492.5 1232.6 L1494.5 1232.6 L1496.4 1232.6 L1498.4 1232.6 L1500.4 1232.6 L1502.4 1232.6 L1504.4 1232.6 L1506.4 1232.5 L1508.4 1232.5 L1510.4 1232.5 L1512.4 1232.4 L1514.4 1232.4 L1516.4 1232.3 L1518.3 1232.2 L1520.3 1232.1 L1522.3 1232 L1524.3 1231.8 L1526.3 1231.6 L1528.3 1231.4 L1530.3 1231.1 L1532.3 1230.8 L1534.3 1230.5 L1536.3 1230 L1538.2 1229.5 L1540.2 1228.9 L1542.2 1228.2 L1544.2 1227.4 L1546.2 1226.5 L1548.2 1225.5 L1550.2 1224.2 L1552.2 1222.9 L1554.2 1221.3 L1556.2 1219.5 L1558.2 1217.6 L1560.1 1215.4 L1562.1 1213 L1564.1 1210.4 L1566.1 1207.6 L1568.1 1204.6 L1570.1 1201.4 L1572.1 1198 L1574.1 1194.5 L1576.1 1190.9 L1578.1 1187.2 L1580.1 1183.5 L1582 1179.8 L1584 1176.2 L1586 1172.8 L1588 1169.7 L1590 1166.9 L1592 1164.6 L1594 1162.8 L1596 1161.6 L1598 1161.1 L1600 1161.3 L1601.9 1162.1 L1603.9 1163.6 L1605.9 1165.7 L1607.9 1168.3 L1609.9 1171.3 L1611.9 1174.7 L1613.9 1178.3 L1615.9 1182.1 L1617.9 1185.9 L1619.9 1189.8 L1621.9 1193.7 L1623.8 1197.4 L1625.8 1201.1 L1627.8 1204.6 L1629.8 1207.9 L1631.8 1211 L1633.8 1213.9 L1635.8 1216.6 L1637.8 1219.1 L1639.8 1221.4 L1641.8 1223.5 L1643.8 1225.3 L1645.7 1227 L1647.7 1228.5 L1649.7 1229.9 L1651.7 1231 L1653.7 1232.1 L1655.7 1233 L1657.7 1233.9 L1659.7 1234.6 L1661.7 1235.2 L1663.7 1235.8 L1665.6 1236.3 L1667.6 1236.8 L1669.6 1237.2 L1671.6 1237.6 L1673.6 1237.9 L1675.6 1238.2" stroke="#F0C400" stroke-width="1.1" fill="none" stroke-linejoin="round" /><path d="M1379 1231 L1675.6 1243" stroke="#E88A2A" stroke-width="1.4" fill="none" stroke-linejoin="round" /><path d="M1379 1232.2 L1675.6 1244.2" stroke="#3A9A98" stroke-width="1.2" fill="none" stroke-linejoin="round" /><path d="M1379 1222.7 L1381 1222.5 L1383 1220.5 L1385 1218.5 L1387 1217.9 L1389 1217.5 L1390.9 1219.9 L1392.9 1221.2 L1394.9 1217.4 L1396.9 1215.5 L1398.9 1216.6 L1400.9 1216 L1402.9 1213 L1404.9 1209.8 L1406.9 1209.9 L1408.9 1208.7 L1410.8 1203.7 L1412.8 1200.3 L1414.8 1196.2 L1416.8 1193.2 L1418.8 1191.5 L1420.8 1190.7 L1422.8 1188.5 L1424.8 1187.7 L1426.8 1185.3 L1428.8 1178.7 L1430.8 1171.5 L1432.7 1170.5 L1434.7 1169.9 L1436.7 1165.4 L1438.7 1159.1 L1440.7 1155.6 L1442.7 1151.9 L1444.7 1150 L1446.7 1149.1 L1448.7 1144.2 L1450.7 1142.1 L1452.7 1140.9 L1454.6 1136.7 L1456.6 1134.8 L1458.6 1134.4 L1460.6 1132.4 L1462.6 1130.5 L1464.6 1133.6 L1466.6 1135.6 L1468.6 1133.8 L1470.6 1137.1 L1472.6 1138.9 L1474.5 1141 L1476.5 1147.2 L1478.5 1147.3 L1480.5 1145.1 L1482.5 1148.7 L1484.5 1152.3 L1486.5 1153.7 L1488.5 1155.7 L1490.5 1156.8 L1492.5 1159.5 L1494.5 1160.7 L1496.4 1158.1 L1498.4 1157.8 L1500.4 1158.2 L1502.4 1158.1 L1504.4 1156.9 L1506.4 1158.4 L1508.4 1162.3 L1510.4 1167.2 L1512.4 1168.7 L1514.4 1166.6 L1516.4 1169.6 L1518.3 1173.8 L1520.3 1173.7 L1522.3 1177.8 L1524.3 1184.1 L1526.3 1189.4 L1528.3 1190.7 L1530.3 1189.8 L1532.3 1190.5 L1534.3 1193.8 L1536.3 1197.1 L1538.2 1195.4 L1540.2 1195 L1542.2 1196.6 L1544.2 1196.2 L1546.2 1194.7 L1548.2 1193.5 L1550.2 1194.3 L1552.2 1195.4 L1554.2 1197.4 L1556.2 1196.2 L1558.2 1193.8 L1560.1 1192.4 L1562.1 1190.7 L1564.1 1190.1 L1566.1 1187.7 L1568.1 1184.1 L1570.1 1179.7 L1572.1 1177.1 L1574.1 1171.1 L1576.1 1167.3 L1578.1 1167.4 L1580.1 1165.8 L1582 1166.7 L1584 1166.7 L1586 1159.3 L1588 1155.2 L1590 1155.5 L1592 1154.6 L1594 1152.2 L1596 1151.8 L1598 1153.6 L1600 1153.3 L1601.9 1151.9 L1603.9 1154.6 L1605.9 1157.3 L1607.9 1159.3 L1609.9 1163.5 L1611.9 1167.7 L1613.9 1174 L1615.9 1178 L1617.9 1180.5 L1619.9 1183.5 L1621.9 1186.2 L1623.8 1187.3 L1625.8 1192.7 L1627.8 1198.2 L1629.8 1200.4 L1631.8 1205.5 L1633.8 1208 L1635.8 1212.4 L1637.8 1215.4 L1639.8 1219.3 L1641.8 1220 L1643.8 1220.3 L1645.7 1226.9 L1647.7 1230.2 L1649.7 1228.2 L1651.7 1227.7 L1653.7 1228.1 L1655.7 1229.3 L1657.7 1232.5 L1659.7 1232.1 L1661.7 1231.6 L1663.7 1231.2 L1665.6 1230.8 L1667.6 1232.5 L1669.6 1236.6 L1671.6 1237.4 L1673.6 1238 L1675.6 1237.3" stroke="#3C3C3C" stroke-width="1.1" fill="none" stroke-linejoin="round" /><path d="M1379 1222.4 L1381 1222.1 L1383 1221.7 L1385 1221.2 L1387 1220.7 L1389 1220.1 L1390.9 1219.4 L1392.9 1218.7 L1394.9 1217.8 L1396.9 1216.9 L1398.9 1215.8 L1400.9 1214.6 L1402.9 1213.3 L1404.9 1211.8 L1406.9 1210.2 L1408.9 1208.4 L1410.8 1206.5 L1412.8 1204.4 L1414.8 1202.1 L1416.8 1199.7 L1418.8 1197.1 L1420.8 1194.3 L1422.8 1191.3 L1424.8 1188.1 L1426.8 1184.8 L1428.8 1181.4 L1430.8 1177.9 L1432.7 1174.2 L1434.7 1170.4 L1436.7 1166.6 L1438.7 1162.8 L1440.7 1159 L1442.7 1155.3 L1444.7 1151.7 L1446.7 1148.3 L1448.7 1145 L1450.7 1142.1 L1452.7 1139.5 L1454.6 1137.3 L1456.6 1135.5 L1458.6 1134.2 L1460.6 1133.4 L1462.6 1133.1 L1464.6 1133.3 L1466.6 1134 L1468.6 1135.1 L1470.6 1136.6 L1472.6 1138.4 L1474.5 1140.4 L1476.5 1142.6 L1478.5 1144.8 L1480.5 1147 L1482.5 1149.1 L1484.5 1151.1 L1486.5 1152.9 L1488.5 1154.4 L1490.5 1155.7 L1492.5 1156.7 L1494.5 1157.5 L1496.4 1158 L1498.4 1158.5 L1500.4 1158.9 L1502.4 1159.4 L1504.4 1160 L1506.4 1161 L1508.4 1162.4 L1510.4 1164.3 L1512.4 1166.6 L1514.4 1169.2 L1516.4 1172.1 L1518.3 1175 L1520.3 1178 L1522.3 1180.9 L1524.3 1183.6 L1526.3 1186 L1528.3 1188.2 L1530.3 1190.2 L1532.3 1191.8 L1534.3 1193.2 L1536.3 1194.3 L1538.2 1195.2 L1540.2 1195.8 L1542.2 1196.2 L1544.2 1196.4 L1546.2 1196.4 L1548.2 1196.2 L1550.2 1195.8 L1552.2 1195.3 L1554.2 1194.6 L1556.2 1193.7 L1558.2 1192.6 L1560.1 1191.3 L1562.1 1189.8 L1564.1 1188.1 L1566.1 1186.1 L1568.1 1184 L1570.1 1181.7 L1572.1 1179.2 L1574.1 1176.5 L1576.1 1173.8 L1578.1 1170.9 L1580.1 1168 L1582 1165.1 L1584 1162.3 L1586 1159.6 L1588 1157.2 L1590 1155.1 L1592 1153.5 L1594 1152.3 L1596 1151.7 L1598 1151.8 L1600 1152.5 L1601.9 1153.8 L1603.9 1155.8 L1605.9 1158.3 L1607.9 1161.3 L1609.9 1164.7 L1611.9 1168.5 L1613.9 1172.4 L1615.9 1176.5 L1617.9 1180.7 L1619.9 1184.8 L1621.9 1188.9 L1623.8 1192.9 L1625.8 1196.8 L1627.8 1200.5 L1629.8 1204 L1631.8 1207.3 L1633.8 1210.4 L1635.8 1213.2 L1637.8 1215.8 L1639.8 1218.2 L1641.8 1220.4 L1643.8 1222.4 L1645.7 1224.2 L1647.7 1225.8 L1649.7 1227.2 L1651.7 1228.5 L1653.7 1229.6 L1655.7 1230.6 L1657.7 1231.5 L1659.7 1232.3 L1661.7 1233 L1663.7 1233.7 L1665.6 1234.2 L1667.6 1234.7 L1669.6 1235.2 L1671.6 1235.6 L1673.6 1236 L1675.6 1236.4" stroke="#F0303A" stroke-width="1.3" fill="none" stroke-linejoin="round" /><line x1="1379" y1="1258.3" x2="1675.6" y2="1258.3" stroke="#000" stroke-width="1.3" /><line x1="1379" y1="1258.3" x2="1379" y2="1261.1" stroke="#000" stroke-width="1.2" /><line x1="1403.7" y1="1258.3" x2="1403.7" y2="1263.3" stroke="#000" stroke-width="1.2" /><text x="1403.7" y="1279.6" font-family="'Liberation Sans', Arial, sans-serif" font-size="16.3" font-weight="bold" fill="#000" text-anchor="middle" >538</text><line x1="1428.3" y1="1258.3" x2="1428.3" y2="1261.1" stroke="#000" stroke-width="1.2" /><line x1="1453" y1="1258.3" x2="1453" y2="1263.3" stroke="#000" stroke-width="1.2" /><text x="1453" y="1279.6" font-family="'Liberation Sans', Arial, sans-serif" font-size="16.3" font-weight="bold" fill="#000" text-anchor="middle" >536</text><line x1="1477.6" y1="1258.3" x2="1477.6" y2="1261.1" stroke="#000" stroke-width="1.2" /><line x1="1502.3" y1="1258.3" x2="1502.3" y2="1263.3" stroke="#000" stroke-width="1.2" /><text x="1502.3" y="1279.6" font-family="'Liberation Sans', Arial, sans-serif" font-size="16.3" font-weight="bold" fill="#000" text-anchor="middle" >534</text><line x1="1527" y1="1258.3" x2="1527" y2="1261.1" stroke="#000" stroke-width="1.2" /><line x1="1551.6" y1="1258.3" x2="1551.6" y2="1263.3" stroke="#000" stroke-width="1.2" /><text x="1551.6" y="1279.6" font-family="'Liberation Sans', Arial, sans-serif" font-size="16.3" font-weight="bold" fill="#000" text-anchor="middle" >532</text><line x1="1576.3" y1="1258.3" x2="1576.3" y2="1261.1" stroke="#000" stroke-width="1.2" /><line x1="1600.9" y1="1258.3" x2="1600.9" y2="1263.3" stroke="#000" stroke-width="1.2" /><text x="1600.9" y="1279.6" font-family="'Liberation Sans', Arial, sans-serif" font-size="16.3" font-weight="bold" fill="#000" text-anchor="middle" >530</text><line x1="1625.6" y1="1258.3" x2="1625.6" y2="1261.1" stroke="#000" stroke-width="1.2" /><line x1="1650.3" y1="1258.3" x2="1650.3" y2="1263.3" stroke="#000" stroke-width="1.2" /><text x="1650.3" y="1279.6" font-family="'Liberation Sans', Arial, sans-serif" font-size="16.3" font-weight="bold" fill="#000" text-anchor="middle" >528</text><line x1="1674.9" y1="1258.3" x2="1674.9" y2="1261.1" stroke="#000" stroke-width="1.2" /><text x="1527.3" y="1299.9" font-family="'Liberation Serif', 'Times New Roman', serif" font-size="21.6" font-weight="bold" fill="#000" text-anchor="middle" >Binding energy (eV)</text><text x="1524.4" y="1121.3" font-family="'Liberation Serif', 'Times New Roman', serif" font-size="23.5" font-weight="bold" fill="#E8731F" xml:space="preserve">O 1<tspan font-style="italic">s</tspan>   300s</text><text x="1376.9" y="1135.4" font-family="'Liberation Serif', 'Times New Roman', serif" font-size="16.5" font-weight="bold" fill="#C8A000" text-anchor="start" >Poly(CO<tspan font-size="11" dy="4">2</tspan><tspan dy="-4">)</tspan></text><text x="1511.3" y="1147.6" font-family="'Liberation Serif', 'Times New Roman', serif" font-size="16.5" font-weight="bold" fill="#F07A22" text-anchor="start" >C-O</text><text x="1533.3" y="1167.6" font-family="'Liberation Serif', 'Times New Roman', serif" font-size="16.5" font-weight="bold" fill="#1C8C88" text-anchor="start" >C=O</text><text x="1622.4" y="1170.8" font-family="'Liberation Serif', 'Times New Roman', serif" font-size="16.5" font-weight="bold" fill="#F2C400" text-anchor="start" >RCO<tspan font-size="11" dy="4">2</tspan><tspan dy="-4">Na</tspan></text><path d="M1689.5 1220.4 L1691.5 1220.1 L1693.5 1219.7 L1695.5 1219.3 L1697.5 1218.8 L1699.5 1218.2 L1701.5 1217.6 L1703.5 1216.9 L1705.5 1216.1 L1707.4 1215.3 L1709.4 1214.3 L1711.4 1213.3 L1713.4 1212.1 L1715.4 1210.9 L1717.4 1209.6 L1719.4 1208.1 L1721.4 1206.6 L1723.4 1205 L1725.4 1203.3 L1727.4 1201.5 L1729.4 1199.6 L1731.4 1197.6 L1733.4 1195.6 L1735.4 1193.5 L1737.4 1191.4 L1739.3 1189.3 L1741.3 1187.2 L1743.3 1185.1 L1745.3 1183.1 L1747.3 1181.1 L1749.3 1179.3 L1751.3 1177.6 L1753.3 1176.1 L1755.3 1174.7 L1757.3 1173.7 L1759.3 1172.9 L1761.3 1172.4 L1763.3 1172.2 L1765.3 1172.3 L1767.3 1172.7 L1769.3 1173.5 L1771.3 1174.5 L1773.2 1175.8 L1775.2 1177.4 L1777.2 1179.1 L1779.2 1181 L1781.2 1183.1 L1783.2 1185.3 L1785.2 1187.5 L1787.2 1189.8 L1789.2 1192.2 L1791.2 1194.5 L1793.2 1196.8 L1795.2 1199.1 L1797.2 1201.4 L1799.2 1203.5 L1801.2 1205.7 L1803.2 1207.7 L1805.1 1209.6 L1807.1 1211.5 L1809.1 1213.2 L1811.1 1214.9 L1813.1 1216.4 L1815.1 1217.9 L1817.1 1219.2 L1819.1 1220.5 L1821.1 1221.6 L1823.1 1222.7 L1825.1 1223.7 L1827.1 1224.6 L1829.1 1225.5 L1831.1 1226.2 L1833.1 1226.9 L1835.1 1227.6 L1837.1 1228.2 L1839 1228.7 L1841 1229.2 L1843 1229.7 L1845 1230.1 L1847 1230.5 L1849 1230.9 L1851 1231.2 L1853 1231.5 L1855 1231.8 L1857 1232.1 L1859 1232.4 L1861 1232.6 L1863 1232.9 L1865 1233.1 L1867 1233.3 L1869 1233.5 L1871 1233.7 L1872.9 1233.9 L1874.9 1234.1 L1876.9 1234.3 L1878.9 1234.5 L1880.9 1234.7 L1882.9 1234.8 L1884.9 1235 L1886.9 1235.2 L1888.9 1235.3 L1890.9 1235.5 L1892.9 1235.7 L1894.9 1235.8 L1896.9 1236 L1898.9 1236.1 L1900.9 1236.3 L1902.9 1236.4 L1904.8 1236.6 L1906.8 1236.7 L1908.8 1236.9 L1910.8 1237 L1912.8 1237.2 L1914.8 1237.3 L1916.8 1237.4 L1918.8 1237.6 L1920.8 1237.7 L1922.8 1237.9 L1924.8 1238 L1926.8 1238.1 L1928.8 1238.3 L1930.8 1238.4 L1932.8 1238.5 L1934.8 1238.7 L1936.8 1238.8 L1938.7 1238.9 L1940.7 1239.1 L1942.7 1239.2 L1944.7 1239.3 L1946.7 1239.4 L1948.7 1239.6 L1950.7 1239.7 L1952.7 1239.8 L1954.7 1240 L1956.7 1240.1 L1958.7 1240.2 L1960.7 1240.3 L1962.7 1240.5 L1964.7 1240.6 L1966.7 1240.7 L1968.7 1240.8 L1970.6 1241 L1972.6 1241.1 L1974.6 1241.2 L1976.6 1241.3 L1978.6 1241.4 L1980.6 1241.6 L1982.6 1241.7 L1984.6 1241.8 L1986.6 1241.9 L1986.6 1243.7 L1689.5 1227.2Z" fill="#E6CC80" fill-opacity="0.68" stroke="none"/><path d="M1689.5 1224.1 L1691.5 1224.2 L1693.5 1224.2 L1695.5 1224.3 L1697.5 1224.3 L1699.5 1224.3 L1701.5 1224.4 L1703.5 1224.4 L1705.5 1224.4 L1707.4 1224.4 L1709.4 1224.4 L1711.4 1224.3 L1713.4 1224.3 L1715.4 1224.3 L1717.4 1224.2 L1719.4 1224.1 L1721.4 1224 L1723.4 1223.9 L1725.4 1223.7 L1727.4 1223.6 L1729.4 1223.4 L1731.4 1223.2 L1733.4 1222.9 L1735.4 1222.6 L1737.4 1222.3 L1739.3 1221.9 L1741.3 1221.5 L1743.3 1221 L1745.3 1220.5 L1747.3 1219.9 L1749.3 1219.3 L1751.3 1218.6 L1753.3 1217.9 L1755.3 1217.1 L1757.3 1216.2 L1759.3 1215.3 L1761.3 1214.3 L1763.3 1213.3 L1765.3 1212.2 L1767.3 1211 L1769.3 1209.8 L1771.3 1208.6 L1773.2 1207.2 L1775.2 1205.9 L1777.2 1204.5 L1779.2 1203.1 L1781.2 1201.6 L1783.2 1200.1 L1785.2 1198.7 L1787.2 1197.2 L1789.2 1195.8 L1791.2 1194.4 L1793.2 1193 L1795.2 1191.7 L1797.2 1190.5 L1799.2 1189.4 L1801.2 1188.4 L1803.2 1187.6 L1805.1 1186.9 L1807.1 1186.4 L1809.1 1186 L1811.1 1185.9 L1813.1 1185.9 L1815.1 1186.2 L1817.1 1186.6 L1819.1 1187.2 L1821.1 1188 L1823.1 1189 L1825.1 1190.1 L1827.1 1191.3 L1829.1 1192.7 L1831.1 1194.2 L1833.1 1195.7 L1835.1 1197.3 L1837.1 1198.9 L1839 1200.6 L1841 1202.3 L1843 1204 L1845 1205.7 L1847 1207.3 L1849 1209 L1851 1210.6 L1853 1212.1 L1855 1213.7 L1857 1215.1 L1859 1216.6 L1861 1217.9 L1863 1219.2 L1865 1220.5 L1867 1221.6 L1869 1222.8 L1871 1223.8 L1872.9 1224.8 L1874.9 1225.8 L1876.9 1226.6 L1878.9 1227.5 L1880.9 1228.2 L1882.9 1228.9 L1884.9 1229.6 L1886.9 1230.2 L1888.9 1230.8 L1890.9 1231.4 L1892.9 1231.9 L1894.9 1232.3 L1896.9 1232.8 L1898.9 1233.2 L1900.9 1233.6 L1902.9 1233.9 L1904.8 1234.3 L1906.8 1234.6 L1908.8 1234.9 L1910.8 1235.2 L1912.8 1235.4 L1914.8 1235.7 L1916.8 1235.9 L1918.8 1236.2 L1920.8 1236.4 L1922.8 1236.6 L1924.8 1236.8 L1926.8 1237 L1928.8 1237.2 L1930.8 1237.4 L1932.8 1237.5 L1934.8 1237.7 L1936.8 1237.9 L1938.7 1238.1 L1940.7 1238.2 L1942.7 1238.4 L1944.7 1238.5 L1946.7 1238.7 L1948.7 1238.9 L1950.7 1239 L1952.7 1239.2 L1954.7 1239.3 L1956.7 1239.5 L1958.7 1239.6 L1960.7 1239.7 L1962.7 1239.9 L1964.7 1240 L1966.7 1240.2 L1968.7 1240.3 L1970.6 1240.5 L1972.6 1240.6 L1974.6 1240.7 L1976.6 1240.9 L1978.6 1241 L1980.6 1241.1 L1982.6 1241.3 L1984.6 1241.4 L1986.6 1241.5 L1986.6 1243.7 L1689.5 1227.2Z" fill="#F9B48A" fill-opacity="0.68" stroke="none"/><path d="M1689.5 1225.8 L1691.5 1225.9 L1693.5 1226.1 L1695.5 1226.2 L1697.5 1226.3 L1699.5 1226.4 L1701.5 1226.5 L1703.5 1226.6 L1705.5 1226.7 L1707.4 1226.8 L1709.4 1226.9 L1711.4 1227 L1713.4 1227.1 L1715.4 1227.2 L1717.4 1227.3 L1719.4 1227.4 L1721.4 1227.6 L1723.4 1227.7 L1725.4 1227.8 L1727.4 1227.9 L1729.4 1228 L1731.4 1228.1 L1733.4 1228.2 L1735.4 1228.3 L1737.4 1228.4 L1739.3 1228.5 L1741.3 1228.6 L1743.3 1228.7 L1745.3 1228.8 L1747.3 1228.9 L1749.3 1229 L1751.3 1229.1 L1753.3 1229.2 L1755.3 1229.3 L1757.3 1229.4 L1759.3 1229.5 L1761.3 1229.6 L1763.3 1229.7 L1765.3 1229.8 L1767.3 1229.9 L1769.3 1230 L1771.3 1230.1 L1773.2 1230.2 L1775.2 1230.3 L1777.2 1230.4 L1779.2 1230.5 L1781.2 1230.6 L1783.2 1230.7 L1785.2 1230.8 L1787.2 1230.9 L1789.2 1231 L1791.2 1231.1 L1793.2 1231.2 L1795.2 1231.2 L1797.2 1231.3 L1799.2 1231.4 L1801.2 1231.5 L1803.2 1231.6 L1805.1 1231.7 L1807.1 1231.7 L1809.1 1231.8 L1811.1 1231.9 L1813.1 1232 L1815.1 1232 L1817.1 1232.1 L1819.1 1232.2 L1821.1 1232.2 L1823.1 1232.3 L1825.1 1232.3 L1827.1 1232.4 L1829.1 1232.4 L1831.1 1232.5 L1833.1 1232.5 L1835.1 1232.5 L1837.1 1232.6 L1839 1232.6 L1841 1232.6 L1843 1232.5 L1845 1232.5 L1847 1232.5 L1849 1232.4 L1851 1232.3 L1853 1232.2 L1855 1232 L1857 1231.7 L1859 1231.4 L1861 1231 L1863 1230.4 L1865 1229.6 L1867 1228.7 L1869 1227.5 L1871 1226.1 L1872.9 1224.3 L1874.9 1222.2 L1876.9 1219.6 L1878.9 1216.7 L1880.9 1213.4 L1882.9 1209.8 L1884.9 1205.8 L1886.9 1201.6 L1888.9 1197.3 L1890.9 1193 L1892.9 1189 L1894.9 1185.5 L1896.9 1182.7 L1898.9 1180.8 L1900.9 1180.2 L1902.9 1180.8 L1904.8 1182.6 L1906.8 1185.4 L1908.8 1189 L1910.8 1193.2 L1912.8 1197.7 L1914.8 1202.2 L1916.8 1206.6 L1918.8 1210.9 L1920.8 1214.8 L1922.8 1218.4 L1924.8 1221.7 L1926.8 1224.5 L1928.8 1226.9 L1930.8 1229 L1932.8 1230.7 L1934.8 1232.2 L1936.8 1233.4 L1938.7 1234.4 L1940.7 1235.2 L1942.7 1235.9 L1944.7 1236.5 L1946.7 1237 L1948.7 1237.4 L1950.7 1237.8 L1952.7 1238.1 L1954.7 1238.4 L1956.7 1238.7 L1958.7 1238.9 L1960.7 1239.2 L1962.7 1239.4 L1964.7 1239.6 L1966.7 1239.8 L1968.7 1240 L1970.6 1240.2 L1972.6 1240.4 L1974.6 1240.6 L1976.6 1240.7 L1978.6 1240.9 L1980.6 1241.1 L1982.6 1241.2 L1984.6 1241.4 L1986.6 1241.6 L1986.6 1243.7 L1689.5 1227.2Z" fill="#7CC0B8" fill-opacity="0.68" stroke="none"/><path d="M1689.5 1226 L1735.4 1228.4 L1737.4 1228.5 L1739.3 1228.6 L1741.3 1228.7 L1743.3 1228.8 L1745.3 1228.9 L1747.3 1229 L1749.3 1229.1 L1751.3 1229.3 L1753.3 1229.4 L1755.3 1229.5 L1757.3 1229.6 L1759.3 1229.7 L1761.3 1229.8 L1763.3 1229.9 L1765.3 1230 L1767.3 1230.1 L1769.3 1230.2 L1771.3 1230.3 L1773.2 1230.4 L1775.2 1230.5 L1777.2 1230.6 L1779.2 1230.7 L1781.2 1230.8 L1783.2 1230.9 L1785.2 1231 L1787.2 1231.1 L1789.2 1231.3 L1791.2 1231.4 L1793.2 1231.5 L1795.2 1231.6 L1797.2 1231.7 L1799.2 1231.8 L1801.2 1231.9 L1803.2 1232 L1805.1 1232.1 L1807.1 1232.2 L1809.1 1232.3 L1811.1 1232.4 L1813.1 1232.5 L1815.1 1232.5 L1817.1 1232.6 L1819.1 1232.7 L1821.1 1232.8 L1823.1 1232.9 L1825.1 1233 L1827.1 1233.1 L1829.1 1233.2 L1831.1 1233.3 L1833.1 1233.4 L1835.1 1233.5 L1837.1 1233.5 L1839 1233.6 L1841 1233.7 L1843 1233.8 L1845 1233.9 L1847 1233.9 L1849 1234 L1851 1234.1 L1853 1234.1 L1855 1234.2 L1857 1234.3 L1859 1234.3 L1861 1234.4 L1863 1234.4 L1865 1234.4 L1867 1234.5 L1869 1234.5 L1871 1234.5 L1872.9 1234.5 L1874.9 1234.5 L1876.9 1234.4 L1878.9 1234.3 L1880.9 1234.2 L1882.9 1234.1 L1884.9 1233.9 L1886.9 1233.6 L1888.9 1233.2 L1890.9 1232.7 L1892.9 1232.1 L1894.9 1231.3 L1896.9 1230.2 L1898.9 1229 L1900.9 1227.5 L1902.9 1225.7 L1904.8 1223.6 L1906.8 1221.1 L1908.8 1218.4 L1910.8 1215.5 L1912.8 1212.3 L1914.8 1209 L1916.8 1205.7 L1918.8 1202.6 L1920.8 1199.7 L1922.8 1197.3 L1924.8 1195.7 L1926.8 1194.9 L1928.8 1195 L1930.8 1196.1 L1932.8 1198 L1934.8 1200.7 L1936.8 1203.8 L1938.7 1207.2 L1940.7 1210.7 L1942.7 1214.2 L1944.7 1217.6 L1946.7 1220.7 L1948.7 1223.6 L1950.7 1226.2 L1952.7 1228.6 L1954.7 1230.6 L1956.7 1232.3 L1958.7 1233.8 L1960.7 1235 L1962.7 1236 L1964.7 1236.9 L1966.7 1237.6 L1968.7 1238.2 L1970.6 1238.7 L1972.6 1239.1 L1974.6 1239.5 L1976.6 1239.8 L1978.6 1240.1 L1980.6 1240.3 L1982.6 1240.6 L1984.6 1240.8 L1986.6 1241 L1986.6 1243.7 L1689.5 1227.2Z" fill="#FFE67A" fill-opacity="0.68" stroke="none"/><path d="M1689.5 1220.4 L1691.5 1220.1 L1693.5 1219.7 L1695.5 1219.3 L1697.5 1218.8 L1699.5 1218.2 L1701.5 1217.6 L1703.5 1216.9 L1705.5 1216.1 L1707.4 1215.3 L1709.4 1214.3 L1711.4 1213.3 L1713.4 1212.1 L1715.4 1210.9 L1717.4 1209.6 L1719.4 1208.1 L1721.4 1206.6 L1723.4 1205 L1725.4 1203.3 L1727.4 1201.5 L1729.4 1199.6 L1731.4 1197.6 L1733.4 1195.6 L1735.4 1193.5 L1737.4 1191.4 L1739.3 1189.3 L1741.3 1187.2 L1743.3 1185.1 L1745.3 1183.1 L1747.3 1181.1 L1749.3 1179.3 L1751.3 1177.6 L1753.3 1176.1 L1755.3 1174.7 L1757.3 1173.7 L1759.3 1172.9 L1761.3 1172.4 L1763.3 1172.2 L1765.3 1172.3 L1767.3 1172.7 L1769.3 1173.5 L1771.3 1174.5 L1773.2 1175.8 L1775.2 1177.4 L1777.2 1179.1 L1779.2 1181 L1781.2 1183.1 L1783.2 1185.3 L1785.2 1187.5 L1787.2 1189.8 L1789.2 1192.2 L1791.2 1194.5 L1793.2 1196.8 L1795.2 1199.1 L1797.2 1201.4 L1799.2 1203.5 L1801.2 1205.7 L1803.2 1207.7 L1805.1 1209.6 L1807.1 1211.5 L1809.1 1213.2 L1811.1 1214.9 L1813.1 1216.4 L1815.1 1217.9 L1817.1 1219.2 L1819.1 1220.5 L1821.1 1221.6 L1823.1 1222.7 L1825.1 1223.7 L1827.1 1224.6 L1829.1 1225.5 L1831.1 1226.2 L1833.1 1226.9 L1835.1 1227.6 L1837.1 1228.2 L1839 1228.7 L1841 1229.2 L1843 1229.7 L1845 1230.1 L1847 1230.5 L1849 1230.9 L1851 1231.2 L1853 1231.5 L1855 1231.8 L1857 1232.1 L1859 1232.4 L1861 1232.6 L1863 1232.9 L1865 1233.1 L1867 1233.3 L1869 1233.5 L1871 1233.7 L1872.9 1233.9 L1874.9 1234.1 L1876.9 1234.3 L1878.9 1234.5 L1880.9 1234.7 L1882.9 1234.8 L1884.9 1235 L1886.9 1235.2 L1888.9 1235.3 L1890.9 1235.5 L1892.9 1235.7 L1894.9 1235.8 L1896.9 1236 L1898.9 1236.1 L1900.9 1236.3 L1902.9 1236.4 L1904.8 1236.6 L1906.8 1236.7 L1908.8 1236.9 L1910.8 1237 L1912.8 1237.2 L1914.8 1237.3 L1916.8 1237.4 L1918.8 1237.6 L1920.8 1237.7 L1922.8 1237.9 L1924.8 1238 L1926.8 1238.1 L1928.8 1238.3 L1930.8 1238.4 L1932.8 1238.5 L1934.8 1238.7 L1936.8 1238.8 L1938.7 1238.9 L1940.7 1239.1 L1942.7 1239.2 L1944.7 1239.3 L1946.7 1239.4 L1948.7 1239.6 L1950.7 1239.7 L1952.7 1239.8 L1954.7 1240 L1956.7 1240.1 L1958.7 1240.2 L1960.7 1240.3 L1962.7 1240.5 L1964.7 1240.6 L1966.7 1240.7 L1968.7 1240.8 L1970.6 1241 L1972.6 1241.1 L1974.6 1241.2 L1976.6 1241.3 L1978.6 1241.4 L1980.6 1241.6 L1982.6 1241.7 L1984.6 1241.8 L1986.6 1241.9" stroke="#C49A10" stroke-width="1.1" fill="none" stroke-linejoin="round" /><path d="M1689.5 1224.1 L1691.5 1224.2 L1693.5 1224.2 L1695.5 1224.3 L1697.5 1224.3 L1699.5 1224.3 L1701.5 1224.4 L1703.5 1224.4 L1705.5 1224.4 L1707.4 1224.4 L1709.4 1224.4 L1711.4 1224.3 L1713.4 1224.3 L1715.4 1224.3 L1717.4 1224.2 L1719.4 1224.1 L1721.4 1224 L1723.4 1223.9 L1725.4 1223.7 L1727.4 1223.6 L1729.4 1223.4 L1731.4 1223.2 L1733.4 1222.9 L1735.4 1222.6 L1737.4 1222.3 L1739.3 1221.9 L1741.3 1221.5 L1743.3 1221 L1745.3 1220.5 L1747.3 1219.9 L1749.3 1219.3 L1751.3 1218.6 L1753.3 1217.9 L1755.3 1217.1 L1757.3 1216.2 L1759.3 1215.3 L1761.3 1214.3 L1763.3 1213.3 L1765.3 1212.2 L1767.3 1211 L1769.3 1209.8 L1771.3 1208.6 L1773.2 1207.2 L1775.2 1205.9 L1777.2 1204.5 L1779.2 1203.1 L1781.2 1201.6 L1783.2 1200.1 L1785.2 1198.7 L1787.2 1197.2 L1789.2 1195.8 L1791.2 1194.4 L1793.2 1193 L1795.2 1191.7 L1797.2 1190.5 L1799.2 1189.4 L1801.2 1188.4 L1803.2 1187.6 L1805.1 1186.9 L1807.1 1186.4 L1809.1 1186 L1811.1 1185.9 L1813.1 1185.9 L1815.1 1186.2 L1817.1 1186.6 L1819.1 1187.2 L1821.1 1188 L1823.1 1189 L1825.1 1190.1 L1827.1 1191.3 L1829.1 1192.7 L1831.1 1194.2 L1833.1 1195.7 L1835.1 1197.3 L1837.1 1198.9 L1839 1200.6 L1841 1202.3 L1843 1204 L1845 1205.7 L1847 1207.3 L1849 1209 L1851 1210.6 L1853 1212.1 L1855 1213.7 L1857 1215.1 L1859 1216.6 L1861 1217.9 L1863 1219.2 L1865 1220.5 L1867 1221.6 L1869 1222.8 L1871 1223.8 L1872.9 1224.8 L1874.9 1225.8 L1876.9 1226.6 L1878.9 1227.5 L1880.9 1228.2 L1882.9 1228.9 L1884.9 1229.6 L1886.9 1230.2 L1888.9 1230.8 L1890.9 1231.4 L1892.9 1231.9 L1894.9 1232.3 L1896.9 1232.8 L1898.9 1233.2 L1900.9 1233.6 L1902.9 1233.9 L1904.8 1234.3 L1906.8 1234.6 L1908.8 1234.9 L1910.8 1235.2 L1912.8 1235.4 L1914.8 1235.7 L1916.8 1235.9 L1918.8 1236.2 L1920.8 1236.4 L1922.8 1236.6 L1924.8 1236.8 L1926.8 1237 L1928.8 1237.2 L1930.8 1237.4 L1932.8 1237.5 L1934.8 1237.7 L1936.8 1237.9 L1938.7 1238.1 L1940.7 1238.2 L1942.7 1238.4 L1944.7 1238.5 L1946.7 1238.7 L1948.7 1238.9 L1950.7 1239 L1952.7 1239.2 L1954.7 1239.3 L1956.7 1239.5 L1958.7 1239.6 L1960.7 1239.7 L1962.7 1239.9 L1964.7 1240 L1966.7 1240.2 L1968.7 1240.3 L1970.6 1240.5 L1972.6 1240.6 L1974.6 1240.7 L1976.6 1240.9 L1978.6 1241 L1980.6 1241.1 L1982.6 1241.3 L1984.6 1241.4 L1986.6 1241.5" stroke="#F07A22" stroke-width="1.1" fill="none" stroke-linejoin="round" /><path d="M1689.5 1225.8 L1691.5 1225.9 L1693.5 1226.1 L1695.5 1226.2 L1697.5 1226.3 L1699.5 1226.4 L1701.5 1226.5 L1703.5 1226.6 L1705.5 1226.7 L1707.4 1226.8 L1709.4 1226.9 L1711.4 1227 L1713.4 1227.1 L1715.4 1227.2 L1717.4 1227.3 L1719.4 1227.4 L1721.4 1227.6 L1723.4 1227.7 L1725.4 1227.8 L1727.4 1227.9 L1729.4 1228 L1731.4 1228.1 L1733.4 1228.2 L1735.4 1228.3 L1737.4 1228.4 L1739.3 1228.5 L1741.3 1228.6 L1743.3 1228.7 L1745.3 1228.8 L1747.3 1228.9 L1749.3 1229 L1751.3 1229.1 L1753.3 1229.2 L1755.3 1229.3 L1757.3 1229.4 L1759.3 1229.5 L1761.3 1229.6 L1763.3 1229.7 L1765.3 1229.8 L1767.3 1229.9 L1769.3 1230 L1771.3 1230.1 L1773.2 1230.2 L1775.2 1230.3 L1777.2 1230.4 L1779.2 1230.5 L1781.2 1230.6 L1783.2 1230.7 L1785.2 1230.8 L1787.2 1230.9 L1789.2 1231 L1791.2 1231.1 L1793.2 1231.2 L1795.2 1231.2 L1797.2 1231.3 L1799.2 1231.4 L1801.2 1231.5 L1803.2 1231.6 L1805.1 1231.7 L1807.1 1231.7 L1809.1 1231.8 L1811.1 1231.9 L1813.1 1232 L1815.1 1232 L1817.1 1232.1 L1819.1 1232.2 L1821.1 1232.2 L1823.1 1232.3 L1825.1 1232.3 L1827.1 1232.4 L1829.1 1232.4 L1831.1 1232.5 L1833.1 1232.5 L1835.1 1232.5 L1837.1 1232.6 L1839 1232.6 L1841 1232.6 L1843 1232.5 L1845 1232.5 L1847 1232.5 L1849 1232.4 L1851 1232.3 L1853 1232.2 L1855 1232 L1857 1231.7 L1859 1231.4 L1861 1231 L1863 1230.4 L1865 1229.6 L1867 1228.7 L1869 1227.5 L1871 1226.1 L1872.9 1224.3 L1874.9 1222.2 L1876.9 1219.6 L1878.9 1216.7 L1880.9 1213.4 L1882.9 1209.8 L1884.9 1205.8 L1886.9 1201.6 L1888.9 1197.3 L1890.9 1193 L1892.9 1189 L1894.9 1185.5 L1896.9 1182.7 L1898.9 1180.8 L1900.9 1180.2 L1902.9 1180.8 L1904.8 1182.6 L1906.8 1185.4 L1908.8 1189 L1910.8 1193.2 L1912.8 1197.7 L1914.8 1202.2 L1916.8 1206.6 L1918.8 1210.9 L1920.8 1214.8 L1922.8 1218.4 L1924.8 1221.7 L1926.8 1224.5 L1928.8 1226.9 L1930.8 1229 L1932.8 1230.7 L1934.8 1232.2 L1936.8 1233.4 L1938.7 1234.4 L1940.7 1235.2 L1942.7 1235.9 L1944.7 1236.5 L1946.7 1237 L1948.7 1237.4 L1950.7 1237.8 L1952.7 1238.1 L1954.7 1238.4 L1956.7 1238.7 L1958.7 1238.9 L1960.7 1239.2 L1962.7 1239.4 L1964.7 1239.6 L1966.7 1239.8 L1968.7 1240 L1970.6 1240.2 L1972.6 1240.4 L1974.6 1240.6 L1976.6 1240.7 L1978.6 1240.9 L1980.6 1241.1 L1982.6 1241.2 L1984.6 1241.4 L1986.6 1241.6" stroke="#2E9690" stroke-width="1.1" fill="none" stroke-linejoin="round" /><path d="M1689.5 1226 L1735.4 1228.4 L1737.4 1228.5 L1739.3 1228.6 L1741.3 1228.7 L1743.3 1228.8 L1745.3 1228.9 L1747.3 1229 L1749.3 1229.1 L1751.3 1229.3 L1753.3 1229.4 L1755.3 1229.5 L1757.3 1229.6 L1759.3 1229.7 L1761.3 1229.8 L1763.3 1229.9 L1765.3 1230 L1767.3 1230.1 L1769.3 1230.2 L1771.3 1230.3 L1773.2 1230.4 L1775.2 1230.5 L1777.2 1230.6 L1779.2 1230.7 L1781.2 1230.8 L1783.2 1230.9 L1785.2 1231 L1787.2 1231.1 L1789.2 1231.3 L1791.2 1231.4 L1793.2 1231.5 L1795.2 1231.6 L1797.2 1231.7 L1799.2 1231.8 L1801.2 1231.9 L1803.2 1232 L1805.1 1232.1 L1807.1 1232.2 L1809.1 1232.3 L1811.1 1232.4 L1813.1 1232.5 L1815.1 1232.5 L1817.1 1232.6 L1819.1 1232.7 L1821.1 1232.8 L1823.1 1232.9 L1825.1 1233 L1827.1 1233.1 L1829.1 1233.2 L1831.1 1233.3 L1833.1 1233.4 L1835.1 1233.5 L1837.1 1233.5 L1839 1233.6 L1841 1233.7 L1843 1233.8 L1845 1233.9 L1847 1233.9 L1849 1234 L1851 1234.1 L1853 1234.1 L1855 1234.2 L1857 1234.3 L1859 1234.3 L1861 1234.4 L1863 1234.4 L1865 1234.4 L1867 1234.5 L1869 1234.5 L1871 1234.5 L1872.9 1234.5 L1874.9 1234.5 L1876.9 1234.4 L1878.9 1234.3 L1880.9 1234.2 L1882.9 1234.1 L1884.9 1233.9 L1886.9 1233.6 L1888.9 1233.2 L1890.9 1232.7 L1892.9 1232.1 L1894.9 1231.3 L1896.9 1230.2 L1898.9 1229 L1900.9 1227.5 L1902.9 1225.7 L1904.8 1223.6 L1906.8 1221.1 L1908.8 1218.4 L1910.8 1215.5 L1912.8 1212.3 L1914.8 1209 L1916.8 1205.7 L1918.8 1202.6 L1920.8 1199.7 L1922.8 1197.3 L1924.8 1195.7 L1926.8 1194.9 L1928.8 1195 L1930.8 1196.1 L1932.8 1198 L1934.8 1200.7 L1936.8 1203.8 L1938.7 1207.2 L1940.7 1210.7 L1942.7 1214.2 L1944.7 1217.6 L1946.7 1220.7 L1948.7 1223.6 L1950.7 1226.2 L1952.7 1228.6 L1954.7 1230.6 L1956.7 1232.3 L1958.7 1233.8 L1960.7 1235 L1962.7 1236 L1964.7 1236.9 L1966.7 1237.6 L1968.7 1238.2 L1970.6 1238.7 L1972.6 1239.1 L1974.6 1239.5 L1976.6 1239.8 L1978.6 1240.1 L1980.6 1240.3 L1982.6 1240.6 L1984.6 1240.8 L1986.6 1241" stroke="#F0C400" stroke-width="1.1" fill="none" stroke-linejoin="round" /><path d="M1689.5 1227 L1986.6 1243.5" stroke="#E88A2A" stroke-width="1.4" fill="none" stroke-linejoin="round" /><path d="M1689.5 1228.2 L1986.6 1244.7" stroke="#3A9A98" stroke-width="1.2" fill="none" stroke-linejoin="round" /><path d="M1689.5 1213.4 L1691.5 1212.3 L1693.5 1213.1 L1695.5 1212.9 L1697.5 1211 L1699.5 1212.4 L1701.5 1213.6 L1703.5 1216.1 L1705.5 1217.4 L1707.4 1216.8 L1709.4 1214.1 L1711.4 1211.4 L1713.4 1211.9 L1715.4 1210.7 L1717.4 1206.4 L1719.4 1204.9 L1721.4 1204.3 L1723.4 1202.9 L1725.4 1197.9 L1727.4 1195.5 L1729.4 1195.1 L1731.4 1191.4 L1733.4 1186.8 L1735.4 1186.3 L1737.4 1184.5 L1739.3 1181.2 L1741.3 1179 L1743.3 1175.3 L1745.3 1171.8 L1747.3 1172.2 L1749.3 1166.3 L1751.3 1160.7 L1753.3 1163 L1755.3 1164.2 L1757.3 1161.2 L1759.3 1162 L1761.3 1160.1 L1763.3 1152.2 L1765.3 1146.6 L1767.3 1149.1 L1769.3 1152.9 L1771.3 1149.9 L1773.2 1146.6 L1775.2 1147.6 L1777.2 1150.8 L1779.2 1153.1 L1781.2 1155.6 L1783.2 1155.5 L1785.2 1152.9 L1787.2 1152.6 L1789.2 1153.1 L1791.2 1154.4 L1793.2 1153.7 L1795.2 1156.4 L1797.2 1162.3 L1799.2 1162.4 L1801.2 1164.5 L1803.2 1168.5 L1805.1 1166.8 L1807.1 1164.6 L1809.1 1164.7 L1811.1 1166.2 L1813.1 1169.5 L1815.1 1171.6 L1817.1 1174.4 L1819.1 1173.5 L1821.1 1173.4 L1823.1 1176 L1825.1 1179.7 L1827.1 1182.7 L1829.1 1185.1 L1831.1 1184.9 L1833.1 1188.5 L1835.1 1192.7 L1837.1 1192.4 L1839 1194.9 L1841 1198.8 L1843 1198.4 L1845 1195.6 L1847 1197.3 L1849 1205.2 L1851 1207.5 L1853 1207.4 L1855 1207.9 L1857 1211.2 L1859 1211.2 L1861 1209 L1863 1208.4 L1865 1209.9 L1867 1209.7 L1869 1208 L1871 1205.8 L1872.9 1206.6 L1874.9 1206.3 L1876.9 1203.3 L1878.9 1203.1 L1880.9 1201.9 L1882.9 1196.8 L1884.9 1191.6 L1886.9 1188.7 L1888.9 1185.5 L1890.9 1178.4 L1892.9 1174.4 L1894.9 1171.7 L1896.9 1169 L1898.9 1165.3 L1900.9 1163.8 L1902.9 1166.7 L1904.8 1164.1 L1906.8 1160.2 L1908.8 1161.7 L1910.8 1165.9 L1912.8 1167.5 L1914.8 1167 L1916.8 1168.9 L1918.8 1168 L1920.8 1170 L1922.8 1176 L1924.8 1179.2 L1926.8 1178 L1928.8 1179.9 L1930.8 1184.1 L1932.8 1185.5 L1934.8 1190.2 L1936.8 1196.3 L1938.7 1201.6 L1940.7 1204.6 L1942.7 1207.8 L1944.7 1211.4 L1946.7 1213.9 L1948.7 1218.4 L1950.7 1219.7 L1952.7 1221 L1954.7 1224.5 L1956.7 1228.4 L1958.7 1231 L1960.7 1231.9 L1962.7 1234.5 L1964.7 1235.9 L1966.7 1233.9 L1968.7 1233.5 L1970.6 1236.7 L1972.6 1235.5 L1974.6 1231.4 L1976.6 1233 L1978.6 1235.4 L1980.6 1234.2 L1982.6 1233.7 L1984.6 1234.4 L1986.6 1237.8" stroke="#3C3C3C" stroke-width="1.1" fill="none" stroke-linejoin="round" /><path d="M1689.5 1218.3 L1691.5 1217.9 L1693.5 1217.4 L1695.5 1216.9 L1697.5 1216.4 L1699.5 1215.7 L1701.5 1215 L1703.5 1214.2 L1705.5 1213.3 L1707.4 1212.3 L1709.4 1211.3 L1711.4 1210.1 L1713.4 1208.8 L1715.4 1207.4 L1717.4 1205.9 L1719.4 1204.2 L1721.4 1202.5 L1723.4 1200.6 L1725.4 1198.6 L1727.4 1196.6 L1729.4 1194.3 L1731.4 1192 L1733.4 1189.6 L1735.4 1187.2 L1737.4 1184.6 L1739.3 1182 L1741.3 1179.3 L1743.3 1176.7 L1745.3 1174 L1747.3 1171.3 L1749.3 1168.8 L1751.3 1166.3 L1753.3 1163.9 L1755.3 1161.7 L1757.3 1159.6 L1759.3 1157.8 L1761.3 1156.2 L1763.3 1154.8 L1765.3 1153.7 L1767.3 1152.9 L1769.3 1152.3 L1771.3 1151.9 L1773.2 1151.7 L1775.2 1151.8 L1777.2 1152 L1779.2 1152.4 L1781.2 1152.9 L1783.2 1153.4 L1785.2 1154.1 L1787.2 1154.8 L1789.2 1155.6 L1791.2 1156.4 L1793.2 1157.2 L1795.2 1158 L1797.2 1158.9 L1799.2 1159.9 L1801.2 1160.8 L1803.2 1161.9 L1805.1 1163 L1807.1 1164.1 L1809.1 1165.4 L1811.1 1166.7 L1813.1 1168.2 L1815.1 1169.7 L1817.1 1171.3 L1819.1 1173 L1821.1 1174.8 L1823.1 1176.7 L1825.1 1178.6 L1827.1 1180.5 L1829.1 1182.5 L1831.1 1184.6 L1833.1 1186.6 L1835.1 1188.6 L1837.1 1190.6 L1839 1192.6 L1841 1194.5 L1843 1196.4 L1845 1198.3 L1847 1200 L1849 1201.7 L1851 1203.3 L1853 1204.7 L1855 1206.1 L1857 1207.3 L1859 1208.4 L1861 1209.3 L1863 1210 L1865 1210.4 L1867 1210.6 L1869 1210.4 L1871 1209.9 L1872.9 1208.9 L1874.9 1207.6 L1876.9 1205.8 L1878.9 1203.5 L1880.9 1200.7 L1882.9 1197.4 L1884.9 1193.8 L1886.9 1189.7 L1888.9 1185.5 L1890.9 1181.1 L1892.9 1176.8 L1894.9 1172.7 L1896.9 1169.1 L1898.9 1166.3 L1900.9 1164.3 L1902.9 1163.3 L1904.8 1163.1 L1906.8 1163.7 L1908.8 1164.7 L1910.8 1166 L1912.8 1167.4 L1914.8 1168.7 L1916.8 1169.9 L1918.8 1171 L1920.8 1172.1 L1922.8 1173.4 L1924.8 1174.9 L1926.8 1176.9 L1928.8 1179.5 L1930.8 1182.6 L1932.8 1186.3 L1934.8 1190.4 L1936.8 1194.7 L1938.7 1199 L1940.7 1203.4 L1942.7 1207.5 L1944.7 1211.4 L1946.7 1215 L1948.7 1218.3 L1950.7 1221.2 L1952.7 1223.8 L1954.7 1226.1 L1956.7 1228 L1958.7 1229.7 L1960.7 1231.1 L1962.7 1232.3 L1964.7 1233.3 L1966.7 1234.1 L1968.7 1234.8 L1970.6 1235.4 L1972.6 1236 L1974.6 1236.5 L1976.6 1236.9 L1978.6 1237.3 L1980.6 1237.6 L1982.6 1237.9 L1984.6 1238.2 L1986.6 1238.5" stroke="#F0303A" stroke-width="1.3" fill="none" stroke-linejoin="round" /><line x1="1689.5" y1="1257.6" x2="1986.6" y2="1257.6" stroke="#000" stroke-width="1.3" /><line x1="1689.5" y1="1257.6" x2="1689.5" y2="1260.4" stroke="#000" stroke-width="1.2" /><line x1="1714.2" y1="1257.6" x2="1714.2" y2="1262.6" stroke="#000" stroke-width="1.2" /><text x="1714.2" y="1278.9" font-family="'Liberation Sans', Arial, sans-serif" font-size="16.3" font-weight="bold" fill="#000" text-anchor="middle" >538</text><line x1="1738.8" y1="1257.6" x2="1738.8" y2="1260.4" stroke="#000" stroke-width="1.2" /><line x1="1763.5" y1="1257.6" x2="1763.5" y2="1262.6" stroke="#000" stroke-width="1.2" /><text x="1763.5" y="1278.9" font-family="'Liberation Sans', Arial, sans-serif" font-size="16.3" font-weight="bold" fill="#000" text-anchor="middle" >536</text><line x1="1788.1" y1="1257.6" x2="1788.1" y2="1260.4" stroke="#000" stroke-width="1.2" /><line x1="1812.8" y1="1257.6" x2="1812.8" y2="1262.6" stroke="#000" stroke-width="1.2" /><text x="1812.8" y="1278.9" font-family="'Liberation Sans', Arial, sans-serif" font-size="16.3" font-weight="bold" fill="#000" text-anchor="middle" >534</text><line x1="1837.5" y1="1257.6" x2="1837.5" y2="1260.4" stroke="#000" stroke-width="1.2" /><line x1="1862.1" y1="1257.6" x2="1862.1" y2="1262.6" stroke="#000" stroke-width="1.2" /><text x="1862.1" y="1278.9" font-family="'Liberation Sans', Arial, sans-serif" font-size="16.3" font-weight="bold" fill="#000" text-anchor="middle" >532</text><line x1="1886.8" y1="1257.6" x2="1886.8" y2="1260.4" stroke="#000" stroke-width="1.2" /><line x1="1911.4" y1="1257.6" x2="1911.4" y2="1262.6" stroke="#000" stroke-width="1.2" /><text x="1911.4" y="1278.9" font-family="'Liberation Sans', Arial, sans-serif" font-size="16.3" font-weight="bold" fill="#000" text-anchor="middle" >530</text><line x1="1936.1" y1="1257.6" x2="1936.1" y2="1260.4" stroke="#000" stroke-width="1.2" /><line x1="1960.8" y1="1257.6" x2="1960.8" y2="1262.6" stroke="#000" stroke-width="1.2" /><text x="1960.8" y="1278.9" font-family="'Liberation Sans', Arial, sans-serif" font-size="16.3" font-weight="bold" fill="#000" text-anchor="middle" >528</text><line x1="1985.4" y1="1257.6" x2="1985.4" y2="1260.4" stroke="#000" stroke-width="1.2" /><text x="1838" y="1299.9" font-family="'Liberation Serif', 'Times New Roman', serif" font-size="21.6" font-weight="bold" fill="#000" text-anchor="middle" >Binding energy (eV)</text><text x="1856" y="1121.2" font-family="'Liberation Serif', 'Times New Roman', serif" font-size="23.5" font-weight="bold" fill="#E8731F" xml:space="preserve">O 1<tspan font-style="italic">s</tspan>   600s</text><text x="1687" y="1142.7" font-family="'Liberation Serif', 'Times New Roman', serif" font-size="16.5" font-weight="bold" fill="#C8A000" text-anchor="start" >Poly(CO<tspan font-size="11" dy="4">2</tspan><tspan dy="-4">)</tspan></text><text x="1820.6" y="1157" font-family="'Liberation Serif', 'Times New Roman', serif" font-size="16.5" font-weight="bold" fill="#F07A22" text-anchor="start" >C-O</text><text x="1860.2" y="1168" font-family="'Liberation Serif', 'Times New Roman', serif" font-size="16.5" font-weight="bold" fill="#1C8C88" text-anchor="start" >C=O</text><text x="1932.9" y="1163.8" font-family="'Liberation Serif', 'Times New Roman', serif" font-size="16.5" font-weight="bold" fill="#F2C400" text-anchor="start" >RCO<tspan font-size="11" dy="4">2</tspan><tspan dy="-4">Na</tspan></text><text x="9" y="1082" font-family="'Liberation Serif', 'Times New Roman', serif" font-size="56" font-weight="bold" fill="#000" text-anchor="start" >g</text><text x="1071" y="1095.5" font-family="'Liberation Serif', 'Times New Roman', serif" font-size="57" font-weight="bold" fill="#000" text-anchor="start" >h</text><line x1="97.1" y1="480.9" x2="97.1" y2="974.1" stroke="#000" stroke-width="1.5" /><line x1="89.2" y1="974.1" x2="97.1" y2="974.1" stroke="#000" stroke-width="1.4" /><text x="84.2" y="981.2" font-family="'Liberation Sans', Arial, sans-serif" font-size="22.2" font-weight="bold" fill="#000" text-anchor="end" >−16</text><line x1="92.7" y1="933" x2="97.1" y2="933" stroke="#000" stroke-width="1.4" /><line x1="89.2" y1="891.9" x2="97.1" y2="891.9" stroke="#000" stroke-width="1.4" /><text x="84.2" y="899" font-family="'Liberation Sans', Arial, sans-serif" font-size="22.2" font-weight="bold" fill="#000" text-anchor="end" >−12</text><line x1="92.7" y1="850.8" x2="97.1" y2="850.8" stroke="#000" stroke-width="1.4" /><line x1="89.2" y1="809.7" x2="97.1" y2="809.7" stroke="#000" stroke-width="1.4" /><text x="84.2" y="816.8" font-family="'Liberation Sans', Arial, sans-serif" font-size="22.2" font-weight="bold" fill="#000" text-anchor="end" >−8</text><line x1="92.7" y1="768.6" x2="97.1" y2="768.6" stroke="#000" stroke-width="1.4" /><line x1="89.2" y1="727.5" x2="97.1" y2="727.5" stroke="#000" stroke-width="1.4" /><text x="84.2" y="734.6" font-family="'Liberation Sans', Arial, sans-serif" font-size="22.2" font-weight="bold" fill="#000" text-anchor="end" >−4</text><line x1="92.7" y1="686.4" x2="97.1" y2="686.4" stroke="#000" stroke-width="1.4" /><line x1="89.2" y1="645.3" x2="97.1" y2="645.3" stroke="#000" stroke-width="1.4" /><text x="84.2" y="652.4" font-family="'Liberation Sans', Arial, sans-serif" font-size="22.2" font-weight="bold" fill="#000" text-anchor="end" >0</text><line x1="92.7" y1="604.2" x2="97.1" y2="604.2" stroke="#000" stroke-width="1.4" /><line x1="89.2" y1="563.1" x2="97.1" y2="563.1" stroke="#000" stroke-width="1.4" /><text x="84.2" y="570.2" font-family="'Liberation Sans', Arial, sans-serif" font-size="22.2" font-weight="bold" fill="#000" text-anchor="end" >4</text><line x1="92.7" y1="522" x2="97.1" y2="522" stroke="#000" stroke-width="1.4" /><line x1="89.2" y1="480.9" x2="97.1" y2="480.9" stroke="#000" stroke-width="1.4" /><text x="84.2" y="488" font-family="'Liberation Sans', Arial, sans-serif" font-size="22.2" font-weight="bold" fill="#000" text-anchor="end" >8</text><text x="40.5" y="720" font-family="'Liberation Serif', 'Times New Roman', serif" font-size="29.0" font-weight="bold" fill="#000" text-anchor="middle" transform="rotate(-90 40.5 720)">Energy (eV)</text><rect x="113.6" y="638.9" width="138.2" height="232.4" fill="url(#barO)"/><text x="186.2" y="761" font-family="'Liberation Serif', 'Times New Roman', serif" font-size="23.5" font-weight="bold" fill="#E8711E" text-anchor="middle" >FEC</text><rect x="286.1" y="674.9" width="138" height="174.1" fill="url(#barO)"/><text x="356" y="770" font-family="'Liberation Serif', 'Times New Roman', serif" font-size="23.5" font-weight="bold" fill="#E8711E" text-anchor="middle" >ECA</text><rect x="457.8" y="652.1" width="138.4" height="203.9" fill="url(#barO)"/><text x="525" y="770" font-family="'Liberation Serif', 'Times New Roman', serif" font-size="23.5" font-weight="bold" fill="#E8711E" text-anchor="middle" >NaTFSI</text><rect x="629.5" y="573" width="138.4" height="78.7" fill="url(#barT)"/><text x="695.5" y="622.6" font-family="'Liberation Serif', 'Times New Roman', serif" font-size="23.0" font-weight="bold" fill="#5A9A8E" text-anchor="middle" >NZZSPO</text><text x="695.5" y="566" font-family="'Liberation Serif', 'Times New Roman', serif" font-size="22.4" font-weight="bold" fill="#000" text-anchor="middle" >3.52</text><text x="695.5" y="674.4" font-family="'Liberation Serif', 'Times New Roman', serif" font-size="22.4" font-weight="bold" fill="#000" text-anchor="middle" >−0.31</text><text x="248.6" y="636.3" font-family="'Liberation Serif', 'Times New Roman', serif" font-size="22.4" font-weight="bold" fill="#000" text-anchor="end" >0.31</text><text x="121.5" y="890.8" font-family="'Liberation Serif', 'Times New Roman', serif" font-size="22.4" font-weight="bold" fill="#000" text-anchor="start" >−11.00</text><text x="414.5" y="671.7" font-family="'Liberation Serif', 'Times New Roman', serif" font-size="22.4" font-weight="bold" fill="#000" text-anchor="end" >−1.44</text><text x="477" y="649.5" font-family="'Liberation Serif', 'Times New Roman', serif" font-size="22.4" font-weight="bold" fill="#000" text-anchor="start" >−0.33</text><text x="418.7" y="868.7" font-family="'Liberation Serif', 'Times New Roman', serif" font-size="22.4" font-weight="bold" fill="#000" text-anchor="end" >−9.91</text><text x="459" y="875.6" font-family="'Liberation Serif', 'Times New Roman', serif" font-size="22.4" font-weight="bold" fill="#000" text-anchor="start" >−10.25</text><ellipse cx="174.5" cy="583" rx="22" ry="21" fill="#E58DC4" fill-opacity="0.85"/><ellipse cx="185.5" cy="617" rx="24" ry="11" fill="#35C2EE" fill-opacity="0.85" transform="rotate(-12 185.5 617)"/><ellipse cx="182.9" cy="555.3" rx="9.6" ry="9.6" fill="#35C2EE" fill-opacity="0.8"/><ellipse cx="166" cy="587.5" rx="8.4" ry="8.4" fill="#35C2EE" fill-opacity="0.8"/><ellipse cx="201.3" cy="586.7" rx="8.5" ry="8.5" fill="#35C2EE" fill-opacity="0.8"/><ellipse cx="205.9" cy="609" rx="6.5" ry="6.5" fill="#35C2EE" fill-opacity="0.8"/><path d="M182.9 555.3 L183.7 575.5" stroke="#888" stroke-width="1.6" fill="none"/><path d="M166 588 L183.7 575.5 L201.3 588" stroke="#888" stroke-width="1.6" fill="none"/><path d="M166 588 L171.3 609.5 L195.9 609.5 L201.3 588" stroke="#888" stroke-width="1.6" fill="none"/><circle cx="182.9" cy="555.3" r="5" fill="url(#gO)" stroke="#222" stroke-width="0.5"/><circle cx="183.7" cy="575.5" r="5.5" fill="url(#gCp)" stroke="#222" stroke-width="0.5"/><circle cx="166" cy="588.3" r="5" fill="url(#gO)" stroke="#222" stroke-width="0.5"/><circle cx="201.3" cy="587.8" r="5" fill="url(#gO)" stroke="#222" stroke-width="0.5"/><circle cx="171.3" cy="609.5" r="5.5" fill="url(#gC)" stroke="#222" stroke-width="0.5"/><circle cx="195.9" cy="609.5" r="5.5" fill="url(#gC)" stroke="#222" stroke-width="0.5"/><circle cx="164.7" cy="620.5" r="3.5" fill="url(#gH)" stroke="#222" stroke-width="0.5"/><circle cx="204.3" cy="611.4" r="4.5" fill="url(#gF)" stroke="#222" stroke-width="0.5"/><circle cx="206.9" cy="622" r="3" fill="url(#gH)" stroke="#222" stroke-width="0.5"/><ellipse cx="197.8" cy="900.3" rx="9.7" ry="15.6" fill="#35C2EE" fill-opacity="0.85"/><ellipse cx="222.6" cy="899.4" rx="13.8" ry="16.6" fill="#E58DC4" fill-opacity="0.75"/><ellipse cx="194.1" cy="930.7" rx="17" ry="15" fill="#E58DC4" fill-opacity="0.7"/><ellipse cx="195" cy="930.7" rx="15" ry="13" fill="#35C2EE" fill-opacity="0.75"/><ellipse cx="230.9" cy="929.8" rx="9" ry="9" fill="#35C2EE" fill-opacity="0.85"/><ellipse cx="231" cy="942" rx="10" ry="7" fill="#E58DC4" fill-opacity="0.85"/><ellipse cx="197.8" cy="962" rx="17" ry="15" fill="#E58DC4" fill-opacity="0.8"/><ellipse cx="196" cy="952" rx="13" ry="8" fill="#35C2EE" fill-opacity="0.5"/><ellipse cx="230.9" cy="961" rx="10" ry="10" fill="#35C2EE" fill-opacity="0.85"/><ellipse cx="240.6" cy="955.5" rx="6" ry="7" fill="#E58DC4" fill-opacity="0.85"/><path d="M212.5 901.9 L213.4 920.5" stroke="#E03040" stroke-width="1.6" fill="none"/><path d="M196.8 932.5 L213.4 920.5 L229.8 932.5" stroke="#888" stroke-width="1.6" fill="none"/><path d="M196.8 932.5 L202.4 954.7 L226 953.8 L229.8 932.5" stroke="#888" stroke-width="1.6" fill="none"/><circle cx="212.5" cy="901.9" r="5" fill="url(#gOr)" stroke="#222" stroke-width="0.5"/><circle cx="213.4" cy="920.5" r="6" fill="url(#gCp)" stroke="#222" stroke-width="0.5"/><circle cx="196.8" cy="932.5" r="5" fill="url(#gO)" stroke="#222" stroke-width="0.5"/><circle cx="229.8" cy="932.5" r="5" fill="url(#gO)" stroke="#222" stroke-width="0.5"/><circle cx="202.4" cy="954.7" r="5.5" fill="url(#gCp)" stroke="#222" stroke-width="0.5"/><circle cx="226" cy="953.8" r="5.5" fill="url(#gC)" stroke="#222" stroke-width="0.5"/><circle cx="196" cy="964.4" r="3.5" fill="url(#gH)" stroke="#222" stroke-width="0.5"/><circle cx="233" cy="957" r="4.5" fill="url(#gF)" stroke="#222" stroke-width="0.5"/><circle cx="233.8" cy="965.5" r="3" fill="url(#gH)" stroke="#222" stroke-width="0.5"/><ellipse cx="298.9" cy="594" rx="12" ry="12" fill="#35C2EE" fill-opacity="0.85"/><ellipse cx="298.9" cy="608.5" rx="12" ry="8.5" fill="#E58DC4" fill-opacity="0.85"/><ellipse cx="336.1" cy="604" rx="25" ry="14" fill="#E58DC4" fill-opacity="0.8"/><ellipse cx="334.3" cy="621" rx="25" ry="12" fill="#35C2EE" fill-opacity="0.75"/><ellipse cx="333.3" cy="638.2" rx="24" ry="15" fill="#35C2EE" fill-opacity="0.8"/><ellipse cx="333.8" cy="657" rx="24" ry="13" fill="#E58DC4" fill-opacity="0.85"/><ellipse cx="354.5" cy="584.8" rx="12" ry="12" fill="#35C2EE" fill-opacity="0.85"/><ellipse cx="354.5" cy="597" rx="12" ry="7" fill="#E58DC4" fill-opacity="0.6"/><ellipse cx="372" cy="615.2" rx="8" ry="8" fill="#35C2EE" fill-opacity="0.85"/><ellipse cx="372" cy="627" rx="8" ry="7" fill="#E58DC4" fill-opacity="0.85"/><path d="M301.6 599.7 L316.8 607.5 L334.8 617 L353.6 607.5 L370 617.9 L389.2 607 L406.5 624.6" stroke="#888" stroke-width="1.6" fill="none"/><path d="M353.6 607.5 L354.5 592" stroke="#888" stroke-width="1.6" fill="none"/><path d="M334.8 617 L333.8 633.7" stroke="#888" stroke-width="1.6" fill="none"/><path d="M389.2 607 L389.8 592.4" stroke="#888" stroke-width="1.6" fill="none"/><path d="M406.5 624.6 L419.6 617.9" stroke="#888" stroke-width="1.6" fill="none"/><path d="M406.5 624.6 L404.5 638.6" stroke="#888" stroke-width="1.6" fill="none"/><path d="M319.5 643.5 L333.8 633.7 L347.5 643.5" stroke="#888" stroke-width="1.6" fill="none"/><circle cx="301.6" cy="599.7" r="5" fill="url(#gN)" stroke="#222" stroke-width="0.5"/><circle cx="316.8" cy="607.5" r="5.5" fill="url(#gCp)" stroke="#222" stroke-width="0.5"/><circle cx="334.8" cy="617" r="5.5" fill="url(#gCp)" stroke="#222" stroke-width="0.5"/><circle cx="353.6" cy="607.5" r="5.5" fill="url(#gCp)" stroke="#222" stroke-width="0.5"/><circle cx="354.5" cy="592" r="4.5" fill="url(#gO)" stroke="#222" stroke-width="0.5"/><circle cx="370" cy="617.9" r="4.5" fill="url(#gO)" stroke="#222" stroke-width="0.5"/><circle cx="389.2" cy="607" r="5.5" fill="url(#gC)" stroke="#222" stroke-width="0.5"/><circle cx="406.5" cy="624.6" r="5.5" fill="url(#gC)" stroke="#222" stroke-width="0.5"/><circle cx="389.8" cy="592.4" r="3.5" fill="url(#gH)" stroke="#222" stroke-width="0.5"/><circle cx="419.6" cy="617.9" r="3.5" fill="url(#gH)" stroke="#222" stroke-width="0.5"/><circle cx="404.5" cy="638.6" r="3.5" fill="url(#gH)" stroke="#222" stroke-width="0.5"/><circle cx="333.8" cy="633.7" r="5" fill="url(#gC)" stroke="#222" stroke-width="0.5"/><circle cx="319.5" cy="643.5" r="3.5" fill="url(#gF)" stroke="#222" stroke-width="0.5"/><circle cx="347.5" cy="643.5" r="3.5" fill="url(#gF)" stroke="#222" stroke-width="0.5"/><ellipse cx="309.9" cy="884" rx="19" ry="14" fill="#35C2EE" fill-opacity="0.85"/><ellipse cx="309.9" cy="898" rx="19" ry="12" fill="#E58DC4" fill-opacity="0.8"/><ellipse cx="339.8" cy="910" rx="19" ry="24" fill="#E58DC4" fill-opacity="0.75"/><ellipse cx="339.8" cy="937" rx="19" ry="11" fill="#35C2EE" fill-opacity="0.8"/><ellipse cx="339.8" cy="912" rx="16" ry="20" fill="#9878C0" fill-opacity="0.45"/><ellipse cx="360.3" cy="879" rx="9" ry="12" fill="#35C2EE" fill-opacity="0.85"/><ellipse cx="375.6" cy="901" rx="10" ry="12" fill="#35C2EE" fill-opacity="0.85"/><ellipse cx="375.6" cy="914" rx="10" ry="9" fill="#E58DC4" fill-opacity="0.85"/><ellipse cx="396.6" cy="885.6" rx="9" ry="13" fill="#E58DC4" fill-opacity="0.85"/><ellipse cx="396.6" cy="898" rx="9" ry="8" fill="#35C2EE" fill-opacity="0.6"/><path d="M307.4 887.4 L322 895 L340 904 L359.8 894.5 L375.6 905 L395.3 896.8 L412.3 911" stroke="#888" stroke-width="1.6" fill="none"/><path d="M340 904 L339.8 925" stroke="#888" stroke-width="1.6" fill="none"/><path d="M359.8 894.5 L360.3 878.8" stroke="#888" stroke-width="1.6" fill="none"/><path d="M324.5 931.7 L339.8 925 L354 931.7" stroke="#888" stroke-width="1.6" fill="none"/><path d="M412.3 911 L426 904" stroke="#888" stroke-width="1.6" fill="none"/><path d="M412.3 911 L410 925.6" stroke="#888" stroke-width="1.6" fill="none"/><path d="M395.3 896.8 L395.3 880" stroke="#888" stroke-width="1.6" fill="none"/><circle cx="307.4" cy="887.4" r="4.5" fill="url(#gN)" stroke="#222" stroke-width="0.5"/><circle cx="322" cy="895" r="5" fill="url(#gC)" stroke="#222" stroke-width="0.5"/><circle cx="340" cy="904" r="5.5" fill="url(#gCp)" stroke="#222" stroke-width="0.5"/><circle cx="339.8" cy="925" r="5.5" fill="url(#gCp)" stroke="#222" stroke-width="0.5"/><circle cx="359.8" cy="894.5" r="5.5" fill="url(#gC)" stroke="#222" stroke-width="0.5"/><circle cx="360.3" cy="878.8" r="4.5" fill="url(#gO)" stroke="#222" stroke-width="0.5"/><circle cx="375.6" cy="905" r="4.5" fill="url(#gO)" stroke="#222" stroke-width="0.5"/><circle cx="395.3" cy="896.8" r="5.5" fill="url(#gCp)" stroke="#222" stroke-width="0.5"/><circle cx="412.3" cy="911" r="5.5" fill="url(#gC)" stroke="#222" stroke-width="0.5"/><circle cx="395.3" cy="880" r="3.5" fill="url(#gH)" stroke="#222" stroke-width="0.5"/><circle cx="426" cy="904" r="3.5" fill="url(#gH)" stroke="#222" stroke-width="0.5"/><circle cx="410" cy="925.6" r="3.5" fill="url(#gH)" stroke="#222" stroke-width="0.5"/><circle cx="324.5" cy="931.7" r="3.5" fill="url(#gH)" stroke="#222" stroke-width="0.5"/><circle cx="354" cy="931.7" r="3.5" fill="url(#gH)" stroke="#222" stroke-width="0.5"/><ellipse cx="532.8" cy="543.8" rx="31.6" ry="22" fill="#E8A0CC" fill-opacity="0.95"/><ellipse cx="538" cy="553" rx="22" ry="11" fill="#D878B0" fill-opacity="0.6"/><circle cx="538.1" cy="552.4" r="5" fill="url(#gNa)" stroke="#222" stroke-width="0.5"/><ellipse cx="525.8" cy="591.5" rx="9" ry="7.6" fill="#35C2EE" fill-opacity="0.75"/><ellipse cx="489.9" cy="590.4" rx="7" ry="6" fill="#35C2EE" fill-opacity="0.75"/><ellipse cx="564.9" cy="582.9" rx="7" ry="6" fill="#35C2EE" fill-opacity="0.75"/><ellipse cx="552.6" cy="618.3" rx="7" ry="6" fill="#35C2EE" fill-opacity="0.75"/><ellipse cx="505.4" cy="626.4" rx="7" ry="6" fill="#35C2EE" fill-opacity="0.75"/><ellipse cx="488.3" cy="581.3" rx="6" ry="5.1" fill="#35C2EE" fill-opacity="0.75"/><path d="M471.1 612.4 L490.4 602.8 L502.7 603.3 L525.8 591.5 L549.4 602.2 L564.9 582.9" stroke="#888" stroke-width="1.6" fill="none"/><path d="M488.3 581.3 L490.4 602.8" stroke="#888" stroke-width="1.6" fill="none"/><path d="M502.7 603.3 L505.4 626.4" stroke="#888" stroke-width="1.6" fill="none"/><path d="M549.4 602.2 L552.6 618.3 L574.1 624.2" stroke="#888" stroke-width="1.6" fill="none"/><path d="M552.6 618.3 L540.8 634.4" stroke="#888" stroke-width="1.6" fill="none"/><circle cx="488.3" cy="581.3" r="5" fill="url(#gF)" stroke="#222" stroke-width="0.5"/><circle cx="489.9" cy="590.4" r="5.5" fill="url(#gO)" stroke="#222" stroke-width="0.5"/><circle cx="490.4" cy="602.8" r="5.5" fill="url(#gC)" stroke="#222" stroke-width="0.5"/><circle cx="471.1" cy="612.4" r="5.5" fill="url(#gF)" stroke="#222" stroke-width="0.5"/><circle cx="502.7" cy="603.3" r="6" fill="url(#gS)" stroke="#222" stroke-width="0.5"/><circle cx="503.3" cy="614" r="5" fill="url(#gF)" stroke="#222" stroke-width="0.5"/><circle cx="505.4" cy="626.4" r="5.5" fill="url(#gOr)" stroke="#222" stroke-width="0.5"/><circle cx="525.8" cy="591.5" r="6" fill="url(#gN)" stroke="#222" stroke-width="0.5"/><circle cx="549.4" cy="602.2" r="6" fill="url(#gS)" stroke="#222" stroke-width="0.5"/><circle cx="564.9" cy="582.9" r="5.5" fill="url(#gO)" stroke="#222" stroke-width="0.5"/><circle cx="552.6" cy="618.3" r="5.5" fill="url(#gOr)" stroke="#222" stroke-width="0.5"/><circle cx="574.1" cy="624.2" r="5.5" fill="url(#gF)" stroke="#222" stroke-width="0.5"/><circle cx="540.8" cy="634.4" r="5" fill="url(#gF)" stroke="#222" stroke-width="0.5"/><circle cx="539.2" cy="868.5" r="5" fill="url(#gNa)" stroke="#222" stroke-width="0.5"/><ellipse cx="491.9" cy="894.9" rx="12" ry="12" fill="#E58DC4" fill-opacity="0.85"/><ellipse cx="528.7" cy="894.9" rx="19" ry="17" fill="#35C2EE" fill-opacity="0.85"/><ellipse cx="480.9" cy="913.8" rx="12" ry="13" fill="#35C2EE" fill-opacity="0.85"/><ellipse cx="468" cy="928.7" rx="8" ry="8" fill="#35C2EE" fill-opacity="0.85"/><ellipse cx="524.7" cy="923.7" rx="16" ry="7" fill="#E58DC4" fill-opacity="0.85"/><ellipse cx="531.7" cy="911.8" rx="21" ry="7" fill="#35C2EE" fill-opacity="0.7"/><ellipse cx="494.8" cy="944.7" rx="13" ry="15" fill="#E58DC4" fill-opacity="0.85"/><ellipse cx="516.8" cy="945.7" rx="12" ry="17" fill="#35C2EE" fill-opacity="0.85"/><ellipse cx="559.6" cy="903.8" rx="9" ry="11" fill="#E58DC4" fill-opacity="0.85"/><ellipse cx="574.5" cy="898.8" rx="9" ry="10" fill="#35C2EE" fill-opacity="0.85"/><ellipse cx="553.6" cy="931.7" rx="17" ry="14" fill="#35C2EE" fill-opacity="0.7"/><ellipse cx="559.6" cy="936.7" rx="10" ry="10" fill="#E58DC4" fill-opacity="0.6"/><ellipse cx="576.5" cy="938.7" rx="9" ry="9" fill="#E58DC4" fill-opacity="0.85"/><ellipse cx="580.5" cy="946.7" rx="9" ry="8" fill="#35C2EE" fill-opacity="0.85"/><ellipse cx="541.7" cy="953.6" rx="8" ry="9" fill="#35C2EE" fill-opacity="0.85"/><path d="M470.5 928.7 L492.9 918.7 L503.8 918.7 L527.2 906.8 L553.1 918.7 L566.6 900.6" stroke="#888" stroke-width="1.6" fill="none"/><path d="M489.9 906.8 L503.8 918.7 L505.3 943.7" stroke="#888" stroke-width="1.6" fill="none"/><path d="M553.1 918.7 L553.6 935.7 L576.5 941.7" stroke="#888" stroke-width="1.6" fill="none"/><path d="M553.6 935.7 L542.2 950.6" stroke="#888" stroke-width="1.6" fill="none"/><circle cx="489.9" cy="906.8" r="5" fill="url(#gO)" stroke="#222" stroke-width="0.5"/><circle cx="492.9" cy="918.7" r="5" fill="url(#gC)" stroke="#222" stroke-width="0.5"/><circle cx="470.5" cy="928.7" r="5" fill="url(#gH)" stroke="#222" stroke-width="0.5"/><circle cx="503.8" cy="918.7" r="6" fill="url(#gS)" stroke="#222" stroke-width="0.5"/><circle cx="505.3" cy="943.7" r="5" fill="url(#gOr)" stroke="#222" stroke-width="0.5"/><circle cx="527.2" cy="906.8" r="5.5" fill="url(#gN)" stroke="#222" stroke-width="0.5"/><circle cx="553.1" cy="918.7" r="6" fill="url(#gS)" stroke="#222" stroke-width="0.5"/><circle cx="566.6" cy="900.6" r="5" fill="url(#gOr)" stroke="#222" stroke-width="0.5"/><circle cx="553.6" cy="935.7" r="5" fill="url(#gO)" stroke="#222" stroke-width="0.5"/><circle cx="542.2" cy="950.6" r="5" fill="url(#gH)" stroke="#222" stroke-width="0.5"/><circle cx="576.5" cy="941.7" r="5" fill="url(#gH)" stroke="#222" stroke-width="0.5"/><text x="-2" y="457.8" font-family="'Liberation Serif', 'Times New Roman', serif" font-size="59" font-weight="bold" fill="#000" text-anchor="start" >d</text><rect x="902.2" y="445.8" width="383.3" height="286.8" fill="#A87840"/><rect x="902.2" y="445.8" width="383.3" height="286.8" filter="url(#semTop)"/><rect x="902.2" y="732.6" width="383.3" height="287.2" fill="#4D7173"/><rect x="902.2" y="732.6" width="383.3" height="287.2" filter="url(#semBot)"/><g clip-path="url(#clipBot)" filter="url(#rough)"><ellipse cx="927" cy="755" rx="20" ry="17" fill="#86A6A6" stroke="#B8D0D0" stroke-width="1" fill-opacity="0.55" stroke-opacity="0.7"/><ellipse cx="928" cy="756" rx="9" ry="7.7" fill="#3E5E60" fill-opacity="0.5"/><ellipse cx="961" cy="791" rx="8" ry="6" fill="#86A6A6" stroke="#B8D0D0" stroke-width="1" fill-opacity="0.55" stroke-opacity="0.7"/><ellipse cx="962" cy="792" rx="3.6" ry="2.7" fill="#3E5E60" fill-opacity="0.5"/><ellipse cx="950" cy="800" rx="6" ry="5" fill="#86A6A6" stroke="#B8D0D0" stroke-width="1" fill-opacity="0.55" stroke-opacity="0.7"/><ellipse cx="951" cy="801" rx="2.7" ry="2.2" fill="#3E5E60" fill-opacity="0.5"/><ellipse cx="1004" cy="814" rx="7" ry="7" fill="#86A6A6" stroke="#B8D0D0" stroke-width="1" fill-opacity="0.55" stroke-opacity="0.7"/><ellipse cx="1005" cy="815" rx="3.1" ry="3.1" fill="#3E5E60" fill-opacity="0.5"/><ellipse cx="1076" cy="798" rx="12" ry="11" fill="#86A6A6" stroke="#B8D0D0" stroke-width="1" fill-opacity="0.55" stroke-opacity="0.7"/><ellipse cx="1077" cy="799" rx="5.4" ry="5" fill="#3E5E60" fill-opacity="0.5"/><ellipse cx="1108" cy="796" rx="10" ry="10" fill="#86A6A6" stroke="#B8D0D0" stroke-width="1" fill-opacity="0.55" stroke-opacity="0.7"/><ellipse cx="1109" cy="797" rx="4.5" ry="4.5" fill="#3E5E60" fill-opacity="0.5"/><ellipse cx="1248" cy="791" rx="7" ry="7" fill="#86A6A6" stroke="#B8D0D0" stroke-width="1" fill-opacity="0.55" stroke-opacity="0.7"/><ellipse cx="1249" cy="792" rx="3.1" ry="3.1" fill="#3E5E60" fill-opacity="0.5"/><ellipse cx="1275" cy="816" rx="10" ry="11" fill="#86A6A6" stroke="#B8D0D0" stroke-width="1" fill-opacity="0.55" stroke-opacity="0.7"/><ellipse cx="1276" cy="817" rx="4.5" ry="5" fill="#3E5E60" fill-opacity="0.5"/><ellipse cx="1169" cy="832" rx="11" ry="12" fill="#86A6A6" stroke="#B8D0D0" stroke-width="1" fill-opacity="0.55" stroke-opacity="0.7"/><ellipse cx="1170" cy="833" rx="5" ry="5.4" fill="#3E5E60" fill-opacity="0.5"/><ellipse cx="1212" cy="816" rx="9" ry="10" fill="#86A6A6" stroke="#B8D0D0" stroke-width="1" fill-opacity="0.55" stroke-opacity="0.7"/><ellipse cx="1213" cy="817" rx="4" ry="4.5" fill="#3E5E60" fill-opacity="0.5"/><ellipse cx="1232" cy="838" rx="10" ry="5" fill="#86A6A6" stroke="#B8D0D0" stroke-width="1" fill-opacity="0.55" stroke-opacity="0.7"/><ellipse cx="1233" cy="839" rx="4.5" ry="2.2" fill="#3E5E60" fill-opacity="0.5"/><ellipse cx="954" cy="868" rx="10" ry="10" fill="#86A6A6" stroke="#B8D0D0" stroke-width="1" fill-opacity="0.55" stroke-opacity="0.7"/><ellipse cx="955" cy="869" rx="4.5" ry="4.5" fill="#3E5E60" fill-opacity="0.5"/><ellipse cx="927" cy="879" rx="8" ry="8" fill="#86A6A6" stroke="#B8D0D0" stroke-width="1" fill-opacity="0.55" stroke-opacity="0.7"/><ellipse cx="928" cy="880" rx="3.6" ry="3.6" fill="#3E5E60" fill-opacity="0.5"/><ellipse cx="1114" cy="859" rx="5" ry="5" fill="#86A6A6" stroke="#B8D0D0" stroke-width="1" fill-opacity="0.55" stroke-opacity="0.7"/><ellipse cx="1115" cy="860" rx="2.2" ry="2.2" fill="#3E5E60" fill-opacity="0.5"/><ellipse cx="1148" cy="861" rx="6" ry="6" fill="#86A6A6" stroke="#B8D0D0" stroke-width="1" fill-opacity="0.55" stroke-opacity="0.7"/><ellipse cx="1149" cy="862" rx="2.7" ry="2.7" fill="#3E5E60" fill-opacity="0.5"/><ellipse cx="1210" cy="875" rx="12" ry="10" fill="#86A6A6" stroke="#B8D0D0" stroke-width="1" fill-opacity="0.55" stroke-opacity="0.7"/><ellipse cx="1211" cy="876" rx="5.4" ry="4.5" fill="#3E5E60" fill-opacity="0.5"/><ellipse cx="1275" cy="875" rx="6" ry="5" fill="#86A6A6" stroke="#B8D0D0" stroke-width="1" fill-opacity="0.55" stroke-opacity="0.7"/><ellipse cx="1276" cy="876" rx="2.7" ry="2.2" fill="#3E5E60" fill-opacity="0.5"/><ellipse cx="1045" cy="906" rx="8" ry="8" fill="#86A6A6" stroke="#B8D0D0" stroke-width="1" fill-opacity="0.55" stroke-opacity="0.7"/><ellipse cx="1046" cy="907" rx="3.6" ry="3.6" fill="#3E5E60" fill-opacity="0.5"/><ellipse cx="1109" cy="935" rx="6" ry="6" fill="#86A6A6" stroke="#B8D0D0" stroke-width="1" fill-opacity="0.55" stroke-opacity="0.7"/><ellipse cx="1110" cy="936" rx="2.7" ry="2.7" fill="#3E5E60" fill-opacity="0.5"/><ellipse cx="1210" cy="932" rx="5" ry="5" fill="#86A6A6" stroke="#B8D0D0" stroke-width="1" fill-opacity="0.55" stroke-opacity="0.7"/><ellipse cx="1211" cy="933" rx="2.2" ry="2.2" fill="#3E5E60" fill-opacity="0.5"/><ellipse cx="1268" cy="920" rx="10" ry="11" fill="#86A6A6" stroke="#B8D0D0" stroke-width="1" fill-opacity="0.55" stroke-opacity="0.7"/><ellipse cx="1269" cy="921" rx="4.5" ry="5" fill="#3E5E60" fill-opacity="0.5"/><ellipse cx="1031" cy="961" rx="22" ry="16" fill="#86A6A6" stroke="#B8D0D0" stroke-width="1" fill-opacity="0.55" stroke-opacity="0.7"/><ellipse cx="1032" cy="962" rx="9.9" ry="7.2" fill="#3E5E60" fill-opacity="0.5"/><ellipse cx="945" cy="972" rx="13" ry="12" fill="#86A6A6" stroke="#B8D0D0" stroke-width="1" fill-opacity="0.55" stroke-opacity="0.7"/><ellipse cx="946" cy="973" rx="5.9" ry="5.4" fill="#3E5E60" fill-opacity="0.5"/><ellipse cx="1282" cy="956" rx="6" ry="7" fill="#86A6A6" stroke="#B8D0D0" stroke-width="1" fill-opacity="0.55" stroke-opacity="0.7"/><ellipse cx="1283" cy="957" rx="2.7" ry="3.1" fill="#3E5E60" fill-opacity="0.5"/><ellipse cx="1094" cy="1008" rx="8" ry="7" fill="#86A6A6" stroke="#B8D0D0" stroke-width="1" fill-opacity="0.55" stroke-opacity="0.7"/><ellipse cx="1095" cy="1009" rx="3.6" ry="3.1" fill="#3E5E60" fill-opacity="0.5"/><ellipse cx="1119" cy="1004" rx="5" ry="5" fill="#86A6A6" stroke="#B8D0D0" stroke-width="1" fill-opacity="0.55" stroke-opacity="0.7"/><ellipse cx="1120" cy="1005" rx="2.2" ry="2.2" fill="#3E5E60" fill-opacity="0.5"/><ellipse cx="1194" cy="1006" rx="12" ry="9" fill="#86A6A6" stroke="#B8D0D0" stroke-width="1" fill-opacity="0.55" stroke-opacity="0.7"/><ellipse cx="1195" cy="1007" rx="5.4" ry="4" fill="#3E5E60" fill-opacity="0.5"/><ellipse cx="1273" cy="1004" rx="10" ry="9" fill="#86A6A6" stroke="#B8D0D0" stroke-width="1" fill-opacity="0.55" stroke-opacity="0.7"/><ellipse cx="1274" cy="1005" rx="4.5" ry="4" fill="#3E5E60" fill-opacity="0.5"/><ellipse cx="1140" cy="1013" rx="6" ry="5" fill="#86A6A6" stroke="#B8D0D0" stroke-width="1" fill-opacity="0.55" stroke-opacity="0.7"/><ellipse cx="1141" cy="1014" rx="2.7" ry="2.2" fill="#3E5E60" fill-opacity="0.5"/><ellipse cx="915" cy="815" rx="5" ry="4" fill="#86A6A6" stroke="#B8D0D0" stroke-width="1" fill-opacity="0.55" stroke-opacity="0.7"/><ellipse cx="916" cy="816" rx="2.2" ry="1.8" fill="#3E5E60" fill-opacity="0.5"/><ellipse cx="990" cy="790" rx="4" ry="4" fill="#86A6A6" stroke="#B8D0D0" stroke-width="1" fill-opacity="0.55" stroke-opacity="0.7"/><ellipse cx="991" cy="791" rx="1.8" ry="1.8" fill="#3E5E60" fill-opacity="0.5"/></g><rect x="1230.4" y="709.9" width="32.6" height="7.9" fill="#fff"/><rect x="1232.7" y="993.6" width="31.8" height="8.9" fill="#fff"/><text x="1272.4" y="470" font-family="'Liberation Serif', 'Times New Roman', serif" font-size="23.5" font-weight="bold" fill="#fff" text-anchor="end" >Conventional liquid electrolyte</text><text x="1272.4" y="755.4" font-family="'Liberation Serif', 'Times New Roman', serif" font-size="23.5" font-weight="bold" fill="#fff" text-anchor="end" >Electroinitiated accelerated</text><text x="1272.4" y="777.6" font-family="'Liberation Serif', 'Times New Roman', serif" font-size="23.5" font-weight="bold" fill="#fff" text-anchor="end" >polymerization</text><text x="849.5" y="452.2" font-family="'Liberation Serif', 'Times New Roman', serif" font-size="63" font-weight="bold" fill="#000" text-anchor="start" >e</text><g filter="url(#cf1)"><path d="M1429.9 459.4 L1489.7 442 L1580.4 451.2 L1577.5 544.7 L1528.3 578.9 L1433.7 558.2Z" fill="url(#cg1)"/><path d="M1429.9 459.4 L1489.7 442 L1580.4 451.2 L1529.2 471.7Z" fill="#4A50CC" fill-opacity="0.75"/></g><path d="M1429.9 459.4L1489.7 442M1489.7 442L1580.4 451.2M1580.4 451.2L1529.2 471.7M1529.2 471.7L1429.9 459.4M1429.9 459.4L1433.7 558.2M1529.2 471.7L1528.3 578.9M1580.4 451.2L1577.5 544.7M1433.7 558.2L1528.3 578.9M1528.3 578.9L1577.5 544.7M1489.7 442L1491.2 530.2M1491.2 530.2L1433.7 558.2M1491.2 530.2L1577.5 544.7" stroke="#4A4A4A" stroke-width="0.9" fill="none" stroke-opacity="0.85"/><g filter="url(#cf2)"><path d="M1715.5 461.3 L1775.3 443.9 L1866 453.1 L1863.1 546.6 L1813.9 580.8 L1719.3 560.1Z" fill="url(#cg2)"/></g><path d="M1715.5 461.3L1775.3 443.9M1775.3 443.9L1866 453.1M1866 453.1L1814.8 473.6M1814.8 473.6L1715.5 461.3M1715.5 461.3L1719.3 560.1M1814.8 473.6L1813.9 580.8M1866 453.1L1863.1 546.6M1719.3 560.1L1813.9 580.8M1813.9 580.8L1863.1 546.6M1775.3 443.9L1776.8 532.1M1776.8 532.1L1719.3 560.1M1776.8 532.1L1863.1 546.6" stroke="#4A4A4A" stroke-width="0.9" fill="none" stroke-opacity="0.85"/><path d="M1715.5 461.3 L1775.3 443.9 L1866 453.1 L1863.1 546.6 L1813.9 580.8 L1719.3 560.1Z" fill="#6A74E0" fill-opacity="0.8" filter="url(#mt1)"/><path d="M1715.5 461.3L1775.3 443.9M1775.3 443.9L1866 453.1M1866 453.1L1814.8 473.6M1814.8 473.6L1715.5 461.3M1715.5 461.3L1719.3 560.1M1814.8 473.6L1813.9 580.8M1866 453.1L1863.1 546.6M1719.3 560.1L1813.9 580.8M1813.9 580.8L1863.1 546.6M1775.3 443.9L1776.8 532.1M1776.8 532.1L1719.3 560.1M1776.8 532.1L1863.1 546.6" stroke="#5A5A5A" stroke-width="0.8" fill="none" stroke-opacity="0.7"/><g filter="url(#cf3)"><path d="M1430.1 610.4 L1489.9 593 L1580.6 602.2 L1577.7 695.7 L1528.5 729.9 L1433.9 709.2Z" fill="url(#cg3)"/><path d="M1430.1 610.4 L1489.9 593 L1580.6 602.2 L1529.4 622.7Z" fill="#D83838" fill-opacity="0.1"/></g><path d="M1430.1 610.4L1489.9 593M1489.9 593L1580.6 602.2M1580.6 602.2L1529.4 622.7M1529.4 622.7L1430.1 610.4M1430.1 610.4L1433.9 709.2M1529.4 622.7L1528.5 729.9M1580.6 602.2L1577.7 695.7M1433.9 709.2L1528.5 729.9M1528.5 729.9L1577.7 695.7M1489.9 593L1491.4 681.2M1491.4 681.2L1433.9 709.2M1491.4 681.2L1577.7 695.7" stroke="#4A4A4A" stroke-width="0.9" fill="none" stroke-opacity="0.85"/><g filter="url(#cf4)"><path d="M1716 606.9 L1775.8 589.5 L1866.5 598.7 L1863.6 692.2 L1814.4 726.4 L1719.8 705.7Z" fill="url(#cg4)"/></g><path d="M1716 606.9L1775.8 589.5M1775.8 589.5L1866.5 598.7M1866.5 598.7L1815.3 619.2M1815.3 619.2L1716 606.9M1716 606.9L1719.8 705.7M1815.3 619.2L1814.4 726.4M1866.5 598.7L1863.6 692.2M1719.8 705.7L1814.4 726.4M1814.4 726.4L1863.6 692.2M1775.8 589.5L1777.3 677.7M1777.3 677.7L1719.8 705.7M1777.3 677.7L1863.6 692.2" stroke="#4A4A4A" stroke-width="0.9" fill="none" stroke-opacity="0.85"/><g filter="url(#cf5)"><path d="M1430 758.6 L1489.8 741.2 L1580.5 750.4 L1577.6 843.9 L1528.4 878.1 L1433.8 857.4Z" fill="url(#cg5)"/><path d="M1430 758.6 L1489.8 741.2 L1580.5 750.4 L1529.3 770.9Z" fill="#4A90D0" fill-opacity="0.08"/></g><path d="M1430 758.6L1489.8 741.2M1489.8 741.2L1580.5 750.4M1580.5 750.4L1529.3 770.9M1529.3 770.9L1430 758.6M1430 758.6L1433.8 857.4M1529.3 770.9L1528.4 878.1M1580.5 750.4L1577.6 843.9M1433.8 857.4L1528.4 878.1M1528.4 878.1L1577.6 843.9M1489.8 741.2L1491.3 829.4M1491.3 829.4L1433.8 857.4M1491.3 829.4L1577.6 843.9" stroke="#4A4A4A" stroke-width="0.9" fill="none" stroke-opacity="0.85"/><g filter="url(#cf6)"><path d="M1716 755.1 L1775.8 737.7 L1866.5 746.9 L1863.6 840.4 L1814.4 874.6 L1719.8 853.9Z" fill="url(#cg6)"/></g><path d="M1716 755.1L1775.8 737.7M1775.8 737.7L1866.5 746.9M1866.5 746.9L1815.3 767.4M1815.3 767.4L1716 755.1M1716 755.1L1719.8 853.9M1815.3 767.4L1814.4 874.6M1866.5 746.9L1863.6 840.4M1719.8 853.9L1814.4 874.6M1814.4 874.6L1863.6 840.4M1775.8 737.7L1777.3 825.9M1777.3 825.9L1719.8 853.9M1777.3 825.9L1863.6 840.4" stroke="#4A4A4A" stroke-width="0.9" fill="none" stroke-opacity="0.85"/><path d="M1716 755.1 L1775.8 737.7 L1866.5 746.9 L1863.6 840.4 L1814.4 874.6 L1719.8 853.9Z" fill="#22507E" fill-opacity="0.55" filter="url(#mt2)"/><path d="M1716 755.1L1775.8 737.7M1775.8 737.7L1866.5 746.9M1866.5 746.9L1815.3 767.4M1815.3 767.4L1716 755.1M1716 755.1L1719.8 853.9M1815.3 767.4L1814.4 874.6M1866.5 746.9L1863.6 840.4M1719.8 853.9L1814.4 874.6M1814.4 874.6L1863.6 840.4M1775.8 737.7L1777.3 825.9M1777.3 825.9L1719.8 853.9M1777.3 825.9L1863.6 840.4" stroke="#5A5A5A" stroke-width="0.8" fill="none" stroke-opacity="0.7"/><g filter="url(#cf7)"><path d="M1429 909.5 L1488.8 892.1 L1579.5 901.3 L1576.6 994.8 L1527.4 1029 L1432.8 1008.3Z" fill="url(#cg7)"/><path d="M1429 909.5 L1488.8 892.1 L1579.5 901.3 L1528.3 921.8Z" fill="#7070B0" fill-opacity="0.6"/></g><path d="M1429 909.5L1488.8 892.1M1488.8 892.1L1579.5 901.3M1579.5 901.3L1528.3 921.8M1528.3 921.8L1429 909.5M1429 909.5L1432.8 1008.3M1528.3 921.8L1527.4 1029M1579.5 901.3L1576.6 994.8M1432.8 1008.3L1527.4 1029M1527.4 1029L1576.6 994.8M1488.8 892.1L1490.3 980.3M1490.3 980.3L1432.8 1008.3M1490.3 980.3L1576.6 994.8" stroke="#4A4A4A" stroke-width="0.9" fill="none" stroke-opacity="0.85"/><g filter="url(#cf8)"><path d="M1715 905.8 L1774.8 888.4 L1865.5 897.6 L1862.6 991.1 L1813.4 1025.3 L1718.8 1004.6Z" fill="url(#cg8)"/></g><path d="M1715 905.8L1774.8 888.4M1774.8 888.4L1865.5 897.6M1865.5 897.6L1814.3 918.1M1814.3 918.1L1715 905.8M1715 905.8L1718.8 1004.6M1814.3 918.1L1813.4 1025.3M1865.5 897.6L1862.6 991.1M1718.8 1004.6L1813.4 1025.3M1813.4 1025.3L1862.6 991.1M1774.8 888.4L1776.3 976.6M1776.3 976.6L1718.8 1004.6M1776.3 976.6L1862.6 991.1" stroke="#4A4A4A" stroke-width="0.9" fill="none" stroke-opacity="0.85"/><path d="M1715 905.8 L1774.8 888.4 L1865.5 897.6 L1862.6 991.1 L1813.4 1025.3 L1718.8 1004.6Z" fill="#4E4E8E" fill-opacity="0.5" filter="url(#mt3)"/><path d="M1715 905.8L1774.8 888.4M1774.8 888.4L1865.5 897.6M1865.5 897.6L1814.3 918.1M1814.3 918.1L1715 905.8M1715 905.8L1718.8 1004.6M1814.3 918.1L1813.4 1025.3M1865.5 897.6L1862.6 991.1M1718.8 1004.6L1813.4 1025.3M1813.4 1025.3L1862.6 991.1M1774.8 888.4L1776.3 976.6M1776.3 976.6L1718.8 1004.6M1776.3 976.6L1862.6 991.1" stroke="#5A5A5A" stroke-width="0.8" fill="none" stroke-opacity="0.7"/><text x="1641.3" y="509.8" font-family="'Liberation Serif', 'Times New Roman', serif" font-size="25.0" font-weight="bold" fill="#E8711E" text-anchor="middle" >CN<tspan font-size="15" dy="-8">-</tspan></text><text x="1641.3" y="654" font-family="'Liberation Serif', 'Times New Roman', serif" font-size="25.0" font-weight="bold" fill="#E8711E" text-anchor="middle" >C<tspan font-size="15" dy="6">2</tspan><tspan dy="-6">N</tspan><tspan font-size="15" dy="-8">-</tspan></text><text x="1651.3" y="862" font-family="'Liberation Serif', 'Times New Roman', serif" font-size="24.5" font-weight="bold" fill="#E8711E" text-anchor="middle" >CH<tspan font-size="15" dy="6">3</tspan><tspan dy="-6">OCO</tspan><tspan font-size="15" dy="6">2</tspan><tspan font-size="15" dy="-14">-</tspan></text><text x="1648.4" y="997.5" font-family="'Liberation Serif', 'Times New Roman', serif" font-size="25.0" font-weight="bold" fill="#E8711E" text-anchor="middle" >NaF<tspan font-size="15" dy="6">2</tspan><tspan font-size="15" dy="-14">-</tspan></text><path d="M1620.9 727.5 L1630 720.5 L1630 725 L1660.7 725 L1660.7 720.5 L1669.8 727.5 L1660.7 734.5 L1660.7 730 L1630 730 L1630 734.5 Z" fill="#E8711E"/><text x="1388.1" y="733.7" font-family="'Liberation Serif', 'Times New Roman', serif" font-size="23.6" font-weight="bold" fill="#E8711E" text-anchor="middle" transform="rotate(-90 1388.1 733.7)">Adding conventional liquid electrolyte</text><text x="1896.5" y="735.4" font-family="'Liberation Serif', 'Times New Roman', serif" font-size="23.8" font-weight="bold" fill="#E8711E" text-anchor="middle" transform="rotate(90 1896.5 735.4)">Optimized by electroinitiated accelerated polymerization</text><text x="1344" y="463.5" font-family="'Liberation Serif', 'Times New Roman', serif" font-size="58" font-weight="bold" fill="#000" text-anchor="start" >f</text>
</svg>
</body></html>
